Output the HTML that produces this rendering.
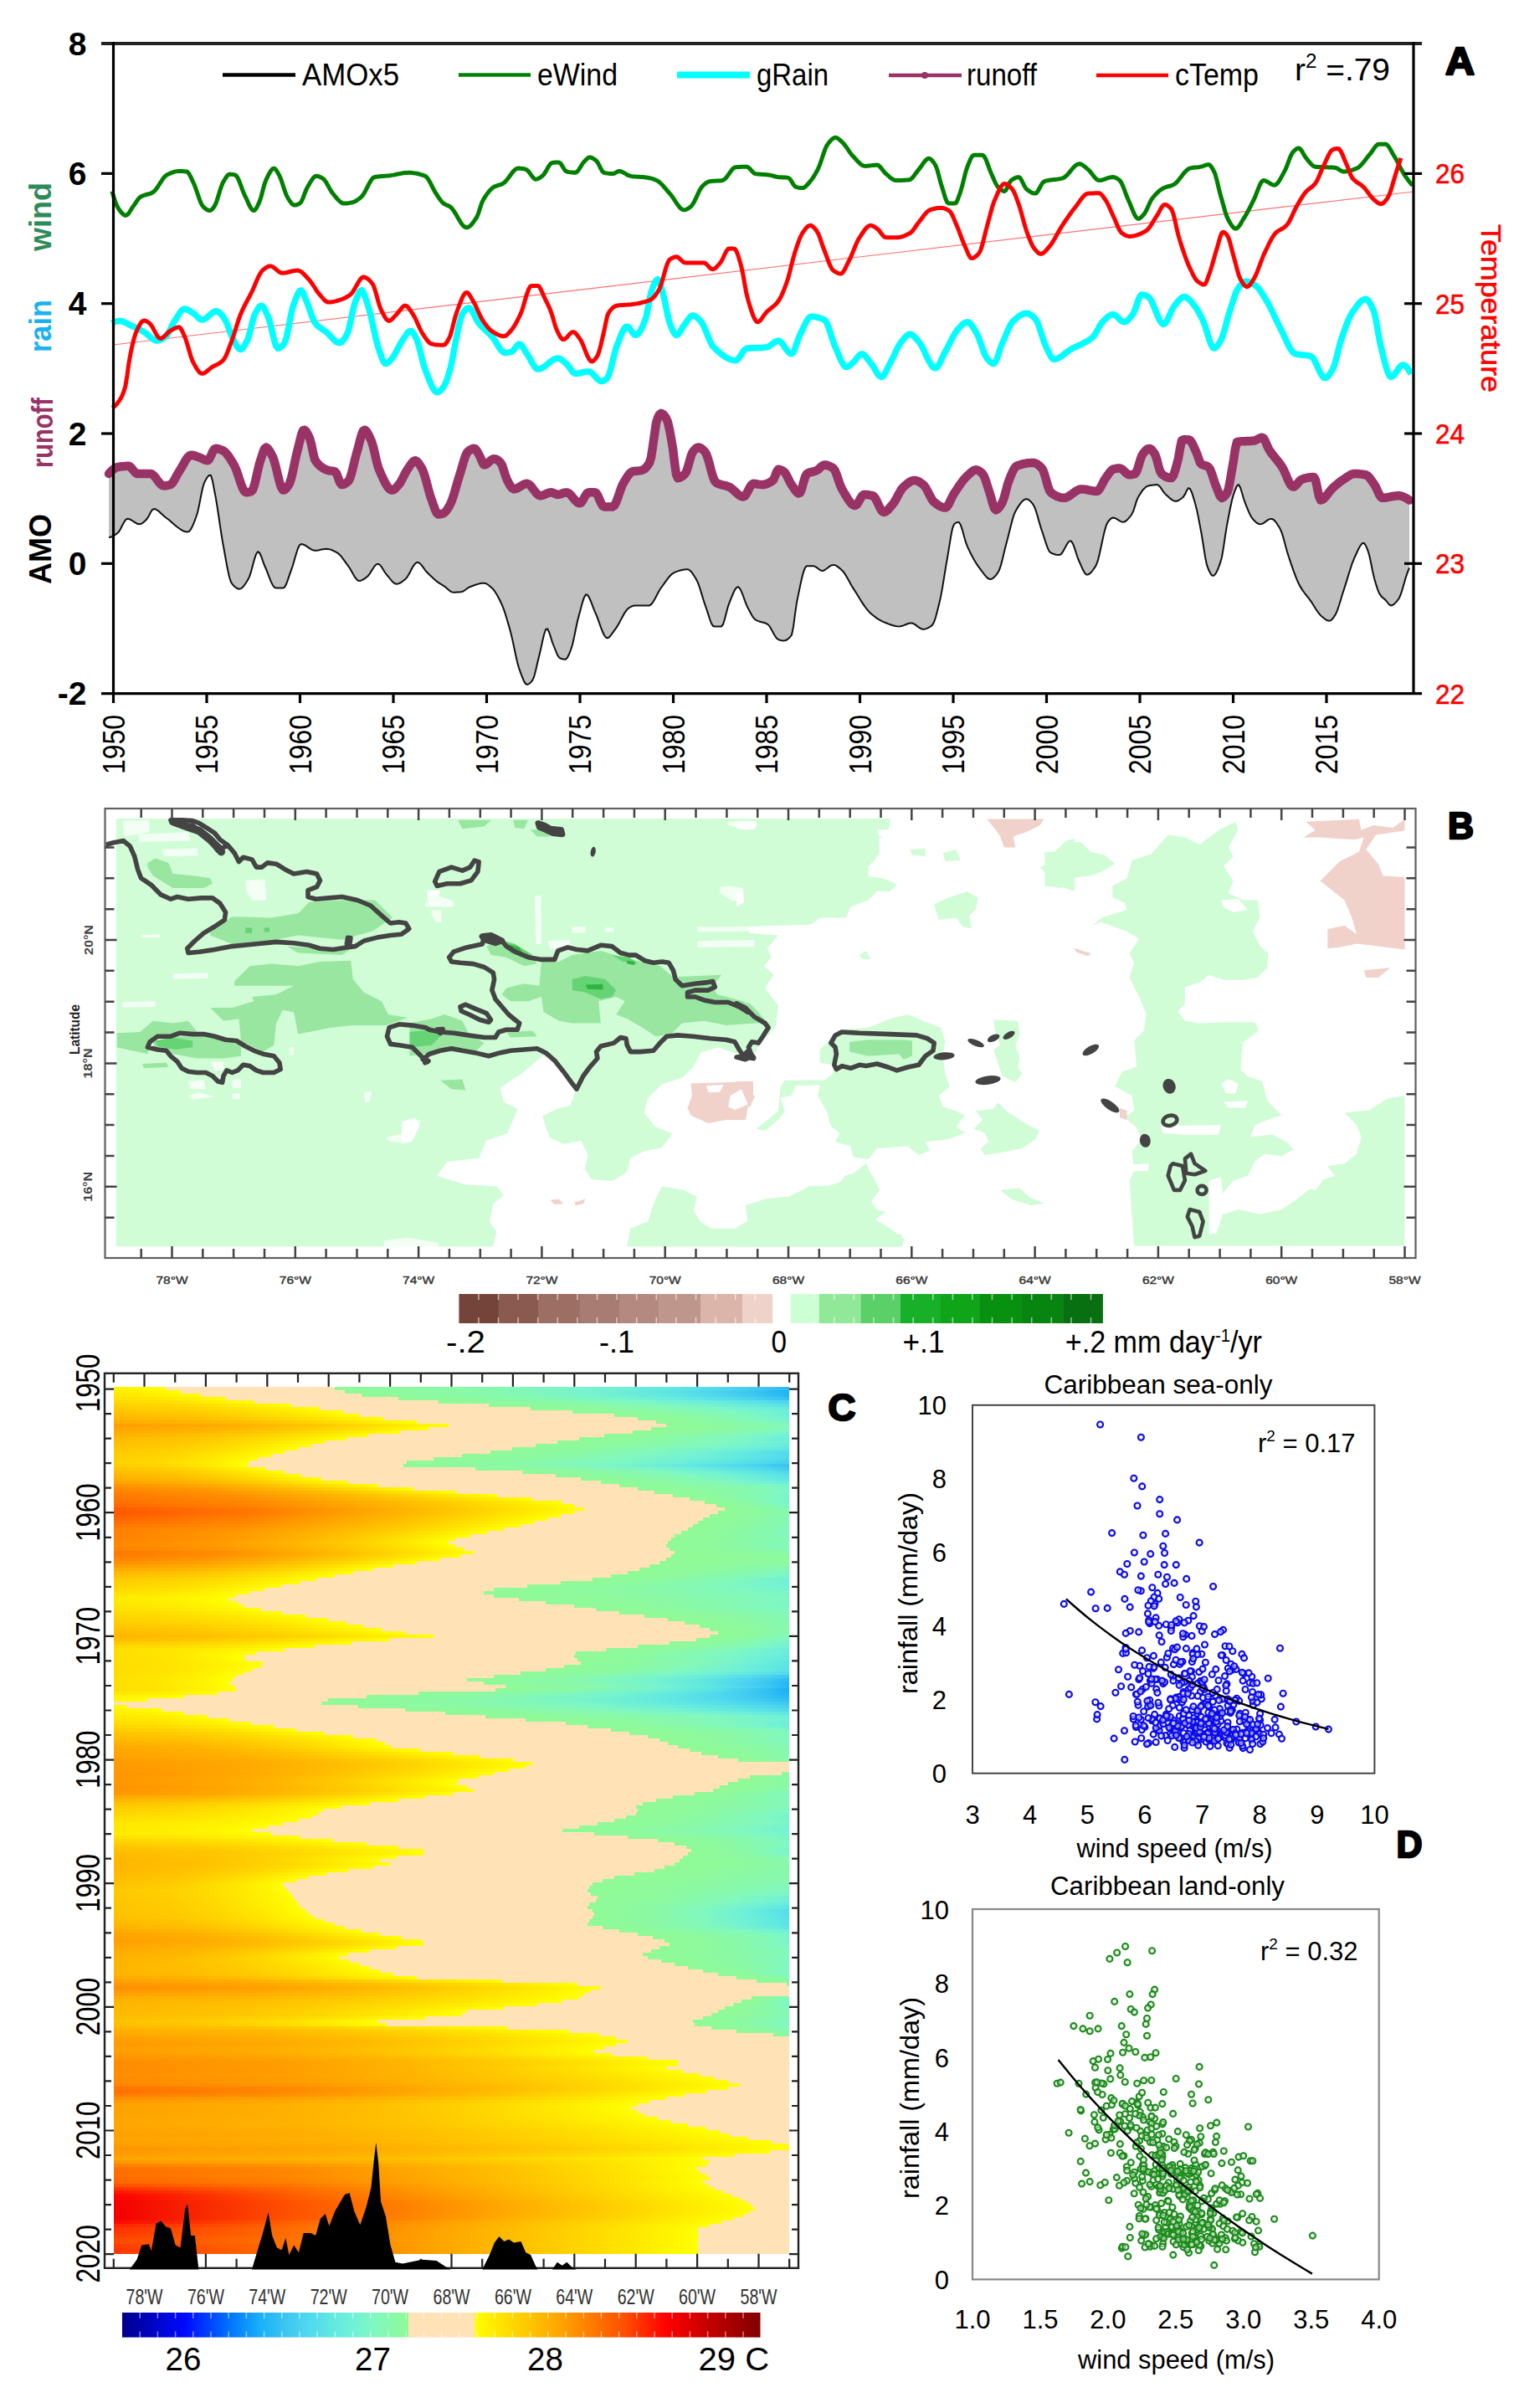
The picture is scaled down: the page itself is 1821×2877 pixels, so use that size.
<!DOCTYPE html>
<html><head><meta charset="utf-8"><title>Figure</title>
<style>html,body{margin:0;padding:0;background:#fff}svg{display:block}text{font-family:'Liberation Sans', Arial, sans-serif}</style></head>
<body><svg width="1821" height="2877" viewBox="0 0 1821 2877">
<rect width="1821" height="2877" fill="#fff"/>
<path d="M130 566 L132 563.9 L134 562 L136 560.3 L138 559 L140 558.2 L142 557.8 L144 557.5 L146 557.3 L148 557.1 L150 556.9 L152 556.8 L154 556.8 L156 558 L158 560.3 L160 562.8 L162 565 L164 566 L166 566 L168 566 L170 566 L172 566 L174 566 L176 566 L178 566 L180 566 L182 566.7 L184 568.4 L186 570.8 L188 573.6 L190 576.2 L192 578.5 L194 580 L196 580.4 L198 580.3 L200 580 L202 579.5 L204 578.9 L206 577.1 L208 574 L210 570.4 L212 566.6 L214 563.3 L216 560.2 L218 556.7 L220 553 L222 549.6 L224 546.7 L226 544.7 L228 543.7 L230 543.8 L232 544.3 L234 545 L236 545.7 L238 546.4 L240 547.3 L242 548.3 L244 549.2 L246 549.9 L248 550.2 L250 548.7 L252 544.7 L254 540 L256 536.6 L258 535.8 L260 536.1 L262 536.6 L264 537.4 L266 538.2 L268 539.3 L270 541.2 L272 543.6 L274 546.4 L276 549.5 L278 552.8 L280 556.2 L282 560.6 L284 566.3 L286 572.4 L288 578.3 L290 583.4 L292 586.9 L294 588.3 L296 588.2 L298 587.8 L300 587.2 L302 585.3 L304 579.5 L306 571.2 L308 562.1 L310 553.8 L312 547.6 L314 541.2 L316 536.1 L318 534.5 L320 535.8 L322 538.6 L324 542.1 L326 545.9 L328 551.7 L330 559.4 L332 567.9 L334 575.8 L336 582.1 L338 585.4 L340 585.3 L342 583.6 L344 580.9 L346 577.6 L348 571.5 L350 563 L352 553.4 L354 544 L356 536.1 L358 527.9 L360 519.8 L362 514.4 L364 513.8 L366 515.8 L368 519.4 L370 523.6 L372 530.6 L374 540.6 L376 548.7 L378 551.9 L380 554.3 L382 556.3 L384 557.9 L386 559.3 L388 560.4 L390 561.3 L392 561.9 L394 562.4 L396 562.6 L398 562.8 L400 563.3 L402 565.5 L404 570.7 L406 576.2 L408 579.1 L410 578.9 L412 578 L414 576.8 L416 575.2 L418 571.9 L420 565.7 L422 557.8 L424 549.4 L426 541.7 L428 534.7 L430 526.7 L432 519.4 L434 514.5 L436 513.7 L438 515.5 L440 518.8 L442 523 L444 527.4 L446 534 L448 542.5 L450 551.2 L452 558.5 L454 563.4 L456 568 L458 572.4 L460 576.4 L462 579.9 L464 582.7 L466 584.7 L468 585.6 L470 585.3 L472 584 L474 581.9 L476 579.6 L478 577.1 L480 573.6 L482 569.7 L484 565.7 L486 562.2 L488 559.2 L490 556.2 L492 553.3 L494 551.2 L496 550.2 L498 551 L500 553.1 L502 556.1 L504 559.4 L506 563.9 L508 570.1 L510 577.4 L512 585 L514 592.1 L516 597.9 L518 603.6 L520 609.1 L522 613.2 L524 614.5 L526 614.3 L528 613.9 L530 613.2 L532 611.8 L534 609.3 L536 606.1 L538 602.5 L540 597.9 L542 592 L544 585.3 L546 578.2 L548 571.3 L550 565 L552 558.3 L554 551.3 L556 545.1 L558 540.8 L560 538.8 L562 537.4 L564 536.4 L566 535.8 L568 536.4 L570 539 L572 542.6 L574 546.4 L576 551.5 L578 555.2 L580 555.2 L582 554 L584 552.2 L586 550.4 L588 548.9 L590 548.2 L592 548.4 L594 549.3 L596 550.8 L598 552.6 L600 556 L602 562 L604 568.5 L606 573.6 L608 577.3 L610 580.8 L612 583.4 L614 584.4 L616 584.1 L618 583.3 L620 582.2 L622 581 L624 579.8 L626 578.7 L628 578 L630 577.8 L632 578.6 L634 580.4 L636 582.8 L638 585.5 L640 588.2 L642 590.4 L644 591.9 L646 592.2 L648 591.9 L650 591.2 L652 590.3 L654 589.4 L656 588.7 L658 588.3 L660 588.5 L662 589.3 L664 590.3 L666 590.9 L668 590.8 L670 590.2 L672 589.5 L674 588.8 L676 588.4 L678 588.5 L680 589.6 L682 591.4 L684 593.8 L686 596.3 L688 598.6 L690 600.4 L692 601.3 L694 600.9 L696 598.4 L698 594.8 L700 591.3 L702 588.8 L704 588.3 L706 588.3 L708 588.3 L710 588.3 L712 588.6 L714 591.5 L716 596 L718 600.7 L720 604.3 L722 605.4 L724 605.4 L726 605.4 L728 605.4 L730 605.4 L732 605.4 L734 604.1 L736 600.5 L738 595.4 L740 589.5 L742 583.7 L744 578.8 L746 575.2 L748 572 L750 568.8 L752 566.1 L754 564.2 L756 563.3 L758 563 L760 562.8 L762 562.6 L764 562.4 L766 562.1 L768 561.4 L770 560.3 L772 558.5 L774 556 L776 552.9 L778 546.6 L780 533.5 L782 519.4 L784 505.4 L786 499.2 L788 495.2 L790 493.8 L792 494.7 L794 496.8 L796 499.7 L798 504.6 L800 513.4 L802 524.1 L804 535.9 L806 552.4 L808 566.9 L810 571.2 L812 570.8 L814 569.8 L816 568.4 L818 566.7 L820 563.9 L822 557.9 L824 550.6 L826 543.8 L828 539.6 L830 537.3 L832 535.5 L834 534.5 L836 534.8 L838 535.8 L840 537.4 L842 539.4 L844 542.5 L846 548.2 L848 555.4 L850 562.9 L852 569.7 L854 574.7 L856 576.8 L858 577.8 L860 578.5 L862 579.1 L864 579.6 L866 580 L868 580.6 L870 581.2 L872 582.1 L874 583.5 L876 585.1 L878 587 L880 588.8 L882 590.6 L884 592.1 L886 593.1 L888 593.5 L890 592.6 L892 589.8 L894 586 L896 582.1 L898 579.1 L900 577.8 L902 577.9 L904 578.2 L906 578.6 L908 578.9 L910 579.1 L912 579 L914 578.7 L916 578.1 L918 577.3 L920 576.3 L922 575 L924 573.6 L926 569.2 L928 563.5 L930 560.7 L932 561.1 L934 561.9 L936 563 L938 564.8 L940 568.1 L942 572.1 L944 576.2 L946 579.5 L948 582.5 L950 585.5 L952 588 L954 589.4 L956 588.8 L958 583.9 L960 576.7 L962 569.9 L964 566.1 L966 565 L968 564.3 L970 563.8 L972 563.3 L974 562.8 L976 562 L978 560.6 L980 558.7 L982 556.9 L984 555.7 L986 555.5 L988 555.8 L990 556.5 L992 557.3 L994 558.4 L996 559.7 L998 562.9 L1000 568 L1002 574 L1004 579.7 L1006 584.2 L1008 587.6 L1010 591 L1012 594.4 L1014 597.5 L1016 600.2 L1018 602.3 L1020 603.6 L1022 604 L1024 602.6 L1026 599.5 L1028 595.8 L1030 592.6 L1032 591 L1034 591 L1036 591.1 L1038 591.3 L1040 591.7 L1042 592 L1044 592.9 L1046 595.5 L1048 599.3 L1050 603.7 L1052 607.8 L1054 610.8 L1056 611.9 L1058 611.4 L1060 610 L1062 608 L1064 605.6 L1066 603.3 L1068 600.8 L1070 597.5 L1072 593.8 L1074 590 L1076 586.5 L1078 583.5 L1080 581.4 L1082 579.6 L1084 578 L1086 576.5 L1088 575.2 L1090 574.3 L1092 573.9 L1094 574 L1096 574.5 L1098 575.5 L1100 576.8 L1102 578.2 L1104 579.8 L1106 582.5 L1108 586 L1110 590 L1112 593.9 L1114 597.4 L1116 599.8 L1118 601.3 L1120 602.8 L1122 604.1 L1124 605.2 L1126 606 L1128 606.5 L1130 606.6 L1132 604.9 L1134 601.5 L1136 597.4 L1138 593.1 L1140 589.6 L1142 586.6 L1144 583.6 L1146 580.6 L1148 577.8 L1150 575 L1152 572.5 L1154 570.3 L1156 568.4 L1158 566.5 L1160 564.6 L1162 563 L1164 561.8 L1166 561.3 L1168 561.6 L1170 562.6 L1172 564.1 L1174 565.9 L1176 569.2 L1178 574.6 L1180 581 L1182 587.1 L1184 593.7 L1186 601.2 L1188 607.1 L1190 609.3 L1192 608.3 L1194 606.1 L1196 603 L1198 599.6 L1200 593.9 L1202 586.3 L1204 578.6 L1206 572.9 L1208 568 L1210 563.4 L1212 559.7 L1214 557.3 L1216 556.3 L1218 555.6 L1220 555 L1222 554.4 L1224 554 L1226 553.6 L1228 553.3 L1230 553.1 L1232 552.9 L1234 552.9 L1236 553 L1238 553.8 L1240 555 L1242 556.6 L1244 558.5 L1246 561 L1248 566.4 L1250 573.4 L1252 580.6 L1254 586.1 L1256 588.7 L1258 590.1 L1260 591.4 L1262 592.5 L1264 593.4 L1266 594.1 L1268 594.5 L1270 594.8 L1272 594.8 L1274 594.3 L1276 593.5 L1278 592.3 L1280 590.9 L1282 589.4 L1284 587.9 L1286 586.6 L1288 585.5 L1290 584.7 L1292 584.4 L1294 584.4 L1296 584.6 L1298 585 L1300 585.4 L1302 585.8 L1304 586.2 L1306 586.6 L1308 586.8 L1310 587 L1312 586.4 L1314 584 L1316 580.5 L1318 576.5 L1320 572.8 L1322 570 L1324 567 L1326 564.2 L1328 562 L1330 560.7 L1332 560.2 L1334 559.8 L1336 559.5 L1338 559.4 L1340 560.1 L1342 561.6 L1344 563.6 L1346 565.5 L1348 566.9 L1350 567.3 L1352 567.1 L1354 566.7 L1356 566.1 L1358 563.7 L1360 558 L1362 551.2 L1364 545.1 L1366 541.7 L1368 539.3 L1370 537.3 L1372 536.1 L1374 535.9 L1376 537.2 L1378 539.7 L1380 542.6 L1382 547.9 L1384 555.6 L1386 562.6 L1388 566.2 L1390 567.7 L1392 569 L1394 570 L1396 570.7 L1398 571.1 L1400 571.1 L1402 568.2 L1404 562.5 L1406 555.4 L1408 547.8 L1410 535.8 L1412 526.2 L1414 525.3 L1416 525.3 L1418 525.3 L1420 525.3 L1422 526 L1424 528.6 L1426 532.6 L1428 537.2 L1430 541.6 L1432 547.3 L1434 552.8 L1436 554.9 L1438 555.7 L1440 556.3 L1442 556.9 L1444 558 L1446 560.8 L1448 565.9 L1450 572.1 L1452 578.3 L1454 583.2 L1456 588.5 L1458 593 L1460 594.9 L1462 594 L1464 592 L1466 589.1 L1468 583.7 L1470 573.3 L1472 561.3 L1474 549.8 L1476 536.3 L1478 528.1 L1480 527.7 L1482 527.5 L1484 527.3 L1486 527.2 L1488 527.2 L1490 527.1 L1492 527.1 L1494 527 L1496 526.8 L1498 526.6 L1500 526.1 L1502 525.1 L1504 524.1 L1506 523.2 L1508 522.7 L1510 523.7 L1512 527.4 L1514 532.2 L1516 536.5 L1518 539.6 L1520 542.4 L1522 544.9 L1524 547.4 L1526 549.9 L1528 552.4 L1530 555 L1532 558 L1534 561.6 L1536 566.1 L1538 570.9 L1540 575.4 L1542 579.1 L1544 581.3 L1546 581.6 L1548 580.3 L1550 578.1 L1552 575.7 L1554 573.6 L1556 572.5 L1558 571.9 L1560 571.3 L1562 570.9 L1564 570.5 L1566 570.2 L1568 570 L1570 569.9 L1572 573.7 L1574 583.2 L1576 592.9 L1578 597.5 L1580 597 L1582 595.5 L1584 593.4 L1586 590.9 L1588 588.2 L1590 585.7 L1592 583.5 L1594 581.7 L1596 579.9 L1598 578.2 L1600 576.6 L1602 575 L1604 573.6 L1606 572.3 L1608 571 L1610 569.6 L1612 568.3 L1614 567.2 L1616 566.4 L1618 566 L1620 566 L1622 566.1 L1624 566.2 L1626 566.4 L1628 566.7 L1630 567 L1632 567.3 L1634 568.4 L1636 570.3 L1638 572.9 L1640 575.8 L1642 578.6 L1644 582 L1646 586.4 L1648 590.8 L1650 594 L1652 594.9 L1654 594.7 L1656 594.5 L1658 594.2 L1660 593.8 L1662 593.4 L1664 593 L1666 592.7 L1668 592.4 L1670 592.3 L1672 592.3 L1674 592.6 L1676 593.2 L1678 594 L1680 595.1 L1682 596.3 L1684 597.6 L1684 678.5 L1682 683.3 L1680 689.1 L1678 696 L1676 703.1 L1674 709.5 L1672 714.3 L1670 717.2 L1668 719.6 L1666 721.6 L1664 723 L1662 723.5 L1660 722.4 L1658 720 L1656 717.5 L1654 715.6 L1652 713.9 L1650 711.8 L1648 708.8 L1646 703.8 L1644 697.6 L1642 690.8 L1640 682 L1638 672 L1636 662.8 L1634 656.7 L1632 652 L1630 649 L1628 649 L1626 651.1 L1624 654.4 L1622 658.5 L1620 663 L1618 667.3 L1616 672.3 L1614 678.2 L1612 684.5 L1610 691.1 L1608 697.6 L1606 703.9 L1604 710 L1602 716.7 L1600 723.2 L1598 729.1 L1596 733.8 L1594 736.8 L1592 739.5 L1590 741.4 L1588 741.8 L1586 741.3 L1584 740.2 L1582 738.7 L1580 737.1 L1578 735.4 L1576 733 L1574 730.2 L1572 727.2 L1570 724 L1568 720.8 L1566 717.9 L1564 715.2 L1562 712.7 L1560 710.2 L1558 707.5 L1556 704.6 L1554 701.4 L1552 697.7 L1550 693.4 L1548 688.4 L1546 683.1 L1544 677.4 L1542 671.6 L1540 665.8 L1538 659.3 L1536 651.9 L1534 644.4 L1532 637.7 L1530 632.6 L1528 629.1 L1526 626 L1524 623.2 L1522 621.1 L1520 620 L1518 619.9 L1516 620.6 L1514 621.9 L1512 623.4 L1510 624.8 L1508 625.9 L1506 626.3 L1504 626 L1502 624.9 L1500 623.2 L1498 621.2 L1496 619 L1494 615.6 L1492 611.3 L1490 606.4 L1488 601.4 L1486 595.8 L1484 588.8 L1482 582.5 L1480 579.2 L1478 580.5 L1476 585.1 L1474 590.6 L1472 597.8 L1470 607 L1468 617.2 L1466 627.6 L1464 640.2 L1462 653.8 L1460 665.5 L1458 672.7 L1456 678.1 L1454 682.8 L1452 686.2 L1450 687.9 L1448 687.4 L1446 684.5 L1444 680.3 L1442 674.9 L1440 665.1 L1438 652.5 L1436 639.9 L1434 629.1 L1432 618.5 L1430 608.9 L1428 601.3 L1426 594.4 L1424 588.2 L1422 584.1 L1420 583.2 L1418 586 L1416 590.4 L1414 593.5 L1412 595.2 L1410 596.8 L1408 598 L1406 598.7 L1404 598.7 L1402 598.1 L1400 596.9 L1398 595.4 L1396 593.6 L1394 591.8 L1392 589.9 L1390 587.3 L1388 584.3 L1386 581.5 L1384 579.6 L1382 579.1 L1380 579.2 L1378 579.4 L1376 579.7 L1374 580 L1372 580.4 L1370 581.3 L1368 582.9 L1366 585 L1364 587.7 L1362 590.7 L1360 593.9 L1358 598.7 L1356 605.1 L1354 611.1 L1352 615 L1350 617.6 L1348 619.9 L1346 621.9 L1344 623.2 L1342 623.7 L1340 623.4 L1338 622.4 L1336 621.2 L1334 619.9 L1332 618.9 L1330 618.5 L1328 619.2 L1326 621 L1324 623.4 L1322 627.1 L1320 633.8 L1318 642.4 L1316 651.8 L1314 661 L1312 669.1 L1310 674.9 L1308 678.1 L1306 681 L1304 683.5 L1302 685.4 L1300 686.5 L1298 686.5 L1296 684.5 L1294 680.8 L1292 676.3 L1290 671.8 L1288 667.2 L1286 661.2 L1284 654.9 L1282 649.6 L1280 646.4 L1278 646.4 L1276 648.4 L1274 651.7 L1272 655.6 L1270 659.2 L1268 662 L1266 663.1 L1264 663 L1262 662.7 L1260 662.2 L1258 661.5 L1256 660.7 L1254 659.1 L1252 655.2 L1250 649.7 L1248 643.5 L1246 637.2 L1244 631.4 L1242 624.7 L1240 617.6 L1238 610.9 L1236 605.5 L1234 602.1 L1232 599.7 L1230 597.7 L1228 596.5 L1226 596.2 L1224 596.9 L1222 598.4 L1220 600.6 L1218 603.3 L1216 606.4 L1214 609.7 L1212 613.8 L1210 619.9 L1208 627.5 L1206 635.6 L1204 643.6 L1202 650.9 L1200 659 L1198 667.4 L1196 675.1 L1194 681.1 L1192 684.7 L1190 687.3 L1188 689.5 L1186 691.1 L1184 691.9 L1182 691.7 L1180 690.6 L1178 688.6 L1176 686.2 L1174 683.5 L1172 680.8 L1170 678.2 L1168 675.4 L1166 672.3 L1164 668.9 L1162 665.3 L1160 661.5 L1158 657.4 L1156 653.2 L1154 647.9 L1152 640.9 L1150 633.6 L1148 627.5 L1146 624.1 L1144 623.9 L1142 624.8 L1140 626.3 L1138 631.5 L1136 641.9 L1134 654.4 L1132 666.3 L1130 677.8 L1128 690.3 L1126 702.6 L1124 713.4 L1122 722 L1120 730.1 L1118 737.5 L1116 743.3 L1114 746.8 L1112 748.4 L1110 749.7 L1108 750.7 L1106 751.4 L1104 751.8 L1102 751.7 L1100 750.9 L1098 749.6 L1096 748.1 L1094 746.6 L1092 745.4 L1090 744.6 L1088 744.5 L1086 744.8 L1084 745.5 L1082 746.3 L1080 747.1 L1078 747.8 L1076 748.3 L1074 748.4 L1072 748.3 L1070 748 L1068 747.5 L1066 747 L1064 746.3 L1062 745.6 L1060 744.8 L1058 744 L1056 743.2 L1054 742.3 L1052 741.2 L1050 740.1 L1048 738.8 L1046 737.4 L1044 735.8 L1042 734.2 L1040 732.4 L1038 730.4 L1036 728.1 L1034 725.5 L1032 722.6 L1030 719.6 L1028 716.5 L1026 713.2 L1024 710 L1022 706.8 L1020 703.6 L1018 700.5 L1016 697 L1014 693.3 L1012 689.7 L1010 686.4 L1008 683.5 L1006 681.4 L1004 679.6 L1002 677.9 L1000 676.4 L998 675.4 L996 674.9 L994 675.2 L992 676.2 L990 677.7 L988 679.3 L986 680.7 L984 681.7 L982 682 L980 681.2 L978 679.7 L976 678.1 L974 676.8 L972 676.2 L970 676.2 L968 676.2 L966 676.2 L964 676.2 L962 678.3 L960 683.6 L958 691.3 L956 700.4 L954 710.1 L952 719.8 L950 733.6 L948 748.9 L946 758.5 L944 761.1 L942 763 L940 764.5 L938 765.3 L936 765.4 L934 765.2 L932 764.8 L930 764.1 L928 762.6 L926 759.8 L924 756.2 L922 752.4 L920 749 L918 746.4 L916 745.2 L914 744.3 L912 743.7 L910 743.2 L908 742.7 L906 742.1 L904 741.2 L902 740 L900 737.7 L898 734.5 L896 730.7 L894 727 L892 722.9 L890 717.7 L888 712 L886 706.9 L884 703 L882 701.2 L880 702 L878 704.8 L876 709 L874 713.9 L872 718.9 L870 724.3 L868 731.7 L866 739.6 L864 745.9 L862 748.4 L860 748.4 L858 748.4 L856 748.4 L854 748.4 L852 748.1 L850 744.9 L848 739.5 L846 733.1 L844 727 L842 721.4 L840 715 L838 708.4 L836 702 L834 696.4 L832 692.2 L830 689 L828 685.9 L826 683.2 L824 681.2 L822 680.2 L820 680.2 L818 680.4 L816 680.7 L814 681.2 L812 681.7 L810 682.4 L808 683.1 L806 683.9 L804 685 L802 686.6 L800 688.7 L798 691.2 L796 693.9 L794 696.7 L792 699.5 L790 702.3 L788 705.2 L786 708.8 L784 712.7 L782 716.4 L780 719.7 L778 722.2 L776 723.4 L774 723.5 L772 723.5 L770 723.5 L768 723.5 L766 723.5 L764 723.5 L762 723.5 L760 723.5 L758 723.5 L756 723.9 L754 724.8 L752 726 L750 727.5 L748 729.9 L746 732.9 L744 736.4 L742 740.1 L740 743.9 L738 747.4 L736 750.6 L734 753.3 L732 756.1 L730 758.9 L728 761.1 L726 762.3 L724 761.6 L722 759 L720 754.8 L718 749.7 L716 744 L714 738.4 L712 733.3 L710 728.9 L708 723.7 L706 718.5 L704 714 L702 711 L700 710.5 L698 713.7 L696 719.6 L694 727 L692 734.5 L690 742.1 L688 751.5 L686 761.4 L684 770.2 L682 776.5 L680 781.5 L678 785.7 L676 787.7 L674 787.7 L672 787.3 L670 786.8 L668 785.6 L666 782.3 L664 777.5 L662 772.5 L660 767.5 L658 761 L656 754.9 L654 751.3 L652 752.3 L650 758.2 L648 766.8 L646 776.2 L644 784.5 L642 792.8 L640 801.6 L638 808.9 L636 813.1 L634 815.4 L632 817.2 L630 817.9 L628 816.9 L626 813.7 L624 809 L622 803.6 L620 798 L618 790.7 L616 781.8 L614 772.2 L612 762.9 L610 754.8 L608 747.6 L606 740.7 L604 734.1 L602 728.2 L600 723.2 L598 718.8 L596 714.7 L594 711 L592 707.7 L590 704.9 L588 702.7 L586 700.9 L584 699.2 L582 697.8 L580 696.9 L578 696.7 L576 696.8 L574 697.1 L572 697.6 L570 698.1 L568 698.8 L566 699.5 L564 700.2 L562 701 L560 701.9 L558 703.2 L556 704.7 L554 706.1 L552 707 L550 707.3 L548 707.5 L546 707.6 L544 707.7 L542 707.7 L540 707.4 L538 706.3 L536 704.8 L534 703.1 L532 701.3 L530 699.8 L528 698.6 L526 697.4 L524 696.1 L522 694.6 L520 693 L518 691.2 L516 689.3 L514 687.4 L512 685.5 L510 683.5 L508 681.1 L506 678.3 L504 675.6 L502 673.4 L500 672 L498 671.9 L496 673.4 L494 676.1 L492 679.6 L490 683.5 L488 687.1 L486 690.2 L484 692.2 L482 693.8 L480 695.3 L478 696.5 L476 697.4 L474 697.7 L472 697.3 L470 695.9 L468 693.9 L466 691.5 L464 689 L462 686.7 L460 684 L458 680.8 L456 677.5 L454 675 L452 673.7 L450 674.1 L448 675.9 L446 678.7 L444 681.9 L442 685.1 L440 687.8 L438 689.6 L436 691.1 L434 692.4 L432 693.4 L430 694 L428 693.8 L426 692.1 L424 689.4 L422 686.1 L420 682.5 L418 679 L416 676.1 L414 673.4 L412 670.6 L410 667.8 L408 665.2 L406 662.9 L404 661.1 L402 659.9 L400 658.9 L398 657.9 L396 657 L394 656.4 L392 655.9 L390 655.7 L388 655.9 L386 656.2 L384 656.6 L382 657.1 L380 657.5 L378 657.8 L376 657.8 L374 657.3 L372 656.4 L370 655.1 L368 653.8 L366 652.4 L364 651.2 L362 650.4 L360 650 L358 651.2 L356 655.2 L354 661.3 L352 668.2 L350 675.2 L348 681.1 L346 686.6 L344 692.6 L342 698.1 L340 701.7 L338 702.5 L336 702.5 L334 702.5 L332 702.5 L330 702.5 L328 701.9 L326 699.3 L324 695.4 L322 690.4 L320 685.1 L318 680 L316 675.5 L314 670.2 L312 664.5 L310 660.3 L308 659.3 L306 662.2 L304 668.1 L302 675.4 L300 682.9 L298 689.1 L296 693 L294 696.2 L292 699.2 L290 701.6 L288 703.2 L286 703.8 L284 703.3 L282 702.2 L280 700.5 L278 698.4 L276 695.5 L274 689.3 L272 680.3 L270 669.6 L268 658.3 L266 647.3 L264 635 L262 621.5 L260 608 L258 595.9 L256 585.3 L254 574.7 L252 567.9 L250 567.7 L248 569.8 L246 573 L244 576.8 L242 583.5 L240 593.2 L238 603.6 L236 612.6 L234 618.5 L232 623.8 L230 628.6 L228 632.5 L226 634.9 L224 635.5 L222 635.3 L220 634.7 L218 633.8 L216 632.6 L214 631.3 L212 629.8 L210 628.2 L208 626.5 L206 624.7 L204 623 L202 621.3 L200 619.8 L198 618.3 L196 616.7 L194 614.8 L192 612.9 L190 611.1 L188 609.5 L186 608.4 L184 608 L182 609 L180 612 L178 615.9 L176 619.4 L174 621.7 L172 623.5 L170 625.1 L168 626.1 L166 626.3 L164 625.7 L162 624.7 L160 623.4 L158 622 L156 620.9 L154 620 L152 619.8 L150 621.2 L148 624.2 L146 628 L144 632 L142 635.3 L140 637.2 L138 638.6 L136 639.9 L134 641 L132 641.8 L130 642.1Z" fill="#c0c0c0"/>
<path d="M130 642.1 L132 641.8 L134 641 L136 639.9 L138 638.6 L140 637.2 L142 635.3 L144 632 L146 628 L148 624.2 L150 621.2 L152 619.8 L154 620 L156 620.9 L158 622 L160 623.4 L162 624.7 L164 625.7 L166 626.3 L168 626.1 L170 625.1 L172 623.5 L174 621.7 L176 619.4 L178 615.9 L180 612 L182 609 L184 608 L186 608.4 L188 609.5 L190 611.1 L192 612.9 L194 614.8 L196 616.7 L198 618.3 L200 619.8 L202 621.3 L204 623 L206 624.7 L208 626.5 L210 628.2 L212 629.8 L214 631.3 L216 632.6 L218 633.8 L220 634.7 L222 635.3 L224 635.5 L226 634.9 L228 632.5 L230 628.6 L232 623.8 L234 618.5 L236 612.6 L238 603.6 L240 593.2 L242 583.5 L244 576.8 L246 573 L248 569.8 L250 567.7 L252 567.9 L254 574.7 L256 585.3 L258 595.9 L260 608 L262 621.5 L264 635 L266 647.3 L268 658.3 L270 669.6 L272 680.3 L274 689.3 L276 695.5 L278 698.4 L280 700.5 L282 702.2 L284 703.3 L286 703.8 L288 703.2 L290 701.6 L292 699.2 L294 696.2 L296 693 L298 689.1 L300 682.9 L302 675.4 L304 668.1 L306 662.2 L308 659.3 L310 660.3 L312 664.5 L314 670.2 L316 675.5 L318 680 L320 685.1 L322 690.4 L324 695.4 L326 699.3 L328 701.9 L330 702.5 L332 702.5 L334 702.5 L336 702.5 L338 702.5 L340 701.7 L342 698.1 L344 692.6 L346 686.6 L348 681.1 L350 675.2 L352 668.2 L354 661.3 L356 655.2 L358 651.2 L360 650 L362 650.4 L364 651.2 L366 652.4 L368 653.8 L370 655.1 L372 656.4 L374 657.3 L376 657.8 L378 657.8 L380 657.5 L382 657.1 L384 656.6 L386 656.2 L388 655.9 L390 655.7 L392 655.9 L394 656.4 L396 657 L398 657.9 L400 658.9 L402 659.9 L404 661.1 L406 662.9 L408 665.2 L410 667.8 L412 670.6 L414 673.4 L416 676.1 L418 679 L420 682.5 L422 686.1 L424 689.4 L426 692.1 L428 693.8 L430 694 L432 693.4 L434 692.4 L436 691.1 L438 689.6 L440 687.8 L442 685.1 L444 681.9 L446 678.7 L448 675.9 L450 674.1 L452 673.7 L454 675 L456 677.5 L458 680.8 L460 684 L462 686.7 L464 689 L466 691.5 L468 693.9 L470 695.9 L472 697.3 L474 697.7 L476 697.4 L478 696.5 L480 695.3 L482 693.8 L484 692.2 L486 690.2 L488 687.1 L490 683.5 L492 679.6 L494 676.1 L496 673.4 L498 671.9 L500 672 L502 673.4 L504 675.6 L506 678.3 L508 681.1 L510 683.5 L512 685.5 L514 687.4 L516 689.3 L518 691.2 L520 693 L522 694.6 L524 696.1 L526 697.4 L528 698.6 L530 699.8 L532 701.3 L534 703.1 L536 704.8 L538 706.3 L540 707.4 L542 707.7 L544 707.7 L546 707.6 L548 707.5 L550 707.3 L552 707 L554 706.1 L556 704.7 L558 703.2 L560 701.9 L562 701 L564 700.2 L566 699.5 L568 698.8 L570 698.1 L572 697.6 L574 697.1 L576 696.8 L578 696.7 L580 696.9 L582 697.8 L584 699.2 L586 700.9 L588 702.7 L590 704.9 L592 707.7 L594 711 L596 714.7 L598 718.8 L600 723.2 L602 728.2 L604 734.1 L606 740.7 L608 747.6 L610 754.8 L612 762.9 L614 772.2 L616 781.8 L618 790.7 L620 798 L622 803.6 L624 809 L626 813.7 L628 816.9 L630 817.9 L632 817.2 L634 815.4 L636 813.1 L638 808.9 L640 801.6 L642 792.8 L644 784.5 L646 776.2 L648 766.8 L650 758.2 L652 752.3 L654 751.3 L656 754.9 L658 761 L660 767.5 L662 772.5 L664 777.5 L666 782.3 L668 785.6 L670 786.8 L672 787.3 L674 787.7 L676 787.7 L678 785.7 L680 781.5 L682 776.5 L684 770.2 L686 761.4 L688 751.5 L690 742.1 L692 734.5 L694 727 L696 719.6 L698 713.7 L700 710.5 L702 711 L704 714 L706 718.5 L708 723.7 L710 728.9 L712 733.3 L714 738.4 L716 744 L718 749.7 L720 754.8 L722 759 L724 761.6 L726 762.3 L728 761.1 L730 758.9 L732 756.1 L734 753.3 L736 750.6 L738 747.4 L740 743.9 L742 740.1 L744 736.4 L746 732.9 L748 729.9 L750 727.5 L752 726 L754 724.8 L756 723.9 L758 723.5 L760 723.5 L762 723.5 L764 723.5 L766 723.5 L768 723.5 L770 723.5 L772 723.5 L774 723.5 L776 723.4 L778 722.2 L780 719.7 L782 716.4 L784 712.7 L786 708.8 L788 705.2 L790 702.3 L792 699.5 L794 696.7 L796 693.9 L798 691.2 L800 688.7 L802 686.6 L804 685 L806 683.9 L808 683.1 L810 682.4 L812 681.7 L814 681.2 L816 680.7 L818 680.4 L820 680.2 L822 680.2 L824 681.2 L826 683.2 L828 685.9 L830 689 L832 692.2 L834 696.4 L836 702 L838 708.4 L840 715 L842 721.4 L844 727 L846 733.1 L848 739.5 L850 744.9 L852 748.1 L854 748.4 L856 748.4 L858 748.4 L860 748.4 L862 748.4 L864 745.9 L866 739.6 L868 731.7 L870 724.3 L872 718.9 L874 713.9 L876 709 L878 704.8 L880 702 L882 701.2 L884 703 L886 706.9 L888 712 L890 717.7 L892 722.9 L894 727 L896 730.7 L898 734.5 L900 737.7 L902 740 L904 741.2 L906 742.1 L908 742.7 L910 743.2 L912 743.7 L914 744.3 L916 745.2 L918 746.4 L920 749 L922 752.4 L924 756.2 L926 759.8 L928 762.6 L930 764.1 L932 764.8 L934 765.2 L936 765.4 L938 765.3 L940 764.5 L942 763 L944 761.1 L946 758.5 L948 748.9 L950 733.6 L952 719.8 L954 710.1 L956 700.4 L958 691.3 L960 683.6 L962 678.3 L964 676.2 L966 676.2 L968 676.2 L970 676.2 L972 676.2 L974 676.8 L976 678.1 L978 679.7 L980 681.2 L982 682 L984 681.7 L986 680.7 L988 679.3 L990 677.7 L992 676.2 L994 675.2 L996 674.9 L998 675.4 L1000 676.4 L1002 677.9 L1004 679.6 L1006 681.4 L1008 683.5 L1010 686.4 L1012 689.7 L1014 693.3 L1016 697 L1018 700.5 L1020 703.6 L1022 706.8 L1024 710 L1026 713.2 L1028 716.5 L1030 719.6 L1032 722.6 L1034 725.5 L1036 728.1 L1038 730.4 L1040 732.4 L1042 734.2 L1044 735.8 L1046 737.4 L1048 738.8 L1050 740.1 L1052 741.2 L1054 742.3 L1056 743.2 L1058 744 L1060 744.8 L1062 745.6 L1064 746.3 L1066 747 L1068 747.5 L1070 748 L1072 748.3 L1074 748.4 L1076 748.3 L1078 747.8 L1080 747.1 L1082 746.3 L1084 745.5 L1086 744.8 L1088 744.5 L1090 744.6 L1092 745.4 L1094 746.6 L1096 748.1 L1098 749.6 L1100 750.9 L1102 751.7 L1104 751.8 L1106 751.4 L1108 750.7 L1110 749.7 L1112 748.4 L1114 746.8 L1116 743.3 L1118 737.5 L1120 730.1 L1122 722 L1124 713.4 L1126 702.6 L1128 690.3 L1130 677.8 L1132 666.3 L1134 654.4 L1136 641.9 L1138 631.5 L1140 626.3 L1142 624.8 L1144 623.9 L1146 624.1 L1148 627.5 L1150 633.6 L1152 640.9 L1154 647.9 L1156 653.2 L1158 657.4 L1160 661.5 L1162 665.3 L1164 668.9 L1166 672.3 L1168 675.4 L1170 678.2 L1172 680.8 L1174 683.5 L1176 686.2 L1178 688.6 L1180 690.6 L1182 691.7 L1184 691.9 L1186 691.1 L1188 689.5 L1190 687.3 L1192 684.7 L1194 681.1 L1196 675.1 L1198 667.4 L1200 659 L1202 650.9 L1204 643.6 L1206 635.6 L1208 627.5 L1210 619.9 L1212 613.8 L1214 609.7 L1216 606.4 L1218 603.3 L1220 600.6 L1222 598.4 L1224 596.9 L1226 596.2 L1228 596.5 L1230 597.7 L1232 599.7 L1234 602.1 L1236 605.5 L1238 610.9 L1240 617.6 L1242 624.7 L1244 631.4 L1246 637.2 L1248 643.5 L1250 649.7 L1252 655.2 L1254 659.1 L1256 660.7 L1258 661.5 L1260 662.2 L1262 662.7 L1264 663 L1266 663.1 L1268 662 L1270 659.2 L1272 655.6 L1274 651.7 L1276 648.4 L1278 646.4 L1280 646.4 L1282 649.6 L1284 654.9 L1286 661.2 L1288 667.2 L1290 671.8 L1292 676.3 L1294 680.8 L1296 684.5 L1298 686.5 L1300 686.5 L1302 685.4 L1304 683.5 L1306 681 L1308 678.1 L1310 674.9 L1312 669.1 L1314 661 L1316 651.8 L1318 642.4 L1320 633.8 L1322 627.1 L1324 623.4 L1326 621 L1328 619.2 L1330 618.5 L1332 618.9 L1334 619.9 L1336 621.2 L1338 622.4 L1340 623.4 L1342 623.7 L1344 623.2 L1346 621.9 L1348 619.9 L1350 617.6 L1352 615 L1354 611.1 L1356 605.1 L1358 598.7 L1360 593.9 L1362 590.7 L1364 587.7 L1366 585 L1368 582.9 L1370 581.3 L1372 580.4 L1374 580 L1376 579.7 L1378 579.4 L1380 579.2 L1382 579.1 L1384 579.6 L1386 581.5 L1388 584.3 L1390 587.3 L1392 589.9 L1394 591.8 L1396 593.6 L1398 595.4 L1400 596.9 L1402 598.1 L1404 598.7 L1406 598.7 L1408 598 L1410 596.8 L1412 595.2 L1414 593.5 L1416 590.4 L1418 586 L1420 583.2 L1422 584.1 L1424 588.2 L1426 594.4 L1428 601.3 L1430 608.9 L1432 618.5 L1434 629.1 L1436 639.9 L1438 652.5 L1440 665.1 L1442 674.9 L1444 680.3 L1446 684.5 L1448 687.4 L1450 687.9 L1452 686.2 L1454 682.8 L1456 678.1 L1458 672.7 L1460 665.5 L1462 653.8 L1464 640.2 L1466 627.6 L1468 617.2 L1470 607 L1472 597.8 L1474 590.6 L1476 585.1 L1478 580.5 L1480 579.2 L1482 582.5 L1484 588.8 L1486 595.8 L1488 601.4 L1490 606.4 L1492 611.3 L1494 615.6 L1496 619 L1498 621.2 L1500 623.2 L1502 624.9 L1504 626 L1506 626.3 L1508 625.9 L1510 624.8 L1512 623.4 L1514 621.9 L1516 620.6 L1518 619.9 L1520 620 L1522 621.1 L1524 623.2 L1526 626 L1528 629.1 L1530 632.6 L1532 637.7 L1534 644.4 L1536 651.9 L1538 659.3 L1540 665.8 L1542 671.6 L1544 677.4 L1546 683.1 L1548 688.4 L1550 693.4 L1552 697.7 L1554 701.4 L1556 704.6 L1558 707.5 L1560 710.2 L1562 712.7 L1564 715.2 L1566 717.9 L1568 720.8 L1570 724 L1572 727.2 L1574 730.2 L1576 733 L1578 735.4 L1580 737.1 L1582 738.7 L1584 740.2 L1586 741.3 L1588 741.8 L1590 741.4 L1592 739.5 L1594 736.8 L1596 733.8 L1598 729.1 L1600 723.2 L1602 716.7 L1604 710 L1606 703.9 L1608 697.6 L1610 691.1 L1612 684.5 L1614 678.2 L1616 672.3 L1618 667.3 L1620 663 L1622 658.5 L1624 654.4 L1626 651.1 L1628 649 L1630 649 L1632 652 L1634 656.7 L1636 662.8 L1638 672 L1640 682 L1642 690.8 L1644 697.6 L1646 703.8 L1648 708.8 L1650 711.8 L1652 713.9 L1654 715.6 L1656 717.5 L1658 720 L1660 722.4 L1662 723.5 L1664 723 L1666 721.6 L1668 719.6 L1670 717.2 L1672 714.3 L1674 709.5 L1676 703.1 L1678 696 L1680 689.1 L1682 683.3 L1684 678.5" fill="none" stroke="#111" stroke-width="2"/>
<line x1="135" y1="412" x2="1689" y2="229" stroke="#ff7070" stroke-width="1.2"/>
<path d="M133.9 386.1 L135.9 385.1 L137.9 384.3 L139.9 383.8 L141.9 383.5 L143.9 383.5 L145.9 383.9 L147.9 384.6 L149.9 385.5 L151.9 386.5 L153.9 387.6 L155.9 388.6 L157.9 389.5 L159.9 390.4 L161.9 391.3 L163.9 392.3 L165.9 393.3 L167.9 394.4 L169.9 395.4 L171.9 396.6 L173.9 397.9 L175.9 399.5 L177.9 401.3 L179.9 403 L181.9 404.6 L183.9 405.9 L185.9 406.8 L187.9 407.1 L189.9 406.8 L191.9 406 L193.9 404.9 L195.9 403.6 L197.9 402.1 L199.9 400 L201.9 396.6 L203.9 392.6 L205.9 388.4 L207.9 384.7 L209.9 381.7 L211.9 378.4 L213.9 375.2 L215.9 372.3 L217.9 370.2 L219.9 369.1 L221.9 369.2 L223.9 369.9 L225.9 370.9 L227.9 372.2 L229.9 373.6 L231.9 374.9 L233.9 376.6 L235.9 378.6 L237.9 380.5 L239.9 381.8 L241.9 382.1 L243.9 381.6 L245.9 380.4 L247.9 378.8 L249.9 377 L251.9 375.2 L253.9 373.6 L255.9 372.3 L257.9 371.7 L259.9 371.9 L261.9 373.1 L263.9 375.1 L265.9 377.6 L267.9 380.4 L269.9 383.6 L271.9 388.4 L273.9 394.2 L275.9 399.6 L277.9 403.7 L279.9 407.8 L281.9 411.7 L283.9 414.9 L285.9 417 L287.9 417.5 L289.9 416.2 L291.9 413.4 L293.9 409.8 L295.9 405.8 L297.9 399.5 L299.9 391.4 L301.9 383.3 L303.9 376.9 L305.9 372.9 L307.9 369.3 L309.9 366.5 L311.9 365.2 L313.9 365.9 L315.9 368.7 L317.9 372.9 L319.9 377.4 L321.9 382.9 L323.9 390.6 L325.9 399.3 L327.9 407.5 L329.9 413.6 L331.9 416.3 L333.9 415.8 L335.9 414.4 L337.9 412.3 L339.9 409.8 L341.9 404.7 L343.9 395.9 L345.9 385.3 L347.9 375 L349.9 366.7 L351.9 361 L353.9 355.6 L355.9 350.9 L357.9 347.7 L359.9 346.8 L361.9 349.2 L363.9 354 L365.9 359.2 L367.9 364.1 L369.9 369.7 L371.9 375.6 L373.9 380.9 L375.9 385 L377.9 387.5 L379.9 389.5 L381.9 391.1 L383.9 392.5 L385.9 393.8 L387.9 395.1 L389.9 396.7 L391.9 398.5 L393.9 400.6 L395.9 402.8 L397.9 405 L399.9 406.9 L401.9 408.5 L403.9 409.4 L405.9 409.7 L407.9 408.8 L409.9 406.8 L411.9 404 L413.9 400.7 L415.9 396.4 L417.9 388.6 L419.9 379.1 L421.9 369.7 L423.9 362.5 L425.9 357.1 L427.9 351.9 L429.9 348.1 L431.9 346.7 L433.9 348.8 L435.9 353.5 L437.9 359.6 L439.9 365.8 L441.9 372.7 L443.9 381 L445.9 390 L447.9 399.1 L449.9 407.7 L451.9 414.9 L453.9 420.7 L455.9 426.6 L457.9 431.5 L459.9 434.4 L461.9 434.4 L463.9 433.1 L465.9 431.1 L467.9 428.8 L469.9 426.3 L471.9 423 L473.9 419.1 L475.9 415.2 L477.9 411.5 L479.9 408.4 L481.9 405.2 L483.9 402 L485.9 399 L487.9 396.7 L489.9 395.4 L491.9 395.6 L493.9 397.9 L495.9 401.5 L497.9 405.5 L499.9 411.3 L501.9 418.9 L503.9 427.2 L505.9 435 L507.9 441.2 L509.9 446.3 L511.9 451.6 L513.9 456.6 L515.9 461.2 L517.9 464.9 L519.9 467.5 L521.9 468.7 L523.9 468.4 L525.9 467 L527.9 464.8 L529.9 462.3 L531.9 458.8 L533.9 453.9 L535.9 447.8 L537.9 441 L539.9 432.4 L541.9 421.8 L543.9 410.8 L545.9 401 L547.9 391.5 L549.9 382.6 L551.9 376.3 L553.9 373.1 L555.9 370.4 L557.9 368.5 L559.9 367.7 L561.9 368.5 L563.9 371.1 L565.9 374.8 L567.9 378.9 L569.9 382.9 L571.9 386 L573.9 388.4 L575.9 390.5 L577.9 392.4 L579.9 394.3 L581.9 396.1 L583.9 397.9 L585.9 399.9 L587.9 402.1 L589.9 404.7 L591.9 407.8 L593.9 411.1 L595.9 414.4 L597.9 417.3 L599.9 419.7 L601.9 421.1 L603.9 421.5 L605.9 421.4 L607.9 421 L609.9 420.6 L611.9 420 L613.9 418.1 L615.9 415.3 L617.9 412.7 L619.9 411.1 L621.9 411.5 L623.9 413.6 L625.9 416.7 L627.9 420.1 L629.9 423.1 L631.9 426.2 L633.9 429.9 L635.9 433.6 L637.9 436.9 L639.9 439.6 L641.9 441 L643.9 441.1 L645.9 440.6 L647.9 439.6 L649.9 438.4 L651.9 436.9 L653.9 435.3 L655.9 433.6 L657.9 432 L659.9 430.5 L661.9 429.4 L663.9 428.5 L665.9 428.1 L667.9 428.3 L669.9 429.1 L671.9 430.5 L673.9 432.1 L675.9 433.8 L677.9 435.6 L679.9 438.2 L681.9 441.2 L683.9 444 L685.9 445.9 L687.9 446.5 L689.9 446.3 L691.9 445.9 L693.9 445.5 L695.9 445 L697.9 444.5 L699.9 444.1 L701.9 443.9 L703.9 443.9 L705.9 444.8 L707.9 446.4 L709.9 448.4 L711.9 450.7 L713.9 452.8 L715.9 454.5 L717.9 455.5 L719.9 455.5 L721.9 454.7 L723.9 453.2 L725.9 451.3 L727.9 447 L729.9 440.2 L731.9 432.1 L733.9 423.8 L735.9 416.4 L737.9 410.9 L739.9 405.8 L741.9 400.7 L743.9 396.1 L745.9 392.6 L747.9 390.4 L749.9 390.2 L751.9 391.8 L753.9 394.6 L755.9 397.5 L757.9 399.8 L759.9 400.5 L761.9 399.5 L763.9 397.2 L765.9 393.8 L767.9 389.6 L769.9 384.8 L771.9 379.4 L773.9 370 L775.9 358.5 L777.9 349.6 L779.9 343.9 L781.9 338.7 L783.9 335 L785.9 333.6 L787.9 336.3 L789.9 342.7 L791.9 350.1 L793.9 357.8 L795.9 367.5 L797.9 377.2 L799.9 385 L801.9 390.2 L803.9 395.1 L805.9 398.8 L807.9 400.5 L809.9 399.8 L811.9 397.4 L813.9 394.1 L815.9 390.8 L817.9 388 L819.9 385.2 L821.9 382.2 L823.9 379.6 L825.9 377.6 L827.9 376.9 L829.9 377.4 L831.9 378.6 L833.9 380.3 L835.9 382.3 L837.9 384.5 L839.9 387.7 L841.9 391.9 L843.9 396.7 L845.9 401.7 L847.9 406.5 L849.9 410.7 L851.9 413.9 L853.9 416 L855.9 417.9 L857.9 419.7 L859.9 421.4 L861.9 423.1 L863.9 424.6 L865.9 426 L867.9 427.2 L869.9 428.3 L871.9 429.2 L873.9 429.9 L875.9 430.4 L877.9 430.7 L879.9 430.5 L881.9 429 L883.9 426.4 L885.9 423.2 L887.9 420.1 L889.9 417.6 L891.9 416.3 L893.9 416.1 L895.9 415.9 L897.9 415.8 L899.9 415.7 L901.9 415.7 L903.9 415.6 L905.9 415.5 L907.9 415.5 L909.9 415.4 L911.9 415.3 L913.9 415.1 L915.9 414.9 L917.9 414.3 L919.9 413.1 L921.9 411.6 L923.9 410 L925.9 408.6 L927.9 407.5 L929.9 407.1 L931.9 407.7 L933.9 409.5 L935.9 412.1 L937.9 415.1 L939.9 418 L941.9 420.5 L943.9 422.3 L945.9 422.8 L947.9 420.9 L949.9 416.4 L951.9 410.7 L953.9 404.8 L955.9 399.8 L957.9 395.8 L959.9 391.6 L961.9 387.4 L963.9 383.6 L965.9 380.5 L967.9 378.6 L969.9 378.2 L971.9 378.3 L973.9 378.6 L975.9 379 L977.9 379.5 L979.9 380.1 L981.9 380.8 L983.9 381.6 L985.9 382.8 L987.9 385.9 L989.9 390.7 L991.9 396.7 L993.9 403.1 L995.9 409.2 L997.9 414.3 L999.9 418.7 L1001.9 423.5 L1003.9 428.3 L1005.9 432.6 L1007.9 436 L1009.9 438.1 L1011.9 438.5 L1013.9 437.7 L1015.9 436.2 L1017.9 434.4 L1019.9 432.7 L1021.9 430.4 L1023.9 427.8 L1025.9 425.3 L1027.9 423.5 L1029.9 422.8 L1031.9 423.6 L1033.9 425.4 L1035.9 427.8 L1037.9 430.5 L1039.9 433 L1041.9 435.6 L1043.9 438.8 L1045.9 442.2 L1047.9 445.5 L1049.9 448.3 L1051.9 450 L1053.9 450.3 L1055.9 448.6 L1057.9 445.5 L1059.9 441.4 L1061.9 437.1 L1063.9 433.2 L1065.9 429.4 L1067.9 425.3 L1069.9 421 L1071.9 416.8 L1073.9 413 L1075.9 409.8 L1077.9 407.3 L1079.9 404.8 L1081.9 402.6 L1083.9 400.7 L1085.9 399.5 L1087.9 399.2 L1089.9 400 L1091.9 401.6 L1093.9 403.7 L1095.9 406 L1097.9 408.4 L1099.9 411 L1101.9 414.5 L1103.9 418.5 L1105.9 422.8 L1107.9 427.1 L1109.9 431.2 L1111.9 434.7 L1113.9 437.6 L1115.9 439.4 L1117.9 439.9 L1119.9 438.6 L1121.9 435.7 L1123.9 431.8 L1125.9 427.4 L1127.9 423.1 L1129.9 419.4 L1131.9 415.7 L1133.9 411.8 L1135.9 407.9 L1137.9 404 L1139.9 400.3 L1141.9 396.9 L1143.9 394.1 L1145.9 391.9 L1147.9 389.8 L1149.9 387.9 L1151.9 386.2 L1153.9 385.1 L1155.9 384.8 L1157.9 385.6 L1159.9 387.4 L1161.9 390 L1163.9 393 L1165.9 396.2 L1167.9 399.8 L1169.9 404.7 L1171.9 410.4 L1173.9 416.2 L1175.9 421.6 L1177.9 425.9 L1179.9 428.8 L1181.9 431.1 L1183.9 433.1 L1185.9 434.4 L1187.9 434.4 L1189.9 431.6 L1191.9 426.6 L1193.9 420.5 L1195.9 414.3 L1197.9 409.2 L1199.9 404.7 L1201.9 399.9 L1203.9 395.3 L1205.9 391 L1207.9 387.3 L1209.9 384.4 L1211.9 382.5 L1213.9 380.7 L1215.9 379.1 L1217.9 377.6 L1219.9 376.3 L1221.9 375.3 L1223.9 374.6 L1225.9 374.3 L1227.9 374.4 L1229.9 375.1 L1231.9 376.3 L1233.9 377.9 L1235.9 379.7 L1237.9 381.9 L1239.9 385.8 L1241.9 391.1 L1243.9 397.3 L1245.9 403.6 L1247.9 409.6 L1249.9 414.4 L1251.9 418.5 L1253.9 422.7 L1255.9 426.4 L1257.9 428.8 L1259.9 429.4 L1261.9 429 L1263.9 428.3 L1265.9 427.2 L1267.9 425.9 L1269.9 424.4 L1271.9 422.8 L1273.9 421.2 L1275.9 419.7 L1277.9 418.3 L1279.9 417.1 L1281.9 416 L1283.9 415.1 L1285.9 414.1 L1287.9 413.2 L1289.9 412.3 L1291.9 411.4 L1293.9 410.4 L1295.9 409.4 L1297.9 408.3 L1299.9 407.1 L1301.9 405.8 L1303.9 404.3 L1305.9 402.6 L1307.9 400.1 L1309.9 396.9 L1311.9 393.4 L1313.9 389.8 L1315.9 386.6 L1317.9 384 L1319.9 382.1 L1321.9 380.2 L1323.9 378.4 L1325.9 377 L1327.9 376 L1329.9 375.6 L1331.9 376.1 L1333.9 377.6 L1335.9 379.5 L1337.9 381.6 L1339.9 383.4 L1341.9 384.6 L1343.9 384.7 L1345.9 383.8 L1347.9 382.3 L1349.9 380.1 L1351.9 377.7 L1353.9 375.2 L1355.9 370.9 L1357.9 365 L1359.9 359 L1361.9 354.2 L1363.9 352 L1365.9 352.2 L1367.9 352.7 L1369.9 353.6 L1371.9 354.6 L1373.9 356.4 L1375.9 359.7 L1377.9 364.1 L1379.9 369 L1381.9 374.1 L1383.9 378.9 L1385.9 383 L1387.9 386 L1389.9 387.4 L1391.9 386.7 L1393.9 384.2 L1395.9 380.3 L1397.9 375.8 L1399.9 371.3 L1401.9 367.4 L1403.9 364.6 L1405.9 362.1 L1407.9 359.7 L1409.9 357.6 L1411.9 355.9 L1413.9 354.8 L1415.9 354.6 L1417.9 355.4 L1419.9 356.9 L1421.9 358.9 L1423.9 361.2 L1425.9 363.7 L1427.9 366.1 L1429.9 369 L1431.9 372.4 L1433.9 376.1 L1435.9 380.1 L1437.9 384.2 L1439.9 389.4 L1441.9 395.8 L1443.9 402.5 L1445.9 408.6 L1447.9 413.4 L1449.9 416 L1451.9 416 L1453.9 414.2 L1455.9 411.5 L1457.9 408.2 L1459.9 404.3 L1461.9 398.5 L1463.9 391.4 L1465.9 383.9 L1467.9 376.7 L1469.9 370.4 L1471.9 364 L1473.9 357.6 L1475.9 351.7 L1477.9 346.9 L1479.9 343.7 L1481.9 341.2 L1483.9 338.9 L1485.9 337.2 L1487.9 336.3 L1489.9 336.3 L1491.9 336.7 L1493.9 337.5 L1495.9 338.5 L1497.9 339.7 L1499.9 341 L1501.9 342.5 L1503.9 344.6 L1505.9 347.3 L1507.9 350.3 L1509.9 353.5 L1511.9 356.9 L1513.9 360.2 L1515.9 363.7 L1517.9 367.6 L1519.9 371.7 L1521.9 375.9 L1523.9 380.2 L1525.9 384.4 L1527.9 388.4 L1529.9 392.2 L1531.9 396.2 L1533.9 400.5 L1535.9 404.9 L1537.9 409.2 L1539.9 413.3 L1541.9 416.8 L1543.9 419.7 L1545.9 421.8 L1547.9 422.9 L1549.9 423.3 L1551.9 423.6 L1553.9 423.9 L1555.9 424.1 L1557.9 424.2 L1559.9 424.4 L1561.9 424.6 L1563.9 425 L1565.9 425.4 L1567.9 426.6 L1569.9 429.3 L1571.9 433 L1573.9 437.3 L1575.9 441.8 L1577.9 445.9 L1579.9 449.2 L1581.9 451.3 L1583.9 451.6 L1585.9 450.5 L1587.9 448.3 L1589.9 445.4 L1591.9 442.1 L1593.9 437.9 L1595.9 431.4 L1597.9 423.5 L1599.9 415.2 L1601.9 407.7 L1603.9 401.7 L1605.9 396 L1607.9 390.5 L1609.9 385.3 L1611.9 380.6 L1613.9 376.5 L1615.9 373.2 L1617.9 370.3 L1619.9 367.5 L1621.9 364.8 L1623.9 362.3 L1625.9 360.2 L1627.9 358.6 L1629.9 357.6 L1631.9 357.2 L1633.9 358.1 L1635.9 360.5 L1637.9 363.9 L1639.9 368 L1641.9 372.9 L1643.9 381.6 L1645.9 392.7 L1647.9 404.2 L1649.9 413.9 L1651.9 421.7 L1653.9 429.9 L1655.9 437.6 L1657.9 444.1 L1659.9 448.6 L1661.9 450.4 L1663.9 449.7 L1665.9 447.8 L1667.9 445.1 L1669.9 442.1 L1671.9 439.3 L1673.9 437.1 L1675.9 436 L1677.9 436.3 L1679.9 437.6 L1681.9 439.9 L1683.9 443.1 L1685.9 446.9" fill="none" stroke="#00ffff" stroke-width="7.5" stroke-linejoin="round"/>
<path d="M133.9 228.6 L135.9 235.4 L137.9 241.4 L139.9 246.3 L141.9 249.8 L143.9 252.5 L145.9 254.8 L147.9 256.6 L149.9 257.4 L151.9 256.9 L153.9 254.7 L155.9 251.5 L157.9 248.3 L159.9 245.6 L161.9 242.6 L163.9 239.6 L165.9 237 L167.9 235.2 L169.9 234.2 L171.9 233.4 L173.9 232.8 L175.9 232.3 L177.9 231.8 L179.9 231.1 L181.9 230.2 L183.9 228.9 L185.9 226.8 L187.9 224.1 L189.9 221 L191.9 217.8 L193.9 214.8 L195.9 212.1 L197.9 210 L199.9 208.7 L201.9 207.8 L203.9 206.9 L205.9 206.1 L207.9 205.4 L209.9 204.9 L211.9 204.6 L213.9 204.5 L215.9 204.5 L217.9 204.6 L219.9 204.7 L221.9 204.9 L223.9 205.3 L225.9 207.6 L227.9 211.4 L229.9 215.8 L231.9 220 L233.9 225.2 L235.9 231 L237.9 236.9 L239.9 242.1 L241.9 245.9 L243.9 248 L245.9 249.6 L247.9 250.9 L249.9 251.6 L251.9 251.3 L253.9 249.6 L255.9 247 L257.9 243.2 L259.9 237.4 L261.9 230.7 L263.9 224.3 L265.9 219.1 L267.9 215.6 L269.9 212.2 L271.9 209.5 L273.9 208.2 L275.9 208.2 L277.9 208.4 L279.9 208.7 L281.9 209.5 L283.9 212.2 L285.9 216.6 L287.9 221.9 L289.9 227.4 L291.9 232.3 L293.9 236.3 L295.9 240.7 L297.9 245.2 L299.9 248.9 L301.9 251.2 L303.9 251.5 L305.9 249.4 L307.9 245.6 L309.9 241.4 L311.9 235.5 L313.9 227.8 L315.9 220.3 L317.9 214.9 L319.9 210.7 L321.9 206.8 L323.9 203.6 L325.9 201.5 L327.9 201.2 L329.9 203 L331.9 206.3 L333.9 209.9 L335.9 214.7 L337.9 220.7 L339.9 226.9 L341.9 232.5 L343.9 236.5 L345.9 239.6 L347.9 242.4 L349.9 244.4 L351.9 245.1 L353.9 244.9 L355.9 244.2 L357.9 243.3 L359.9 241.3 L361.9 237 L363.9 231.7 L365.9 226.5 L367.9 222.7 L369.9 219.3 L371.9 216 L373.9 213.1 L375.9 211.1 L377.9 210.2 L379.9 210.5 L381.9 211.2 L383.9 212.2 L385.9 213.4 L387.9 215.3 L389.9 218.2 L391.9 221.8 L393.9 225.4 L395.9 228.8 L397.9 231.5 L399.9 233.9 L401.9 236.3 L403.9 238.6 L405.9 240.6 L407.9 242.1 L409.9 243 L411.9 243 L413.9 242.9 L415.9 242.7 L417.9 242.4 L419.9 242 L421.9 241.6 L423.9 240.8 L425.9 239.7 L427.9 238.3 L429.9 236.8 L431.9 235.1 L433.9 232.7 L435.9 229.4 L437.9 225.6 L439.9 221.6 L441.9 217.8 L443.9 214.6 L445.9 212.4 L447.9 211.5 L449.9 211.2 L451.9 210.9 L453.9 210.7 L455.9 210.5 L457.9 210.4 L459.9 210.2 L461.9 210.1 L463.9 209.9 L465.9 209.7 L467.9 209.4 L469.9 209.1 L471.9 208.7 L473.9 208.3 L475.9 207.9 L477.9 207.5 L479.9 207.1 L481.9 206.8 L483.9 206.6 L485.9 206.4 L487.9 206.3 L489.9 206.3 L491.9 206.4 L493.9 206.7 L495.9 206.9 L497.9 207.3 L499.9 207.8 L501.9 208.3 L503.9 208.9 L505.9 209.5 L507.9 210.2 L509.9 211.7 L511.9 214.4 L513.9 217.9 L515.9 221.8 L517.9 225.8 L519.9 229.5 L521.9 232.5 L523.9 235.6 L525.9 238.5 L527.9 241.1 L529.9 243 L531.9 244.2 L533.9 245.1 L535.9 245.9 L537.9 247 L539.9 248.9 L541.9 251.5 L543.9 254.6 L545.9 258 L547.9 261.5 L549.9 264.8 L551.9 267.8 L553.9 270.1 L555.9 271.5 L557.9 271.9 L559.9 271.2 L561.9 269.8 L563.9 267.7 L565.9 265.1 L567.9 262.2 L569.9 259.1 L571.9 254.1 L573.9 247.8 L575.9 241.9 L577.9 237.9 L579.9 234.7 L581.9 231.8 L583.9 229.2 L585.9 226.9 L587.9 225.1 L589.9 223.6 L591.9 222.6 L593.9 221.9 L595.9 221.2 L597.9 220.6 L599.9 219.9 L601.9 218.7 L603.9 216.9 L605.9 214.6 L607.9 212 L609.9 209.2 L611.9 206.5 L613.9 204.2 L615.9 202.4 L617.9 201.3 L619.9 201.1 L621.9 201.2 L623.9 201.4 L625.9 201.8 L627.9 202.2 L629.9 203.2 L631.9 205.3 L633.9 208.1 L635.9 210.9 L637.9 213.1 L639.9 214.2 L641.9 213.9 L643.9 213 L645.9 211.8 L647.9 210.4 L649.9 208.3 L651.9 205.2 L653.9 201.6 L655.9 198.2 L657.9 195.6 L659.9 194.5 L661.9 194.3 L663.9 194.1 L665.9 194 L667.9 194 L669.9 195.4 L671.9 198.4 L673.9 201.8 L675.9 204.4 L677.9 205.2 L679.9 205.6 L681.9 205.9 L683.9 206.1 L685.9 206.3 L687.9 206.2 L689.9 204.9 L691.9 202.3 L693.9 199 L695.9 195.7 L697.9 193.2 L699.9 191.1 L701.9 189.2 L703.9 188 L705.9 188.1 L707.9 188.9 L709.9 190.1 L711.9 191.5 L713.9 193.7 L715.9 197.4 L717.9 201.6 L719.9 205 L721.9 206.4 L723.9 206.8 L725.9 207.1 L727.9 207.4 L729.9 207.6 L731.9 207.6 L733.9 207.2 L735.9 206.1 L737.9 205 L739.9 204.5 L741.9 204.8 L743.9 205.6 L745.9 206.7 L747.9 207.9 L749.9 209.1 L751.9 209.9 L753.9 210.4 L755.9 210.7 L757.9 210.9 L759.9 211.1 L761.9 211.2 L763.9 211.3 L765.9 211.5 L767.9 211.6 L769.9 211.8 L771.9 212 L773.9 212.3 L775.9 212.7 L777.9 213.1 L779.9 213.7 L781.9 214.4 L783.9 215.2 L785.9 216.2 L787.9 217.6 L789.9 219.5 L791.9 221.5 L793.9 223.8 L795.9 226.2 L797.9 228.5 L799.9 230.8 L801.9 233.1 L803.9 235.9 L805.9 238.9 L807.9 242 L809.9 244.9 L811.9 247.4 L813.9 249.4 L815.9 250.6 L817.9 250.9 L819.9 250.4 L821.9 249.3 L823.9 248 L825.9 246.4 L827.9 243.8 L829.9 240.2 L831.9 236.1 L833.9 231.7 L835.9 227.6 L837.9 224.2 L839.9 221.8 L841.9 220 L843.9 218.5 L845.9 217.3 L847.9 216.7 L849.9 216.5 L851.9 216.3 L853.9 216.2 L855.9 216.1 L857.9 216 L859.9 215.9 L861.9 215.7 L863.9 215.3 L865.9 214.1 L867.9 212 L869.9 209.3 L871.9 206.4 L873.9 203.7 L875.9 201.4 L877.9 200 L879.9 199.7 L881.9 199.5 L883.9 199.4 L885.9 199.3 L887.9 199.3 L889.9 199.2 L891.9 199.2 L893.9 199.8 L895.9 201.5 L897.9 203.8 L899.9 205.9 L901.9 207.4 L903.9 207.8 L905.9 208 L907.9 208.2 L909.9 208.3 L911.9 208.4 L913.9 208.5 L915.9 208.7 L917.9 208.9 L919.9 209.2 L921.9 209.6 L923.9 210.2 L925.9 210.7 L927.9 211.2 L929.9 211.5 L931.9 211.7 L933.9 211.8 L935.9 211.9 L937.9 212 L939.9 212.1 L941.9 212.4 L943.9 213.9 L945.9 216.9 L947.9 220.2 L949.9 222.7 L951.9 223.6 L953.9 224.1 L955.9 224.5 L957.9 224.6 L959.9 224.5 L961.9 223.4 L963.9 221.5 L965.9 219.3 L967.9 216.9 L969.9 214.5 L971.9 211.6 L973.9 208.4 L975.9 204.8 L977.9 200.9 L979.9 195.9 L981.9 190 L983.9 183.9 L985.9 178.3 L987.9 173.9 L989.9 171.1 L991.9 168.6 L993.9 166.5 L995.9 165 L997.9 164.3 L999.9 164.7 L1001.9 165.9 L1003.9 167.6 L1005.9 169.4 L1007.9 171.4 L1009.9 173.9 L1011.9 176.7 L1013.9 179.7 L1015.9 182.6 L1017.9 185.2 L1019.9 187.3 L1021.9 189.5 L1023.9 191.7 L1025.9 193.8 L1027.9 195.7 L1029.9 197.2 L1031.9 198.1 L1033.9 198.4 L1035.9 198.3 L1037.9 198.1 L1039.9 197.9 L1041.9 197.6 L1043.9 197.4 L1045.9 197.2 L1047.9 197.1 L1049.9 197.7 L1051.9 199.6 L1053.9 202.1 L1055.9 204.7 L1057.9 207 L1059.9 208.7 L1061.9 210.5 L1063.9 212.3 L1065.9 213.8 L1067.9 214.9 L1069.9 215.5 L1071.9 215.5 L1073.9 215.5 L1075.9 215.4 L1077.9 215.4 L1079.9 215.3 L1081.9 215.2 L1083.9 215.1 L1085.9 215 L1087.9 214.4 L1089.9 212.7 L1091.9 210.3 L1093.9 207.6 L1095.9 204.9 L1097.9 202.4 L1099.9 199.9 L1101.9 197 L1103.9 194.1 L1105.9 191.6 L1107.9 189.8 L1109.9 189.2 L1111.9 190 L1113.9 191.9 L1115.9 194.5 L1117.9 197.6 L1119.9 202.8 L1121.9 210.3 L1123.9 218 L1125.9 224.5 L1127.9 231 L1129.9 237.4 L1131.9 241.9 L1133.9 243 L1135.9 243 L1137.9 243 L1139.9 243 L1141.9 242.8 L1143.9 239.6 L1145.9 234.2 L1147.9 228.4 L1149.9 221.5 L1151.9 213.3 L1153.9 205.3 L1155.9 199.2 L1157.9 194.2 L1159.9 189.5 L1161.9 186.3 L1163.9 185.3 L1165.9 185.3 L1167.9 185.3 L1169.9 185.3 L1171.9 185.3 L1173.9 185.3 L1175.9 186.6 L1177.9 190.2 L1179.9 195.4 L1181.9 201 L1183.9 206.2 L1185.9 210.5 L1187.9 215.2 L1189.9 219.5 L1191.9 222.8 L1193.9 224.8 L1195.9 226.6 L1197.9 227.9 L1199.9 228.6 L1201.9 227.4 L1203.9 223.5 L1205.9 218.9 L1207.9 215.7 L1209.9 214.3 L1211.9 213.2 L1213.9 212.2 L1215.9 211.7 L1217.9 211.7 L1219.9 213.9 L1221.9 217.8 L1223.9 222 L1225.9 225.3 L1227.9 227 L1229.9 228.4 L1231.9 229.7 L1233.9 230.6 L1235.9 231.1 L1237.9 231 L1239.9 228.8 L1241.9 225.3 L1243.9 221.4 L1245.9 218.2 L1247.9 216.7 L1249.9 216.1 L1251.9 215.6 L1253.9 215.3 L1255.9 215 L1257.9 214.8 L1259.9 214.6 L1261.9 214.4 L1263.9 214.1 L1265.9 213.8 L1267.9 213.4 L1269.9 212.8 L1271.9 211.9 L1273.9 210.2 L1275.9 208.2 L1277.9 205.8 L1279.9 203.4 L1281.9 201 L1283.9 198.9 L1285.9 197.2 L1287.9 196.1 L1289.9 195.8 L1291.9 196.3 L1293.9 197.4 L1295.9 198.9 L1297.9 200.6 L1299.9 202.3 L1301.9 204.1 L1303.9 206.6 L1305.9 209.2 L1307.9 211.8 L1309.9 213.9 L1311.9 215.2 L1313.9 215.5 L1315.9 215.2 L1317.9 214.7 L1319.9 214.1 L1321.9 213.4 L1323.9 212.7 L1325.9 212.1 L1327.9 211.7 L1329.9 211.5 L1331.9 211.9 L1333.9 212.7 L1335.9 214 L1337.9 215.5 L1339.9 218.3 L1341.9 222.6 L1343.9 227.8 L1345.9 233.3 L1347.9 238.2 L1349.9 242.6 L1351.9 247.6 L1353.9 252.5 L1355.9 256.9 L1357.9 260 L1359.9 261.4 L1361.9 260.9 L1363.9 259.2 L1365.9 257.1 L1367.9 254.6 L1369.9 251 L1371.9 246.6 L1373.9 242.2 L1375.9 238.4 L1377.9 235.6 L1379.9 233.3 L1381.9 231.2 L1383.9 229.2 L1385.9 227.5 L1387.9 226.1 L1389.9 224.9 L1391.9 224 L1393.9 223.3 L1395.9 222.8 L1397.9 222.3 L1399.9 221.6 L1401.9 220.8 L1403.9 219.6 L1405.9 217.8 L1407.9 215.6 L1409.9 213 L1411.9 210.4 L1413.9 207.8 L1415.9 205.4 L1417.9 203.4 L1419.9 201.9 L1421.9 201 L1423.9 200.6 L1425.9 200.3 L1427.9 200.1 L1429.9 199.9 L1431.9 199.7 L1433.9 199.4 L1435.9 199 L1437.9 198.3 L1439.9 197.5 L1441.9 196.9 L1443.9 196.6 L1445.9 197.4 L1447.9 200 L1449.9 203.5 L1451.9 207.9 L1453.9 214.9 L1455.9 223.3 L1457.9 231.5 L1459.9 238.5 L1461.9 245.7 L1463.9 252.7 L1465.9 258.6 L1467.9 263 L1469.9 266.5 L1471.9 269.6 L1473.9 272 L1475.9 273.2 L1477.9 272.8 L1479.9 271 L1481.9 268.2 L1483.9 264.8 L1485.9 261.3 L1487.9 258.1 L1489.9 254.7 L1491.9 251 L1493.9 247.1 L1495.9 243.1 L1497.9 239.2 L1499.9 234.7 L1501.9 229.5 L1503.9 224.3 L1505.9 219.7 L1507.9 216.6 L1509.9 215.5 L1511.9 215.9 L1513.9 216.9 L1515.9 218.1 L1517.9 219.4 L1519.9 220.5 L1521.9 221.2 L1523.9 221.1 L1525.9 219.6 L1527.9 217 L1529.9 213.7 L1531.9 210.1 L1533.9 206.4 L1535.9 202.6 L1537.9 197.7 L1539.9 192.3 L1541.9 187.2 L1543.9 183.1 L1545.9 180.6 L1547.9 178.8 L1549.9 177.4 L1551.9 176.9 L1553.9 178.2 L1555.9 181 L1557.9 184.6 L1559.9 187.9 L1561.9 190.4 L1563.9 192.8 L1565.9 195.2 L1567.9 197.3 L1569.9 198.7 L1571.9 199.3 L1573.9 199.4 L1575.9 199.5 L1577.9 199.6 L1579.9 199.7 L1581.9 199.7 L1583.9 199.8 L1585.9 199.8 L1587.9 199.9 L1589.9 199.9 L1591.9 200 L1593.9 200.2 L1595.9 200.4 L1597.9 201.3 L1599.9 202.5 L1601.9 203.7 L1603.9 204.7 L1605.9 205 L1607.9 204.9 L1609.9 204.6 L1611.9 204.2 L1613.9 203.7 L1615.9 203.1 L1617.9 202.4 L1619.9 201.6 L1621.9 200.8 L1623.9 199.5 L1625.9 197.6 L1627.9 195.4 L1629.9 193 L1631.9 190.4 L1633.9 187.8 L1635.9 185.3 L1637.9 183 L1639.9 180.2 L1641.9 177.2 L1643.9 174.6 L1645.9 172.7 L1647.9 172.2 L1649.9 172.2 L1651.9 172.2 L1653.9 172.2 L1655.9 172.2 L1657.9 173.5 L1659.9 176.1 L1661.9 179.5 L1663.9 183.2 L1665.9 186.6 L1667.9 189.9 L1669.9 193.6 L1671.9 197.4 L1673.9 201.3 L1675.9 205 L1677.9 208.5 L1679.9 211.5 L1681.9 214.3 L1683.9 217 L1685.9 219.4 L1687.9 221.7" fill="none" stroke="#008000" stroke-width="5" stroke-linejoin="round"/>
<path d="M133.9 487.1 L135.9 486.3 L137.9 484.6 L139.9 482.3 L141.9 479.6 L143.9 476.7 L145.9 472.9 L147.9 467.8 L149.9 461.2 L151.9 448.9 L153.9 434.1 L155.9 423.1 L157.9 413.6 L159.9 405.3 L161.9 398.7 L163.9 394.1 L165.9 389.9 L167.9 386.4 L169.9 383.9 L171.9 382.9 L173.9 383.3 L175.9 384.3 L177.9 385.7 L179.9 387.4 L181.9 390.4 L183.9 394.1 L185.9 397.9 L187.9 401.3 L189.9 403.7 L191.9 404.5 L193.9 403.8 L195.9 402.3 L197.9 400.3 L199.9 398.2 L201.9 396.4 L203.9 395 L205.9 393.9 L207.9 392.7 L209.9 391.8 L211.9 391.1 L213.9 390.8 L215.9 392.3 L217.9 396 L219.9 400.5 L221.9 405.3 L223.9 411.5 L225.9 418.5 L227.9 425.3 L229.9 431 L231.9 434.9 L233.9 438.4 L235.9 441.7 L237.9 444.3 L239.9 446 L241.9 446.4 L243.9 445.9 L245.9 444.7 L247.9 443 L249.9 441.3 L251.9 439.6 L253.9 438.2 L255.9 437.1 L257.9 436.2 L259.9 435.2 L261.9 434.1 L263.9 432.8 L265.9 431.2 L267.9 428.9 L269.9 425.2 L271.9 420.5 L273.9 415.2 L275.9 409.8 L277.9 404.5 L279.9 398.5 L281.9 392.1 L283.9 385.7 L285.9 379.6 L287.9 374.5 L289.9 370 L291.9 365.9 L293.9 362 L295.9 358.2 L297.9 354.5 L299.9 350.7 L301.9 346.5 L303.9 342 L305.9 337.2 L307.9 332.6 L309.9 328.5 L311.9 325.2 L313.9 322.9 L315.9 321.2 L317.9 319.7 L319.9 318.6 L321.9 317.9 L323.9 318 L325.9 318.8 L327.9 320.2 L329.9 321.9 L331.9 323.6 L333.9 325.1 L335.9 326 L337.9 326.2 L339.9 326.1 L341.9 325.8 L343.9 325.3 L345.9 324.8 L347.9 324.3 L349.9 323.8 L351.9 323.4 L353.9 323.2 L355.9 323.1 L357.9 323.6 L359.9 324.7 L361.9 326.4 L363.9 328.3 L365.9 330.5 L367.9 332.7 L369.9 334.8 L371.9 337.4 L373.9 340.4 L375.9 343.5 L377.9 346.6 L379.9 349.5 L381.9 351.9 L383.9 354.2 L385.9 356.6 L387.9 358.7 L389.9 360.3 L391.9 361.1 L393.9 361.1 L395.9 360.9 L397.9 360.5 L399.9 360.1 L401.9 359.6 L403.9 359 L405.9 358.4 L407.9 357.8 L409.9 357 L411.9 356.1 L413.9 355 L415.9 353.8 L417.9 352.5 L419.9 350.9 L421.9 348.2 L423.9 344.9 L425.9 341.3 L427.9 337.7 L429.9 334.5 L431.9 332.2 L433.9 331 L435.9 331.2 L437.9 332.1 L439.9 333.5 L441.9 335.4 L443.9 337.6 L445.9 340.4 L447.9 345.7 L449.9 352.6 L451.9 360 L453.9 366.6 L455.9 371.3 L457.9 375.2 L459.9 378.9 L461.9 381.8 L463.9 383.3 L465.9 383.2 L467.9 381.9 L469.9 379.8 L471.9 377.6 L473.9 375.5 L475.9 373.3 L477.9 370.6 L479.9 368.1 L481.9 366.1 L483.9 365.1 L485.9 365.6 L487.9 367.4 L489.9 370.1 L491.9 373.2 L493.9 376.2 L495.9 379.8 L497.9 384 L499.9 388.6 L501.9 393 L503.9 397 L505.9 400.1 L507.9 403.1 L509.9 405.9 L511.9 408.4 L513.9 410.2 L515.9 411 L517.9 411.4 L519.9 411.7 L521.9 411.9 L523.9 412.1 L525.9 412.2 L527.9 412.3 L529.9 412.3 L531.9 411.4 L533.9 408.9 L535.9 405.5 L537.9 401.3 L539.9 394.5 L541.9 386.5 L543.9 378.6 L545.9 372.5 L547.9 367.1 L549.9 361.7 L551.9 356.7 L553.9 352.7 L555.9 350.1 L557.9 349.4 L559.9 350.8 L561.9 353.8 L563.9 357.3 L565.9 360.7 L567.9 364.4 L569.9 368.7 L571.9 373.2 L573.9 377.5 L575.9 381.4 L577.9 384.4 L579.9 387.2 L581.9 389.8 L583.9 392.2 L585.9 394.2 L587.9 395.9 L589.9 397.1 L591.9 398.3 L593.9 399.4 L595.9 400.3 L597.9 401.1 L599.9 401.6 L601.9 401.8 L603.9 401.4 L605.9 400 L607.9 398 L609.9 395.6 L611.9 393.3 L613.9 390.5 L615.9 387.2 L617.9 383.5 L619.9 379.6 L621.9 375.4 L623.9 370.3 L625.9 363.7 L627.9 356.8 L629.9 350.3 L631.9 345 L633.9 341.9 L635.9 341.5 L637.9 341.5 L639.9 341.5 L641.9 341.5 L643.9 342 L645.9 344.9 L647.9 349.4 L649.9 354.2 L651.9 358.3 L653.9 362.3 L655.9 366.6 L657.9 371.3 L659.9 377 L661.9 384.1 L663.9 390.8 L665.9 395.6 L667.9 399.7 L669.9 403.2 L671.9 405.4 L673.9 405.6 L675.9 404.4 L677.9 402.4 L679.9 400 L681.9 398 L683.9 396.7 L685.9 396.8 L687.9 398.3 L689.9 400.7 L691.9 403.4 L693.9 406.3 L695.9 410.4 L697.9 415.3 L699.9 420.5 L701.9 425.3 L703.9 429.2 L705.9 431.6 L707.9 431.9 L709.9 430.5 L711.9 428.1 L713.9 425.1 L715.9 419.9 L717.9 412.3 L719.9 403.6 L721.9 395.2 L723.9 385.3 L725.9 376.5 L727.9 372.7 L729.9 370.1 L731.9 368 L733.9 366.5 L735.9 365.5 L737.9 365 L739.9 364.7 L741.9 364.6 L743.9 364.4 L745.9 364.3 L747.9 364.2 L749.9 364.1 L751.9 363.9 L753.9 363.7 L755.9 363.4 L757.9 363.2 L759.9 362.9 L761.9 362.6 L763.9 362.2 L765.9 361.8 L767.9 361.3 L769.9 360.8 L771.9 360.2 L773.9 359.6 L775.9 358.8 L777.9 357.9 L779.9 356.3 L781.9 354.2 L783.9 351.6 L785.9 348.7 L787.9 345.4 L789.9 340.2 L791.9 333.5 L793.9 326.3 L795.9 319.3 L797.9 313.7 L799.9 310.3 L801.9 309 L803.9 307.9 L805.9 307.2 L807.9 306.8 L809.9 307.3 L811.9 308.9 L813.9 310.8 L815.9 312.7 L817.9 313.8 L819.9 313.9 L821.9 313.9 L823.9 313.9 L825.9 313.9 L827.9 313.9 L829.9 313.9 L831.9 313.9 L833.9 313.9 L835.9 313.9 L837.9 313.9 L839.9 313.9 L841.9 314.1 L843.9 315.4 L845.9 317.5 L847.9 319.7 L849.9 321.3 L851.9 321.8 L853.9 321 L855.9 319.3 L857.9 317.1 L859.9 314.8 L861.9 312.2 L863.9 308.3 L865.9 304 L867.9 300 L869.9 297.4 L871.9 296.9 L873.9 296.9 L875.9 297.1 L877.9 297.4 L879.9 299.9 L881.9 305.1 L883.9 311.8 L885.9 318.9 L887.9 328.3 L889.9 339.8 L891.9 350.7 L893.9 358.6 L895.9 365.2 L897.9 371.6 L899.9 377.2 L901.9 381.5 L903.9 384.2 L905.9 384.7 L907.9 383.4 L909.9 381.1 L911.9 378.2 L913.9 375.3 L915.9 372.9 L917.9 371 L919.9 369.3 L921.9 367.7 L923.9 366.1 L925.9 364.4 L927.9 362.4 L929.9 359.9 L931.9 356.8 L933.9 352.9 L935.9 348.3 L937.9 343.2 L939.9 337.8 L941.9 331.7 L943.9 324.1 L945.9 315.9 L947.9 308.1 L949.9 301.3 L951.9 295.2 L953.9 289.4 L955.9 284.2 L957.9 280 L959.9 276.9 L961.9 274.1 L963.9 271.7 L965.9 270 L967.9 269.3 L969.9 269.8 L971.9 271.3 L973.9 273.4 L975.9 275.9 L977.9 279.4 L979.9 284.6 L981.9 290.6 L983.9 296.4 L985.9 301.5 L987.9 306.9 L989.9 312.4 L991.9 317.3 L993.9 321.2 L995.9 323.3 L997.9 324.6 L999.9 325.8 L1001.9 326.6 L1003.9 327 L1005.9 326.7 L1007.9 324.4 L1009.9 320.8 L1011.9 316.7 L1013.9 312.7 L1015.9 308.7 L1017.9 304 L1019.9 299.1 L1021.9 294.2 L1023.9 289.6 L1025.9 285.6 L1027.9 282.5 L1029.9 279.5 L1031.9 276.5 L1033.9 273.8 L1035.9 271.5 L1037.9 270 L1039.9 269.3 L1041.9 269.6 L1043.9 270.5 L1045.9 271.7 L1047.9 273.1 L1049.9 274.9 L1051.9 277.4 L1053.9 280.1 L1055.9 282.4 L1057.9 283.6 L1059.9 283.7 L1061.9 283.7 L1063.9 283.7 L1065.9 283.7 L1067.9 283.7 L1069.9 283.7 L1071.9 283.7 L1073.9 283.6 L1075.9 283.3 L1077.9 282.7 L1079.9 282.1 L1081.9 281.2 L1083.9 280.3 L1085.9 279.3 L1087.9 278.2 L1089.9 276.4 L1091.9 273.9 L1093.9 271 L1095.9 268 L1097.9 265.4 L1099.9 262.9 L1101.9 260.2 L1103.9 257.5 L1105.9 255.1 L1107.9 253 L1109.9 251.5 L1111.9 250.6 L1113.9 250 L1115.9 249.5 L1117.9 249 L1119.9 248.6 L1121.9 248.4 L1123.9 248.3 L1125.9 248.4 L1127.9 248.9 L1129.9 249.6 L1131.9 250.6 L1133.9 251.7 L1135.9 253.5 L1137.9 257 L1139.9 261.6 L1141.9 266.5 L1143.9 271.1 L1145.9 276.2 L1147.9 281.5 L1149.9 286.8 L1151.9 291.7 L1153.9 296.1 L1155.9 300.9 L1157.9 305.4 L1159.9 308.2 L1161.9 308.6 L1163.9 307.8 L1165.9 306.4 L1167.9 304.6 L1169.9 302.4 L1171.9 298.6 L1173.9 292.1 L1175.9 284.1 L1177.9 275.8 L1179.9 268.5 L1181.9 261.1 L1183.9 253.5 L1185.9 246.5 L1187.9 240.5 L1189.9 235.9 L1191.9 231.2 L1193.9 226.9 L1195.9 223.2 L1197.9 220.7 L1199.9 219.5 L1201.9 219.7 L1203.9 220.7 L1205.9 222.3 L1207.9 224.3 L1209.9 226.5 L1211.9 230 L1213.9 234.8 L1215.9 240.3 L1217.9 245.9 L1219.9 252.5 L1221.9 259.9 L1223.9 267.3 L1225.9 274 L1227.9 279.6 L1229.9 285 L1231.9 289.9 L1233.9 294.1 L1235.9 297 L1237.9 299.4 L1239.9 301.5 L1241.9 303 L1243.9 303.4 L1245.9 302.7 L1247.9 301.2 L1249.9 299.2 L1251.9 296.8 L1253.9 294.5 L1255.9 292 L1257.9 289 L1259.9 285.7 L1261.9 282.1 L1263.9 278.5 L1265.9 274.9 L1267.9 271.6 L1269.9 268.5 L1271.9 265.5 L1273.9 262.5 L1275.9 259.6 L1277.9 256.8 L1279.9 254 L1281.9 251.3 L1283.9 248.8 L1285.9 246.2 L1287.9 243.4 L1289.9 240.6 L1291.9 237.8 L1293.9 235.4 L1295.9 233.3 L1297.9 231.9 L1299.9 231.2 L1301.9 231.1 L1303.9 231 L1305.9 230.9 L1307.9 230.8 L1309.9 230.7 L1311.9 230.7 L1313.9 230.8 L1315.9 232.2 L1317.9 234.6 L1319.9 237.5 L1321.9 240.4 L1323.9 244.1 L1325.9 248.5 L1327.9 253 L1329.9 257.4 L1331.9 261.8 L1333.9 266.6 L1335.9 271.3 L1337.9 275.3 L1339.9 278 L1341.9 279.4 L1343.9 280.7 L1345.9 281.6 L1347.9 282.2 L1349.9 282.4 L1351.9 282.3 L1353.9 282 L1355.9 281.6 L1357.9 281.1 L1359.9 280.4 L1361.9 279.6 L1363.9 278.7 L1365.9 277.7 L1367.9 276.6 L1369.9 275.5 L1371.9 273.7 L1373.9 271.1 L1375.9 268.1 L1377.9 264.8 L1379.9 261.4 L1381.9 258.3 L1383.9 255.2 L1385.9 251.4 L1387.9 247.8 L1389.9 245.2 L1391.9 244.4 L1393.9 244.9 L1395.9 246.1 L1397.9 247.9 L1399.9 250.1 L1401.9 255.3 L1403.9 263.3 L1405.9 272.4 L1407.9 280.9 L1409.9 287.6 L1411.9 293.9 L1413.9 299.9 L1415.9 305.7 L1417.9 311.2 L1419.9 316.2 L1421.9 320.6 L1423.9 324.8 L1425.9 328.9 L1427.9 332.4 L1429.9 335.2 L1431.9 336.9 L1433.9 338.3 L1435.9 339.4 L1437.9 340.1 L1439.9 339.6 L1441.9 335.8 L1443.9 330.1 L1445.9 324.5 L1447.9 318.2 L1449.9 311.2 L1451.9 304.1 L1453.9 297.6 L1455.9 290.3 L1457.9 283.2 L1459.9 278.2 L1461.9 277.3 L1463.9 278.4 L1465.9 280.5 L1467.9 283.9 L1469.9 290.3 L1471.9 298.2 L1473.9 305.9 L1475.9 313 L1477.9 320.7 L1479.9 327.8 L1481.9 333.1 L1483.9 336.5 L1485.9 339.6 L1487.9 341.8 L1489.9 342.8 L1491.9 342 L1493.9 339.8 L1495.9 336.8 L1497.9 333.7 L1499.9 330 L1501.9 325.5 L1503.9 320.3 L1505.9 314.9 L1507.9 309.6 L1509.9 304.6 L1511.9 300.4 L1513.9 296.2 L1515.9 292 L1517.9 288 L1519.9 284.4 L1521.9 281.3 L1523.9 278.8 L1525.9 276.9 L1527.9 275.5 L1529.9 274.4 L1531.9 273.3 L1533.9 272.1 L1535.9 270.6 L1537.9 268.6 L1539.9 265.7 L1541.9 262 L1543.9 257.8 L1545.9 253.4 L1547.9 249.1 L1549.9 245.3 L1551.9 241.9 L1553.9 238.6 L1555.9 235.4 L1557.9 232.4 L1559.9 229.8 L1561.9 227.6 L1563.9 225.9 L1565.9 224.4 L1567.9 222.9 L1569.9 221.1 L1571.9 218.8 L1573.9 215.4 L1575.9 211 L1577.9 206.2 L1579.9 201.4 L1581.9 197.2 L1583.9 193 L1585.9 188.6 L1587.9 184.4 L1589.9 181 L1591.9 179 L1593.9 178.3 L1595.9 177.8 L1597.9 177.5 L1599.9 177.7 L1601.9 180.2 L1603.9 184.3 L1605.9 189.2 L1607.9 193.9 L1609.9 198.6 L1611.9 203.9 L1613.9 209 L1615.9 212.7 L1617.9 214.9 L1619.9 216.7 L1621.9 218.1 L1623.9 219.4 L1625.9 220.7 L1627.9 222.2 L1629.9 224.1 L1631.9 226.4 L1633.9 229 L1635.9 231.8 L1637.9 234.4 L1639.9 236.8 L1641.9 238.8 L1643.9 240.4 L1645.9 242 L1647.9 243.2 L1649.9 243.8 L1651.9 243.3 L1653.9 241.7 L1655.9 239.4 L1657.9 236.7 L1659.9 232.9 L1661.9 227.4 L1663.9 220.8 L1665.9 213.7 L1667.9 207 L1669.9 200.9 L1671.9 194.9 L1673.9 188.9" fill="none" stroke="#ff0000" stroke-width="5" stroke-linejoin="round"/>
<path d="M130 566 L132 563.9 L134 562 L136 560.3 L138 559 L140 558.2 L142 557.8 L144 557.5 L146 557.3 L148 557.1 L150 556.9 L152 556.8 L154 556.8 L156 558 L158 560.3 L160 562.8 L162 565 L164 566 L166 566 L168 566 L170 566 L172 566 L174 566 L176 566 L178 566 L180 566 L182 566.7 L184 568.4 L186 570.8 L188 573.6 L190 576.2 L192 578.5 L194 580 L196 580.4 L198 580.3 L200 580 L202 579.5 L204 578.9 L206 577.1 L208 574 L210 570.4 L212 566.6 L214 563.3 L216 560.2 L218 556.7 L220 553 L222 549.6 L224 546.7 L226 544.7 L228 543.7 L230 543.8 L232 544.3 L234 545 L236 545.7 L238 546.4 L240 547.3 L242 548.3 L244 549.2 L246 549.9 L248 550.2 L250 548.7 L252 544.7 L254 540 L256 536.6 L258 535.8 L260 536.1 L262 536.6 L264 537.4 L266 538.2 L268 539.3 L270 541.2 L272 543.6 L274 546.4 L276 549.5 L278 552.8 L280 556.2 L282 560.6 L284 566.3 L286 572.4 L288 578.3 L290 583.4 L292 586.9 L294 588.3 L296 588.2 L298 587.8 L300 587.2 L302 585.3 L304 579.5 L306 571.2 L308 562.1 L310 553.8 L312 547.6 L314 541.2 L316 536.1 L318 534.5 L320 535.8 L322 538.6 L324 542.1 L326 545.9 L328 551.7 L330 559.4 L332 567.9 L334 575.8 L336 582.1 L338 585.4 L340 585.3 L342 583.6 L344 580.9 L346 577.6 L348 571.5 L350 563 L352 553.4 L354 544 L356 536.1 L358 527.9 L360 519.8 L362 514.4 L364 513.8 L366 515.8 L368 519.4 L370 523.6 L372 530.6 L374 540.6 L376 548.7 L378 551.9 L380 554.3 L382 556.3 L384 557.9 L386 559.3 L388 560.4 L390 561.3 L392 561.9 L394 562.4 L396 562.6 L398 562.8 L400 563.3 L402 565.5 L404 570.7 L406 576.2 L408 579.1 L410 578.9 L412 578 L414 576.8 L416 575.2 L418 571.9 L420 565.7 L422 557.8 L424 549.4 L426 541.7 L428 534.7 L430 526.7 L432 519.4 L434 514.5 L436 513.7 L438 515.5 L440 518.8 L442 523 L444 527.4 L446 534 L448 542.5 L450 551.2 L452 558.5 L454 563.4 L456 568 L458 572.4 L460 576.4 L462 579.9 L464 582.7 L466 584.7 L468 585.6 L470 585.3 L472 584 L474 581.9 L476 579.6 L478 577.1 L480 573.6 L482 569.7 L484 565.7 L486 562.2 L488 559.2 L490 556.2 L492 553.3 L494 551.2 L496 550.2 L498 551 L500 553.1 L502 556.1 L504 559.4 L506 563.9 L508 570.1 L510 577.4 L512 585 L514 592.1 L516 597.9 L518 603.6 L520 609.1 L522 613.2 L524 614.5 L526 614.3 L528 613.9 L530 613.2 L532 611.8 L534 609.3 L536 606.1 L538 602.5 L540 597.9 L542 592 L544 585.3 L546 578.2 L548 571.3 L550 565 L552 558.3 L554 551.3 L556 545.1 L558 540.8 L560 538.8 L562 537.4 L564 536.4 L566 535.8 L568 536.4 L570 539 L572 542.6 L574 546.4 L576 551.5 L578 555.2 L580 555.2 L582 554 L584 552.2 L586 550.4 L588 548.9 L590 548.2 L592 548.4 L594 549.3 L596 550.8 L598 552.6 L600 556 L602 562 L604 568.5 L606 573.6 L608 577.3 L610 580.8 L612 583.4 L614 584.4 L616 584.1 L618 583.3 L620 582.2 L622 581 L624 579.8 L626 578.7 L628 578 L630 577.8 L632 578.6 L634 580.4 L636 582.8 L638 585.5 L640 588.2 L642 590.4 L644 591.9 L646 592.2 L648 591.9 L650 591.2 L652 590.3 L654 589.4 L656 588.7 L658 588.3 L660 588.5 L662 589.3 L664 590.3 L666 590.9 L668 590.8 L670 590.2 L672 589.5 L674 588.8 L676 588.4 L678 588.5 L680 589.6 L682 591.4 L684 593.8 L686 596.3 L688 598.6 L690 600.4 L692 601.3 L694 600.9 L696 598.4 L698 594.8 L700 591.3 L702 588.8 L704 588.3 L706 588.3 L708 588.3 L710 588.3 L712 588.6 L714 591.5 L716 596 L718 600.7 L720 604.3 L722 605.4 L724 605.4 L726 605.4 L728 605.4 L730 605.4 L732 605.4 L734 604.1 L736 600.5 L738 595.4 L740 589.5 L742 583.7 L744 578.8 L746 575.2 L748 572 L750 568.8 L752 566.1 L754 564.2 L756 563.3 L758 563 L760 562.8 L762 562.6 L764 562.4 L766 562.1 L768 561.4 L770 560.3 L772 558.5 L774 556 L776 552.9 L778 546.6 L780 533.5 L782 519.4 L784 505.4 L786 499.2 L788 495.2 L790 493.8 L792 494.7 L794 496.8 L796 499.7 L798 504.6 L800 513.4 L802 524.1 L804 535.9 L806 552.4 L808 566.9 L810 571.2 L812 570.8 L814 569.8 L816 568.4 L818 566.7 L820 563.9 L822 557.9 L824 550.6 L826 543.8 L828 539.6 L830 537.3 L832 535.5 L834 534.5 L836 534.8 L838 535.8 L840 537.4 L842 539.4 L844 542.5 L846 548.2 L848 555.4 L850 562.9 L852 569.7 L854 574.7 L856 576.8 L858 577.8 L860 578.5 L862 579.1 L864 579.6 L866 580 L868 580.6 L870 581.2 L872 582.1 L874 583.5 L876 585.1 L878 587 L880 588.8 L882 590.6 L884 592.1 L886 593.1 L888 593.5 L890 592.6 L892 589.8 L894 586 L896 582.1 L898 579.1 L900 577.8 L902 577.9 L904 578.2 L906 578.6 L908 578.9 L910 579.1 L912 579 L914 578.7 L916 578.1 L918 577.3 L920 576.3 L922 575 L924 573.6 L926 569.2 L928 563.5 L930 560.7 L932 561.1 L934 561.9 L936 563 L938 564.8 L940 568.1 L942 572.1 L944 576.2 L946 579.5 L948 582.5 L950 585.5 L952 588 L954 589.4 L956 588.8 L958 583.9 L960 576.7 L962 569.9 L964 566.1 L966 565 L968 564.3 L970 563.8 L972 563.3 L974 562.8 L976 562 L978 560.6 L980 558.7 L982 556.9 L984 555.7 L986 555.5 L988 555.8 L990 556.5 L992 557.3 L994 558.4 L996 559.7 L998 562.9 L1000 568 L1002 574 L1004 579.7 L1006 584.2 L1008 587.6 L1010 591 L1012 594.4 L1014 597.5 L1016 600.2 L1018 602.3 L1020 603.6 L1022 604 L1024 602.6 L1026 599.5 L1028 595.8 L1030 592.6 L1032 591 L1034 591 L1036 591.1 L1038 591.3 L1040 591.7 L1042 592 L1044 592.9 L1046 595.5 L1048 599.3 L1050 603.7 L1052 607.8 L1054 610.8 L1056 611.9 L1058 611.4 L1060 610 L1062 608 L1064 605.6 L1066 603.3 L1068 600.8 L1070 597.5 L1072 593.8 L1074 590 L1076 586.5 L1078 583.5 L1080 581.4 L1082 579.6 L1084 578 L1086 576.5 L1088 575.2 L1090 574.3 L1092 573.9 L1094 574 L1096 574.5 L1098 575.5 L1100 576.8 L1102 578.2 L1104 579.8 L1106 582.5 L1108 586 L1110 590 L1112 593.9 L1114 597.4 L1116 599.8 L1118 601.3 L1120 602.8 L1122 604.1 L1124 605.2 L1126 606 L1128 606.5 L1130 606.6 L1132 604.9 L1134 601.5 L1136 597.4 L1138 593.1 L1140 589.6 L1142 586.6 L1144 583.6 L1146 580.6 L1148 577.8 L1150 575 L1152 572.5 L1154 570.3 L1156 568.4 L1158 566.5 L1160 564.6 L1162 563 L1164 561.8 L1166 561.3 L1168 561.6 L1170 562.6 L1172 564.1 L1174 565.9 L1176 569.2 L1178 574.6 L1180 581 L1182 587.1 L1184 593.7 L1186 601.2 L1188 607.1 L1190 609.3 L1192 608.3 L1194 606.1 L1196 603 L1198 599.6 L1200 593.9 L1202 586.3 L1204 578.6 L1206 572.9 L1208 568 L1210 563.4 L1212 559.7 L1214 557.3 L1216 556.3 L1218 555.6 L1220 555 L1222 554.4 L1224 554 L1226 553.6 L1228 553.3 L1230 553.1 L1232 552.9 L1234 552.9 L1236 553 L1238 553.8 L1240 555 L1242 556.6 L1244 558.5 L1246 561 L1248 566.4 L1250 573.4 L1252 580.6 L1254 586.1 L1256 588.7 L1258 590.1 L1260 591.4 L1262 592.5 L1264 593.4 L1266 594.1 L1268 594.5 L1270 594.8 L1272 594.8 L1274 594.3 L1276 593.5 L1278 592.3 L1280 590.9 L1282 589.4 L1284 587.9 L1286 586.6 L1288 585.5 L1290 584.7 L1292 584.4 L1294 584.4 L1296 584.6 L1298 585 L1300 585.4 L1302 585.8 L1304 586.2 L1306 586.6 L1308 586.8 L1310 587 L1312 586.4 L1314 584 L1316 580.5 L1318 576.5 L1320 572.8 L1322 570 L1324 567 L1326 564.2 L1328 562 L1330 560.7 L1332 560.2 L1334 559.8 L1336 559.5 L1338 559.4 L1340 560.1 L1342 561.6 L1344 563.6 L1346 565.5 L1348 566.9 L1350 567.3 L1352 567.1 L1354 566.7 L1356 566.1 L1358 563.7 L1360 558 L1362 551.2 L1364 545.1 L1366 541.7 L1368 539.3 L1370 537.3 L1372 536.1 L1374 535.9 L1376 537.2 L1378 539.7 L1380 542.6 L1382 547.9 L1384 555.6 L1386 562.6 L1388 566.2 L1390 567.7 L1392 569 L1394 570 L1396 570.7 L1398 571.1 L1400 571.1 L1402 568.2 L1404 562.5 L1406 555.4 L1408 547.8 L1410 535.8 L1412 526.2 L1414 525.3 L1416 525.3 L1418 525.3 L1420 525.3 L1422 526 L1424 528.6 L1426 532.6 L1428 537.2 L1430 541.6 L1432 547.3 L1434 552.8 L1436 554.9 L1438 555.7 L1440 556.3 L1442 556.9 L1444 558 L1446 560.8 L1448 565.9 L1450 572.1 L1452 578.3 L1454 583.2 L1456 588.5 L1458 593 L1460 594.9 L1462 594 L1464 592 L1466 589.1 L1468 583.7 L1470 573.3 L1472 561.3 L1474 549.8 L1476 536.3 L1478 528.1 L1480 527.7 L1482 527.5 L1484 527.3 L1486 527.2 L1488 527.2 L1490 527.1 L1492 527.1 L1494 527 L1496 526.8 L1498 526.6 L1500 526.1 L1502 525.1 L1504 524.1 L1506 523.2 L1508 522.7 L1510 523.7 L1512 527.4 L1514 532.2 L1516 536.5 L1518 539.6 L1520 542.4 L1522 544.9 L1524 547.4 L1526 549.9 L1528 552.4 L1530 555 L1532 558 L1534 561.6 L1536 566.1 L1538 570.9 L1540 575.4 L1542 579.1 L1544 581.3 L1546 581.6 L1548 580.3 L1550 578.1 L1552 575.7 L1554 573.6 L1556 572.5 L1558 571.9 L1560 571.3 L1562 570.9 L1564 570.5 L1566 570.2 L1568 570 L1570 569.9 L1572 573.7 L1574 583.2 L1576 592.9 L1578 597.5 L1580 597 L1582 595.5 L1584 593.4 L1586 590.9 L1588 588.2 L1590 585.7 L1592 583.5 L1594 581.7 L1596 579.9 L1598 578.2 L1600 576.6 L1602 575 L1604 573.6 L1606 572.3 L1608 571 L1610 569.6 L1612 568.3 L1614 567.2 L1616 566.4 L1618 566 L1620 566 L1622 566.1 L1624 566.2 L1626 566.4 L1628 566.7 L1630 567 L1632 567.3 L1634 568.4 L1636 570.3 L1638 572.9 L1640 575.8 L1642 578.6 L1644 582 L1646 586.4 L1648 590.8 L1650 594 L1652 594.9 L1654 594.7 L1656 594.5 L1658 594.2 L1660 593.8 L1662 593.4 L1664 593 L1666 592.7 L1668 592.4 L1670 592.3 L1672 592.3 L1674 592.6 L1676 593.2 L1678 594 L1680 595.1 L1682 596.3 L1684 597.6" fill="none" stroke="#993366" stroke-width="10.5" stroke-linejoin="round" stroke-linecap="round"/>
<g stroke="#000" stroke-width="3.2" fill="none">
<path d="M121 52 H1699" stroke="#222" stroke-width="4"/>
<path d="M135.5 50 V830"/><path d="M1689 50 V830"/><path d="M121 828.6 H1699"/>
<path d="M121 673.3 H135.5"/>
<path d="M121 518 H135.5"/>
<path d="M121 362.7 H135.5"/>
<path d="M121 207.3 H135.5"/>
<path d="M1678 673.3 H1699"/>
<path d="M1678 518 H1699"/>
<path d="M1678 362.7 H1699"/>
<path d="M1678 207.4 H1699"/>
<path d="M135.5 828 V840"/>
<path d="M247 828 V840"/>
<path d="M358.5 828 V840"/>
<path d="M470 828 V840"/>
<path d="M581.5 828 V840"/>
<path d="M693 828 V840"/>
<path d="M804.5 828 V840"/>
<path d="M916 828 V840"/>
<path d="M1027.5 828 V840"/>
<path d="M1139 828 V840"/>
<path d="M1250.5 828 V840"/>
<path d="M1362 828 V840"/>
<path d="M1473.5 828 V840"/>
<path d="M1585 828 V840"/>
</g>
<text x="103.5" y="842.1" font-size="39" text-anchor="end" font-weight="bold" fill="#000">-2</text>
<text x="103.5" y="686.8" font-size="39" text-anchor="end" font-weight="bold" fill="#000">0</text>
<text x="103.5" y="531.5" font-size="39" text-anchor="end" font-weight="bold" fill="#000">2</text>
<text x="103.5" y="376.2" font-size="39" text-anchor="end" font-weight="bold" fill="#000">4</text>
<text x="103.5" y="220.8" font-size="39" text-anchor="end" font-weight="bold" fill="#000">6</text>
<text x="103.5" y="65.5" font-size="39" text-anchor="end" font-weight="bold" fill="#000">8</text>
<text x="1715" y="840.6" font-size="33" text-anchor="start" font-weight="normal" fill="#ff0000" textLength="35" lengthAdjust="spacingAndGlyphs" stroke="#ff0000" stroke-width="0.6">22</text>
<text x="1715" y="685.3" font-size="33" text-anchor="start" font-weight="normal" fill="#ff0000" textLength="35" lengthAdjust="spacingAndGlyphs" stroke="#ff0000" stroke-width="0.6">23</text>
<text x="1715" y="530" font-size="33" text-anchor="start" font-weight="normal" fill="#ff0000" textLength="35" lengthAdjust="spacingAndGlyphs" stroke="#ff0000" stroke-width="0.6">24</text>
<text x="1715" y="374.7" font-size="33" text-anchor="start" font-weight="normal" fill="#ff0000" textLength="35" lengthAdjust="spacingAndGlyphs" stroke="#ff0000" stroke-width="0.6">25</text>
<text x="1715" y="219.4" font-size="33" text-anchor="start" font-weight="normal" fill="#ff0000" textLength="35" lengthAdjust="spacingAndGlyphs" stroke="#ff0000" stroke-width="0.6">26</text>
<text x="148.5" y="925" font-size="36" text-anchor="start" font-weight="normal" fill="#000" textLength="71" lengthAdjust="spacingAndGlyphs" transform="rotate(-90 148.5 925)">1950</text>
<text x="260" y="925" font-size="36" text-anchor="start" font-weight="normal" fill="#000" textLength="71" lengthAdjust="spacingAndGlyphs" transform="rotate(-90 260 925)">1955</text>
<text x="371.5" y="925" font-size="36" text-anchor="start" font-weight="normal" fill="#000" textLength="71" lengthAdjust="spacingAndGlyphs" transform="rotate(-90 371.5 925)">1960</text>
<text x="483" y="925" font-size="36" text-anchor="start" font-weight="normal" fill="#000" textLength="71" lengthAdjust="spacingAndGlyphs" transform="rotate(-90 483 925)">1965</text>
<text x="594.5" y="925" font-size="36" text-anchor="start" font-weight="normal" fill="#000" textLength="71" lengthAdjust="spacingAndGlyphs" transform="rotate(-90 594.5 925)">1970</text>
<text x="706" y="925" font-size="36" text-anchor="start" font-weight="normal" fill="#000" textLength="71" lengthAdjust="spacingAndGlyphs" transform="rotate(-90 706 925)">1975</text>
<text x="817.5" y="925" font-size="36" text-anchor="start" font-weight="normal" fill="#000" textLength="71" lengthAdjust="spacingAndGlyphs" transform="rotate(-90 817.5 925)">1980</text>
<text x="929" y="925" font-size="36" text-anchor="start" font-weight="normal" fill="#000" textLength="71" lengthAdjust="spacingAndGlyphs" transform="rotate(-90 929 925)">1985</text>
<text x="1040.5" y="925" font-size="36" text-anchor="start" font-weight="normal" fill="#000" textLength="71" lengthAdjust="spacingAndGlyphs" transform="rotate(-90 1040.5 925)">1990</text>
<text x="1152" y="925" font-size="36" text-anchor="start" font-weight="normal" fill="#000" textLength="71" lengthAdjust="spacingAndGlyphs" transform="rotate(-90 1152 925)">1995</text>
<text x="1263.5" y="925" font-size="36" text-anchor="start" font-weight="normal" fill="#000" textLength="71" lengthAdjust="spacingAndGlyphs" transform="rotate(-90 1263.5 925)">2000</text>
<text x="1375" y="925" font-size="36" text-anchor="start" font-weight="normal" fill="#000" textLength="71" lengthAdjust="spacingAndGlyphs" transform="rotate(-90 1375 925)">2005</text>
<text x="1486.5" y="925" font-size="36" text-anchor="start" font-weight="normal" fill="#000" textLength="71" lengthAdjust="spacingAndGlyphs" transform="rotate(-90 1486.5 925)">2010</text>
<text x="1598" y="925" font-size="36" text-anchor="start" font-weight="normal" fill="#000" textLength="71" lengthAdjust="spacingAndGlyphs" transform="rotate(-90 1598 925)">2015</text>
<text x="61" y="300" font-size="37" text-anchor="start" font-weight="bold" fill="#2e8b57" textLength="82" lengthAdjust="spacingAndGlyphs" transform="rotate(-90 61 300)">wind</text>
<text x="61" y="421" font-size="36" text-anchor="start" font-weight="bold" fill="#1ab2f0" textLength="63" lengthAdjust="spacingAndGlyphs" transform="rotate(-90 61 421)">rain</text>
<text x="63" y="559" font-size="35" text-anchor="start" font-weight="bold" fill="#993366" textLength="84" lengthAdjust="spacingAndGlyphs" transform="rotate(-90 63 559)">runoff</text>
<text x="61" y="698" font-size="37" text-anchor="start" font-weight="bold" fill="#000" textLength="84" lengthAdjust="spacingAndGlyphs" transform="rotate(-90 61 698)">AMO</text>
<text x="1770" y="268" font-size="33" text-anchor="start" font-weight="normal" fill="#ff0000" textLength="201" lengthAdjust="spacingAndGlyphs" transform="rotate(90 1770 268)" stroke="#ff0000" stroke-width="0.5">Temperature</text>
<path d="M266 89.5 H353" stroke="#000" stroke-width="4.5"/>
<text x="361" y="101.5" font-size="36" text-anchor="start" font-weight="normal" fill="#000" textLength="116" lengthAdjust="spacingAndGlyphs">AMOx5</text>
<path d="M548 89.5 H634" stroke="#008000" stroke-width="4.5"/>
<text x="642" y="101.5" font-size="36" text-anchor="start" font-weight="normal" fill="#000" textLength="96" lengthAdjust="spacingAndGlyphs">eWind</text>
<path d="M809 89.5 H896" stroke="#00ffff" stroke-width="8"/>
<text x="904" y="101.5" font-size="36" text-anchor="start" font-weight="normal" fill="#000" textLength="86" lengthAdjust="spacingAndGlyphs">gRain</text>
<path d="M1062 90 H1149" stroke="#993366" stroke-width="4.5"/><circle cx="1105" cy="90" r="4" fill="#993366"/>
<text x="1155" y="101.5" font-size="36" text-anchor="start" font-weight="normal" fill="#000" textLength="84" lengthAdjust="spacingAndGlyphs">runoff</text>
<path d="M1310 90 H1396" stroke="#ff0000" stroke-width="4.5"/>
<text x="1404" y="101.5" font-size="36" text-anchor="start" font-weight="normal" fill="#000" textLength="100" lengthAdjust="spacingAndGlyphs">cTemp</text>
<text x="1547" y="96" font-size="37" textLength="114" lengthAdjust="spacingAndGlyphs">r<tspan dy="-15" font-size="23">2</tspan><tspan dy="15"> =.79</tspan></text>
<text x="1727" y="89" font-size="46" text-anchor="start" font-weight="bold" fill="#000" textLength="35" lengthAdjust="spacingAndGlyphs" stroke="#000" stroke-width="2.4" stroke-linejoin="round">A</text>
<g id="panelB">
<clipPath id="clipB"><rect x="138.5" y="978" width="1540.0" height="511.5"/></clipPath>
<g clip-path="url(#clipB)">
<path d="M138.5 978 L1064 978 L1061.1 994.1 L1050.6 1002 L1050.6 1020.4 L1037.5 1036.1 L1037.5 1046.6 L1058.5 1050.6 L1071.6 1057.1 L1063.7 1065 L1048 1065 L1037.5 1075.5 L1016.5 1083.4 L1011.2 1096.5 L979.7 1096.5 L969.2 1104.4 L895.7 1107 L895.7 1114.9 L929.9 1117.5 L916.7 1133.2 L922 1143.7 L912.8 1154.2 L924.6 1164.7 L914.1 1180.5 L929.9 1201.5 L927.2 1225.1 L919.4 1235.6 L908.9 1246.1 L916.8 1232.6 L900 1262 L883.2 1259.9 L858 1251.5 L837 1257.8 L828.6 1274.6 L816 1287.2 L790.8 1295.6 L774 1312.4 L769.8 1329.2 L782.4 1346 L803.4 1354.4 L790.8 1371.2 L769.8 1375.4 L753 1383.8 L748.8 1400.6 L732 1411.1 L706.8 1409 L698.4 1396.4 L702.6 1379.6 L694.2 1362.8 L673.2 1367 L656.4 1358.6 L652.2 1346 L648 1333.4 L664.8 1325 L681.6 1320.8 L687.9 1301.9 L664.8 1266.2 L648 1262 L622.8 1283 L597.6 1299.8 L601.8 1316.6 L618.6 1325 L606 1354.4 L580.8 1362.8 L572.4 1383.8 L534.6 1388 L522 1404.8 L555.6 1415.3 L593.4 1417.4 L601.8 1427.9 L589.2 1438.4 L585 1459.4 L593.4 1472 L588.4 1490.9 L588 1489.5 L138.5 1489.5Z" fill="#d0fdd6"/>
<path d="M748.8 1490.9 L753 1467.8 L774 1459.4 L782.4 1434.2 L790.8 1417.4 L816 1421.6 L832.8 1430 L828.6 1446.8 L837 1459.4 L849.6 1467.8 L883.2 1467.8 L904.2 1455.2 L900 1438.4 L942 1430 L967.2 1417.4 L1000.8 1417.4 L1009.2 1404.8 L1026 1400.6 L1042.8 1404.8 L1051.2 1421.6 L1038.6 1438.4 L1042.8 1455.2 L1063.8 1467.8 L1080.6 1480.4 L1076.4 1493Z" fill="#d0fdd6"/>
<path d="M880 1490.2 L880 1466.6 L893.1 1458.7 L890.5 1440.3 L914.1 1432.4 L940.4 1429.8 L958.7 1427.2 L966.6 1416.7 L990.2 1416.7 L1006 1411.4 L1034.9 1390.4 L1042.7 1406.2 L1050.6 1421.9 L1037.5 1429.8 L1048 1445.6 L1058.5 1448.2 L1042.7 1458.7 L1050.6 1471.8 L1076.9 1474.4 L1076.9 1490.2Z" fill="#d0fdd6"/>
<path d="M979.7 1254 L992.9 1240.8 L1003.4 1230.3 L1037.5 1227.7 L1063.7 1217.2 L1084.7 1212 L1103.1 1219.8 L1124.1 1227.7 L1129.3 1243.5 L1126.7 1261.8 L1129.3 1282.8 L1134.6 1298.6 L1121.5 1309.1 L1126.7 1322.2 L1142.5 1327.5 L1153 1332.7 L1142.5 1345.8 L1153 1353.7 L1132 1361.6 L1105.7 1364.2 L1111 1374.7 L1097.8 1379.9 L1084.7 1369.4 L1048 1372.1 L1037.5 1385.2 L1019.1 1382.6 L1016.5 1369.4 L998.1 1364.2 L1003.4 1353.7 L992.9 1345.8 L987.6 1327.5 L977.1 1309.1 L979.7 1296 L950.9 1297.3 L945.6 1309.1 L932.5 1311.7 L937.7 1327.5 L929.9 1338 L914.1 1351.1 L903.6 1348.5 L914.1 1340.6 L929.9 1327.5 L932.5 1298.6 L937.7 1290.7 L985 1290.7 L995.5 1282.8 L995.5 1272.3 L979.7 1269.7Z" fill="#d0fdd6"/>
<path d="M1187.1 1218.5 L1216 1219.8 L1218.6 1235.6 L1213.3 1248.7 L1218.6 1264.5 L1216 1275 L1221.2 1282.8 L1213.3 1293.3 L1197.6 1285.5 L1192.3 1269.7 L1187.1 1254 L1195 1248.7 L1189.7 1235.6Z" fill="#d0fdd6"/>
<path d="M1166.1 1327.5 L1187.1 1324.8 L1192.3 1317 L1202.8 1327.5 L1218.6 1338 L1231.7 1345.8 L1242.2 1351.1 L1237 1361.6 L1221.2 1372.1 L1195 1377.3 L1176.6 1379.9 L1171.3 1372.1 L1181.8 1364.2 L1176.6 1353.7 L1163.5 1348.5 L1174 1338Z" fill="#d0fdd6"/>
<path d="M1195 1421.9 L1218.6 1419.3 L1229.1 1429.8 L1247.5 1437.7 L1231.7 1440.3 L1208.1 1432.4Z" fill="#d0fdd6"/>
<path d="M1116.2 1080.7 L1132 1072.9 L1155.6 1065 L1168.7 1072.9 L1166.1 1086 L1158.2 1093.9 L1160.8 1109.6 L1150.3 1107 L1142.5 1096.5 L1121.5 1099.1Z" fill="#d0fdd6"/>
<path d="M1087.3 1015.1 L1105.7 1013.8 L1105.7 1023 L1090 1021.7Z" fill="#d0fdd6"/>
<path d="M1126.7 1019.1 L1142.5 1015.1 L1147.7 1028.2 L1129.3 1028.8Z" fill="#d0fdd6"/>
<path d="M1027 1141.1 L1034.9 1135.9 L1040.1 1146.4 L1029.6 1145Z" fill="#d0fdd6"/>
<path d="M1242.2 1036.1 L1258 1030.9 L1260.6 1017.7 L1273.7 1004.6 L1284.2 1002 L1284.2 1065 L1268.5 1059.7 L1258 1054.5 L1263.2 1046.6 L1247.5 1041.4Z" fill="#d0fdd6"/>
<path d="M1260 1017.7 L1274.4 1006.2 L1291.8 1006.2 L1303.3 1017.7 L1320.6 1022.1 L1332.2 1032.2 L1317.7 1040.8 L1303.3 1046.6 L1277.3 1049.5 L1268.7 1061.1 L1248.5 1058.2 L1248.5 1017.7Z" fill="#d0fdd6"/>
<path d="M1352.4 1027.8 L1375.5 1020.6 L1395.7 997.5 L1415.9 1000.4 L1433.2 1009.1 L1456.3 991.8 L1476.5 981.7 L1479.4 991.8 L1467.9 1012 L1473.7 1023.5 L1462.1 1035.1 L1473.7 1052.4 L1467.9 1066.8 L1485.2 1075.5 L1502.5 1075.5 L1505.4 1095.7 L1496.7 1113 L1505.4 1130.3 L1515.5 1139 L1514.1 1156.3 L1502.5 1167.9 L1485.2 1170.8 L1462.1 1170.8 L1444.8 1165 L1433.2 1173.7 L1415.9 1179.4 L1415.9 1199.6 L1407.2 1208.3 L1415.9 1219.8 L1433.2 1222.7 L1462.1 1221.3 L1499.6 1221.3 L1504 1231.4 L1485.2 1245.8 L1482.3 1277.6 L1491 1286.3 L1508.3 1292 L1514.1 1315.1 L1531.4 1332.4 L1514.1 1338.2 L1499.6 1344 L1493.9 1358.4 L1519.8 1355.5 L1537.2 1364.2 L1545.8 1372.9 L1531.4 1381.5 L1511.2 1378.6 L1499.6 1387.3 L1491 1404.6 L1473.7 1410.4 L1459.2 1427.7 L1462.1 1450.8 L1479.4 1445 L1505.4 1450.8 L1531.4 1445 L1548.7 1433.5 L1563.2 1421.9 L1577.6 1410.4 L1594.9 1404.6 L1586.3 1393.1 L1606.5 1390.2 L1620.9 1378.6 L1626.7 1358.4 L1620.9 1344 L1606.5 1329.6 L1635.3 1326.7 L1658.4 1312.2 L1678.6 1309.3 L1678.6 1488.4 L1355.3 1488.4 L1352.4 1450.8 L1349.5 1410.4 L1355.3 1398.8 L1352.4 1375.8 L1363.9 1361.3 L1358.2 1346.9 L1343.7 1335.3 L1355.3 1326.7 L1352.4 1309.3 L1332.2 1297.8 L1340.8 1280.5 L1358.2 1274.7 L1355.3 1242.9 L1366.8 1231.4 L1369.7 1211.2 L1361.1 1191 L1349.5 1167.9 L1355.3 1150.6 L1349.5 1139 L1361.1 1121.7 L1346.6 1113 L1314.9 1101.5 L1303.3 1107.2 L1317.7 1095.7 L1346.6 1087 L1343.7 1078.4 L1329.3 1072.6 L1329.3 1058.2 L1346.6 1049.5Z" fill="#d0fdd6"/>
<path d="M1459.2 1294.9 L1467.9 1289.1 L1479.4 1294.9 L1476.5 1306.5 L1465 1306.5Z" fill="#fff"/>
<path d="M1462.1 1316.6 L1491 1315.1 L1488.1 1323.8 L1467.9 1323.2Z" fill="#fff"/>
<path d="M1387 1345.4 L1459.2 1344 L1456.3 1355.5 L1421.7 1356.1 L1389.9 1354.1Z" fill="#fff"/>
<path d="M1554.5 1410.4 L1568.9 1404.6 L1580.5 1410.4 L1571.8 1421.9 L1557.4 1419.1Z" fill="#fff"/>
<path d="M1459.2 1075.5 L1479.4 1074 L1491 1087 L1473.7 1089.9 L1462.1 1084.1Z" fill="#fff"/>
<path d="M1444.8 1410.4 L1459.2 1406.1 L1462.1 1447.9 L1453.4 1473.9 L1444.8 1473.9Z" fill="#fff"/>
<path d="M1352.4 1391.6 L1372.6 1390.2 L1372.6 1398.8 L1352.4 1399.4Z" fill="#fff"/>
<path d="M146.2 981 L177.7 979.7 L179.1 994.1 L148.9 999.4Z" fill="#fff" fill-opacity="0.75"/>
<path d="M164.6 996.7 L225 994.1 L227.6 1004.6 L167.2 1005.9Z" fill="#fff" fill-opacity="0.75"/>
<path d="M193.5 1014.6 L235.5 1013.8 L236.8 1022.5 L196.1 1023Z" fill="#fff" fill-opacity="0.75"/>
<path d="M293.2 1051.9 L316.9 1050.6 L318.2 1075.5 L301.1 1075.5 L294.5 1065Z" fill="#fff" fill-opacity="0.75"/>
<path d="M206.6 1163.4 L248.6 1162.1 L248.6 1168.7 L207.9 1170Z" fill="#fff" fill-opacity="0.75"/>
<path d="M146.2 1197.5 L185.6 1196.2 L185.6 1202.8 L146.2 1203.6Z" fill="#fff" fill-opacity="0.75"/>
<path d="M168.6 1117 L190.9 1116.4 L190.9 1120.1 L168.6 1120.6Z" fill="#fff" fill-opacity="0.75"/>
<path d="M225 1292 L243.4 1290.2 L246 1301.2 L227.6 1301.2Z" fill="#fff" fill-opacity="0.75"/>
<path d="M225 1309.1 L238.1 1305.1 L256.5 1310.4 L230.2 1313.8Z" fill="#fff" fill-opacity="0.75"/>
<path d="M277.5 1289.4 L288 1289.4 L288 1299.9 L277.5 1299.9Z" fill="#fff" fill-opacity="0.75"/>
<path d="M277.5 1306.5 L286.7 1306.5 L286.7 1313 L277.5 1313Z" fill="#fff" fill-opacity="0.75"/>
<path d="M251.2 1268.4 L267 1268.4 L267 1278.9 L256.5 1278.9Z" fill="#fff" fill-opacity="0.75"/>
<path d="M461.2 1359 L484.8 1353.7 L492.7 1340.6 L501.9 1338 L500.6 1345.8 L492.7 1364.2 L482.2 1366.3 L463.8 1362.9Z" fill="#fff" fill-opacity="0.75"/>
<path d="M435 1305.1 L444.1 1303.8 L441.5 1317 L436.3 1317Z" fill="#fff" fill-opacity="0.75"/>
<path d="M511.1 1063.7 L524.2 1063.7 L524.2 1070.2 L511.1 1070.2Z" fill="#fff" fill-opacity="0.75"/>
<path d="M508.5 1078.1 L524.2 1078.1 L524.2 1083.4 L508.5 1083.4Z" fill="#fff" fill-opacity="0.75"/>
<path d="M458.6 1482.3 L487.5 1478.4 L524.2 1484.9 L524.2 1492.8 L458.6 1492.8Z" fill="#fff" fill-opacity="0.75"/>
<path d="M345.7 1251.3 L351 1251.3 L351 1260.5 L345.7 1260.5Z" fill="#fff" fill-opacity="0.75"/>
<path d="M510.5 1063.7 L526.2 1063.7 L524.9 1070.2 L542 1076.8 L542 1083.4 L515.7 1083.4 L510.5 1075.5Z" fill="#fff" fill-opacity="0.75"/>
<path d="M515.7 1087.3 L527.6 1087.3 L527.6 1101.7 L521 1101.7 L515.7 1093.9Z" fill="#fff" fill-opacity="0.75"/>
<path d="M639.1 1070.2 L646.5 1070.2 L647 1128 L640.4 1128Z" fill="#fff" fill-opacity="0.75"/>
<path d="M683.7 1107.5 L699.5 1107 L699.5 1114.3 L683.7 1114.9Z" fill="#fff" fill-opacity="0.75"/>
<path d="M723.1 1108.3 L733.6 1108.3 L733.6 1113.5 L723.1 1113.5Z" fill="#fff" fill-opacity="0.75"/>
<path d="M654.9 1124 L681.1 1122.7 L681.1 1133.2 L657.5 1133.8Z" fill="#fff" fill-opacity="0.75"/>
<path d="M833.3 1107.5 L901.6 1107 L901.6 1112.8 L833.3 1113.3Z" fill="#fff" fill-opacity="0.75"/>
<path d="M833.3 1124 L901.6 1123.3 L901.6 1131.1 L833.3 1131.9Z" fill="#fff" fill-opacity="0.75"/>
<path d="M859.6 1059.7 L872.7 1058.4 L888.5 1061 L887.1 1075.5 L875.3 1076.8 L860.9 1067.6Z" fill="#fff" fill-opacity="0.75"/>
<path d="M870.1 981 L901.6 982.3 L901.6 991.5 L888.5 990.2 L870.1 986.2Z" fill="#fff" fill-opacity="0.75"/>
<path d="M880 981 L903.6 981 L903.6 988.9 L890.5 991.5 L880 989.4Z" fill="#fff"/>
<path d="M880 1065 L887.9 1065 L889.2 1078.1 L880 1083.4Z" fill="#fff"/>
<path d="M1048 991.5 L1063.7 991 L1063.7 998.1 L1050.6 999.4Z" fill="#fff"/>
<path d="M480 1339.7 L496.8 1335.5 L501 1346 L492.6 1362.8 L480 1364.9Z" fill="#fff"/>
<path d="M176.4 1030.9 L185.6 1025.6 L201.4 1030.9 L206.6 1044 L232.9 1046.6 L251.2 1049.2 L253.9 1055.8 L243.4 1061 L206.6 1061 L183 1046.6 L176.4 1036.1Z" fill="#98e6a0"/>
<path d="M251.2 1112.2 L277.5 1095.2 L324.7 1096.5 L356.2 1091.2 L369.3 1078.1 L408.7 1075.5 L448.1 1075.5 L469.1 1096.5 L445.5 1112.2 L408.7 1122.7 L356.2 1117.5 L330 1122.7 L277.5 1128 L251.2 1117.5Z" fill="#98e6a0"/>
<path d="M343.1 1130.6 L382.5 1133.2 L421.8 1131.9 L408.7 1141.1 L356.2 1138.5Z" fill="#98e6a0"/>
<path d="M280.1 1172.6 L298.5 1154.2 L324.7 1151.6 L356.2 1154.2 L382.5 1149 L419.2 1147.7 L421.8 1170 L435 1185.7 L456 1196.2 L463.8 1212 L487.5 1215.9 L461.2 1225.1 L421.8 1225.1 L395.6 1227.7 L356.2 1235.6 L351 1209.3 L337.8 1206.7 L330 1222.5 L327.3 1248.7 L314.2 1256.6 L288 1243.5 L285.4 1217.2 L267 1219.8 L251.2 1204.1 L277.5 1204.1 L303.7 1196.2 L301.1 1191 L330 1188.3 L351 1177.8 L324.7 1177.8 L280.1 1177.8Z" fill="#98e6a0"/>
<path d="M139.7 1234.3 L167.2 1233 L183 1219.8 L206.6 1222.5 L225 1219.8 L235.5 1233 L206.6 1234.3 L180.4 1244.8 L176.4 1259.2 L139.7 1251.3Z" fill="#98e6a0"/>
<path d="M183 1244.8 L206.6 1238.2 L251.2 1238.2 L288 1246.1 L288 1261.8 L267 1264.5 L235.5 1264.5 L206.6 1259.2 L185.6 1254Z" fill="#98e6a0"/>
<path d="M169.9 1271 L198.7 1269.7 L201.4 1275 L172.5 1276.3Z" fill="#98e6a0"/>
<path d="M185.6 1243.5 L206.6 1239.5 L230.2 1243.5 L230.2 1251.3 L209.2 1254 L188.2 1250Z" fill="#66d474"/>
<path d="M293.2 1108.3 L301.1 1108.3 L301.1 1114.9 L293.2 1114.9Z" fill="#66d474"/>
<path d="M315.5 1108.3 L322.1 1108.3 L322.1 1113.5 L315.5 1113.5Z" fill="#66d474"/>
<path d="M647 1149 L668 1149 L683.7 1141.1 L717.8 1135.9 L744.1 1143.7 L788.7 1154.2 L804.5 1167.3 L862.2 1164.7 L851.7 1177.8 L857 1188.3 L888.5 1196.2 L901.6 1212 L901.6 1222.5 L867.5 1225.1 L841.2 1219.8 L815 1222.5 L801.8 1235.6 L783.5 1238.2 L767.7 1227.7 L749.3 1217.2 L736.2 1212 L746.7 1196.2 L736.2 1191 L715.2 1196.2 L717.8 1222.5 L683.7 1222.5 L668 1219.8 L649.6 1209.3 L647 1191 L631.2 1196.2 L610.2 1196.2 L599.7 1188.3 L605 1180.5 L626 1175.2 L644.4 1177.8Z" fill="#98e6a0"/>
<path d="M581.4 1130.6 L599.7 1122.7 L615.5 1128 L636.5 1143.7 L641.7 1151.6 L626 1154.2 L605 1143.7 L586.6 1141.1Z" fill="#98e6a0"/>
<path d="M489.5 1222.5 L515.7 1217.2 L531.5 1212 L552.5 1219.8 L560.4 1235.6 L578.7 1246.1 L568.2 1256.6 L526.2 1256.6 L489.5 1261.8Z" fill="#98e6a0"/>
<path d="M605 1233 L636.5 1231.7 L641.7 1238.2 L610.2 1239.5Z" fill="#98e6a0"/>
<path d="M526.2 1290.7 L552.5 1289.4 L556.4 1302.5 L539.4 1301.2Z" fill="#98e6a0"/>
<path d="M547.2 979.7 L586.6 979.7 L578.7 987.6 L552.5 990.2Z" fill="#98e6a0"/>
<path d="M612.9 979.7 L631.2 979.7 L626 990.2 L615.5 988.9Z" fill="#98e6a0"/>
<path d="M633.9 991.5 L647 990.2 L657.5 999.4 L641.7 999.4Z" fill="#98e6a0"/>
<path d="M683.7 1170 L699.5 1166 L723.1 1170 L736.2 1183.1 L731 1191 L717.8 1193.6 L699.5 1185.7 L683.7 1183.1Z" fill="#66d474"/>
<path d="M599.7 1124 L615.5 1128 L636.5 1141.1 L631.2 1145 L610.2 1138.5Z" fill="#66d474"/>
<path d="M731 1141.1 L752 1143.7 L762.5 1151.6 L744.1 1149Z" fill="#66d474"/>
<path d="M489.5 1233 L515.7 1230.3 L526.2 1238.2 L515.7 1248.7 L489.5 1251.3Z" fill="#66d474"/>
<path d="M699.5 1176.5 L720.5 1175.7 L720.5 1182.6 L702.1 1181.8Z" fill="#2fb53f"/>
<path d="M607.6 1128 L620.7 1131.9 L623.4 1137.2 L610.2 1134.5Z" fill="#2fb53f"/>
<path d="M749.3 1147.7 L758.5 1149 L758.5 1152.9 L749.3 1151.6Z" fill="#2fb53f"/>
<path d="M1015.2 1244.8 L1037.5 1242.2 L1079.5 1242.2 L1090 1243.5 L1090 1261.8 L1079.5 1265.8 L1074.2 1259.2 L1037.5 1261.8 L1015.2 1256.6Z" fill="#98e6a0"/>
<path d="M869.5 1196.2 L895.7 1198.8 L906.2 1209.3 L916.7 1222.5 L890.5 1222.5 L869.5 1219.8Z" fill="#98e6a0"/>
<path d="M1179.2 978.4 L1247.5 978.4 L1242.2 986.2 L1226.5 994.1 L1210.7 999.4 L1213.3 1012.5 L1200.2 1012.5 L1195 999.4 L1189.7 991.5Z" fill="#f0d2cb"/>
<path d="M880 1292 L898.4 1292 L890.5 1306.5 L902.3 1309.1 L895.7 1323.5 L887.9 1311.7 L880 1309.1Z" fill="#f0d2cb"/>
<path d="M825.5 1294.6 L900 1292 L900 1311.7 L893.7 1322.2 L891.1 1338 L867.5 1338 L846.5 1341.9 L825.5 1332.7 L821.5 1323.5 L826.8 1309.1Z" fill="#f0d2cb"/>
<path d="M843.8 1297.3 L864.8 1296 L859.6 1305.1 L846.5 1305.1Z" fill="#fff"/>
<path d="M872.7 1309.1 L885.8 1301.2 L893.7 1319.6 L878 1326.1 L870.1 1322.2Z" fill="#fff"/>
<path d="M657.5 1433.8 L668 1432.4 L673.2 1438.2 L662.7 1439Z" fill="#f0d2cb"/>
<path d="M686.4 1436.4 L699.5 1432.4 L696.9 1438.2 L687.7 1440.3Z" fill="#f0d2cb"/>
<path d="M1560.3 981.7 L1623.8 978.8 L1626.7 991.8 L1641.1 986 L1664.2 988.9 L1678.6 978.8 L1681.5 991.8 L1644 997.5 L1632.4 1014.9 L1646.9 1032.2 L1652.7 1046.6 L1681.5 1048.1 L1681.5 1134.7 L1620.9 1127.5 L1600.7 1131.8 L1586.3 1133.2 L1586.3 1110.1 L1606.5 1105.8 L1620.9 1115.9 L1615.1 1095.7 L1606.5 1075.5 L1592 1063.9 L1577.6 1052.4 L1600.7 1029.3 L1623.8 1017.7 L1629.6 1000.4 L1618 1003.3 L1577.6 1000.4 L1557.4 1000.4 L1571.8 991.8Z" fill="#f0d2cb"/>
<path d="M1629.6 1159.2 L1661.3 1156.3 L1646.9 1167.9 L1632.4 1167.9Z" fill="#f0d2cb"/>
<path d="M1283.1 1132.7 L1303.3 1139 L1300.4 1142.5 L1286 1137.6Z" fill="#f0d2cb"/>
<path d="M1338 1323.8 L1346.6 1326.7 L1346.6 1338.2 L1338 1335.3Z" fill="#f0d2cb"/>
</g>
<g clip-path="url(#clipB2)">
<clipPath id="clipB2"><rect x="126.5" y="967" width="1564" height="535.5"/></clipPath>
<path d="M120 1011.2 L135.7 1006.7 L147.6 1004.6 L155.4 1011.2 L160.7 1023 L164.6 1038.7 L168.6 1049.2 L180.4 1057.1 L192.2 1068.9 L204 1074.2 L211.9 1071.5 L225 1074.2 L240.7 1072.9 L253.9 1072.9 L263 1079.4 L269.6 1089.9 L268.3 1099.1 L256.5 1107 L243.4 1114.9 L232.9 1124 L223.7 1133.2 L225 1138.5 L238.1 1137.2 L256.5 1134.5 L277.5 1130.6 L303.7 1128 L330 1125.4 L351 1126.7 L369.3 1129.3 L382.5 1133.2 L398.2 1134.5 L414 1131.9 L424.5 1130.6 L435 1124 L450.7 1120.1 L466.5 1117.5 L479.6 1116.2 L488.8 1109.6 L484.8 1103 L477 1101.7 L466.5 1103 L456 1093.9 L442.8 1082 L427.1 1075.5 L408.7 1071.5 L393 1072.9 L377.2 1074.2 L368 1071.5 L368 1063.7 L378.5 1059.7 L382.5 1051.9 L378.5 1044 L366.7 1041.4 L351 1044 L340.5 1038.7 L330 1032.2 L319.5 1030.9 L312.9 1036.1 L306.4 1036.1 L301.1 1026.9 L290.6 1024.3 L285.4 1029.6 L280.1 1019.1 L272.2 1009.9 L267 1012.5 L260.4 1016.4 L255.2 1009.9 L246 999.4 L235.5 991.5 L225 988.9 L211.9 984.9 L204 979.7 L217.1 979.7 L230.2 980.5 L238.1 983.6 L248.6 990.2 L256.5 995.4 L263 1003.3 L272.2 1009.9" fill="none" stroke="#444444" stroke-width="5.6" stroke-linejoin="round" stroke-linecap="round"/>
<path d="M206.6 981.5 L225 988.3 L238.1 992.8 L251.2 1003.3 L261.7 1013.8 L264.4 1017.7" fill="none" stroke="#444444" stroke-width="9.5" stroke-linejoin="round" stroke-linecap="round"/>
<path d="M219.7 986.2 L230.2 984.9 L235.5 990.2 L225 991Z" fill="none" stroke="#444444" stroke-width="4" stroke-linejoin="round" stroke-linecap="round"/>
<path d="M414 1128 L415.3 1120.1 L419.2 1120.6 L417.9 1129.3Z" fill="none" stroke="#444444" stroke-width="5" stroke-linejoin="round" stroke-linecap="round"/>
<path d="M176.4 1251.3 L179.1 1244.8 L188.2 1238.2 L204 1238.2 L214.5 1234.3 L230.2 1235.6 L243.4 1235.6 L256.5 1238.2 L269.6 1242.2 L282.7 1243.5 L293.2 1250 L303.7 1255.3 L314.2 1259.2 L327.3 1261.8 L333.9 1269.7 L335.2 1277.6 L327.3 1281.5 L314.2 1281.5 L306.4 1278.9 L298.5 1273.6 L290.6 1272.3 L284 1278.9 L277.5 1281.5 L270.9 1278.9 L267 1285.5 L265.7 1293.3 L260.4 1292 L253.9 1285.5 L246 1281.5 L235.5 1281.5 L225 1280.2 L217.1 1276.3 L211.9 1268.4 L204 1261.8 L198.7 1255.3 L188.2 1254Z" fill="none" stroke="#444444" stroke-width="5.6" stroke-linejoin="round" stroke-linecap="round"/>
<path d="M536.7 1143.7 L542 1137.2 L557.7 1131.9 L576.1 1128 L578.7 1120.1 L589.2 1118.8 L599.7 1124 L605 1130.6 L615.5 1137.2 L631.2 1143.7 L647 1146.4 L662.7 1146.4 L666.7 1135.9 L678.5 1131.9 L689 1134.5 L702.1 1135.9 L717.8 1129.3 L731 1130.6 L741.5 1138.5 L752 1141.1 L759.8 1141.1 L770.3 1147.7 L780.8 1150.3 L791.3 1149 L799.2 1150.3 L804.5 1159.5 L807.1 1170 L815 1177.8 L830.7 1175.2 L843.8 1173.9 L851.7 1172.6 L854.3 1179.2 L846.5 1183.1 L830.7 1183.1 L821.5 1185.7 L821.5 1191 L830.7 1191 L841.2 1194.9 L854.3 1197.5 L870.1 1197.5 L883.2 1202.8 L893.7 1209.3 L880 1198.8 L890.5 1204.1 L901 1214.6 L914.1 1222.5 L918.1 1227.7 L911.5 1238.2 L906.2 1246.1 L898.4 1244.8 L894.4 1251.3 L898.4 1261.8 L890.5 1265.8 L880 1263.1 L888.5 1261.8 L883.2 1254 L878 1244.8 L867.5 1242.2 L849.1 1240.8 L828.1 1238.2 L809.7 1236.9 L796.6 1238.2 L788.7 1246.1 L780.8 1255.3 L765.1 1256.6 L753.3 1256.6 L749.3 1248.7 L748 1240.8 L741.5 1239.5 L733.6 1246.1 L717.8 1250 L712.6 1256.6 L713.9 1264.5 L704.7 1275 L696.9 1285.5 L689 1301.2 L683.7 1294.6 L673.2 1280.2 L662.7 1267.1 L652.2 1257.9 L641.7 1252.7 L626 1254 L610.2 1255.3 L597.1 1257.9 L584 1261.8 L568.2 1257.9 L552.5 1255.3 L539.4 1252.7 L526.2 1255.3 L513.1 1259.2 L505.2 1265.8 L511.1 1268.4 L503.2 1261.8 L492.7 1251.3 L477 1248.7 L466.5 1247.4 L462.5 1238.2 L465.1 1227.7 L477 1223.8 L492.7 1225.1 L508.5 1227.7 L513.1 1230.3 L526.2 1233 L542 1234.3 L560.4 1236.9 L578.7 1239.5 L591.9 1239.5 L595.8 1233 L605 1230.3 L618.1 1230.3 L620.7 1222.5 L615.5 1218.5 L607.6 1212 L599.7 1202.8 L591.9 1193.6 L587.9 1183.1 L590.6 1170 L589.2 1162.1 L578.7 1155.5 L565.6 1151.6 L549.9 1150.3 L539.4 1149Z" fill="none" stroke="#444444" stroke-width="5.6" stroke-linejoin="round" stroke-linecap="round"/>
<path d="M549.9 1202.8 L556.4 1200.2 L568.2 1205.4 L581.4 1210.7 L586.6 1218.5 L584 1221.2 L573.5 1218.5 L560.4 1212 L551.2 1208Z" fill="none" stroke="#444444" stroke-width="5.6" stroke-linejoin="round" stroke-linecap="round"/>
<path d="M576.1 1118.8 L586.6 1117.5 L599.7 1124 L591.9 1126.7 L578.7 1122.7Z" fill="none" stroke="#444444" stroke-width="7" stroke-linejoin="round" stroke-linecap="round"/>
<path d="M519.7 1053.2 L524.9 1041.4 L539.4 1036.1 L552.5 1040.1 L561.7 1036.1 L566.9 1028.2 L572.2 1029.6 L570.9 1041.4 L563 1051.9 L549.9 1055.8 L534.1 1055.8 L522.3 1058.4Z" fill="none" stroke="#444444" stroke-width="5.6" stroke-linejoin="round" stroke-linecap="round"/>
<path d="M643 983.6 L650.9 986.2 L657.5 990.2 L670.6 991.5 L671.9 996.7 L660.1 995.4 L652.2 991.5 L644.4 988.3Z" fill="none" stroke="#444444" stroke-width="7" stroke-linejoin="round" stroke-linecap="round"/>
<ellipse cx="708.7" cy="1017.7" rx="3" ry="6" fill="#444444" transform="rotate(10 708.7 1017.7)"/>
<path d="M893.7 1256.6 L888.5 1261.8 L900 1263.9Z" fill="none" stroke="#444444" stroke-width="7" stroke-linejoin="round" stroke-linecap="round"/>
<path d="M507.9 1265.8 L511.8 1267.6 L507.9 1269.7Z" fill="none" stroke="#444444" stroke-width="6" stroke-linejoin="round" stroke-linecap="round"/>
<path d="M522.3 1230.3 L528.9 1229.8 L526.2 1234.3Z" fill="none" stroke="#444444" stroke-width="6" stroke-linejoin="round" stroke-linecap="round"/>
<path d="M992.9 1246.1 L998.1 1236.9 L1006 1233 L1027 1234.3 L1063.7 1235.6 L1095.2 1236.9 L1108.3 1240.8 L1116.2 1246.1 L1114.9 1255.3 L1105.7 1261.8 L1097.8 1272.3 L1084.7 1275 L1071.6 1278.9 L1061.1 1275 L1048 1271 L1034.9 1273.6 L1027 1272.3 L1016.5 1276.3 L1006 1273.6 L999.4 1277.6 L996.8 1272.3 L999.4 1259.2 L998.1 1251.3Z" fill="none" stroke="#444444" stroke-width="5.6" stroke-linejoin="round" stroke-linecap="round"/>
<ellipse cx="1128" cy="1261.8" rx="12.6" ry="4.5" fill="#444444" transform="rotate(-5 1128 1261.8)"/>
<ellipse cx="1166.1" cy="1246.1" rx="10.5" ry="3.7" fill="#444444" transform="rotate(22 1166.1 1246.1)"/>
<ellipse cx="1187.1" cy="1240.3" rx="7.9" ry="3.9" fill="#444444" transform="rotate(-25 1187.1 1240.3)"/>
<ellipse cx="1205.5" cy="1236.9" rx="7.9" ry="3.7" fill="#444444" transform="rotate(-30 1205.5 1236.9)"/>
<ellipse cx="1180.5" cy="1290.7" rx="15.2" ry="5.2" fill="#444444" transform="rotate(-8 1180.5 1290.7)"/>
<ellipse cx="1303.3" cy="1254.5" rx="11" ry="4.6" fill="#444444" transform="rotate(-30 1303.3 1254.5)"/>
<ellipse cx="1326.4" cy="1320.9" rx="13" ry="4.9" fill="#444444" transform="rotate(35 1326.4 1320.9)"/>
<ellipse cx="1368.3" cy="1362.8" rx="6.4" ry="8.1" fill="#444444" transform="rotate(-10 1368.3 1362.8)"/>
<ellipse cx="1397.1" cy="1297.8" rx="5.5" ry="7" fill="#444444" stroke="#444444" stroke-width="4" transform="rotate(-20 1397.1 1297.8)"/>
<ellipse cx="1398" cy="1338.8" rx="8.5" ry="6" fill="none" stroke="#444444" stroke-width="4.6" transform="rotate(-15 1398 1338.8)"/>
<ellipse cx="1436.1" cy="1421.9" rx="5.5" ry="5" fill="none" stroke="#444444" stroke-width="4.6" transform="rotate(0 1436.1 1421.9)"/>
<path d="M1401.5 1390.2 L1413 1393.1 L1415.9 1410.4 L1410.1 1421.9 L1402.9 1421.9 L1395.7 1404.6 L1398.6 1393.1Z" fill="none" stroke="#444444" stroke-width="4.6" stroke-linejoin="round" stroke-linecap="round"/>
<path d="M1415.9 1384.4 L1423.1 1378.6 L1427.5 1390.2 L1440.4 1398.8 L1427.5 1403.2 L1417.4 1401.7Z" fill="none" stroke="#444444" stroke-width="4.6" stroke-linejoin="round" stroke-linecap="round"/>
<path d="M1421.7 1445 L1433.2 1447.9 L1437.6 1459.5 L1433.2 1476.8 L1427.5 1478.2 L1424.6 1465.3 L1418.8 1453.7Z" fill="none" stroke="#444444" stroke-width="4.6" stroke-linejoin="round" stroke-linecap="round"/>
</g>
<rect x="125.5" y="966" width="1566" height="537" fill="none" stroke="#606060" stroke-width="2.2"/>
<path d="M168.7 1503V1492M168.7 966V977M205.5 1503V1489M205.5 966V980M242.3 1503V1492M242.3 966V977M279.1 1503V1492M279.1 966V977M316 1503V1492M316 966V977M352.8 1503V1489M352.8 966V980M389.6 1503V1492M389.6 966V977M426.5 1503V1492M426.5 966V977M463.3 1503V1492M463.3 966V977M500.1 1503V1489M500.1 966V980M536.9 1503V1492M536.9 966V977M573.8 1503V1492M573.8 966V977M610.6 1503V1492M610.6 966V977M647.4 1503V1489M647.4 966V980M684.2 1503V1492M684.2 966V977M721.1 1503V1492M721.1 966V977M757.9 1503V1492M757.9 966V977M794.7 1503V1489M794.7 966V980M831.5 1503V1492M831.5 966V977M868.4 1503V1492M868.4 966V977M905.2 1503V1492M905.2 966V977M942 1503V1489M942 966V980M978.8 1503V1492M978.8 966V977M1015.7 1503V1492M1015.7 966V977M1052.5 1503V1492M1052.5 966V977M1089.3 1503V1489M1089.3 966V980M1126.1 1503V1492M1126.1 966V977M1163 1503V1492M1163 966V977M1199.8 1503V1492M1199.8 966V977M1236.6 1503V1489M1236.6 966V980M1273.4 1503V1492M1273.4 966V977M1310.2 1503V1492M1310.2 966V977M1347.1 1503V1492M1347.1 966V977M1383.9 1503V1489M1383.9 966V980M1420.7 1503V1492M1420.7 966V977M1457.6 1503V1492M1457.6 966V977M1494.4 1503V1492M1494.4 966V977M1531.2 1503V1489M1531.2 966V980M1568 1503V1492M1568 966V977M1604.9 1503V1492M1604.9 966V977M1641.7 1503V1492M1641.7 966V977M1678.5 1503V1489M1678.5 966V980M125.5 1012.5H136.5M1691.5 1012.5H1680.5M125.5 1049.3H136.5M1691.5 1049.3H1680.5M125.5 1086.2H136.5M1691.5 1086.2H1680.5M125.5 1123H139.5M1691.5 1123H1677.5M125.5 1159.8H136.5M1691.5 1159.8H1680.5M125.5 1196.7H136.5M1691.5 1196.7H1680.5M125.5 1233.5H136.5M1691.5 1233.5H1680.5M125.5 1270.4H139.5M1691.5 1270.4H1677.5M125.5 1307.2H136.5M1691.5 1307.2H1680.5M125.5 1344.1H136.5M1691.5 1344.1H1680.5M125.5 1381H136.5M1691.5 1381H1680.5M125.5 1417.8H139.5M1691.5 1417.8H1677.5M125.5 1454.7H136.5M1691.5 1454.7H1680.5" stroke="#444" stroke-width="2.5" fill="none"/>
<text x="205.5" y="1533.5" font-size="13" text-anchor="middle" font-weight="normal" fill="#333" textLength="38" lengthAdjust="spacingAndGlyphs" stroke="#333" stroke-width="0.4">78°W</text>
<text x="352.8" y="1533.5" font-size="13" text-anchor="middle" font-weight="normal" fill="#333" textLength="38" lengthAdjust="spacingAndGlyphs" stroke="#333" stroke-width="0.4">76°W</text>
<text x="500.1" y="1533.5" font-size="13" text-anchor="middle" font-weight="normal" fill="#333" textLength="38" lengthAdjust="spacingAndGlyphs" stroke="#333" stroke-width="0.4">74°W</text>
<text x="647.4" y="1533.5" font-size="13" text-anchor="middle" font-weight="normal" fill="#333" textLength="38" lengthAdjust="spacingAndGlyphs" stroke="#333" stroke-width="0.4">72°W</text>
<text x="794.7" y="1533.5" font-size="13" text-anchor="middle" font-weight="normal" fill="#333" textLength="38" lengthAdjust="spacingAndGlyphs" stroke="#333" stroke-width="0.4">70°W</text>
<text x="942" y="1533.5" font-size="13" text-anchor="middle" font-weight="normal" fill="#333" textLength="38" lengthAdjust="spacingAndGlyphs" stroke="#333" stroke-width="0.4">68°W</text>
<text x="1089.3" y="1533.5" font-size="13" text-anchor="middle" font-weight="normal" fill="#333" textLength="38" lengthAdjust="spacingAndGlyphs" stroke="#333" stroke-width="0.4">66°W</text>
<text x="1236.6" y="1533.5" font-size="13" text-anchor="middle" font-weight="normal" fill="#333" textLength="38" lengthAdjust="spacingAndGlyphs" stroke="#333" stroke-width="0.4">64°W</text>
<text x="1383.9" y="1533.5" font-size="13" text-anchor="middle" font-weight="normal" fill="#333" textLength="38" lengthAdjust="spacingAndGlyphs" stroke="#333" stroke-width="0.4">62°W</text>
<text x="1531.2" y="1533.5" font-size="13" text-anchor="middle" font-weight="normal" fill="#333" textLength="38" lengthAdjust="spacingAndGlyphs" stroke="#333" stroke-width="0.4">60°W</text>
<text x="1678.5" y="1533.5" font-size="13" text-anchor="middle" font-weight="normal" fill="#333" textLength="38" lengthAdjust="spacingAndGlyphs" stroke="#333" stroke-width="0.4">58°W</text>
<text x="110.5" y="1141" font-size="15" text-anchor="start" font-weight="bold" fill="#444" textLength="36" lengthAdjust="spacingAndGlyphs" transform="rotate(-90 110.5 1141)">20°N</text>
<text x="110.5" y="1288.4" font-size="15" text-anchor="start" font-weight="bold" fill="#444" textLength="36" lengthAdjust="spacingAndGlyphs" transform="rotate(-90 110.5 1288.4)">18°N</text>
<text x="110.5" y="1435.8" font-size="15" text-anchor="start" font-weight="bold" fill="#444" textLength="36" lengthAdjust="spacingAndGlyphs" transform="rotate(-90 110.5 1435.8)">16°N</text>
<text x="95" y="1260" font-size="16" text-anchor="start" font-weight="bold" fill="#222" textLength="60" lengthAdjust="spacingAndGlyphs" transform="rotate(-90 95 1260)">Latitude</text>
<rect x="548.4" y="1546" width="47.7" height="35" fill="#74443a"/>
<rect x="595.6" y="1546" width="47.8" height="35" fill="#8a5a50"/>
<rect x="642.9" y="1546" width="50.3" height="35" fill="#9c6e64"/>
<rect x="692.7" y="1546" width="47.8" height="35" fill="#a87c72"/>
<rect x="740" y="1546" width="47.7" height="35" fill="#b48a80"/>
<rect x="787.2" y="1546" width="50.4" height="35" fill="#bf968c"/>
<rect x="837.1" y="1546" width="50.4" height="35" fill="#dbb4aa"/>
<rect x="887" y="1546" width="36.1" height="35" fill="#efd3cb"/>
<rect x="944.7" y="1546" width="34.6" height="35" fill="#ccffd4"/>
<rect x="978.8" y="1546" width="50.4" height="35" fill="#90e898"/>
<rect x="1028.7" y="1546" width="47.8" height="35" fill="#5cd068"/>
<rect x="1076" y="1546" width="47.7" height="35" fill="#18b028"/>
<rect x="1123.2" y="1546" width="47.7" height="35" fill="#10a418"/>
<rect x="1170.4" y="1546" width="50.4" height="35" fill="#089010"/>
<rect x="1220.3" y="1546" width="50.4" height="35" fill="#088410"/>
<rect x="1270.2" y="1546" width="47.7" height="35" fill="#087010"/>
<path d="M571.9 1546v7M571.9 1581v-7M595.5 1546v7M595.5 1581v-7M619.1 1546v7M619.1 1581v-7M642.7 1546v7M642.7 1581v-7M666.3 1546v7M666.3 1581v-7M689.9 1546v7M689.9 1581v-7M713.5 1546v7M713.5 1581v-7M737.1 1546v7M737.1 1581v-7M760.7 1546v7M760.7 1581v-7M784.3 1546v7M784.3 1581v-7M807.9 1546v7M807.9 1581v-7M831.5 1546v7M831.5 1581v-7M855.1 1546v7M855.1 1581v-7M878.7 1546v7M878.7 1581v-7M902.3 1546v7M902.3 1581v-7M973.1 1546v7M973.1 1581v-7M996.7 1546v7M996.7 1581v-7M1020.3 1546v7M1020.3 1581v-7M1043.9 1546v7M1043.9 1581v-7M1067.5 1546v7M1067.5 1581v-7M1091.1 1546v7M1091.1 1581v-7M1114.7 1546v7M1114.7 1581v-7M1138.3 1546v7M1138.3 1581v-7M1161.9 1546v7M1161.9 1581v-7M1185.5 1546v7M1185.5 1581v-7M1209.1 1546v7M1209.1 1581v-7M1232.7 1546v7M1232.7 1581v-7M1256.3 1546v7M1256.3 1581v-7M1279.9 1546v7M1279.9 1581v-7M1303.5 1546v7M1303.5 1581v-7" stroke="#fff" stroke-opacity="0.55" stroke-width="1.6" fill="none"/>
<text x="533" y="1615.5" font-size="37" text-anchor="start" font-weight="normal" fill="#000" textLength="47" lengthAdjust="spacingAndGlyphs">-.2</text>
<text x="716" y="1615.5" font-size="37" text-anchor="start" font-weight="normal" fill="#000" textLength="42" lengthAdjust="spacingAndGlyphs">-.1</text>
<text x="921.5" y="1615.5" font-size="37" text-anchor="start" font-weight="normal" fill="#000" textLength="18.5" lengthAdjust="spacingAndGlyphs">0</text>
<text x="1078.5" y="1615.5" font-size="37" text-anchor="start" font-weight="normal" fill="#000" textLength="50" lengthAdjust="spacingAndGlyphs">+.1</text>
<text x="1272.8" y="1615.5" font-size="37" textLength="235" lengthAdjust="spacingAndGlyphs">+.2 mm day<tspan dy="-13" font-size="22">-1</tspan><tspan dy="13">/yr</tspan></text>
<text x="1730" y="1002" font-size="44" text-anchor="start" font-weight="bold" fill="#000" textLength="31" lengthAdjust="spacingAndGlyphs" stroke="#000" stroke-width="2.4" stroke-linejoin="round">B</text>
</g>
<g id="panelC">
<defs>
<linearGradient id="c0" gradientUnits="userSpaceOnUse" x1="135.8" x2="943.2" y1="0" y2="0"><stop offset="0" stop-color="#fff300"/><stop offset="0.02311" stop-color="#fff400"/><stop offset="0.03852" stop-color="#fff700"/><stop offset="0.05007" stop-color="#fff900"/><stop offset="0.06009" stop-color="#fffb00"/><stop offset="0.06933" stop-color="#fffd00"/><stop offset="0.07704" stop-color="#ffff00"/><stop offset="0.07704" stop-color="#ffe2b6"/><stop offset="0.3272" stop-color="#ffe2b6"/><stop offset="0.3272" stop-color="#90fa96"/><stop offset="0.5291" stop-color="#89f9a9"/><stop offset="0.6973" stop-color="#78f4cc"/><stop offset="0.8116" stop-color="#62e9df"/><stop offset="0.8991" stop-color="#4fd7f0"/><stop offset="0.9529" stop-color="#41c9f0"/><stop offset="1" stop-color="#2bbbf4"/></linearGradient>
<linearGradient id="c1" gradientUnits="userSpaceOnUse" x1="135.8" x2="943.2" y1="0" y2="0"><stop offset="0" stop-color="#ffed00"/><stop offset="0.0298" stop-color="#ffef00"/><stop offset="0.04967" stop-color="#fff300"/><stop offset="0.06457" stop-color="#fff600"/><stop offset="0.07748" stop-color="#fff900"/><stop offset="0.0894" stop-color="#fffc00"/><stop offset="0.09933" stop-color="#ffff00"/><stop offset="0.09933" stop-color="#ffe2b6"/><stop offset="0.3421" stop-color="#ffe2b6"/><stop offset="0.3421" stop-color="#90fa96"/><stop offset="0.5395" stop-color="#88f9aa"/><stop offset="0.7039" stop-color="#76f3d0"/><stop offset="0.8158" stop-color="#5ee6e2"/><stop offset="0.9013" stop-color="#4ad2f0"/><stop offset="0.9539" stop-color="#37c3f2"/><stop offset="1" stop-color="#1eb4f7"/></linearGradient>
<linearGradient id="c2" gradientUnits="userSpaceOnUse" x1="135.8" x2="943.2" y1="0" y2="0"><stop offset="0" stop-color="#ffe700"/><stop offset="0.03872" stop-color="#ffea00"/><stop offset="0.06453" stop-color="#ffef00"/><stop offset="0.08389" stop-color="#fff300"/><stop offset="0.1007" stop-color="#fff700"/><stop offset="0.1162" stop-color="#fffb00"/><stop offset="0.1291" stop-color="#ffff00"/><stop offset="0.1291" stop-color="#ffe2b6"/><stop offset="0.3669" stop-color="#ffe2b6"/><stop offset="0.3669" stop-color="#90fa96"/><stop offset="0.5568" stop-color="#88f9aa"/><stop offset="0.7151" stop-color="#76f3cf"/><stop offset="0.8227" stop-color="#5fe7e1"/><stop offset="0.905" stop-color="#4cd4f0"/><stop offset="0.9557" stop-color="#3ac5f1"/><stop offset="1" stop-color="#22b6f6"/></linearGradient>
<linearGradient id="c3" gradientUnits="userSpaceOnUse" x1="135.8" x2="943.2" y1="0" y2="0"><stop offset="0" stop-color="#ffe100"/><stop offset="0.04986" stop-color="#ffe500"/><stop offset="0.08311" stop-color="#ffea00"/><stop offset="0.108" stop-color="#ffef00"/><stop offset="0.1296" stop-color="#fff500"/><stop offset="0.1496" stop-color="#fffa00"/><stop offset="0.1662" stop-color="#ffff00"/><stop offset="0.1662" stop-color="#ffe2b6"/><stop offset="0.4214" stop-color="#ffe2b6"/><stop offset="0.4214" stop-color="#90fa96"/><stop offset="0.5949" stop-color="#89f9a8"/><stop offset="0.7396" stop-color="#79f5ca"/><stop offset="0.838" stop-color="#65eade"/><stop offset="0.9132" stop-color="#53dbed"/><stop offset="0.9595" stop-color="#46cef0"/><stop offset="1" stop-color="#34c1f2"/></linearGradient>
<linearGradient id="c4" gradientUnits="userSpaceOnUse" x1="135.8" x2="943.2" y1="0" y2="0"><stop offset="0" stop-color="#ffd900"/><stop offset="0.0625" stop-color="#ffde00"/><stop offset="0.1042" stop-color="#ffe400"/><stop offset="0.1354" stop-color="#ffeb00"/><stop offset="0.1625" stop-color="#fff200"/><stop offset="0.1875" stop-color="#fff900"/><stop offset="0.2083" stop-color="#ffff00"/><stop offset="0.2083" stop-color="#ffe2b6"/><stop offset="0.4808" stop-color="#ffe2b6"/><stop offset="0.4808" stop-color="#90fa96"/><stop offset="0.6366" stop-color="#8af9a5"/><stop offset="0.7664" stop-color="#7ff8c1"/><stop offset="0.8546" stop-color="#70f0d8"/><stop offset="0.9221" stop-color="#60e8e0"/><stop offset="0.9637" stop-color="#56deea"/><stop offset="1" stop-color="#4dd5f0"/></linearGradient>
<linearGradient id="c5" gradientUnits="userSpaceOnUse" x1="135.8" x2="943.2" y1="0" y2="0"><stop offset="0" stop-color="#ffd100"/><stop offset="0.07885" stop-color="#ffd700"/><stop offset="0.1314" stop-color="#ffdf00"/><stop offset="0.1708" stop-color="#ffe700"/><stop offset="0.205" stop-color="#ffef00"/><stop offset="0.2365" stop-color="#fff800"/><stop offset="0.2628" stop-color="#ffff00"/><stop offset="0.2628" stop-color="#ffe2b6"/><stop offset="0.5551" stop-color="#ffe2b6"/><stop offset="0.5551" stop-color="#90fa96"/><stop offset="0.6886" stop-color="#8bf9a2"/><stop offset="0.7998" stop-color="#82f8bb"/><stop offset="0.8754" stop-color="#76f3d0"/><stop offset="0.9333" stop-color="#69ecdc"/><stop offset="0.9689" stop-color="#60e8e0"/><stop offset="1" stop-color="#58e0e8"/></linearGradient>
<linearGradient id="c6" gradientUnits="userSpaceOnUse" x1="135.8" x2="943.2" y1="0" y2="0"><stop offset="0" stop-color="#ffca00"/><stop offset="0.09148" stop-color="#ffd100"/><stop offset="0.1525" stop-color="#ffda00"/><stop offset="0.1982" stop-color="#ffe300"/><stop offset="0.2378" stop-color="#ffed00"/><stop offset="0.2744" stop-color="#fff600"/><stop offset="0.3049" stop-color="#ffff00"/><stop offset="0.3049" stop-color="#ffe2b6"/><stop offset="0.617" stop-color="#ffe2b6"/><stop offset="0.617" stop-color="#90fa96"/><stop offset="0.7319" stop-color="#8cfaa0"/><stop offset="0.8277" stop-color="#85f9b4"/><stop offset="0.8928" stop-color="#7cf6c5"/><stop offset="0.9426" stop-color="#73f1d4"/><stop offset="0.9732" stop-color="#6ceeda"/><stop offset="1" stop-color="#65eade"/></linearGradient>
<linearGradient id="c7" gradientUnits="userSpaceOnUse" x1="135.8" x2="943.2" y1="0" y2="0"><stop offset="0" stop-color="#ffc300"/><stop offset="0.1019" stop-color="#ffcb00"/><stop offset="0.1698" stop-color="#ffd600"/><stop offset="0.2207" stop-color="#ffe000"/><stop offset="0.2649" stop-color="#ffea00"/><stop offset="0.3056" stop-color="#fff500"/><stop offset="0.3396" stop-color="#ffff00"/><stop offset="0.3396" stop-color="#ffe2b6"/><stop offset="0.679" stop-color="#ffe2b6"/><stop offset="0.679" stop-color="#90fa96"/><stop offset="0.7753" stop-color="#8dfa9e"/><stop offset="0.8555" stop-color="#86f9af"/><stop offset="0.9101" stop-color="#80f8bf"/><stop offset="0.9518" stop-color="#78f4cb"/><stop offset="0.9775" stop-color="#73f1d4"/><stop offset="1" stop-color="#6defd9"/></linearGradient>
<linearGradient id="c8" gradientUnits="userSpaceOnUse" x1="135.8" x2="943.2" y1="0" y2="0"><stop offset="0" stop-color="#ffbd00"/><stop offset="0.1093" stop-color="#ffc500"/><stop offset="0.1822" stop-color="#ffd100"/><stop offset="0.2368" stop-color="#ffdd00"/><stop offset="0.2842" stop-color="#ffe800"/><stop offset="0.3279" stop-color="#fff400"/><stop offset="0.3644" stop-color="#ffff00"/><stop offset="0.3644" stop-color="#ffe2b6"/><stop offset="0.7409" stop-color="#ffe2b6"/><stop offset="0.7409" stop-color="#90fa96"/><stop offset="0.8186" stop-color="#8dfa9e"/><stop offset="0.8834" stop-color="#86f9af"/><stop offset="0.9275" stop-color="#80f8bf"/><stop offset="0.9611" stop-color="#79f4cb"/><stop offset="0.9819" stop-color="#73f2d3"/><stop offset="1" stop-color="#6eefd9"/></linearGradient>
<linearGradient id="c9" gradientUnits="userSpaceOnUse" x1="135.8" x2="943.2" y1="0" y2="0"><stop offset="0" stop-color="#ffb500"/><stop offset="0.1197" stop-color="#ffbe00"/><stop offset="0.1995" stop-color="#ffcc00"/><stop offset="0.2594" stop-color="#ffd800"/><stop offset="0.3113" stop-color="#ffe500"/><stop offset="0.3592" stop-color="#fff300"/><stop offset="0.3991" stop-color="#ffff00"/><stop offset="0.3991" stop-color="#ffe2b6"/><stop offset="0.7756" stop-color="#ffe2b6"/><stop offset="0.7756" stop-color="#90fa96"/><stop offset="0.8429" stop-color="#8dfa9d"/><stop offset="0.899" stop-color="#88f9ac"/><stop offset="0.9372" stop-color="#82f8ba"/><stop offset="0.9663" stop-color="#7cf6c6"/><stop offset="0.9843" stop-color="#77f4cd"/><stop offset="1" stop-color="#73f1d4"/></linearGradient>
<linearGradient id="c10" gradientUnits="userSpaceOnUse" x1="135.8" x2="943.2" y1="0" y2="0"><stop offset="0" stop-color="#ffab00"/><stop offset="0.1346" stop-color="#ffb600"/><stop offset="0.2243" stop-color="#ffc500"/><stop offset="0.2916" stop-color="#ffd300"/><stop offset="0.3499" stop-color="#ffe200"/><stop offset="0.4037" stop-color="#fff100"/><stop offset="0.4486" stop-color="#ffff00"/><stop offset="0.4486" stop-color="#ffe2b6"/><stop offset="0.8028" stop-color="#ffe2b6"/><stop offset="0.8028" stop-color="#90fa96"/><stop offset="0.862" stop-color="#8efa9c"/><stop offset="0.9113" stop-color="#89f9a7"/><stop offset="0.9448" stop-color="#85f9b2"/><stop offset="0.9704" stop-color="#82f8bc"/><stop offset="0.9862" stop-color="#7ff7c2"/><stop offset="1" stop-color="#7bf5c8"/></linearGradient>
<linearGradient id="c11" gradientUnits="userSpaceOnUse" x1="135.8" x2="943.2" y1="0" y2="0"><stop offset="0" stop-color="#ff9e00"/><stop offset="0.1487" stop-color="#ffab00"/><stop offset="0.2478" stop-color="#ffbd00"/><stop offset="0.3222" stop-color="#ffcd00"/><stop offset="0.3866" stop-color="#ffde00"/><stop offset="0.4461" stop-color="#ffef00"/><stop offset="0.4957" stop-color="#ffff00"/><stop offset="0.4957" stop-color="#ffe2b6"/><stop offset="0.8177" stop-color="#ffe2b6"/><stop offset="0.8177" stop-color="#90fa96"/><stop offset="0.8724" stop-color="#8efa9a"/><stop offset="0.918" stop-color="#8bf9a2"/><stop offset="0.949" stop-color="#89f9a9"/><stop offset="0.9727" stop-color="#86f9b0"/><stop offset="0.9872" stop-color="#84f9b5"/><stop offset="1" stop-color="#83f8b9"/></linearGradient>
<linearGradient id="c12" gradientUnits="userSpaceOnUse" x1="135.8" x2="943.2" y1="0" y2="0"><stop offset="0" stop-color="#ffa400"/><stop offset="0.1398" stop-color="#ffb000"/><stop offset="0.233" stop-color="#ffc000"/><stop offset="0.3029" stop-color="#ffd000"/><stop offset="0.3634" stop-color="#ffe000"/><stop offset="0.4193" stop-color="#fff000"/><stop offset="0.4659" stop-color="#ffff00"/><stop offset="0.4659" stop-color="#ffe2b6"/><stop offset="0.7954" stop-color="#ffe2b6"/><stop offset="0.7954" stop-color="#90fa96"/><stop offset="0.8568" stop-color="#8efa9b"/><stop offset="0.9079" stop-color="#8bf9a4"/><stop offset="0.9427" stop-color="#87f9ad"/><stop offset="0.9693" stop-color="#84f9b5"/><stop offset="0.9857" stop-color="#82f8ba"/><stop offset="1" stop-color="#80f8bf"/></linearGradient>
<linearGradient id="c13" gradientUnits="userSpaceOnUse" x1="135.8" x2="943.2" y1="0" y2="0"><stop offset="0" stop-color="#ffab00"/><stop offset="0.1271" stop-color="#ffb600"/><stop offset="0.2119" stop-color="#ffc500"/><stop offset="0.2755" stop-color="#ffd400"/><stop offset="0.3306" stop-color="#ffe200"/><stop offset="0.3814" stop-color="#fff100"/><stop offset="0.4238" stop-color="#ffff00"/><stop offset="0.4238" stop-color="#ffe2b6"/><stop offset="0.7681" stop-color="#ffe2b6"/><stop offset="0.7681" stop-color="#90fa96"/><stop offset="0.8377" stop-color="#8efa9c"/><stop offset="0.8957" stop-color="#89f9a8"/><stop offset="0.9351" stop-color="#85f9b3"/><stop offset="0.9652" stop-color="#81f8bd"/><stop offset="0.9838" stop-color="#7ef7c4"/><stop offset="1" stop-color="#7af5c9"/></linearGradient>
<linearGradient id="c14" gradientUnits="userSpaceOnUse" x1="135.8" x2="943.2" y1="0" y2="0"><stop offset="0" stop-color="#ffb300"/><stop offset="0.113" stop-color="#ffbd00"/><stop offset="0.1884" stop-color="#ffcb00"/><stop offset="0.2449" stop-color="#ffd800"/><stop offset="0.2939" stop-color="#ffe500"/><stop offset="0.3391" stop-color="#fff300"/><stop offset="0.3768" stop-color="#ffff00"/><stop offset="0.3768" stop-color="#ffe2b6"/><stop offset="0.726" stop-color="#ffe2b6"/><stop offset="0.726" stop-color="#90fa96"/><stop offset="0.8082" stop-color="#8dfa9e"/><stop offset="0.8767" stop-color="#87f9ad"/><stop offset="0.9233" stop-color="#82f8bc"/><stop offset="0.9589" stop-color="#7bf6c7"/><stop offset="0.9808" stop-color="#76f3cf"/><stop offset="1" stop-color="#71f1d6"/></linearGradient>
<linearGradient id="c15" gradientUnits="userSpaceOnUse" x1="135.8" x2="943.2" y1="0" y2="0"><stop offset="0" stop-color="#ffba00"/><stop offset="0.1034" stop-color="#ffc300"/><stop offset="0.1723" stop-color="#ffcf00"/><stop offset="0.224" stop-color="#ffdb00"/><stop offset="0.2688" stop-color="#ffe700"/><stop offset="0.3101" stop-color="#fff400"/><stop offset="0.3446" stop-color="#ffff00"/><stop offset="0.3446" stop-color="#ffe2b6"/><stop offset="0.6889" stop-color="#ffe2b6"/><stop offset="0.6889" stop-color="#90fa96"/><stop offset="0.7822" stop-color="#8dfa9f"/><stop offset="0.86" stop-color="#86f9b1"/><stop offset="0.9129" stop-color="#7ff7c2"/><stop offset="0.9533" stop-color="#76f3cf"/><stop offset="0.9782" stop-color="#70f0d8"/><stop offset="1" stop-color="#6aeddb"/></linearGradient>
<linearGradient id="c16" gradientUnits="userSpaceOnUse" x1="135.8" x2="943.2" y1="0" y2="0"><stop offset="0" stop-color="#ffbd00"/><stop offset="0.09371" stop-color="#ffc600"/><stop offset="0.1562" stop-color="#ffd200"/><stop offset="0.203" stop-color="#ffdd00"/><stop offset="0.2436" stop-color="#ffe800"/><stop offset="0.2811" stop-color="#fff400"/><stop offset="0.3124" stop-color="#ffff00"/><stop offset="0.3124" stop-color="#ffe2b6"/><stop offset="0.6567" stop-color="#ffe2b6"/><stop offset="0.6567" stop-color="#90fa96"/><stop offset="0.7597" stop-color="#8dfa9f"/><stop offset="0.8455" stop-color="#86f9b0"/><stop offset="0.9039" stop-color="#80f8c0"/><stop offset="0.9485" stop-color="#78f4cc"/><stop offset="0.976" stop-color="#72f1d5"/><stop offset="1" stop-color="#6ceeda"/></linearGradient>
<linearGradient id="c17" gradientUnits="userSpaceOnUse" x1="135.8" x2="943.2" y1="0" y2="0"><stop offset="0" stop-color="#ffc200"/><stop offset="0.08776" stop-color="#ffca00"/><stop offset="0.1463" stop-color="#ffd500"/><stop offset="0.1902" stop-color="#ffdf00"/><stop offset="0.2282" stop-color="#ffea00"/><stop offset="0.2633" stop-color="#fff500"/><stop offset="0.2925" stop-color="#ffff00"/><stop offset="0.2925" stop-color="#ffe2b6"/><stop offset="0.6245" stop-color="#ffe2b6"/><stop offset="0.6245" stop-color="#90fa96"/><stop offset="0.7371" stop-color="#8cfaa0"/><stop offset="0.831" stop-color="#85f9b3"/><stop offset="0.8949" stop-color="#7ef7c4"/><stop offset="0.9437" stop-color="#74f2d2"/><stop offset="0.9737" stop-color="#6eefd9"/><stop offset="1" stop-color="#67ecdc"/></linearGradient>
<linearGradient id="c18" gradientUnits="userSpaceOnUse" x1="135.8" x2="943.2" y1="0" y2="0"><stop offset="0" stop-color="#ffc600"/><stop offset="0.08182" stop-color="#ffcd00"/><stop offset="0.1364" stop-color="#ffd700"/><stop offset="0.1773" stop-color="#ffe100"/><stop offset="0.2127" stop-color="#ffeb00"/><stop offset="0.2455" stop-color="#fff600"/><stop offset="0.2727" stop-color="#ffff00"/><stop offset="0.2727" stop-color="#ffe2b6"/><stop offset="0.5898" stop-color="#ffe2b6"/><stop offset="0.5898" stop-color="#90fa96"/><stop offset="0.7129" stop-color="#8cf9a1"/><stop offset="0.8154" stop-color="#83f8b8"/><stop offset="0.8851" stop-color="#79f4cb"/><stop offset="0.9385" stop-color="#6eefd9"/><stop offset="0.9713" stop-color="#65ebdd"/><stop offset="1" stop-color="#5ee6e2"/></linearGradient>
<linearGradient id="c19" gradientUnits="userSpaceOnUse" x1="135.8" x2="943.2" y1="0" y2="0"><stop offset="0" stop-color="#ffcb00"/><stop offset="0.07587" stop-color="#ffd200"/><stop offset="0.1265" stop-color="#ffdb00"/><stop offset="0.1644" stop-color="#ffe400"/><stop offset="0.1973" stop-color="#ffed00"/><stop offset="0.2276" stop-color="#fff600"/><stop offset="0.2529" stop-color="#ffff00"/><stop offset="0.2529" stop-color="#ffe2b6"/><stop offset="0.5576" stop-color="#ffe2b6"/><stop offset="0.5576" stop-color="#90fa96"/><stop offset="0.6903" stop-color="#8bf9a4"/><stop offset="0.8009" stop-color="#80f8bf"/><stop offset="0.8761" stop-color="#72f1d5"/><stop offset="0.9336" stop-color="#63eade"/><stop offset="0.969" stop-color="#5ae2e6"/><stop offset="1" stop-color="#51d9ef"/></linearGradient>
<linearGradient id="c20" gradientUnits="userSpaceOnUse" x1="135.8" x2="943.2" y1="0" y2="0"><stop offset="0" stop-color="#ffcd00"/><stop offset="0.06993" stop-color="#ffd300"/><stop offset="0.1165" stop-color="#ffdc00"/><stop offset="0.1515" stop-color="#ffe500"/><stop offset="0.1818" stop-color="#ffee00"/><stop offset="0.2098" stop-color="#fff700"/><stop offset="0.2331" stop-color="#ffff00"/><stop offset="0.2331" stop-color="#ffe2b6"/><stop offset="0.5155" stop-color="#ffe2b6"/><stop offset="0.5155" stop-color="#90fa96"/><stop offset="0.6608" stop-color="#8bf9a4"/><stop offset="0.782" stop-color="#80f8bf"/><stop offset="0.8643" stop-color="#72f1d5"/><stop offset="0.9273" stop-color="#63eade"/><stop offset="0.9661" stop-color="#5ae2e6"/><stop offset="1" stop-color="#51d9ef"/></linearGradient>
<linearGradient id="c21" gradientUnits="userSpaceOnUse" x1="135.8" x2="943.2" y1="0" y2="0"><stop offset="0" stop-color="#ffcf00"/><stop offset="0.06398" stop-color="#ffd600"/><stop offset="0.1066" stop-color="#ffde00"/><stop offset="0.1386" stop-color="#ffe600"/><stop offset="0.1664" stop-color="#ffef00"/><stop offset="0.1919" stop-color="#fff700"/><stop offset="0.2133" stop-color="#ffff00"/><stop offset="0.2133" stop-color="#ffe2b6"/><stop offset="0.4734" stop-color="#ffe2b6"/><stop offset="0.4734" stop-color="#90fa96"/><stop offset="0.6314" stop-color="#8bf9a4"/><stop offset="0.763" stop-color="#80f8c0"/><stop offset="0.8525" stop-color="#71f0d7"/><stop offset="0.921" stop-color="#61e9df"/><stop offset="0.9631" stop-color="#58e0e8"/><stop offset="1" stop-color="#4fd7f0"/></linearGradient>
<linearGradient id="c22" gradientUnits="userSpaceOnUse" x1="135.8" x2="943.2" y1="0" y2="0"><stop offset="0" stop-color="#ffd300"/><stop offset="0.06027" stop-color="#ffd800"/><stop offset="0.1004" stop-color="#ffe000"/><stop offset="0.1306" stop-color="#ffe800"/><stop offset="0.1567" stop-color="#fff000"/><stop offset="0.1808" stop-color="#fff800"/><stop offset="0.2009" stop-color="#ffff00"/><stop offset="0.2009" stop-color="#ffe2b6"/><stop offset="0.4337" stop-color="#ffe2b6"/><stop offset="0.4337" stop-color="#90fa96"/><stop offset="0.6036" stop-color="#8af9a6"/><stop offset="0.7452" stop-color="#7ef7c4"/><stop offset="0.8414" stop-color="#6deeda"/><stop offset="0.9151" stop-color="#5ce4e4"/><stop offset="0.9604" stop-color="#52daee"/><stop offset="1" stop-color="#47cff0"/></linearGradient>
<linearGradient id="c23" gradientUnits="userSpaceOnUse" x1="135.8" x2="943.2" y1="0" y2="0"><stop offset="0" stop-color="#ffcd00"/><stop offset="0.05952" stop-color="#ffd300"/><stop offset="0.09921" stop-color="#ffdc00"/><stop offset="0.129" stop-color="#ffe500"/><stop offset="0.1548" stop-color="#ffee00"/><stop offset="0.1786" stop-color="#fff700"/><stop offset="0.1984" stop-color="#ffff00"/><stop offset="0.1984" stop-color="#ffe2b6"/><stop offset="0.4288" stop-color="#ffe2b6"/><stop offset="0.4288" stop-color="#90fa96"/><stop offset="0.6001" stop-color="#89f9a8"/><stop offset="0.743" stop-color="#7af5c9"/><stop offset="0.8401" stop-color="#66ebdd"/><stop offset="0.9143" stop-color="#54dcec"/><stop offset="0.96" stop-color="#48d0f0"/><stop offset="1" stop-color="#38c3f2"/></linearGradient>
<linearGradient id="c24" gradientUnits="userSpaceOnUse" x1="135.8" x2="943.2" y1="0" y2="0"><stop offset="0" stop-color="#ffc500"/><stop offset="0.0677" stop-color="#ffcc00"/><stop offset="0.1128" stop-color="#ffd700"/><stop offset="0.1467" stop-color="#ffe100"/><stop offset="0.176" stop-color="#ffeb00"/><stop offset="0.2031" stop-color="#fff500"/><stop offset="0.2257" stop-color="#ffff00"/><stop offset="0.2257" stop-color="#ffe2b6"/><stop offset="0.5353" stop-color="#ffe2b6"/><stop offset="0.5353" stop-color="#90fa96"/><stop offset="0.6747" stop-color="#8af9a6"/><stop offset="0.7909" stop-color="#7cf6c6"/><stop offset="0.8699" stop-color="#6aeddb"/><stop offset="0.9303" stop-color="#59e1e7"/><stop offset="0.9675" stop-color="#4ed6f0"/><stop offset="1" stop-color="#42caf0"/></linearGradient>
<linearGradient id="c25" gradientUnits="userSpaceOnUse" x1="135.8" x2="943.2" y1="0" y2="0"><stop offset="0" stop-color="#ffbc00"/><stop offset="0.07587" stop-color="#ffc500"/><stop offset="0.1265" stop-color="#ffd100"/><stop offset="0.1644" stop-color="#ffdc00"/><stop offset="0.1973" stop-color="#ffe800"/><stop offset="0.2276" stop-color="#fff400"/><stop offset="0.2529" stop-color="#ffff00"/><stop offset="0.2529" stop-color="#ffe2b6"/><stop offset="0.6047" stop-color="#ffe2b6"/><stop offset="0.6047" stop-color="#90fa96"/><stop offset="0.7233" stop-color="#8bf9a4"/><stop offset="0.8221" stop-color="#80f8c0"/><stop offset="0.8893" stop-color="#71f1d6"/><stop offset="0.9407" stop-color="#62e9df"/><stop offset="0.9723" stop-color="#58e0e8"/><stop offset="1" stop-color="#50d8f0"/></linearGradient>
<linearGradient id="c26" gradientUnits="userSpaceOnUse" x1="135.8" x2="943.2" y1="0" y2="0"><stop offset="0" stop-color="#ffb400"/><stop offset="0.0833" stop-color="#ffbe00"/><stop offset="0.1388" stop-color="#ffcb00"/><stop offset="0.1805" stop-color="#ffd800"/><stop offset="0.2166" stop-color="#ffe500"/><stop offset="0.2499" stop-color="#fff300"/><stop offset="0.2777" stop-color="#ffff00"/><stop offset="0.2777" stop-color="#ffe2b6"/><stop offset="0.6542" stop-color="#ffe2b6"/><stop offset="0.6542" stop-color="#90fa96"/><stop offset="0.7579" stop-color="#8bf9a2"/><stop offset="0.8444" stop-color="#82f8bb"/><stop offset="0.9032" stop-color="#76f3d0"/><stop offset="0.9481" stop-color="#69ecdc"/><stop offset="0.9758" stop-color="#5fe7e1"/><stop offset="1" stop-color="#58e0e8"/></linearGradient>
<linearGradient id="c27" gradientUnits="userSpaceOnUse" x1="135.8" x2="943.2" y1="0" y2="0"><stop offset="0" stop-color="#ffae00"/><stop offset="0.09222" stop-color="#ffb800"/><stop offset="0.1537" stop-color="#ffc700"/><stop offset="0.1998" stop-color="#ffd500"/><stop offset="0.2398" stop-color="#ffe300"/><stop offset="0.2767" stop-color="#fff200"/><stop offset="0.3074" stop-color="#ffff00"/><stop offset="0.3074" stop-color="#ffe2b6"/><stop offset="0.6914" stop-color="#ffe2b6"/><stop offset="0.6914" stop-color="#90fa96"/><stop offset="0.7839" stop-color="#8cf9a1"/><stop offset="0.8611" stop-color="#83f8b8"/><stop offset="0.9136" stop-color="#78f4cc"/><stop offset="0.9537" stop-color="#6deeda"/><stop offset="0.9784" stop-color="#64eade"/><stop offset="1" stop-color="#5de5e3"/></linearGradient>
<linearGradient id="c28" gradientUnits="userSpaceOnUse" x1="135.8" x2="943.2" y1="0" y2="0"><stop offset="0" stop-color="#ffa400"/><stop offset="0.1041" stop-color="#ffaf00"/><stop offset="0.1735" stop-color="#ffc000"/><stop offset="0.2256" stop-color="#ffd000"/><stop offset="0.2707" stop-color="#ffe000"/><stop offset="0.3123" stop-color="#fff000"/><stop offset="0.347" stop-color="#ffff00"/><stop offset="0.347" stop-color="#ffe2b6"/><stop offset="0.7211" stop-color="#ffe2b6"/><stop offset="0.7211" stop-color="#90fa96"/><stop offset="0.8048" stop-color="#8cfaa0"/><stop offset="0.8745" stop-color="#85f9b3"/><stop offset="0.9219" stop-color="#7df7c4"/><stop offset="0.9582" stop-color="#74f2d2"/><stop offset="0.9805" stop-color="#6eefd9"/><stop offset="1" stop-color="#67ebdd"/></linearGradient>
<linearGradient id="c29" gradientUnits="userSpaceOnUse" x1="135.8" x2="943.2" y1="0" y2="0"><stop offset="0" stop-color="#ff9300"/><stop offset="0.1175" stop-color="#ffa400"/><stop offset="0.1958" stop-color="#ffb600"/><stop offset="0.2546" stop-color="#ffc900"/><stop offset="0.3055" stop-color="#ffdb00"/><stop offset="0.3525" stop-color="#ffee00"/><stop offset="0.3916" stop-color="#ffff00"/><stop offset="0.3916" stop-color="#ffe2b6"/><stop offset="0.7483" stop-color="#ffe2b6"/><stop offset="0.7483" stop-color="#90fa96"/><stop offset="0.8238" stop-color="#8efa9d"/><stop offset="0.8867" stop-color="#89f9aa"/><stop offset="0.9295" stop-color="#84f8b6"/><stop offset="0.9622" stop-color="#80f8c1"/><stop offset="0.9824" stop-color="#7bf6c7"/><stop offset="1" stop-color="#77f4cd"/></linearGradient>
<linearGradient id="c30" gradientUnits="userSpaceOnUse" x1="135.8" x2="943.2" y1="0" y2="0"><stop offset="0" stop-color="#ff8800"/><stop offset="0.1331" stop-color="#ff9a00"/><stop offset="0.2218" stop-color="#ffb000"/><stop offset="0.2884" stop-color="#ffc400"/><stop offset="0.346" stop-color="#ffd800"/><stop offset="0.3993" stop-color="#ffec00"/><stop offset="0.4436" stop-color="#ffff00"/><stop offset="0.4436" stop-color="#ffe2b6"/><stop offset="0.7756" stop-color="#ffe2b6"/><stop offset="0.7756" stop-color="#90fa96"/><stop offset="0.8429" stop-color="#8efa9c"/><stop offset="0.899" stop-color="#89f9a7"/><stop offset="0.9372" stop-color="#85f9b2"/><stop offset="0.9663" stop-color="#82f8bb"/><stop offset="0.9843" stop-color="#7ff7c2"/><stop offset="1" stop-color="#7bf6c7"/></linearGradient>
<linearGradient id="c31" gradientUnits="userSpaceOnUse" x1="135.8" x2="943.2" y1="0" y2="0"><stop offset="0" stop-color="#ff8000"/><stop offset="0.1524" stop-color="#ff9300"/><stop offset="0.254" stop-color="#ffac00"/><stop offset="0.3302" stop-color="#ffc100"/><stop offset="0.3963" stop-color="#ffd600"/><stop offset="0.4572" stop-color="#ffeb00"/><stop offset="0.5081" stop-color="#ffff00"/><stop offset="0.5081" stop-color="#ffe2b6"/><stop offset="0.8003" stop-color="#ffe2b6"/><stop offset="0.8003" stop-color="#90fa96"/><stop offset="0.8602" stop-color="#8efa9c"/><stop offset="0.9102" stop-color="#8af9a7"/><stop offset="0.9441" stop-color="#86f9b1"/><stop offset="0.9701" stop-color="#82f8bb"/><stop offset="0.986" stop-color="#7ff8c1"/><stop offset="1" stop-color="#7cf6c6"/></linearGradient>
<linearGradient id="c32" gradientUnits="userSpaceOnUse" x1="135.8" x2="943.2" y1="0" y2="0"><stop offset="0" stop-color="#ff7a00"/><stop offset="0.1703" stop-color="#ff8f00"/><stop offset="0.2838" stop-color="#ffaa00"/><stop offset="0.3689" stop-color="#ffbf00"/><stop offset="0.4427" stop-color="#ffd500"/><stop offset="0.5108" stop-color="#ffeb00"/><stop offset="0.5675" stop-color="#ffff00"/><stop offset="0.5675" stop-color="#ffe2b6"/><stop offset="0.8276" stop-color="#ffe2b6"/><stop offset="0.8276" stop-color="#90fa96"/><stop offset="0.8793" stop-color="#8efa9c"/><stop offset="0.9224" stop-color="#89f9a9"/><stop offset="0.9517" stop-color="#84f9b5"/><stop offset="0.9741" stop-color="#80f8bf"/><stop offset="0.9879" stop-color="#7cf6c5"/><stop offset="1" stop-color="#78f4cb"/></linearGradient>
<linearGradient id="c33" gradientUnits="userSpaceOnUse" x1="135.8" x2="943.2" y1="0" y2="0"><stop offset="0" stop-color="#ff7400"/><stop offset="0.1859" stop-color="#ff8b00"/><stop offset="0.3098" stop-color="#ffa800"/><stop offset="0.4027" stop-color="#ffbe00"/><stop offset="0.4832" stop-color="#ffd400"/><stop offset="0.5576" stop-color="#ffeb00"/><stop offset="0.6195" stop-color="#ffff00"/><stop offset="0.6195" stop-color="#ffe2b6"/><stop offset="0.8524" stop-color="#ffe2b6"/><stop offset="0.8524" stop-color="#90fa96"/><stop offset="0.8967" stop-color="#8dfa9d"/><stop offset="0.9336" stop-color="#89f9aa"/><stop offset="0.9587" stop-color="#84f8b6"/><stop offset="0.9779" stop-color="#7ff8c1"/><stop offset="0.9897" stop-color="#7bf6c7"/><stop offset="1" stop-color="#77f4cd"/></linearGradient>
<linearGradient id="c34" gradientUnits="userSpaceOnUse" x1="135.8" x2="943.2" y1="0" y2="0"><stop offset="0" stop-color="#ff7000"/><stop offset="0.1992" stop-color="#ff8800"/><stop offset="0.3321" stop-color="#ffa600"/><stop offset="0.4317" stop-color="#ffbd00"/><stop offset="0.518" stop-color="#ffd300"/><stop offset="0.5977" stop-color="#ffea00"/><stop offset="0.6641" stop-color="#ffff00"/><stop offset="0.6641" stop-color="#ffe2b6"/><stop offset="0.8747" stop-color="#ffe2b6"/><stop offset="0.8747" stop-color="#90fa96"/><stop offset="0.9123" stop-color="#8efa9d"/><stop offset="0.9436" stop-color="#89f9a9"/><stop offset="0.9649" stop-color="#84f8b6"/><stop offset="0.9812" stop-color="#80f8c0"/><stop offset="0.9912" stop-color="#7bf6c7"/><stop offset="1" stop-color="#77f4cd"/></linearGradient>
<linearGradient id="c35" gradientUnits="userSpaceOnUse" x1="135.8" x2="943.2" y1="0" y2="0"><stop offset="0" stop-color="#ff6900"/><stop offset="0.2044" stop-color="#ff8400"/><stop offset="0.3407" stop-color="#ffa400"/><stop offset="0.4429" stop-color="#ffbc00"/><stop offset="0.5315" stop-color="#ffd300"/><stop offset="0.6133" stop-color="#ffea00"/><stop offset="0.6814" stop-color="#ffff00"/><stop offset="0.6814" stop-color="#ffe2b6"/><stop offset="0.892" stop-color="#ffe2b6"/><stop offset="0.892" stop-color="#90fa96"/><stop offset="0.9244" stop-color="#8efa9c"/><stop offset="0.9514" stop-color="#89f9a8"/><stop offset="0.9698" stop-color="#85f9b3"/><stop offset="0.9838" stop-color="#81f8bd"/><stop offset="0.9924" stop-color="#7ef7c4"/><stop offset="1" stop-color="#7af5c9"/></linearGradient>
<linearGradient id="c36" gradientUnits="userSpaceOnUse" x1="135.8" x2="943.2" y1="0" y2="0"><stop offset="0" stop-color="#ff5b00"/><stop offset="0.2089" stop-color="#ff7b00"/><stop offset="0.3482" stop-color="#ff9f00"/><stop offset="0.4526" stop-color="#ffb900"/><stop offset="0.5431" stop-color="#ffd200"/><stop offset="0.6267" stop-color="#ffea00"/><stop offset="0.6963" stop-color="#ffff00"/><stop offset="0.6963" stop-color="#ffe2b6"/><stop offset="0.9044" stop-color="#ffe2b6"/><stop offset="0.9044" stop-color="#90fa96"/><stop offset="0.9331" stop-color="#8ffa99"/><stop offset="0.957" stop-color="#8cfaa0"/><stop offset="0.9732" stop-color="#8af9a7"/><stop offset="0.9857" stop-color="#87f9ad"/><stop offset="0.9933" stop-color="#86f9b1"/><stop offset="1" stop-color="#84f9b4"/></linearGradient>
<linearGradient id="c37" gradientUnits="userSpaceOnUse" x1="135.8" x2="943.2" y1="0" y2="0"><stop offset="0" stop-color="#ff5700"/><stop offset="0.2044" stop-color="#ff7900"/><stop offset="0.3407" stop-color="#ff9e00"/><stop offset="0.4429" stop-color="#ffb900"/><stop offset="0.5315" stop-color="#ffd100"/><stop offset="0.6133" stop-color="#ffea00"/><stop offset="0.6814" stop-color="#ffff00"/><stop offset="0.6814" stop-color="#ffe2b6"/><stop offset="0.8945" stop-color="#ffe2b6"/><stop offset="0.8945" stop-color="#90fa96"/><stop offset="0.9261" stop-color="#8ffa99"/><stop offset="0.9525" stop-color="#8dfa9e"/><stop offset="0.9705" stop-color="#8bf9a3"/><stop offset="0.9842" stop-color="#89f9a8"/><stop offset="0.9926" stop-color="#88f9ab"/><stop offset="1" stop-color="#87f9ad"/></linearGradient>
<linearGradient id="c38" gradientUnits="userSpaceOnUse" x1="135.8" x2="943.2" y1="0" y2="0"><stop offset="0" stop-color="#ff5d00"/><stop offset="0.1985" stop-color="#ff7c00"/><stop offset="0.3308" stop-color="#ffa000"/><stop offset="0.4301" stop-color="#ffba00"/><stop offset="0.5161" stop-color="#ffd200"/><stop offset="0.5955" stop-color="#ffea00"/><stop offset="0.6616" stop-color="#ffff00"/><stop offset="0.6616" stop-color="#ffe2b6"/><stop offset="0.8821" stop-color="#ffe2b6"/><stop offset="0.8821" stop-color="#90fa96"/><stop offset="0.9175" stop-color="#8ffa99"/><stop offset="0.9469" stop-color="#8cfaa0"/><stop offset="0.967" stop-color="#8af9a5"/><stop offset="0.9823" stop-color="#88f9ab"/><stop offset="0.9917" stop-color="#87f9af"/><stop offset="1" stop-color="#85f9b2"/></linearGradient>
<linearGradient id="c39" gradientUnits="userSpaceOnUse" x1="135.8" x2="943.2" y1="0" y2="0"><stop offset="0" stop-color="#ff6700"/><stop offset="0.1925" stop-color="#ff8200"/><stop offset="0.3209" stop-color="#ffa300"/><stop offset="0.4172" stop-color="#ffbb00"/><stop offset="0.5006" stop-color="#ffd300"/><stop offset="0.5776" stop-color="#ffea00"/><stop offset="0.6418" stop-color="#ffff00"/><stop offset="0.6418" stop-color="#ffe2b6"/><stop offset="0.8722" stop-color="#ffe2b6"/><stop offset="0.8722" stop-color="#90fa96"/><stop offset="0.9105" stop-color="#8ffa9a"/><stop offset="0.9425" stop-color="#8cf9a1"/><stop offset="0.9642" stop-color="#89f9a8"/><stop offset="0.9808" stop-color="#87f9ae"/><stop offset="0.9911" stop-color="#85f9b2"/><stop offset="1" stop-color="#84f8b6"/></linearGradient>
<linearGradient id="c40" gradientUnits="userSpaceOnUse" x1="135.8" x2="943.2" y1="0" y2="0"><stop offset="0" stop-color="#ff6d00"/><stop offset="0.1866" stop-color="#ff8600"/><stop offset="0.311" stop-color="#ffa500"/><stop offset="0.4043" stop-color="#ffbc00"/><stop offset="0.4852" stop-color="#ffd300"/><stop offset="0.5598" stop-color="#ffea00"/><stop offset="0.622" stop-color="#ffff00"/><stop offset="0.622" stop-color="#ffe2b6"/><stop offset="0.8648" stop-color="#ffe2b6"/><stop offset="0.8648" stop-color="#90fa96"/><stop offset="0.9053" stop-color="#8ffa9a"/><stop offset="0.9391" stop-color="#8cf9a1"/><stop offset="0.9621" stop-color="#8af9a7"/><stop offset="0.9797" stop-color="#87f9ad"/><stop offset="0.9905" stop-color="#86f9b1"/><stop offset="1" stop-color="#84f9b5"/></linearGradient>
<linearGradient id="c41" gradientUnits="userSpaceOnUse" x1="135.8" x2="943.2" y1="0" y2="0"><stop offset="0" stop-color="#ff7600"/><stop offset="0.1807" stop-color="#ff8c00"/><stop offset="0.3011" stop-color="#ffa800"/><stop offset="0.3914" stop-color="#ffbe00"/><stop offset="0.4697" stop-color="#ffd400"/><stop offset="0.542" stop-color="#ffeb00"/><stop offset="0.6022" stop-color="#ffff00"/><stop offset="0.6022" stop-color="#ffe2b6"/><stop offset="0.8573" stop-color="#ffe2b6"/><stop offset="0.8573" stop-color="#90fa96"/><stop offset="0.9001" stop-color="#8ffa9a"/><stop offset="0.9358" stop-color="#8cf9a1"/><stop offset="0.96" stop-color="#89f9a8"/><stop offset="0.9786" stop-color="#87f9ae"/><stop offset="0.99" stop-color="#85f9b3"/><stop offset="1" stop-color="#84f8b7"/></linearGradient>
<linearGradient id="c42" gradientUnits="userSpaceOnUse" x1="135.8" x2="943.2" y1="0" y2="0"><stop offset="0" stop-color="#ff7e00"/><stop offset="0.1732" stop-color="#ff9200"/><stop offset="0.2887" stop-color="#ffab00"/><stop offset="0.3753" stop-color="#ffc000"/><stop offset="0.4504" stop-color="#ffd500"/><stop offset="0.5197" stop-color="#ffeb00"/><stop offset="0.5774" stop-color="#ffff00"/><stop offset="0.5774" stop-color="#ffe2b6"/><stop offset="0.8499" stop-color="#ffe2b6"/><stop offset="0.8499" stop-color="#90fa96"/><stop offset="0.8949" stop-color="#8efa9b"/><stop offset="0.9324" stop-color="#8bf9a4"/><stop offset="0.958" stop-color="#87f9ac"/><stop offset="0.9775" stop-color="#84f9b4"/><stop offset="0.9895" stop-color="#82f8ba"/><stop offset="1" stop-color="#81f8be"/></linearGradient>
<linearGradient id="c43" gradientUnits="userSpaceOnUse" x1="135.8" x2="943.2" y1="0" y2="0"><stop offset="0" stop-color="#ff8100"/><stop offset="0.1658" stop-color="#ff9500"/><stop offset="0.2763" stop-color="#ffad00"/><stop offset="0.3592" stop-color="#ffc200"/><stop offset="0.4311" stop-color="#ffd600"/><stop offset="0.4974" stop-color="#ffec00"/><stop offset="0.5526" stop-color="#ffff00"/><stop offset="0.5526" stop-color="#ffe2b6"/><stop offset="0.84" stop-color="#ffe2b6"/><stop offset="0.84" stop-color="#90fa96"/><stop offset="0.888" stop-color="#8efa9b"/><stop offset="0.928" stop-color="#8bf9a4"/><stop offset="0.9552" stop-color="#87f9ac"/><stop offset="0.976" stop-color="#84f9b4"/><stop offset="0.9888" stop-color="#82f8ba"/><stop offset="1" stop-color="#81f8bf"/></linearGradient>
<linearGradient id="c44" gradientUnits="userSpaceOnUse" x1="135.8" x2="943.2" y1="0" y2="0"><stop offset="0" stop-color="#ff8200"/><stop offset="0.1584" stop-color="#ff9600"/><stop offset="0.2639" stop-color="#ffae00"/><stop offset="0.3431" stop-color="#ffc200"/><stop offset="0.4117" stop-color="#ffd600"/><stop offset="0.4751" stop-color="#ffec00"/><stop offset="0.5279" stop-color="#ffff00"/><stop offset="0.5279" stop-color="#ffe2b6"/><stop offset="0.8301" stop-color="#ffe2b6"/><stop offset="0.8301" stop-color="#90fa96"/><stop offset="0.8811" stop-color="#8efa9a"/><stop offset="0.9235" stop-color="#8bf9a2"/><stop offset="0.9524" stop-color="#88f9aa"/><stop offset="0.9745" stop-color="#86f9b1"/><stop offset="0.9881" stop-color="#84f8b6"/><stop offset="1" stop-color="#82f8ba"/></linearGradient>
<linearGradient id="c45" gradientUnits="userSpaceOnUse" x1="135.8" x2="943.2" y1="0" y2="0"><stop offset="0" stop-color="#ff8200"/><stop offset="0.1517" stop-color="#ff9500"/><stop offset="0.2528" stop-color="#ffad00"/><stop offset="0.3286" stop-color="#ffc200"/><stop offset="0.3943" stop-color="#ffd600"/><stop offset="0.455" stop-color="#ffec00"/><stop offset="0.5056" stop-color="#ffff00"/><stop offset="0.5056" stop-color="#ffe2b6"/><stop offset="0.8251" stop-color="#ffe2b6"/><stop offset="0.8251" stop-color="#90fa96"/><stop offset="0.8776" stop-color="#8ffa9a"/><stop offset="0.9213" stop-color="#8cf9a1"/><stop offset="0.951" stop-color="#89f9a8"/><stop offset="0.9738" stop-color="#87f9af"/><stop offset="0.9878" stop-color="#85f9b3"/><stop offset="1" stop-color="#83f8b7"/></linearGradient>
<linearGradient id="c46" gradientUnits="userSpaceOnUse" x1="135.8" x2="943.2" y1="0" y2="0"><stop offset="0" stop-color="#ff8600"/><stop offset="0.1487" stop-color="#ff9900"/><stop offset="0.2478" stop-color="#ffb000"/><stop offset="0.3222" stop-color="#ffc300"/><stop offset="0.3866" stop-color="#ffd700"/><stop offset="0.4461" stop-color="#ffec00"/><stop offset="0.4957" stop-color="#ffff00"/><stop offset="0.4957" stop-color="#ffe2b6"/><stop offset="0.8202" stop-color="#ffe2b6"/><stop offset="0.8202" stop-color="#90fa96"/><stop offset="0.8741" stop-color="#8efa9b"/><stop offset="0.9191" stop-color="#8bf9a4"/><stop offset="0.9496" stop-color="#87f9ad"/><stop offset="0.973" stop-color="#84f9b4"/><stop offset="0.9874" stop-color="#82f8ba"/><stop offset="1" stop-color="#80f8bf"/></linearGradient>
<linearGradient id="c47" gradientUnits="userSpaceOnUse" x1="135.8" x2="943.2" y1="0" y2="0"><stop offset="0" stop-color="#ff8600"/><stop offset="0.1517" stop-color="#ff9800"/><stop offset="0.2528" stop-color="#ffaf00"/><stop offset="0.3286" stop-color="#ffc300"/><stop offset="0.3943" stop-color="#ffd700"/><stop offset="0.455" stop-color="#ffec00"/><stop offset="0.5056" stop-color="#ffff00"/><stop offset="0.5056" stop-color="#ffe2b6"/><stop offset="0.8177" stop-color="#ffe2b6"/><stop offset="0.8177" stop-color="#90fa96"/><stop offset="0.8724" stop-color="#8efa9b"/><stop offset="0.918" stop-color="#8bf9a4"/><stop offset="0.949" stop-color="#88f9ac"/><stop offset="0.9727" stop-color="#85f9b4"/><stop offset="0.9872" stop-color="#83f8b9"/><stop offset="1" stop-color="#81f8be"/></linearGradient>
<linearGradient id="c48" gradientUnits="userSpaceOnUse" x1="135.8" x2="943.2" y1="0" y2="0"><stop offset="0" stop-color="#ff8200"/><stop offset="0.1554" stop-color="#ff9500"/><stop offset="0.259" stop-color="#ffad00"/><stop offset="0.3367" stop-color="#ffc200"/><stop offset="0.404" stop-color="#ffd600"/><stop offset="0.4662" stop-color="#ffec00"/><stop offset="0.518" stop-color="#ffff00"/><stop offset="0.518" stop-color="#ffe2b6"/><stop offset="0.8226" stop-color="#ffe2b6"/><stop offset="0.8226" stop-color="#90fa96"/><stop offset="0.8758" stop-color="#8ffa9a"/><stop offset="0.9202" stop-color="#8cf9a1"/><stop offset="0.9503" stop-color="#89f9a8"/><stop offset="0.9734" stop-color="#87f9ae"/><stop offset="0.9876" stop-color="#85f9b3"/><stop offset="1" stop-color="#84f8b7"/></linearGradient>
<linearGradient id="c49" gradientUnits="userSpaceOnUse" x1="135.8" x2="943.2" y1="0" y2="0"><stop offset="0" stop-color="#ff7900"/><stop offset="0.1598" stop-color="#ff8e00"/><stop offset="0.2664" stop-color="#ffa900"/><stop offset="0.3463" stop-color="#ffbf00"/><stop offset="0.4156" stop-color="#ffd500"/><stop offset="0.4795" stop-color="#ffeb00"/><stop offset="0.5328" stop-color="#ffff00"/><stop offset="0.5328" stop-color="#ffe2b6"/><stop offset="0.8301" stop-color="#ffe2b6"/><stop offset="0.8301" stop-color="#90fa96"/><stop offset="0.8811" stop-color="#8ffa98"/><stop offset="0.9235" stop-color="#8efa9b"/><stop offset="0.9524" stop-color="#8dfa9e"/><stop offset="0.9745" stop-color="#8cf9a1"/><stop offset="0.9881" stop-color="#8bf9a3"/><stop offset="1" stop-color="#8af9a5"/></linearGradient>
<linearGradient id="c50" gradientUnits="userSpaceOnUse" x1="135.8" x2="943.2" y1="0" y2="0"><stop offset="0" stop-color="#ff7c00"/><stop offset="0.1539" stop-color="#ff9000"/><stop offset="0.2565" stop-color="#ffaa00"/><stop offset="0.3335" stop-color="#ffc000"/><stop offset="0.4001" stop-color="#ffd500"/><stop offset="0.4617" stop-color="#ffeb00"/><stop offset="0.513" stop-color="#ffff00"/><stop offset="0.513" stop-color="#ffe2b6"/><stop offset="0.8251" stop-color="#ffe2b6"/><stop offset="0.8251" stop-color="#90fa96"/><stop offset="0.8776" stop-color="#90fa97"/><stop offset="0.9213" stop-color="#8ffa9a"/><stop offset="0.951" stop-color="#8efa9c"/><stop offset="0.9738" stop-color="#8dfa9e"/><stop offset="0.9878" stop-color="#8cfa9f"/><stop offset="1" stop-color="#8cfaa0"/></linearGradient>
<linearGradient id="c51" gradientUnits="userSpaceOnUse" x1="135.8" x2="943.2" y1="0" y2="0"><stop offset="0" stop-color="#ff8500"/><stop offset="0.145" stop-color="#ff9800"/><stop offset="0.2416" stop-color="#ffaf00"/><stop offset="0.3141" stop-color="#ffc300"/><stop offset="0.377" stop-color="#ffd700"/><stop offset="0.435" stop-color="#ffec00"/><stop offset="0.4833" stop-color="#ffff00"/><stop offset="0.4833" stop-color="#ffe2b6"/><stop offset="0.8177" stop-color="#ffe2b6"/><stop offset="0.8177" stop-color="#90fa96"/><stop offset="0.8724" stop-color="#90fa97"/><stop offset="0.918" stop-color="#8ffa9a"/><stop offset="0.949" stop-color="#8efa9c"/><stop offset="0.9727" stop-color="#8dfa9e"/><stop offset="0.9872" stop-color="#8cfa9f"/><stop offset="1" stop-color="#8cfaa0"/></linearGradient>
<linearGradient id="c52" gradientUnits="userSpaceOnUse" x1="135.8" x2="943.2" y1="0" y2="0"><stop offset="0" stop-color="#ff8e00"/><stop offset="0.1346" stop-color="#ffa000"/><stop offset="0.2243" stop-color="#ffb400"/><stop offset="0.2916" stop-color="#ffc700"/><stop offset="0.3499" stop-color="#ffda00"/><stop offset="0.4037" stop-color="#ffed00"/><stop offset="0.4486" stop-color="#ffff00"/><stop offset="0.4486" stop-color="#ffe2b6"/><stop offset="0.8078" stop-color="#ffe2b6"/><stop offset="0.8078" stop-color="#90fa96"/><stop offset="0.8654" stop-color="#90fa97"/><stop offset="0.9135" stop-color="#8ffa9a"/><stop offset="0.9462" stop-color="#8efa9c"/><stop offset="0.9712" stop-color="#8dfa9e"/><stop offset="0.9865" stop-color="#8cfa9f"/><stop offset="1" stop-color="#8cfaa0"/></linearGradient>
<linearGradient id="c53" gradientUnits="userSpaceOnUse" x1="135.8" x2="943.2" y1="0" y2="0"><stop offset="0" stop-color="#ff9d00"/><stop offset="0.1242" stop-color="#ffab00"/><stop offset="0.207" stop-color="#ffbc00"/><stop offset="0.269" stop-color="#ffcd00"/><stop offset="0.3229" stop-color="#ffde00"/><stop offset="0.3725" stop-color="#ffef00"/><stop offset="0.4139" stop-color="#ffff00"/><stop offset="0.4139" stop-color="#ffe2b6"/><stop offset="0.7929" stop-color="#ffe2b6"/><stop offset="0.7929" stop-color="#90fa96"/><stop offset="0.855" stop-color="#8ffa99"/><stop offset="0.9068" stop-color="#8dfa9e"/><stop offset="0.942" stop-color="#8bf9a2"/><stop offset="0.9689" stop-color="#8af9a7"/><stop offset="0.9855" stop-color="#89f9a9"/><stop offset="1" stop-color="#88f9ac"/></linearGradient>
<linearGradient id="c54" gradientUnits="userSpaceOnUse" x1="135.8" x2="943.2" y1="0" y2="0"><stop offset="0" stop-color="#ffaa00"/><stop offset="0.1153" stop-color="#ffb500"/><stop offset="0.1921" stop-color="#ffc400"/><stop offset="0.2497" stop-color="#ffd300"/><stop offset="0.2997" stop-color="#ffe200"/><stop offset="0.3458" stop-color="#fff100"/><stop offset="0.3842" stop-color="#ffff00"/><stop offset="0.3842" stop-color="#ffe2b6"/><stop offset="0.7781" stop-color="#ffe2b6"/><stop offset="0.7781" stop-color="#90fa96"/><stop offset="0.8446" stop-color="#8ffa99"/><stop offset="0.9001" stop-color="#8cfaa0"/><stop offset="0.9379" stop-color="#8af9a6"/><stop offset="0.9667" stop-color="#88f9ac"/><stop offset="0.9845" stop-color="#86f9b0"/><stop offset="1" stop-color="#85f9b3"/></linearGradient>
<linearGradient id="c55" gradientUnits="userSpaceOnUse" x1="135.8" x2="943.2" y1="0" y2="0"><stop offset="0" stop-color="#ffb700"/><stop offset="0.1063" stop-color="#ffc000"/><stop offset="0.1772" stop-color="#ffcd00"/><stop offset="0.2304" stop-color="#ffda00"/><stop offset="0.2765" stop-color="#ffe600"/><stop offset="0.319" stop-color="#fff300"/><stop offset="0.3545" stop-color="#ffff00"/><stop offset="0.3545" stop-color="#ffe2b6"/><stop offset="0.7607" stop-color="#ffe2b6"/><stop offset="0.7607" stop-color="#90fa96"/><stop offset="0.8325" stop-color="#8efa9b"/><stop offset="0.8923" stop-color="#8af9a6"/><stop offset="0.933" stop-color="#86f9b0"/><stop offset="0.9641" stop-color="#82f8ba"/><stop offset="0.9832" stop-color="#80f8c0"/><stop offset="1" stop-color="#7df6c5"/></linearGradient>
<linearGradient id="c56" gradientUnits="userSpaceOnUse" x1="135.8" x2="943.2" y1="0" y2="0"><stop offset="0" stop-color="#ffc000"/><stop offset="0.09817" stop-color="#ffc800"/><stop offset="0.1636" stop-color="#ffd300"/><stop offset="0.2127" stop-color="#ffde00"/><stop offset="0.2552" stop-color="#ffe900"/><stop offset="0.2945" stop-color="#fff500"/><stop offset="0.3272" stop-color="#ffff00"/><stop offset="0.3272" stop-color="#ffe2b6"/><stop offset="0.7359" stop-color="#ffe2b6"/><stop offset="0.7359" stop-color="#90fa96"/><stop offset="0.8152" stop-color="#8efa9c"/><stop offset="0.8812" stop-color="#89f9a7"/><stop offset="0.9261" stop-color="#85f9b2"/><stop offset="0.9604" stop-color="#82f8bc"/><stop offset="0.9815" stop-color="#7ff7c2"/><stop offset="1" stop-color="#7bf6c7"/></linearGradient>
<linearGradient id="c57" gradientUnits="userSpaceOnUse" x1="135.8" x2="943.2" y1="0" y2="0"><stop offset="0" stop-color="#ffca00"/><stop offset="0.08999" stop-color="#ffd100"/><stop offset="0.15" stop-color="#ffda00"/><stop offset="0.195" stop-color="#ffe300"/><stop offset="0.234" stop-color="#ffed00"/><stop offset="0.27" stop-color="#fff600"/><stop offset="0.3" stop-color="#ffff00"/><stop offset="0.3" stop-color="#ffe2b6"/><stop offset="0.7087" stop-color="#ffe2b6"/><stop offset="0.7087" stop-color="#90fa96"/><stop offset="0.7961" stop-color="#8dfa9e"/><stop offset="0.8689" stop-color="#87f9ae"/><stop offset="0.9184" stop-color="#81f8bd"/><stop offset="0.9563" stop-color="#7af5c9"/><stop offset="0.9796" stop-color="#75f2d1"/><stop offset="1" stop-color="#70f0d8"/></linearGradient>
<linearGradient id="c58" gradientUnits="userSpaceOnUse" x1="135.8" x2="943.2" y1="0" y2="0"><stop offset="0" stop-color="#ffcf00"/><stop offset="0.08256" stop-color="#ffd500"/><stop offset="0.1376" stop-color="#ffde00"/><stop offset="0.1789" stop-color="#ffe600"/><stop offset="0.2147" stop-color="#ffee00"/><stop offset="0.2477" stop-color="#fff700"/><stop offset="0.2752" stop-color="#ffff00"/><stop offset="0.2752" stop-color="#ffe2b6"/><stop offset="0.6616" stop-color="#ffe2b6"/><stop offset="0.6616" stop-color="#90fa96"/><stop offset="0.7631" stop-color="#8dfa9e"/><stop offset="0.8477" stop-color="#87f9ad"/><stop offset="0.9053" stop-color="#82f8bc"/><stop offset="0.9492" stop-color="#7bf5c8"/><stop offset="0.9763" stop-color="#76f3cf"/><stop offset="1" stop-color="#71f1d6"/></linearGradient>
<linearGradient id="c59" gradientUnits="userSpaceOnUse" x1="135.8" x2="943.2" y1="0" y2="0"><stop offset="0" stop-color="#ffd400"/><stop offset="0.07439" stop-color="#ffda00"/><stop offset="0.124" stop-color="#ffe100"/><stop offset="0.1612" stop-color="#ffe900"/><stop offset="0.1934" stop-color="#fff000"/><stop offset="0.2232" stop-color="#fff800"/><stop offset="0.248" stop-color="#ffff00"/><stop offset="0.248" stop-color="#ffe2b6"/><stop offset="0.6121" stop-color="#ffe2b6"/><stop offset="0.6121" stop-color="#90fa96"/><stop offset="0.7285" stop-color="#8dfa9e"/><stop offset="0.8254" stop-color="#87f9ad"/><stop offset="0.8914" stop-color="#82f8bb"/><stop offset="0.9418" stop-color="#7cf6c7"/><stop offset="0.9728" stop-color="#77f3ce"/><stop offset="1" stop-color="#72f1d5"/></linearGradient>
<linearGradient id="c60" gradientUnits="userSpaceOnUse" x1="135.8" x2="943.2" y1="0" y2="0"><stop offset="0" stop-color="#ffda00"/><stop offset="0.06696" stop-color="#ffdf00"/><stop offset="0.1116" stop-color="#ffe600"/><stop offset="0.1451" stop-color="#ffec00"/><stop offset="0.1741" stop-color="#fff200"/><stop offset="0.2009" stop-color="#fff900"/><stop offset="0.2232" stop-color="#ffff00"/><stop offset="0.2232" stop-color="#ffe2b6"/><stop offset="0.5625" stop-color="#ffe2b6"/><stop offset="0.5625" stop-color="#90fa96"/><stop offset="0.6938" stop-color="#8dfa9d"/><stop offset="0.8031" stop-color="#88f9ab"/><stop offset="0.8775" stop-color="#83f8b8"/><stop offset="0.9344" stop-color="#7ef7c3"/><stop offset="0.9694" stop-color="#7af5ca"/><stop offset="1" stop-color="#75f3d0"/></linearGradient>
<linearGradient id="c61" gradientUnits="userSpaceOnUse" x1="135.8" x2="943.2" y1="0" y2="0"><stop offset="0" stop-color="#ffe100"/><stop offset="0.06027" stop-color="#ffe500"/><stop offset="0.1004" stop-color="#ffea00"/><stop offset="0.1306" stop-color="#ffef00"/><stop offset="0.1567" stop-color="#fff500"/><stop offset="0.1808" stop-color="#fffa00"/><stop offset="0.2009" stop-color="#ffff00"/><stop offset="0.2009" stop-color="#ffe2b6"/><stop offset="0.5477" stop-color="#ffe2b6"/><stop offset="0.5477" stop-color="#90fa96"/><stop offset="0.6834" stop-color="#8efa9c"/><stop offset="0.7965" stop-color="#8af9a7"/><stop offset="0.8734" stop-color="#85f9b2"/><stop offset="0.9322" stop-color="#82f8bb"/><stop offset="0.9683" stop-color="#7ff7c2"/><stop offset="1" stop-color="#7cf6c7"/></linearGradient>
<linearGradient id="c62" gradientUnits="userSpaceOnUse" x1="135.8" x2="943.2" y1="0" y2="0"><stop offset="0" stop-color="#ffe800"/><stop offset="0.05432" stop-color="#ffeb00"/><stop offset="0.09054" stop-color="#ffef00"/><stop offset="0.1177" stop-color="#fff300"/><stop offset="0.1412" stop-color="#fff700"/><stop offset="0.163" stop-color="#fffb00"/><stop offset="0.1811" stop-color="#ffff00"/><stop offset="0.1811" stop-color="#ffe2b6"/><stop offset="0.5625" stop-color="#ffe2b6"/><stop offset="0.5625" stop-color="#90fa96"/><stop offset="0.6938" stop-color="#8efa9c"/><stop offset="0.8031" stop-color="#8af9a7"/><stop offset="0.8775" stop-color="#86f9b2"/><stop offset="0.9344" stop-color="#82f8bb"/><stop offset="0.9694" stop-color="#7ff8c1"/><stop offset="1" stop-color="#7cf6c7"/></linearGradient>
<linearGradient id="c63" gradientUnits="userSpaceOnUse" x1="135.8" x2="943.2" y1="0" y2="0"><stop offset="0" stop-color="#ffeb00"/><stop offset="0.05135" stop-color="#ffee00"/><stop offset="0.08558" stop-color="#fff100"/><stop offset="0.1113" stop-color="#fff500"/><stop offset="0.1335" stop-color="#fff800"/><stop offset="0.1541" stop-color="#fffc00"/><stop offset="0.1712" stop-color="#ffff00"/><stop offset="0.1712" stop-color="#ffe2b6"/><stop offset="0.5997" stop-color="#ffe2b6"/><stop offset="0.5997" stop-color="#90fa96"/><stop offset="0.7198" stop-color="#8efa9b"/><stop offset="0.8199" stop-color="#8af9a5"/><stop offset="0.8879" stop-color="#87f9ae"/><stop offset="0.94" stop-color="#84f8b6"/><stop offset="0.972" stop-color="#82f8bc"/><stop offset="1" stop-color="#80f8c1"/></linearGradient>
<linearGradient id="c64" gradientUnits="userSpaceOnUse" x1="135.8" x2="943.2" y1="0" y2="0"><stop offset="0" stop-color="#ffe800"/><stop offset="0.05507" stop-color="#ffeb00"/><stop offset="0.09178" stop-color="#ffef00"/><stop offset="0.1193" stop-color="#fff300"/><stop offset="0.1432" stop-color="#fff700"/><stop offset="0.1652" stop-color="#fffb00"/><stop offset="0.1836" stop-color="#ffff00"/><stop offset="0.1836" stop-color="#ffe2b6"/><stop offset="0.6393" stop-color="#ffe2b6"/><stop offset="0.6393" stop-color="#90fa96"/><stop offset="0.7475" stop-color="#8efa9c"/><stop offset="0.8377" stop-color="#8af9a7"/><stop offset="0.899" stop-color="#86f9b1"/><stop offset="0.9459" stop-color="#82f8ba"/><stop offset="0.9748" stop-color="#80f8c1"/><stop offset="1" stop-color="#7cf6c6"/></linearGradient>
<linearGradient id="c65" gradientUnits="userSpaceOnUse" x1="135.8" x2="943.2" y1="0" y2="0"><stop offset="0" stop-color="#ffe400"/><stop offset="0.05804" stop-color="#ffe800"/><stop offset="0.09673" stop-color="#ffec00"/><stop offset="0.1257" stop-color="#fff100"/><stop offset="0.1509" stop-color="#fff600"/><stop offset="0.1741" stop-color="#fffb00"/><stop offset="0.1935" stop-color="#ffff00"/><stop offset="0.1935" stop-color="#ffe2b6"/><stop offset="0.6814" stop-color="#ffe2b6"/><stop offset="0.6814" stop-color="#90fa96"/><stop offset="0.777" stop-color="#8efa9c"/><stop offset="0.8567" stop-color="#8af9a7"/><stop offset="0.9108" stop-color="#86f9b1"/><stop offset="0.9522" stop-color="#82f8ba"/><stop offset="0.9777" stop-color="#80f8c1"/><stop offset="1" stop-color="#7cf6c6"/></linearGradient>
<linearGradient id="c66" gradientUnits="userSpaceOnUse" x1="135.8" x2="943.2" y1="0" y2="0"><stop offset="0" stop-color="#ffe000"/><stop offset="0.06547" stop-color="#ffe400"/><stop offset="0.1091" stop-color="#ffea00"/><stop offset="0.1419" stop-color="#ffef00"/><stop offset="0.1702" stop-color="#fff400"/><stop offset="0.1964" stop-color="#fffa00"/><stop offset="0.2182" stop-color="#ffff00"/><stop offset="0.2182" stop-color="#ffe2b6"/><stop offset="0.7136" stop-color="#ffe2b6"/><stop offset="0.7136" stop-color="#90fa96"/><stop offset="0.7996" stop-color="#8efa9b"/><stop offset="0.8711" stop-color="#8af9a6"/><stop offset="0.9198" stop-color="#86f9b0"/><stop offset="0.957" stop-color="#83f8b9"/><stop offset="0.98" stop-color="#80f8bf"/><stop offset="1" stop-color="#7df7c4"/></linearGradient>
<linearGradient id="c67" gradientUnits="userSpaceOnUse" x1="135.8" x2="943.2" y1="0" y2="0"><stop offset="0" stop-color="#ffda00"/><stop offset="0.07513" stop-color="#ffdf00"/><stop offset="0.1252" stop-color="#ffe600"/><stop offset="0.1628" stop-color="#ffec00"/><stop offset="0.1953" stop-color="#fff200"/><stop offset="0.2254" stop-color="#fff900"/><stop offset="0.2504" stop-color="#ffff00"/><stop offset="0.2504" stop-color="#ffe2b6"/><stop offset="0.7483" stop-color="#ffe2b6"/><stop offset="0.7483" stop-color="#90fa96"/><stop offset="0.8238" stop-color="#8ffa9a"/><stop offset="0.8867" stop-color="#8cf9a2"/><stop offset="0.9295" stop-color="#89f9a9"/><stop offset="0.9622" stop-color="#86f9af"/><stop offset="0.9824" stop-color="#85f9b4"/><stop offset="1" stop-color="#83f8b8"/></linearGradient>
<linearGradient id="c68" gradientUnits="userSpaceOnUse" x1="135.8" x2="943.2" y1="0" y2="0"><stop offset="0" stop-color="#ffd500"/><stop offset="0.08553" stop-color="#ffdb00"/><stop offset="0.1426" stop-color="#ffe200"/><stop offset="0.1853" stop-color="#ffe900"/><stop offset="0.2224" stop-color="#fff100"/><stop offset="0.2566" stop-color="#fff800"/><stop offset="0.2851" stop-color="#ffff00"/><stop offset="0.2851" stop-color="#ffe2b6"/><stop offset="0.7855" stop-color="#ffe2b6"/><stop offset="0.7855" stop-color="#90fa96"/><stop offset="0.8498" stop-color="#8ffa99"/><stop offset="0.9035" stop-color="#8cfaa0"/><stop offset="0.9399" stop-color="#8af9a7"/><stop offset="0.9678" stop-color="#87f9ad"/><stop offset="0.985" stop-color="#86f9b1"/><stop offset="1" stop-color="#84f9b4"/></linearGradient>
<linearGradient id="c69" gradientUnits="userSpaceOnUse" x1="135.8" x2="943.2" y1="0" y2="0"><stop offset="0" stop-color="#ffd100"/><stop offset="0.09519" stop-color="#ffd700"/><stop offset="0.1587" stop-color="#ffdf00"/><stop offset="0.2063" stop-color="#ffe700"/><stop offset="0.2475" stop-color="#ffef00"/><stop offset="0.2856" stop-color="#fff700"/><stop offset="0.3173" stop-color="#ffff00"/><stop offset="0.3173" stop-color="#ffe2b6"/><stop offset="0.8202" stop-color="#ffe2b6"/><stop offset="0.8202" stop-color="#90fa96"/><stop offset="0.8741" stop-color="#8ffa99"/><stop offset="0.9191" stop-color="#8cfaa0"/><stop offset="0.9496" stop-color="#8af9a6"/><stop offset="0.973" stop-color="#88f9ac"/><stop offset="0.9874" stop-color="#86f9b0"/><stop offset="1" stop-color="#85f9b3"/></linearGradient>
<linearGradient id="c70" gradientUnits="userSpaceOnUse" x1="135.8" x2="943.2" y1="0" y2="0"><stop offset="0" stop-color="#ffcd00"/><stop offset="0.1034" stop-color="#ffd400"/><stop offset="0.1723" stop-color="#ffdd00"/><stop offset="0.224" stop-color="#ffe500"/><stop offset="0.2688" stop-color="#ffee00"/><stop offset="0.3101" stop-color="#fff700"/><stop offset="0.3446" stop-color="#ffff00"/><stop offset="0.3446" stop-color="#ffe2b6"/><stop offset="0.8449" stop-color="#ffe2b6"/><stop offset="0.8449" stop-color="#90fa96"/><stop offset="0.8915" stop-color="#8efa9a"/><stop offset="0.9302" stop-color="#8bf9a2"/><stop offset="0.9566" stop-color="#88f9aa"/><stop offset="0.9767" stop-color="#86f9b1"/><stop offset="0.9891" stop-color="#84f8b6"/><stop offset="1" stop-color="#82f8ba"/></linearGradient>
<linearGradient id="c71" gradientUnits="userSpaceOnUse" x1="135.8" x2="943.2" y1="0" y2="0"><stop offset="0" stop-color="#ffc600"/><stop offset="0.1108" stop-color="#ffcd00"/><stop offset="0.1847" stop-color="#ffd700"/><stop offset="0.2401" stop-color="#ffe100"/><stop offset="0.2881" stop-color="#ffeb00"/><stop offset="0.3324" stop-color="#fff600"/><stop offset="0.3693" stop-color="#ffff00"/><stop offset="0.3693" stop-color="#ffe2b6"/><stop offset="0.8672" stop-color="#ffe2b6"/><stop offset="0.8672" stop-color="#90fa96"/><stop offset="0.9071" stop-color="#8ffa99"/><stop offset="0.9403" stop-color="#8dfa9e"/><stop offset="0.9628" stop-color="#8bf9a4"/><stop offset="0.9801" stop-color="#89f9a9"/><stop offset="0.9907" stop-color="#88f9ac"/><stop offset="1" stop-color="#87f9af"/></linearGradient>
<linearGradient id="c72" gradientUnits="userSpaceOnUse" x1="135.8" x2="943.2" y1="0" y2="0"><stop offset="0" stop-color="#ffc100"/><stop offset="0.119" stop-color="#ffc900"/><stop offset="0.1983" stop-color="#ffd400"/><stop offset="0.2578" stop-color="#ffdf00"/><stop offset="0.3093" stop-color="#ffea00"/><stop offset="0.3569" stop-color="#fff500"/><stop offset="0.3966" stop-color="#ffff00"/><stop offset="0.3966" stop-color="#ffe2b6"/><stop offset="0.8821" stop-color="#ffe2b6"/><stop offset="0.8821" stop-color="#90fa96"/><stop offset="0.9175" stop-color="#8ffa99"/><stop offset="0.9469" stop-color="#8cfaa0"/><stop offset="0.967" stop-color="#8af9a6"/><stop offset="0.9823" stop-color="#88f9ac"/><stop offset="0.9917" stop-color="#86f9b0"/><stop offset="1" stop-color="#85f9b4"/></linearGradient>
<linearGradient id="c73" gradientUnits="userSpaceOnUse" x1="135.8" x2="943.2" y1="0" y2="0"><stop offset="0" stop-color="#ffbb00"/><stop offset="0.1294" stop-color="#ffc400"/><stop offset="0.2156" stop-color="#ffd000"/><stop offset="0.2803" stop-color="#ffdc00"/><stop offset="0.3364" stop-color="#ffe800"/><stop offset="0.3881" stop-color="#fff400"/><stop offset="0.4313" stop-color="#ffff00"/><stop offset="0.4313" stop-color="#ffe2b6"/><stop offset="0.8945" stop-color="#ffe2b6"/><stop offset="0.8945" stop-color="#90fa96"/><stop offset="0.9261" stop-color="#8ffa9a"/><stop offset="0.9525" stop-color="#8cf9a1"/><stop offset="0.9705" stop-color="#89f9a7"/><stop offset="0.9842" stop-color="#87f9ad"/><stop offset="0.9926" stop-color="#86f9b1"/><stop offset="1" stop-color="#84f9b5"/></linearGradient>
<linearGradient id="c74" gradientUnits="userSpaceOnUse" x1="135.8" x2="943.2" y1="0" y2="0"><stop offset="0" stop-color="#ffb700"/><stop offset="0.142" stop-color="#ffc000"/><stop offset="0.2367" stop-color="#ffcd00"/><stop offset="0.3077" stop-color="#ffda00"/><stop offset="0.3692" stop-color="#ffe600"/><stop offset="0.426" stop-color="#fff300"/><stop offset="0.4734" stop-color="#ffff00"/><stop offset="0.4734" stop-color="#ffe2b6"/><stop offset="0.8821" stop-color="#ffe2b6"/><stop offset="0.8821" stop-color="#90fa96"/><stop offset="0.9175" stop-color="#8efa9b"/><stop offset="0.9469" stop-color="#8bf9a4"/><stop offset="0.967" stop-color="#87f9ad"/><stop offset="0.9823" stop-color="#84f9b5"/><stop offset="0.9917" stop-color="#82f8ba"/><stop offset="1" stop-color="#80f8bf"/></linearGradient>
<linearGradient id="c75" gradientUnits="userSpaceOnUse" x1="135.8" x2="943.2" y1="0" y2="0"><stop offset="0" stop-color="#ffbd00"/><stop offset="0.1227" stop-color="#ffc600"/><stop offset="0.2045" stop-color="#ffd200"/><stop offset="0.2658" stop-color="#ffdd00"/><stop offset="0.319" stop-color="#ffe800"/><stop offset="0.3681" stop-color="#fff400"/><stop offset="0.409" stop-color="#ffff00"/><stop offset="0.409" stop-color="#ffe2b6"/><stop offset="0.8623" stop-color="#ffe2b6"/><stop offset="0.8623" stop-color="#90fa96"/><stop offset="0.9036" stop-color="#8efa9b"/><stop offset="0.938" stop-color="#8af9a6"/><stop offset="0.9614" stop-color="#86f9b0"/><stop offset="0.9793" stop-color="#83f8b9"/><stop offset="0.9904" stop-color="#80f8bf"/><stop offset="1" stop-color="#7df7c4"/></linearGradient>
<linearGradient id="c76" gradientUnits="userSpaceOnUse" x1="135.8" x2="943.2" y1="0" y2="0"><stop offset="0" stop-color="#ffcb00"/><stop offset="0.1056" stop-color="#ffd200"/><stop offset="0.176" stop-color="#ffdb00"/><stop offset="0.2288" stop-color="#ffe400"/><stop offset="0.2746" stop-color="#ffed00"/><stop offset="0.3168" stop-color="#fff700"/><stop offset="0.352" stop-color="#ffff00"/><stop offset="0.352" stop-color="#ffe2b6"/><stop offset="0.8226" stop-color="#ffe2b6"/><stop offset="0.8226" stop-color="#90fa96"/><stop offset="0.8758" stop-color="#8dfa9d"/><stop offset="0.9202" stop-color="#88f9ab"/><stop offset="0.9503" stop-color="#83f8b9"/><stop offset="0.9734" stop-color="#7df7c4"/><stop offset="0.9876" stop-color="#79f4cb"/><stop offset="1" stop-color="#74f2d2"/></linearGradient>
<linearGradient id="c77" gradientUnits="userSpaceOnUse" x1="135.8" x2="943.2" y1="0" y2="0"><stop offset="0" stop-color="#ffd700"/><stop offset="0.08925" stop-color="#ffdc00"/><stop offset="0.1487" stop-color="#ffe300"/><stop offset="0.1934" stop-color="#ffea00"/><stop offset="0.232" stop-color="#fff100"/><stop offset="0.2677" stop-color="#fff800"/><stop offset="0.2975" stop-color="#ffff00"/><stop offset="0.2975" stop-color="#ffe2b6"/><stop offset="0.7756" stop-color="#ffe2b6"/><stop offset="0.7756" stop-color="#90fa96"/><stop offset="0.8429" stop-color="#8dfa9e"/><stop offset="0.899" stop-color="#87f9ac"/><stop offset="0.9372" stop-color="#82f8bb"/><stop offset="0.9663" stop-color="#7cf6c6"/><stop offset="0.9843" stop-color="#77f3ce"/><stop offset="1" stop-color="#72f1d5"/></linearGradient>
<linearGradient id="c78" gradientUnits="userSpaceOnUse" x1="135.8" x2="943.2" y1="0" y2="0"><stop offset="0" stop-color="#ffe100"/><stop offset="0.07587" stop-color="#ffe500"/><stop offset="0.1265" stop-color="#ffea00"/><stop offset="0.1644" stop-color="#ffef00"/><stop offset="0.1973" stop-color="#fff500"/><stop offset="0.2276" stop-color="#fffa00"/><stop offset="0.2529" stop-color="#ffff00"/><stop offset="0.2529" stop-color="#ffe2b6"/><stop offset="0.7285" stop-color="#ffe2b6"/><stop offset="0.7285" stop-color="#90fa96"/><stop offset="0.81" stop-color="#8dfa9f"/><stop offset="0.8778" stop-color="#86f9b1"/><stop offset="0.924" stop-color="#7ff8c1"/><stop offset="0.9593" stop-color="#76f3ce"/><stop offset="0.981" stop-color="#71f0d7"/><stop offset="1" stop-color="#6aeddb"/></linearGradient>
<linearGradient id="c79" gradientUnits="userSpaceOnUse" x1="135.8" x2="943.2" y1="0" y2="0"><stop offset="0" stop-color="#ffdf00"/><stop offset="0.06324" stop-color="#ffe300"/><stop offset="0.1054" stop-color="#ffe900"/><stop offset="0.137" stop-color="#ffef00"/><stop offset="0.1644" stop-color="#fff400"/><stop offset="0.1897" stop-color="#fffa00"/><stop offset="0.2108" stop-color="#ffff00"/><stop offset="0.2108" stop-color="#ffe2b6"/><stop offset="0.6839" stop-color="#ffe2b6"/><stop offset="0.6839" stop-color="#90fa96"/><stop offset="0.7787" stop-color="#8dfa9f"/><stop offset="0.8578" stop-color="#86f9b1"/><stop offset="0.9115" stop-color="#7ff7c2"/><stop offset="0.9526" stop-color="#76f3cf"/><stop offset="0.9779" stop-color="#70f0d8"/><stop offset="1" stop-color="#6aeddb"/></linearGradient>
<linearGradient id="c80" gradientUnits="userSpaceOnUse" x1="135.8" x2="943.2" y1="0" y2="0"><stop offset="0" stop-color="#ffde00"/><stop offset="0.05804" stop-color="#ffe300"/><stop offset="0.09673" stop-color="#ffe800"/><stop offset="0.1257" stop-color="#ffee00"/><stop offset="0.1509" stop-color="#fff400"/><stop offset="0.1741" stop-color="#fffa00"/><stop offset="0.1935" stop-color="#ffff00"/><stop offset="0.1935" stop-color="#ffe2b6"/><stop offset="0.6814" stop-color="#ffe2b6"/><stop offset="0.6814" stop-color="#90fa96"/><stop offset="0.777" stop-color="#8cfaa0"/><stop offset="0.8567" stop-color="#84f9b4"/><stop offset="0.9108" stop-color="#7cf6c6"/><stop offset="0.9522" stop-color="#72f1d5"/><stop offset="0.9777" stop-color="#6beddb"/><stop offset="1" stop-color="#63eade"/></linearGradient>
<linearGradient id="c81" gradientUnits="userSpaceOnUse" x1="135.8" x2="943.2" y1="0" y2="0"><stop offset="0" stop-color="#ffde00"/><stop offset="0.05878" stop-color="#ffe200"/><stop offset="0.09797" stop-color="#ffe800"/><stop offset="0.1274" stop-color="#ffee00"/><stop offset="0.1528" stop-color="#fff300"/><stop offset="0.1763" stop-color="#fffa00"/><stop offset="0.1959" stop-color="#ffff00"/><stop offset="0.1959" stop-color="#ffe2b6"/><stop offset="0.6864" stop-color="#ffe2b6"/><stop offset="0.6864" stop-color="#90fa96"/><stop offset="0.7805" stop-color="#8cf9a1"/><stop offset="0.8589" stop-color="#84f8b6"/><stop offset="0.9122" stop-color="#7bf5c8"/><stop offset="0.953" stop-color="#70f0d8"/><stop offset="0.978" stop-color="#68ecdc"/><stop offset="1" stop-color="#61e8e0"/></linearGradient>
<linearGradient id="c82" gradientUnits="userSpaceOnUse" x1="135.8" x2="943.2" y1="0" y2="0"><stop offset="0" stop-color="#ffde00"/><stop offset="0.06621" stop-color="#ffe200"/><stop offset="0.1104" stop-color="#ffe800"/><stop offset="0.1435" stop-color="#ffee00"/><stop offset="0.1722" stop-color="#fff400"/><stop offset="0.1986" stop-color="#fffa00"/><stop offset="0.2207" stop-color="#ffff00"/><stop offset="0.2207" stop-color="#ffe2b6"/><stop offset="0.6914" stop-color="#ffe2b6"/><stop offset="0.6914" stop-color="#90fa96"/><stop offset="0.7839" stop-color="#8cf9a2"/><stop offset="0.8611" stop-color="#83f8b9"/><stop offset="0.9136" stop-color="#78f4cc"/><stop offset="0.9537" stop-color="#6ceeda"/><stop offset="0.9784" stop-color="#63eade"/><stop offset="1" stop-color="#5ce4e4"/></linearGradient>
<linearGradient id="c83" gradientUnits="userSpaceOnUse" x1="135.8" x2="943.2" y1="0" y2="0"><stop offset="0" stop-color="#ffdd00"/><stop offset="0.06547" stop-color="#ffe200"/><stop offset="0.1091" stop-color="#ffe800"/><stop offset="0.1419" stop-color="#ffee00"/><stop offset="0.1702" stop-color="#fff300"/><stop offset="0.1964" stop-color="#fff900"/><stop offset="0.2182" stop-color="#ffff00"/><stop offset="0.2182" stop-color="#ffe2b6"/><stop offset="0.6666" stop-color="#ffe2b6"/><stop offset="0.6666" stop-color="#90fa96"/><stop offset="0.7666" stop-color="#8bf9a2"/><stop offset="0.85" stop-color="#82f8ba"/><stop offset="0.9066" stop-color="#77f3ce"/><stop offset="0.95" stop-color="#6aeddb"/><stop offset="0.9767" stop-color="#61e9df"/><stop offset="1" stop-color="#5ae2e6"/></linearGradient>
<linearGradient id="c84" gradientUnits="userSpaceOnUse" x1="135.8" x2="943.2" y1="0" y2="0"><stop offset="0" stop-color="#ffdd00"/><stop offset="0.06175" stop-color="#ffe100"/><stop offset="0.1029" stop-color="#ffe700"/><stop offset="0.1338" stop-color="#ffed00"/><stop offset="0.1606" stop-color="#fff300"/><stop offset="0.1853" stop-color="#fff900"/><stop offset="0.2058" stop-color="#ffff00"/><stop offset="0.2058" stop-color="#ffe2b6"/><stop offset="0.6393" stop-color="#ffe2b6"/><stop offset="0.6393" stop-color="#90fa96"/><stop offset="0.7475" stop-color="#8bf9a2"/><stop offset="0.8377" stop-color="#82f8ba"/><stop offset="0.899" stop-color="#76f3cf"/><stop offset="0.9459" stop-color="#6aeddb"/><stop offset="0.9748" stop-color="#61e8e0"/><stop offset="1" stop-color="#59e1e7"/></linearGradient>
<linearGradient id="c85" gradientUnits="userSpaceOnUse" x1="135.8" x2="943.2" y1="0" y2="0"><stop offset="0" stop-color="#ffdd00"/><stop offset="0.05804" stop-color="#ffe200"/><stop offset="0.09673" stop-color="#ffe800"/><stop offset="0.1257" stop-color="#ffee00"/><stop offset="0.1509" stop-color="#fff300"/><stop offset="0.1741" stop-color="#fffa00"/><stop offset="0.1935" stop-color="#ffff00"/><stop offset="0.1935" stop-color="#ffe2b6"/><stop offset="0.6022" stop-color="#ffe2b6"/><stop offset="0.6022" stop-color="#90fa96"/><stop offset="0.7215" stop-color="#8bf9a4"/><stop offset="0.821" stop-color="#80f8bf"/><stop offset="0.8886" stop-color="#72f1d5"/><stop offset="0.9403" stop-color="#63e9df"/><stop offset="0.9722" stop-color="#5ae2e6"/><stop offset="1" stop-color="#51d9ef"/></linearGradient>
<linearGradient id="c86" gradientUnits="userSpaceOnUse" x1="135.8" x2="943.2" y1="0" y2="0"><stop offset="0" stop-color="#ffe000"/><stop offset="0.05432" stop-color="#ffe400"/><stop offset="0.09054" stop-color="#ffea00"/><stop offset="0.1177" stop-color="#ffef00"/><stop offset="0.1412" stop-color="#fff400"/><stop offset="0.163" stop-color="#fffa00"/><stop offset="0.1811" stop-color="#ffff00"/><stop offset="0.1811" stop-color="#ffe2b6"/><stop offset="0.5625" stop-color="#ffe2b6"/><stop offset="0.5625" stop-color="#90fa96"/><stop offset="0.6938" stop-color="#89f9a7"/><stop offset="0.8031" stop-color="#7bf5c8"/><stop offset="0.8775" stop-color="#68ecdc"/><stop offset="0.9344" stop-color="#56deea"/><stop offset="0.9694" stop-color="#4ad2f0"/><stop offset="1" stop-color="#3dc6f1"/></linearGradient>
<linearGradient id="c87" gradientUnits="userSpaceOnUse" x1="135.8" x2="943.2" y1="0" y2="0"><stop offset="0" stop-color="#ffe100"/><stop offset="0.05284" stop-color="#ffe500"/><stop offset="0.08806" stop-color="#ffea00"/><stop offset="0.1145" stop-color="#ffef00"/><stop offset="0.1374" stop-color="#fff500"/><stop offset="0.1585" stop-color="#fffa00"/><stop offset="0.1761" stop-color="#ffff00"/><stop offset="0.1761" stop-color="#ffe2b6"/><stop offset="0.5229" stop-color="#ffe2b6"/><stop offset="0.5229" stop-color="#90fa96"/><stop offset="0.666" stop-color="#89f9a9"/><stop offset="0.7853" stop-color="#78f4cc"/><stop offset="0.8664" stop-color="#62e9df"/><stop offset="0.9284" stop-color="#4fd7f0"/><stop offset="0.9666" stop-color="#41c9f0"/><stop offset="1" stop-color="#2bbbf4"/></linearGradient>
<linearGradient id="c88" gradientUnits="userSpaceOnUse" x1="135.8" x2="943.2" y1="0" y2="0"><stop offset="0" stop-color="#ffe000"/><stop offset="0.05135" stop-color="#ffe400"/><stop offset="0.08558" stop-color="#ffea00"/><stop offset="0.1113" stop-color="#ffef00"/><stop offset="0.1335" stop-color="#fff400"/><stop offset="0.1541" stop-color="#fffa00"/><stop offset="0.1712" stop-color="#ffff00"/><stop offset="0.1712" stop-color="#ffe2b6"/><stop offset="0.5477" stop-color="#ffe2b6"/><stop offset="0.5477" stop-color="#90fa96"/><stop offset="0.6834" stop-color="#88f9aa"/><stop offset="0.7965" stop-color="#76f3cf"/><stop offset="0.8734" stop-color="#5fe7e1"/><stop offset="0.9322" stop-color="#4cd4f0"/><stop offset="0.9683" stop-color="#3ac5f1"/><stop offset="1" stop-color="#22b6f6"/></linearGradient>
<linearGradient id="c89" gradientUnits="userSpaceOnUse" x1="135.8" x2="943.2" y1="0" y2="0"><stop offset="0" stop-color="#ffdf00"/><stop offset="0.05358" stop-color="#ffe300"/><stop offset="0.0893" stop-color="#ffe900"/><stop offset="0.1161" stop-color="#ffee00"/><stop offset="0.1393" stop-color="#fff400"/><stop offset="0.1607" stop-color="#fffa00"/><stop offset="0.1786" stop-color="#ffff00"/><stop offset="0.1786" stop-color="#ffe2b6"/><stop offset="0.5799" stop-color="#ffe2b6"/><stop offset="0.5799" stop-color="#90fa96"/><stop offset="0.7059" stop-color="#89f9aa"/><stop offset="0.8109" stop-color="#77f3ce"/><stop offset="0.8824" stop-color="#60e8e0"/><stop offset="0.937" stop-color="#4cd4f0"/><stop offset="0.9706" stop-color="#3cc6f1"/><stop offset="1" stop-color="#24b7f6"/></linearGradient>
<linearGradient id="c90" gradientUnits="userSpaceOnUse" x1="135.8" x2="943.2" y1="0" y2="0"><stop offset="0" stop-color="#ffdf00"/><stop offset="0.05432" stop-color="#ffe300"/><stop offset="0.09054" stop-color="#ffe900"/><stop offset="0.1177" stop-color="#ffee00"/><stop offset="0.1412" stop-color="#fff400"/><stop offset="0.163" stop-color="#fffa00"/><stop offset="0.1811" stop-color="#ffff00"/><stop offset="0.1811" stop-color="#ffe2b6"/><stop offset="0.565" stop-color="#ffe2b6"/><stop offset="0.565" stop-color="#90fa96"/><stop offset="0.6955" stop-color="#88f9ab"/><stop offset="0.8043" stop-color="#74f2d1"/><stop offset="0.8782" stop-color="#5ce4e4"/><stop offset="0.9348" stop-color="#47cff0"/><stop offset="0.9696" stop-color="#31bff3"/><stop offset="1" stop-color="#18aff8"/></linearGradient>
<linearGradient id="c91" gradientUnits="userSpaceOnUse" x1="135.8" x2="943.2" y1="0" y2="0"><stop offset="0" stop-color="#ffe700"/><stop offset="0.04615" stop-color="#ffea00"/><stop offset="0.07691" stop-color="#ffef00"/><stop offset="0.09999" stop-color="#fff300"/><stop offset="0.12" stop-color="#fff700"/><stop offset="0.1384" stop-color="#fffb00"/><stop offset="0.1538" stop-color="#ffff00"/><stop offset="0.1538" stop-color="#ffe2b6"/><stop offset="0.4511" stop-color="#ffe2b6"/><stop offset="0.4511" stop-color="#90fa96"/><stop offset="0.6158" stop-color="#88f9aa"/><stop offset="0.753" stop-color="#75f3d0"/><stop offset="0.8463" stop-color="#5ee6e2"/><stop offset="0.9177" stop-color="#49d1f0"/><stop offset="0.9616" stop-color="#35c2f2"/><stop offset="1" stop-color="#1db3f7"/></linearGradient>
<linearGradient id="c92" gradientUnits="userSpaceOnUse" x1="135.8" x2="943.2" y1="0" y2="0"><stop offset="0" stop-color="#fff400"/><stop offset="0.03129" stop-color="#fff500"/><stop offset="0.05214" stop-color="#fff700"/><stop offset="0.06779" stop-color="#fff900"/><stop offset="0.08134" stop-color="#fffb00"/><stop offset="0.09386" stop-color="#fffd00"/><stop offset="0.1043" stop-color="#ffff00"/><stop offset="0.1043" stop-color="#ffe2b6"/><stop offset="0.3743" stop-color="#ffe2b6"/><stop offset="0.3743" stop-color="#90fa96"/><stop offset="0.562" stop-color="#89f9aa"/><stop offset="0.7184" stop-color="#77f3ce"/><stop offset="0.8248" stop-color="#60e8e0"/><stop offset="0.9061" stop-color="#4dd5f0"/><stop offset="0.9562" stop-color="#3cc6f1"/><stop offset="1" stop-color="#25b8f5"/></linearGradient>
<linearGradient id="c93" gradientUnits="userSpaceOnUse" x1="135.8" x2="943.2" y1="0" y2="0"><stop offset="0" stop-color="#fff700"/><stop offset="0.01494" stop-color="#fff800"/><stop offset="0.02489" stop-color="#fff900"/><stop offset="0.03236" stop-color="#fffb00"/><stop offset="0.03884" stop-color="#fffc00"/><stop offset="0.04481" stop-color="#fffe00"/><stop offset="0.04979" stop-color="#ffff00"/><stop offset="0.04979" stop-color="#ffe2b6"/><stop offset="0.3173" stop-color="#ffe2b6"/><stop offset="0.3173" stop-color="#90fa96"/><stop offset="0.5221" stop-color="#89f9a9"/><stop offset="0.6928" stop-color="#78f4cb"/><stop offset="0.8088" stop-color="#63eade"/><stop offset="0.8976" stop-color="#51d9ef"/><stop offset="0.9522" stop-color="#43cbf0"/><stop offset="1" stop-color="#2fbef3"/></linearGradient>
<linearGradient id="c94" gradientUnits="userSpaceOnUse" x1="135.8" x2="943.2" y1="0" y2="0"><stop offset="0" stop-color="#ffe2b6"/><stop offset="0.3074" stop-color="#ffe2b6"/><stop offset="0.3074" stop-color="#90fa96"/><stop offset="0.5152" stop-color="#8af9a7"/><stop offset="0.6883" stop-color="#7bf6c7"/><stop offset="0.8061" stop-color="#68ecdc"/><stop offset="0.8961" stop-color="#57dfe9"/><stop offset="0.9515" stop-color="#4bd3f0"/><stop offset="1" stop-color="#3fc8f0"/></linearGradient>
<linearGradient id="c95" gradientUnits="userSpaceOnUse" x1="135.8" x2="943.2" y1="0" y2="0"><stop offset="0" stop-color="#fff700"/><stop offset="0.006019" stop-color="#fff800"/><stop offset="0.01003" stop-color="#fff900"/><stop offset="0.01304" stop-color="#fffb00"/><stop offset="0.01565" stop-color="#fffc00"/><stop offset="0.01806" stop-color="#fffe00"/><stop offset="0.02006" stop-color="#ffff00"/><stop offset="0.02006" stop-color="#ffe2b6"/><stop offset="0.3619" stop-color="#ffe2b6"/><stop offset="0.3619" stop-color="#90fa96"/><stop offset="0.5533" stop-color="#8af9a5"/><stop offset="0.7129" stop-color="#7ef7c3"/><stop offset="0.8213" stop-color="#6eefd9"/><stop offset="0.9043" stop-color="#5de5e3"/><stop offset="0.9553" stop-color="#53dbed"/><stop offset="1" stop-color="#49d1f0"/></linearGradient>
<linearGradient id="c96" gradientUnits="userSpaceOnUse" x1="135.8" x2="943.2" y1="0" y2="0"><stop offset="0" stop-color="#fff300"/><stop offset="0.02162" stop-color="#fff500"/><stop offset="0.03604" stop-color="#fff700"/><stop offset="0.04685" stop-color="#fff900"/><stop offset="0.05622" stop-color="#fffb00"/><stop offset="0.06487" stop-color="#fffd00"/><stop offset="0.07208" stop-color="#ffff00"/><stop offset="0.07208" stop-color="#ffe2b6"/><stop offset="0.4313" stop-color="#ffe2b6"/><stop offset="0.4313" stop-color="#90fa96"/><stop offset="0.6019" stop-color="#8bf9a4"/><stop offset="0.7441" stop-color="#80f8bf"/><stop offset="0.8408" stop-color="#72f1d5"/><stop offset="0.9147" stop-color="#63eade"/><stop offset="0.9602" stop-color="#5ae2e6"/><stop offset="1" stop-color="#52daee"/></linearGradient>
<linearGradient id="c97" gradientUnits="userSpaceOnUse" x1="135.8" x2="943.2" y1="0" y2="0"><stop offset="0" stop-color="#ffee00"/><stop offset="0.03129" stop-color="#fff000"/><stop offset="0.05214" stop-color="#fff300"/><stop offset="0.06779" stop-color="#fff600"/><stop offset="0.08134" stop-color="#fff900"/><stop offset="0.09386" stop-color="#fffc00"/><stop offset="0.1043" stop-color="#ffff00"/><stop offset="0.1043" stop-color="#ffe2b6"/><stop offset="0.4907" stop-color="#ffe2b6"/><stop offset="0.4907" stop-color="#90fa96"/><stop offset="0.6435" stop-color="#8cf9a1"/><stop offset="0.7708" stop-color="#84f8b7"/><stop offset="0.8574" stop-color="#7af5c9"/><stop offset="0.9236" stop-color="#6ff0d8"/><stop offset="0.9643" stop-color="#67ebdd"/><stop offset="1" stop-color="#5fe7e1"/></linearGradient>
<linearGradient id="c98" gradientUnits="userSpaceOnUse" x1="135.8" x2="943.2" y1="0" y2="0"><stop offset="0" stop-color="#ffe800"/><stop offset="0.04169" stop-color="#ffeb00"/><stop offset="0.06948" stop-color="#ffef00"/><stop offset="0.09033" stop-color="#fff300"/><stop offset="0.1084" stop-color="#fff700"/><stop offset="0.1251" stop-color="#fffb00"/><stop offset="0.139" stop-color="#ffff00"/><stop offset="0.139" stop-color="#ffe2b6"/><stop offset="0.5502" stop-color="#ffe2b6"/><stop offset="0.5502" stop-color="#90fa96"/><stop offset="0.6851" stop-color="#8dfa9e"/><stop offset="0.7976" stop-color="#87f9ae"/><stop offset="0.874" stop-color="#81f8bd"/><stop offset="0.9325" stop-color="#7af5c9"/><stop offset="0.9685" stop-color="#75f2d1"/><stop offset="1" stop-color="#70f0d8"/></linearGradient>
<linearGradient id="c99" gradientUnits="userSpaceOnUse" x1="135.8" x2="943.2" y1="0" y2="0"><stop offset="0" stop-color="#ffe300"/><stop offset="0.05135" stop-color="#ffe600"/><stop offset="0.08558" stop-color="#ffec00"/><stop offset="0.1113" stop-color="#fff000"/><stop offset="0.1335" stop-color="#fff500"/><stop offset="0.1541" stop-color="#fffa00"/><stop offset="0.1712" stop-color="#ffff00"/><stop offset="0.1712" stop-color="#ffe2b6"/><stop offset="0.6096" stop-color="#ffe2b6"/><stop offset="0.6096" stop-color="#90fa96"/><stop offset="0.7267" stop-color="#8dfa9e"/><stop offset="0.8243" stop-color="#87f9ae"/><stop offset="0.8907" stop-color="#81f8bc"/><stop offset="0.9414" stop-color="#7bf5c8"/><stop offset="0.9727" stop-color="#75f3d0"/><stop offset="1" stop-color="#71f0d7"/></linearGradient>
<linearGradient id="c100" gradientUnits="userSpaceOnUse" x1="135.8" x2="943.2" y1="0" y2="0"><stop offset="0" stop-color="#ffdd00"/><stop offset="0.06101" stop-color="#ffe100"/><stop offset="0.1017" stop-color="#ffe700"/><stop offset="0.1322" stop-color="#ffed00"/><stop offset="0.1586" stop-color="#fff300"/><stop offset="0.183" stop-color="#fff900"/><stop offset="0.2034" stop-color="#ffff00"/><stop offset="0.2034" stop-color="#ffe2b6"/><stop offset="0.6691" stop-color="#ffe2b6"/><stop offset="0.6691" stop-color="#90fa96"/><stop offset="0.7683" stop-color="#8dfa9f"/><stop offset="0.8511" stop-color="#86f9b0"/><stop offset="0.9073" stop-color="#80f8c0"/><stop offset="0.9504" stop-color="#78f4cd"/><stop offset="0.9768" stop-color="#72f1d5"/><stop offset="1" stop-color="#6ceeda"/></linearGradient>
<linearGradient id="c101" gradientUnits="userSpaceOnUse" x1="135.8" x2="943.2" y1="0" y2="0"><stop offset="0" stop-color="#ffd500"/><stop offset="0.07141" stop-color="#ffdb00"/><stop offset="0.119" stop-color="#ffe200"/><stop offset="0.1547" stop-color="#ffe900"/><stop offset="0.1857" stop-color="#fff100"/><stop offset="0.2142" stop-color="#fff800"/><stop offset="0.238" stop-color="#ffff00"/><stop offset="0.238" stop-color="#ffe2b6"/><stop offset="0.7013" stop-color="#ffe2b6"/><stop offset="0.7013" stop-color="#90fa96"/><stop offset="0.7909" stop-color="#8dfa9e"/><stop offset="0.8656" stop-color="#87f9ad"/><stop offset="0.9164" stop-color="#81f8bc"/><stop offset="0.9552" stop-color="#7bf5c8"/><stop offset="0.9791" stop-color="#75f3d0"/><stop offset="1" stop-color="#71f0d7"/></linearGradient>
<linearGradient id="c102" gradientUnits="userSpaceOnUse" x1="135.8" x2="943.2" y1="0" y2="0"><stop offset="0" stop-color="#ffcc00"/><stop offset="0.08108" stop-color="#ffd200"/><stop offset="0.1351" stop-color="#ffdc00"/><stop offset="0.1757" stop-color="#ffe400"/><stop offset="0.2108" stop-color="#ffed00"/><stop offset="0.2432" stop-color="#fff700"/><stop offset="0.2703" stop-color="#ffff00"/><stop offset="0.2703" stop-color="#ffe2b6"/><stop offset="0.7359" stop-color="#ffe2b6"/><stop offset="0.7359" stop-color="#90fa96"/><stop offset="0.8152" stop-color="#8efa9b"/><stop offset="0.8812" stop-color="#8af9a6"/><stop offset="0.9261" stop-color="#86f9b0"/><stop offset="0.9604" stop-color="#82f8ba"/><stop offset="0.9815" stop-color="#80f8c0"/><stop offset="1" stop-color="#7df6c5"/></linearGradient>
<linearGradient id="c103" gradientUnits="userSpaceOnUse" x1="135.8" x2="943.2" y1="0" y2="0"><stop offset="0" stop-color="#ffc400"/><stop offset="0.09371" stop-color="#ffcc00"/><stop offset="0.1562" stop-color="#ffd600"/><stop offset="0.203" stop-color="#ffe000"/><stop offset="0.2436" stop-color="#ffeb00"/><stop offset="0.2811" stop-color="#fff500"/><stop offset="0.3124" stop-color="#ffff00"/><stop offset="0.3124" stop-color="#ffe2b6"/><stop offset="0.7632" stop-color="#ffe2b6"/><stop offset="0.7632" stop-color="#90fa96"/><stop offset="0.8342" stop-color="#8efa9a"/><stop offset="0.8934" stop-color="#8bf9a3"/><stop offset="0.9337" stop-color="#88f9ab"/><stop offset="0.9645" stop-color="#85f9b3"/><stop offset="0.9834" stop-color="#83f8b8"/><stop offset="1" stop-color="#81f8bc"/></linearGradient>
<linearGradient id="c104" gradientUnits="userSpaceOnUse" x1="135.8" x2="943.2" y1="0" y2="0"><stop offset="0" stop-color="#ffbe00"/><stop offset="0.1063" stop-color="#ffc600"/><stop offset="0.1772" stop-color="#ffd200"/><stop offset="0.2304" stop-color="#ffdd00"/><stop offset="0.2765" stop-color="#ffe900"/><stop offset="0.319" stop-color="#fff400"/><stop offset="0.3545" stop-color="#ffff00"/><stop offset="0.3545" stop-color="#ffe2b6"/><stop offset="0.7904" stop-color="#ffe2b6"/><stop offset="0.7904" stop-color="#90fa96"/><stop offset="0.8533" stop-color="#8efa9a"/><stop offset="0.9057" stop-color="#8bf9a3"/><stop offset="0.9413" stop-color="#88f9ab"/><stop offset="0.9686" stop-color="#85f9b2"/><stop offset="0.9853" stop-color="#83f8b7"/><stop offset="1" stop-color="#81f8bc"/></linearGradient>
<linearGradient id="c105" gradientUnits="userSpaceOnUse" x1="135.8" x2="943.2" y1="0" y2="0"><stop offset="0" stop-color="#ffb900"/><stop offset="0.1167" stop-color="#ffc200"/><stop offset="0.1946" stop-color="#ffcf00"/><stop offset="0.2529" stop-color="#ffdb00"/><stop offset="0.3035" stop-color="#ffe700"/><stop offset="0.3502" stop-color="#fff400"/><stop offset="0.3892" stop-color="#ffff00"/><stop offset="0.3892" stop-color="#ffe2b6"/><stop offset="0.8078" stop-color="#ffe2b6"/><stop offset="0.8078" stop-color="#90fa96"/><stop offset="0.8654" stop-color="#8efa9b"/><stop offset="0.9135" stop-color="#8af9a5"/><stop offset="0.9462" stop-color="#86f9af"/><stop offset="0.9712" stop-color="#83f8b8"/><stop offset="0.9865" stop-color="#81f8be"/><stop offset="1" stop-color="#7ef7c3"/></linearGradient>
<linearGradient id="c106" gradientUnits="userSpaceOnUse" x1="135.8" x2="943.2" y1="0" y2="0"><stop offset="0" stop-color="#ffb100"/><stop offset="0.1205" stop-color="#ffbb00"/><stop offset="0.2008" stop-color="#ffc900"/><stop offset="0.261" stop-color="#ffd700"/><stop offset="0.3132" stop-color="#ffe400"/><stop offset="0.3614" stop-color="#fff200"/><stop offset="0.4015" stop-color="#ffff00"/><stop offset="0.4015" stop-color="#ffe2b6"/><stop offset="0.8202" stop-color="#ffe2b6"/><stop offset="0.8202" stop-color="#90fa96"/><stop offset="0.8741" stop-color="#8efa9a"/><stop offset="0.9191" stop-color="#8bf9a3"/><stop offset="0.9496" stop-color="#88f9ac"/><stop offset="0.973" stop-color="#85f9b3"/><stop offset="0.9874" stop-color="#83f8b8"/><stop offset="1" stop-color="#81f8bd"/></linearGradient>
<linearGradient id="c107" gradientUnits="userSpaceOnUse" x1="135.8" x2="943.2" y1="0" y2="0"><stop offset="0" stop-color="#ffa900"/><stop offset="0.1234" stop-color="#ffb400"/><stop offset="0.2057" stop-color="#ffc400"/><stop offset="0.2674" stop-color="#ffd200"/><stop offset="0.3209" stop-color="#ffe100"/><stop offset="0.3703" stop-color="#fff100"/><stop offset="0.4114" stop-color="#ffff00"/><stop offset="0.4114" stop-color="#ffe2b6"/><stop offset="0.835" stop-color="#ffe2b6"/><stop offset="0.835" stop-color="#90fa96"/><stop offset="0.8845" stop-color="#8ffa99"/><stop offset="0.9258" stop-color="#8cfaa0"/><stop offset="0.9538" stop-color="#8af9a6"/><stop offset="0.9753" stop-color="#88f9ac"/><stop offset="0.9885" stop-color="#86f9b0"/><stop offset="1" stop-color="#85f9b4"/></linearGradient>
<linearGradient id="c108" gradientUnits="userSpaceOnUse" x1="135.8" x2="943.2" y1="0" y2="0"><stop offset="0" stop-color="#ffa600"/><stop offset="0.1361" stop-color="#ffb100"/><stop offset="0.2268" stop-color="#ffc100"/><stop offset="0.2948" stop-color="#ffd100"/><stop offset="0.3538" stop-color="#ffe000"/><stop offset="0.4082" stop-color="#fff000"/><stop offset="0.4536" stop-color="#ffff00"/><stop offset="0.4536" stop-color="#ffe2b6"/><stop offset="0.8524" stop-color="#ffe2b6"/><stop offset="0.8524" stop-color="#90fa96"/><stop offset="0.8967" stop-color="#8ffa99"/><stop offset="0.9336" stop-color="#8dfa9f"/><stop offset="0.9587" stop-color="#8bf9a4"/><stop offset="0.9779" stop-color="#89f9a9"/><stop offset="0.9897" stop-color="#88f9ac"/><stop offset="1" stop-color="#86f9af"/></linearGradient>
<linearGradient id="c109" gradientUnits="userSpaceOnUse" x1="135.8" x2="943.2" y1="0" y2="0"><stop offset="0" stop-color="#ffa400"/><stop offset="0.1509" stop-color="#ffb000"/><stop offset="0.2515" stop-color="#ffc000"/><stop offset="0.327" stop-color="#ffd000"/><stop offset="0.3924" stop-color="#ffe000"/><stop offset="0.4528" stop-color="#fff000"/><stop offset="0.5031" stop-color="#ffff00"/><stop offset="0.5031" stop-color="#ffe2b6"/><stop offset="0.8697" stop-color="#ffe2b6"/><stop offset="0.8697" stop-color="#90fa96"/><stop offset="0.9088" stop-color="#8ffa99"/><stop offset="0.9414" stop-color="#8dfa9f"/><stop offset="0.9635" stop-color="#8af9a5"/><stop offset="0.9805" stop-color="#88f9aa"/><stop offset="0.9909" stop-color="#87f9ae"/><stop offset="1" stop-color="#86f9b1"/></linearGradient>
<linearGradient id="c110" gradientUnits="userSpaceOnUse" x1="135.8" x2="943.2" y1="0" y2="0"><stop offset="0" stop-color="#ffa200"/><stop offset="0.1628" stop-color="#ffae00"/><stop offset="0.2714" stop-color="#ffbf00"/><stop offset="0.3528" stop-color="#ffcf00"/><stop offset="0.4233" stop-color="#ffdf00"/><stop offset="0.4885" stop-color="#fff000"/><stop offset="0.5427" stop-color="#ffff00"/><stop offset="0.5427" stop-color="#ffe2b6"/><stop offset="0.8945" stop-color="#ffe2b6"/><stop offset="0.8945" stop-color="#90fa96"/><stop offset="0.9261" stop-color="#8ffa99"/><stop offset="0.9525" stop-color="#8dfa9f"/><stop offset="0.9705" stop-color="#8af9a5"/><stop offset="0.9842" stop-color="#88f9aa"/><stop offset="0.9926" stop-color="#87f9ad"/><stop offset="1" stop-color="#86f9b1"/></linearGradient>
<linearGradient id="c111" gradientUnits="userSpaceOnUse" x1="135.8" x2="943.2" y1="0" y2="0"><stop offset="0" stop-color="#ff9c00"/><stop offset="0.1777" stop-color="#ffaa00"/><stop offset="0.2961" stop-color="#ffbb00"/><stop offset="0.385" stop-color="#ffcc00"/><stop offset="0.462" stop-color="#ffdd00"/><stop offset="0.533" stop-color="#ffef00"/><stop offset="0.5923" stop-color="#ffff00"/><stop offset="0.5923" stop-color="#ffe2b6"/><stop offset="0.9242" stop-color="#ffe2b6"/><stop offset="0.9242" stop-color="#90fa96"/><stop offset="0.9469" stop-color="#8ffa98"/><stop offset="0.9659" stop-color="#8efa9c"/><stop offset="0.9788" stop-color="#8cfaa0"/><stop offset="0.9886" stop-color="#8bf9a3"/><stop offset="0.9947" stop-color="#8af9a5"/><stop offset="1" stop-color="#89f9a7"/></linearGradient>
<linearGradient id="c112" gradientUnits="userSpaceOnUse" x1="135.8" x2="943.2" y1="0" y2="0"><stop offset="0" stop-color="#ff9900"/><stop offset="0.1859" stop-color="#ffa800"/><stop offset="0.3098" stop-color="#ffba00"/><stop offset="0.4027" stop-color="#ffcb00"/><stop offset="0.4832" stop-color="#ffdd00"/><stop offset="0.5576" stop-color="#ffef00"/><stop offset="0.6195" stop-color="#ffff00"/><stop offset="0.6195" stop-color="#ffe2b6"/><stop offset="1" stop-color="#ffe2b6"/></linearGradient>
<linearGradient id="c113" gradientUnits="userSpaceOnUse" x1="135.8" x2="943.2" y1="0" y2="0"><stop offset="0" stop-color="#ff9800"/><stop offset="0.1829" stop-color="#ffa700"/><stop offset="0.3048" stop-color="#ffb900"/><stop offset="0.3962" stop-color="#ffcb00"/><stop offset="0.4755" stop-color="#ffdc00"/><stop offset="0.5486" stop-color="#ffee00"/><stop offset="0.6096" stop-color="#ffff00"/><stop offset="0.6096" stop-color="#ffe2b6"/><stop offset="1" stop-color="#ffe2b6"/></linearGradient>
<linearGradient id="c114" gradientUnits="userSpaceOnUse" x1="135.8" x2="943.2" y1="0" y2="0"><stop offset="0" stop-color="#ff9700"/><stop offset="0.1755" stop-color="#ffa700"/><stop offset="0.2924" stop-color="#ffb900"/><stop offset="0.3801" stop-color="#ffca00"/><stop offset="0.4562" stop-color="#ffdc00"/><stop offset="0.5264" stop-color="#ffee00"/><stop offset="0.5848" stop-color="#ffff00"/><stop offset="0.5848" stop-color="#ffe2b6"/><stop offset="1" stop-color="#ffe2b6"/></linearGradient>
<linearGradient id="c115" gradientUnits="userSpaceOnUse" x1="135.8" x2="943.2" y1="0" y2="0"><stop offset="0" stop-color="#ff9400"/><stop offset="0.1688" stop-color="#ffa500"/><stop offset="0.2813" stop-color="#ffb700"/><stop offset="0.3657" stop-color="#ffc900"/><stop offset="0.4388" stop-color="#ffdb00"/><stop offset="0.5063" stop-color="#ffee00"/><stop offset="0.5625" stop-color="#ffff00"/><stop offset="0.5625" stop-color="#ffe2b6"/><stop offset="0.9886" stop-color="#ffe2b6"/><stop offset="0.9886" stop-color="#90fa96"/><stop offset="0.992" stop-color="#90fa97"/><stop offset="0.9949" stop-color="#8ffa9a"/><stop offset="0.9968" stop-color="#8efa9c"/><stop offset="0.9983" stop-color="#8dfa9e"/><stop offset="0.9992" stop-color="#8cfa9f"/><stop offset="1" stop-color="#8cfaa0"/></linearGradient>
<linearGradient id="c116" gradientUnits="userSpaceOnUse" x1="135.8" x2="943.2" y1="0" y2="0"><stop offset="0" stop-color="#ff9700"/><stop offset="0.1621" stop-color="#ffa700"/><stop offset="0.2701" stop-color="#ffb900"/><stop offset="0.3512" stop-color="#ffca00"/><stop offset="0.4214" stop-color="#ffdc00"/><stop offset="0.4862" stop-color="#ffee00"/><stop offset="0.5403" stop-color="#ffff00"/><stop offset="0.5403" stop-color="#ffe2b6"/><stop offset="0.9415" stop-color="#ffe2b6"/><stop offset="0.9415" stop-color="#90fa96"/><stop offset="0.9591" stop-color="#8ffa98"/><stop offset="0.9737" stop-color="#8efa9c"/><stop offset="0.9836" stop-color="#8cfaa0"/><stop offset="0.9912" stop-color="#8bf9a3"/><stop offset="0.9959" stop-color="#8af9a6"/><stop offset="1" stop-color="#89f9a8"/></linearGradient>
<linearGradient id="c117" gradientUnits="userSpaceOnUse" x1="135.8" x2="943.2" y1="0" y2="0"><stop offset="0" stop-color="#ff9600"/><stop offset="0.1532" stop-color="#ffa600"/><stop offset="0.2553" stop-color="#ffb900"/><stop offset="0.3318" stop-color="#ffca00"/><stop offset="0.3982" stop-color="#ffdc00"/><stop offset="0.4595" stop-color="#ffee00"/><stop offset="0.5105" stop-color="#ffff00"/><stop offset="0.5105" stop-color="#ffe2b6"/><stop offset="0.9242" stop-color="#ffe2b6"/><stop offset="0.9242" stop-color="#90fa96"/><stop offset="0.9469" stop-color="#8ffa98"/><stop offset="0.9659" stop-color="#8efa9c"/><stop offset="0.9788" stop-color="#8cfaa0"/><stop offset="0.9886" stop-color="#8bf9a3"/><stop offset="0.9947" stop-color="#8af9a5"/><stop offset="1" stop-color="#89f9a7"/></linearGradient>
<linearGradient id="c118" gradientUnits="userSpaceOnUse" x1="135.8" x2="943.2" y1="0" y2="0"><stop offset="0" stop-color="#ff9700"/><stop offset="0.1524" stop-color="#ffa700"/><stop offset="0.254" stop-color="#ffb900"/><stop offset="0.3302" stop-color="#ffca00"/><stop offset="0.3963" stop-color="#ffdc00"/><stop offset="0.4572" stop-color="#ffee00"/><stop offset="0.5081" stop-color="#ffff00"/><stop offset="0.5081" stop-color="#ffe2b6"/><stop offset="0.9093" stop-color="#ffe2b6"/><stop offset="0.9093" stop-color="#90fa96"/><stop offset="0.9365" stop-color="#8ffa99"/><stop offset="0.9592" stop-color="#8dfa9d"/><stop offset="0.9746" stop-color="#8bf9a2"/><stop offset="0.9864" stop-color="#8af9a6"/><stop offset="0.9937" stop-color="#89f9a9"/><stop offset="1" stop-color="#88f9ac"/></linearGradient>
<linearGradient id="c119" gradientUnits="userSpaceOnUse" x1="135.8" x2="943.2" y1="0" y2="0"><stop offset="0" stop-color="#ff9300"/><stop offset="0.1569" stop-color="#ffa400"/><stop offset="0.2615" stop-color="#ffb700"/><stop offset="0.3399" stop-color="#ffc900"/><stop offset="0.4079" stop-color="#ffdb00"/><stop offset="0.4706" stop-color="#ffee00"/><stop offset="0.5229" stop-color="#ffff00"/><stop offset="0.5229" stop-color="#ffe2b6"/><stop offset="0.897" stop-color="#ffe2b6"/><stop offset="0.897" stop-color="#90fa96"/><stop offset="0.9279" stop-color="#8ffa98"/><stop offset="0.9536" stop-color="#8efa9c"/><stop offset="0.9711" stop-color="#8cfaa0"/><stop offset="0.9845" stop-color="#8bf9a4"/><stop offset="0.9928" stop-color="#8af9a6"/><stop offset="1" stop-color="#89f9a8"/></linearGradient>
<linearGradient id="c120" gradientUnits="userSpaceOnUse" x1="135.8" x2="943.2" y1="0" y2="0"><stop offset="0" stop-color="#ff9600"/><stop offset="0.1598" stop-color="#ffa600"/><stop offset="0.2664" stop-color="#ffb900"/><stop offset="0.3463" stop-color="#ffca00"/><stop offset="0.4156" stop-color="#ffdc00"/><stop offset="0.4795" stop-color="#ffee00"/><stop offset="0.5328" stop-color="#ffff00"/><stop offset="0.5328" stop-color="#ffe2b6"/><stop offset="0.887" stop-color="#ffe2b6"/><stop offset="0.887" stop-color="#90fa96"/><stop offset="0.9209" stop-color="#8ffa99"/><stop offset="0.9492" stop-color="#8cfaa0"/><stop offset="0.9684" stop-color="#8af9a6"/><stop offset="0.9831" stop-color="#88f9ab"/><stop offset="0.9921" stop-color="#86f9af"/><stop offset="1" stop-color="#85f9b3"/></linearGradient>
<linearGradient id="c121" gradientUnits="userSpaceOnUse" x1="135.8" x2="943.2" y1="0" y2="0"><stop offset="0" stop-color="#ff9800"/><stop offset="0.1509" stop-color="#ffa700"/><stop offset="0.2515" stop-color="#ffb900"/><stop offset="0.327" stop-color="#ffcb00"/><stop offset="0.3924" stop-color="#ffdc00"/><stop offset="0.4528" stop-color="#ffef00"/><stop offset="0.5031" stop-color="#ffff00"/><stop offset="0.5031" stop-color="#ffe2b6"/><stop offset="0.8598" stop-color="#ffe2b6"/><stop offset="0.8598" stop-color="#90fa96"/><stop offset="0.9019" stop-color="#8efa9a"/><stop offset="0.9369" stop-color="#8bf9a3"/><stop offset="0.9607" stop-color="#88f9aa"/><stop offset="0.979" stop-color="#86f9b1"/><stop offset="0.9902" stop-color="#84f8b6"/><stop offset="1" stop-color="#82f8bb"/></linearGradient>
<linearGradient id="c122" gradientUnits="userSpaceOnUse" x1="135.8" x2="943.2" y1="0" y2="0"><stop offset="0" stop-color="#ffa900"/><stop offset="0.1383" stop-color="#ffb400"/><stop offset="0.2305" stop-color="#ffc300"/><stop offset="0.2996" stop-color="#ffd200"/><stop offset="0.3596" stop-color="#ffe100"/><stop offset="0.4149" stop-color="#fff100"/><stop offset="0.461" stop-color="#ffff00"/><stop offset="0.461" stop-color="#ffe2b6"/><stop offset="0.8276" stop-color="#ffe2b6"/><stop offset="0.8276" stop-color="#90fa96"/><stop offset="0.8793" stop-color="#8efa9b"/><stop offset="0.9224" stop-color="#8bf9a4"/><stop offset="0.9517" stop-color="#87f9ad"/><stop offset="0.9741" stop-color="#84f8b6"/><stop offset="0.9879" stop-color="#82f8bb"/><stop offset="1" stop-color="#80f8c0"/></linearGradient>
<linearGradient id="c123" gradientUnits="userSpaceOnUse" x1="135.8" x2="943.2" y1="0" y2="0"><stop offset="0" stop-color="#ffb600"/><stop offset="0.1264" stop-color="#ffbf00"/><stop offset="0.2107" stop-color="#ffcc00"/><stop offset="0.2739" stop-color="#ffd900"/><stop offset="0.3287" stop-color="#ffe600"/><stop offset="0.3792" stop-color="#fff300"/><stop offset="0.4214" stop-color="#ffff00"/><stop offset="0.4214" stop-color="#ffe2b6"/><stop offset="0.8028" stop-color="#ffe2b6"/><stop offset="0.8028" stop-color="#90fa96"/><stop offset="0.862" stop-color="#8efa9a"/><stop offset="0.9113" stop-color="#8bf9a3"/><stop offset="0.9448" stop-color="#88f9ab"/><stop offset="0.9704" stop-color="#85f9b3"/><stop offset="0.9862" stop-color="#83f8b8"/><stop offset="1" stop-color="#81f8bc"/></linearGradient>
<linearGradient id="c124" gradientUnits="userSpaceOnUse" x1="135.8" x2="943.2" y1="0" y2="0"><stop offset="0" stop-color="#ffc300"/><stop offset="0.1138" stop-color="#ffcb00"/><stop offset="0.1896" stop-color="#ffd600"/><stop offset="0.2465" stop-color="#ffe000"/><stop offset="0.2958" stop-color="#ffea00"/><stop offset="0.3413" stop-color="#fff500"/><stop offset="0.3792" stop-color="#ffff00"/><stop offset="0.3792" stop-color="#ffe2b6"/><stop offset="0.783" stop-color="#ffe2b6"/><stop offset="0.783" stop-color="#90fa96"/><stop offset="0.8481" stop-color="#8ffa9a"/><stop offset="0.9024" stop-color="#8cf9a1"/><stop offset="0.9392" stop-color="#89f9a8"/><stop offset="0.9675" stop-color="#87f9af"/><stop offset="0.9848" stop-color="#85f9b3"/><stop offset="1" stop-color="#83f8b7"/></linearGradient>
<linearGradient id="c125" gradientUnits="userSpaceOnUse" x1="135.8" x2="943.2" y1="0" y2="0"><stop offset="0" stop-color="#ffca00"/><stop offset="0.1011" stop-color="#ffd100"/><stop offset="0.1686" stop-color="#ffda00"/><stop offset="0.2191" stop-color="#ffe300"/><stop offset="0.263" stop-color="#ffed00"/><stop offset="0.3034" stop-color="#fff600"/><stop offset="0.3371" stop-color="#ffff00"/><stop offset="0.3371" stop-color="#ffe2b6"/><stop offset="0.7731" stop-color="#ffe2b6"/><stop offset="0.7731" stop-color="#90fa96"/><stop offset="0.8412" stop-color="#8efa9a"/><stop offset="0.8979" stop-color="#8bf9a2"/><stop offset="0.9365" stop-color="#88f9aa"/><stop offset="0.966" stop-color="#86f9b1"/><stop offset="0.9841" stop-color="#84f8b6"/><stop offset="1" stop-color="#82f8bb"/></linearGradient>
<linearGradient id="c126" gradientUnits="userSpaceOnUse" x1="135.8" x2="943.2" y1="0" y2="0"><stop offset="0" stop-color="#ffd000"/><stop offset="0.09297" stop-color="#ffd600"/><stop offset="0.1549" stop-color="#ffdf00"/><stop offset="0.2014" stop-color="#ffe700"/><stop offset="0.2417" stop-color="#ffef00"/><stop offset="0.2789" stop-color="#fff700"/><stop offset="0.3099" stop-color="#ffff00"/><stop offset="0.3099" stop-color="#ffe2b6"/><stop offset="0.7756" stop-color="#ffe2b6"/><stop offset="0.7756" stop-color="#90fa96"/><stop offset="0.8429" stop-color="#8efa9b"/><stop offset="0.899" stop-color="#8af9a5"/><stop offset="0.9372" stop-color="#87f9af"/><stop offset="0.9663" stop-color="#83f8b7"/><stop offset="0.9843" stop-color="#81f8bd"/><stop offset="1" stop-color="#7ff7c2"/></linearGradient>
<linearGradient id="c127" gradientUnits="userSpaceOnUse" x1="135.8" x2="943.2" y1="0" y2="0"><stop offset="0" stop-color="#ffd600"/><stop offset="0.09074" stop-color="#ffdc00"/><stop offset="0.1512" stop-color="#ffe300"/><stop offset="0.1966" stop-color="#ffea00"/><stop offset="0.2359" stop-color="#fff100"/><stop offset="0.2722" stop-color="#fff800"/><stop offset="0.3025" stop-color="#ffff00"/><stop offset="0.3025" stop-color="#ffe2b6"/><stop offset="0.7731" stop-color="#ffe2b6"/><stop offset="0.7731" stop-color="#90fa96"/><stop offset="0.8412" stop-color="#8efa9c"/><stop offset="0.8979" stop-color="#89f9a8"/><stop offset="0.9365" stop-color="#85f9b3"/><stop offset="0.966" stop-color="#81f8bd"/><stop offset="0.9841" stop-color="#7ef7c4"/><stop offset="1" stop-color="#7af5c9"/></linearGradient>
<linearGradient id="c128" gradientUnits="userSpaceOnUse" x1="135.8" x2="943.2" y1="0" y2="0"><stop offset="0" stop-color="#ffdd00"/><stop offset="0.08776" stop-color="#ffe100"/><stop offset="0.1463" stop-color="#ffe800"/><stop offset="0.1902" stop-color="#ffed00"/><stop offset="0.2282" stop-color="#fff300"/><stop offset="0.2633" stop-color="#fff900"/><stop offset="0.2925" stop-color="#ffff00"/><stop offset="0.2925" stop-color="#ffe2b6"/><stop offset="0.7582" stop-color="#ffe2b6"/><stop offset="0.7582" stop-color="#90fa96"/><stop offset="0.8308" stop-color="#8dfa9d"/><stop offset="0.8912" stop-color="#88f9aa"/><stop offset="0.9323" stop-color="#83f8b7"/><stop offset="0.9637" stop-color="#7ff7c2"/><stop offset="0.9831" stop-color="#7af5c9"/><stop offset="1" stop-color="#76f3cf"/></linearGradient>
<linearGradient id="c129" gradientUnits="userSpaceOnUse" x1="135.8" x2="943.2" y1="0" y2="0"><stop offset="0" stop-color="#ffe200"/><stop offset="0.08182" stop-color="#ffe600"/><stop offset="0.1364" stop-color="#ffeb00"/><stop offset="0.1773" stop-color="#fff000"/><stop offset="0.2127" stop-color="#fff500"/><stop offset="0.2455" stop-color="#fffa00"/><stop offset="0.2727" stop-color="#ffff00"/><stop offset="0.2727" stop-color="#ffe2b6"/><stop offset="0.7409" stop-color="#ffe2b6"/><stop offset="0.7409" stop-color="#90fa96"/><stop offset="0.8186" stop-color="#8efa9c"/><stop offset="0.8834" stop-color="#89f9a9"/><stop offset="0.9275" stop-color="#84f9b4"/><stop offset="0.9611" stop-color="#80f8bf"/><stop offset="0.9819" stop-color="#7df6c5"/><stop offset="1" stop-color="#79f4cb"/></linearGradient>
<linearGradient id="c130" gradientUnits="userSpaceOnUse" x1="135.8" x2="943.2" y1="0" y2="0"><stop offset="0" stop-color="#ffe800"/><stop offset="0.07513" stop-color="#ffeb00"/><stop offset="0.1252" stop-color="#ffef00"/><stop offset="0.1628" stop-color="#fff300"/><stop offset="0.1953" stop-color="#fff700"/><stop offset="0.2254" stop-color="#fffb00"/><stop offset="0.2504" stop-color="#ffff00"/><stop offset="0.2504" stop-color="#ffe2b6"/><stop offset="0.7161" stop-color="#ffe2b6"/><stop offset="0.7161" stop-color="#90fa96"/><stop offset="0.8013" stop-color="#8efa9c"/><stop offset="0.8723" stop-color="#89f9a8"/><stop offset="0.9205" stop-color="#85f9b4"/><stop offset="0.9574" stop-color="#81f8be"/><stop offset="0.9801" stop-color="#7df7c4"/><stop offset="1" stop-color="#79f5ca"/></linearGradient>
<linearGradient id="c131" gradientUnits="userSpaceOnUse" x1="135.8" x2="943.2" y1="0" y2="0"><stop offset="0" stop-color="#ffe900"/><stop offset="0.06844" stop-color="#ffec00"/><stop offset="0.1141" stop-color="#fff000"/><stop offset="0.1483" stop-color="#fff400"/><stop offset="0.1779" stop-color="#fff700"/><stop offset="0.2053" stop-color="#fffb00"/><stop offset="0.2281" stop-color="#ffff00"/><stop offset="0.2281" stop-color="#ffe2b6"/><stop offset="0.6889" stop-color="#ffe2b6"/><stop offset="0.6889" stop-color="#90fa96"/><stop offset="0.7822" stop-color="#8dfa9d"/><stop offset="0.86" stop-color="#88f9ac"/><stop offset="0.9129" stop-color="#83f8b9"/><stop offset="0.9533" stop-color="#7df7c4"/><stop offset="0.9782" stop-color="#78f4cc"/><stop offset="1" stop-color="#74f2d2"/></linearGradient>
<linearGradient id="c132" gradientUnits="userSpaceOnUse" x1="135.8" x2="943.2" y1="0" y2="0"><stop offset="0" stop-color="#ffe900"/><stop offset="0.06175" stop-color="#ffec00"/><stop offset="0.1029" stop-color="#fff000"/><stop offset="0.1338" stop-color="#fff400"/><stop offset="0.1606" stop-color="#fff800"/><stop offset="0.1853" stop-color="#fffb00"/><stop offset="0.2058" stop-color="#ffff00"/><stop offset="0.2058" stop-color="#ffe2b6"/><stop offset="0.6641" stop-color="#ffe2b6"/><stop offset="0.6641" stop-color="#90fa96"/><stop offset="0.7649" stop-color="#8dfa9d"/><stop offset="0.8488" stop-color="#88f9ac"/><stop offset="0.9059" stop-color="#83f8b9"/><stop offset="0.9496" stop-color="#7df7c4"/><stop offset="0.9765" stop-color="#78f4cc"/><stop offset="1" stop-color="#74f2d2"/></linearGradient>
<linearGradient id="c133" gradientUnits="userSpaceOnUse" x1="135.8" x2="943.2" y1="0" y2="0"><stop offset="0" stop-color="#ffea00"/><stop offset="0.06993" stop-color="#ffed00"/><stop offset="0.1165" stop-color="#fff000"/><stop offset="0.1515" stop-color="#fff400"/><stop offset="0.1818" stop-color="#fff800"/><stop offset="0.2098" stop-color="#fffc00"/><stop offset="0.2331" stop-color="#ffff00"/><stop offset="0.2331" stop-color="#ffe2b6"/><stop offset="0.7112" stop-color="#ffe2b6"/><stop offset="0.7112" stop-color="#90fa96"/><stop offset="0.7978" stop-color="#8dfa9d"/><stop offset="0.87" stop-color="#88f9ab"/><stop offset="0.9191" stop-color="#83f8b7"/><stop offset="0.9567" stop-color="#7ef7c3"/><stop offset="0.9798" stop-color="#7af5c9"/><stop offset="1" stop-color="#76f3d0"/></linearGradient>
<linearGradient id="c134" gradientUnits="userSpaceOnUse" x1="135.8" x2="943.2" y1="0" y2="0"><stop offset="0" stop-color="#ffe200"/><stop offset="0.08256" stop-color="#ffe600"/><stop offset="0.1376" stop-color="#ffeb00"/><stop offset="0.1789" stop-color="#fff000"/><stop offset="0.2147" stop-color="#fff500"/><stop offset="0.2477" stop-color="#fffa00"/><stop offset="0.2752" stop-color="#ffff00"/><stop offset="0.2752" stop-color="#ffe2b6"/><stop offset="0.7607" stop-color="#ffe2b6"/><stop offset="0.7607" stop-color="#90fa96"/><stop offset="0.8325" stop-color="#8efa9c"/><stop offset="0.8923" stop-color="#89f9a8"/><stop offset="0.933" stop-color="#85f9b3"/><stop offset="0.9641" stop-color="#81f8bd"/><stop offset="0.9832" stop-color="#7ef7c3"/><stop offset="1" stop-color="#7af5c9"/></linearGradient>
<linearGradient id="c135" gradientUnits="userSpaceOnUse" x1="135.8" x2="943.2" y1="0" y2="0"><stop offset="0" stop-color="#ffd600"/><stop offset="0.09742" stop-color="#ffdb00"/><stop offset="0.1624" stop-color="#ffe300"/><stop offset="0.2111" stop-color="#ffea00"/><stop offset="0.2533" stop-color="#fff100"/><stop offset="0.2923" stop-color="#fff800"/><stop offset="0.3247" stop-color="#ffff00"/><stop offset="0.3247" stop-color="#ffe2b6"/><stop offset="0.8053" stop-color="#ffe2b6"/><stop offset="0.8053" stop-color="#90fa96"/><stop offset="0.8637" stop-color="#8efa9b"/><stop offset="0.9124" stop-color="#8af9a6"/><stop offset="0.9455" stop-color="#86f9b0"/><stop offset="0.9708" stop-color="#83f8b9"/><stop offset="0.9864" stop-color="#80f8bf"/><stop offset="1" stop-color="#7df7c4"/></linearGradient>
<linearGradient id="c136" gradientUnits="userSpaceOnUse" x1="135.8" x2="943.2" y1="0" y2="0"><stop offset="0" stop-color="#ffcd00"/><stop offset="0.1123" stop-color="#ffd300"/><stop offset="0.1871" stop-color="#ffdc00"/><stop offset="0.2433" stop-color="#ffe500"/><stop offset="0.2919" stop-color="#ffee00"/><stop offset="0.3369" stop-color="#fff700"/><stop offset="0.3743" stop-color="#ffff00"/><stop offset="0.3743" stop-color="#ffe2b6"/><stop offset="0.8301" stop-color="#ffe2b6"/><stop offset="0.8301" stop-color="#90fa96"/><stop offset="0.8811" stop-color="#8efa9b"/><stop offset="0.9235" stop-color="#8af9a5"/><stop offset="0.9524" stop-color="#87f9ae"/><stop offset="0.9745" stop-color="#84f8b6"/><stop offset="0.9881" stop-color="#82f8bc"/><stop offset="1" stop-color="#7ff8c1"/></linearGradient>
<linearGradient id="c137" gradientUnits="userSpaceOnUse" x1="135.8" x2="943.2" y1="0" y2="0"><stop offset="0" stop-color="#ffc500"/><stop offset="0.1264" stop-color="#ffcd00"/><stop offset="0.2107" stop-color="#ffd700"/><stop offset="0.2739" stop-color="#ffe100"/><stop offset="0.3287" stop-color="#ffeb00"/><stop offset="0.3792" stop-color="#fff600"/><stop offset="0.4214" stop-color="#ffff00"/><stop offset="0.4214" stop-color="#ffe2b6"/><stop offset="0.8474" stop-color="#ffe2b6"/><stop offset="0.8474" stop-color="#90fa96"/><stop offset="0.8932" stop-color="#8efa9b"/><stop offset="0.9313" stop-color="#8af9a6"/><stop offset="0.9573" stop-color="#86f9b1"/><stop offset="0.9771" stop-color="#82f8ba"/><stop offset="0.9893" stop-color="#80f8c0"/><stop offset="1" stop-color="#7df6c5"/></linearGradient>
<linearGradient id="c138" gradientUnits="userSpaceOnUse" x1="135.8" x2="943.2" y1="0" y2="0"><stop offset="0" stop-color="#ffbf00"/><stop offset="0.1376" stop-color="#ffc700"/><stop offset="0.2293" stop-color="#ffd300"/><stop offset="0.298" stop-color="#ffde00"/><stop offset="0.3576" stop-color="#ffe900"/><stop offset="0.4127" stop-color="#fff400"/><stop offset="0.4585" stop-color="#ffff00"/><stop offset="0.4585" stop-color="#ffe2b6"/><stop offset="0.8548" stop-color="#ffe2b6"/><stop offset="0.8548" stop-color="#90fa96"/><stop offset="0.8984" stop-color="#8efa9c"/><stop offset="0.9347" stop-color="#89f9a9"/><stop offset="0.9594" stop-color="#84f9b5"/><stop offset="0.9782" stop-color="#80f8bf"/><stop offset="0.9898" stop-color="#7cf6c6"/><stop offset="1" stop-color="#78f4cc"/></linearGradient>
<linearGradient id="c139" gradientUnits="userSpaceOnUse" x1="135.8" x2="943.2" y1="0" y2="0"><stop offset="0" stop-color="#ffbb00"/><stop offset="0.1376" stop-color="#ffc400"/><stop offset="0.2293" stop-color="#ffd000"/><stop offset="0.298" stop-color="#ffdc00"/><stop offset="0.3576" stop-color="#ffe800"/><stop offset="0.4127" stop-color="#fff400"/><stop offset="0.4585" stop-color="#ffff00"/><stop offset="0.4585" stop-color="#ffe2b6"/><stop offset="0.8499" stop-color="#ffe2b6"/><stop offset="0.8499" stop-color="#90fa96"/><stop offset="0.8949" stop-color="#8efa9c"/><stop offset="0.9324" stop-color="#8af9a7"/><stop offset="0.958" stop-color="#86f9b1"/><stop offset="0.9775" stop-color="#82f8ba"/><stop offset="0.9895" stop-color="#80f8c0"/><stop offset="1" stop-color="#7cf6c6"/></linearGradient>
<linearGradient id="c140" gradientUnits="userSpaceOnUse" x1="135.8" x2="943.2" y1="0" y2="0"><stop offset="0" stop-color="#ffb900"/><stop offset="0.1257" stop-color="#ffc200"/><stop offset="0.2094" stop-color="#ffce00"/><stop offset="0.2723" stop-color="#ffda00"/><stop offset="0.3267" stop-color="#ffe700"/><stop offset="0.377" stop-color="#fff300"/><stop offset="0.4189" stop-color="#ffff00"/><stop offset="0.4189" stop-color="#ffe2b6"/><stop offset="0.8425" stop-color="#ffe2b6"/><stop offset="0.8425" stop-color="#90fa96"/><stop offset="0.8897" stop-color="#8efa9a"/><stop offset="0.9291" stop-color="#8bf9a2"/><stop offset="0.9559" stop-color="#89f9a9"/><stop offset="0.9764" stop-color="#86f9b0"/><stop offset="0.989" stop-color="#84f9b5"/><stop offset="1" stop-color="#83f8b9"/></linearGradient>
<linearGradient id="c141" gradientUnits="userSpaceOnUse" x1="135.8" x2="943.2" y1="0" y2="0"><stop offset="0" stop-color="#ffb600"/><stop offset="0.1182" stop-color="#ffbf00"/><stop offset="0.1971" stop-color="#ffcc00"/><stop offset="0.2562" stop-color="#ffd900"/><stop offset="0.3074" stop-color="#ffe600"/><stop offset="0.3547" stop-color="#fff300"/><stop offset="0.3941" stop-color="#ffff00"/><stop offset="0.3941" stop-color="#ffe2b6"/><stop offset="0.8375" stop-color="#ffe2b6"/><stop offset="0.8375" stop-color="#90fa96"/><stop offset="0.8863" stop-color="#8ffa98"/><stop offset="0.9269" stop-color="#8dfa9d"/><stop offset="0.9545" stop-color="#8cf9a1"/><stop offset="0.9756" stop-color="#8af9a5"/><stop offset="0.9886" stop-color="#89f9a8"/><stop offset="1" stop-color="#88f9ab"/></linearGradient>
<linearGradient id="c142" gradientUnits="userSpaceOnUse" x1="135.8" x2="943.2" y1="0" y2="0"><stop offset="0" stop-color="#ffb700"/><stop offset="0.1227" stop-color="#ffc000"/><stop offset="0.2045" stop-color="#ffcd00"/><stop offset="0.2658" stop-color="#ffd900"/><stop offset="0.319" stop-color="#ffe600"/><stop offset="0.3681" stop-color="#fff300"/><stop offset="0.409" stop-color="#ffff00"/><stop offset="0.409" stop-color="#ffe2b6"/><stop offset="0.8301" stop-color="#ffe2b6"/><stop offset="0.8301" stop-color="#90fa96"/><stop offset="0.8811" stop-color="#8ffa98"/><stop offset="0.9235" stop-color="#8dfa9d"/><stop offset="0.9524" stop-color="#8cf9a2"/><stop offset="0.9745" stop-color="#8af9a6"/><stop offset="0.9881" stop-color="#89f9a8"/><stop offset="1" stop-color="#88f9ab"/></linearGradient>
<linearGradient id="c143" gradientUnits="userSpaceOnUse" x1="135.8" x2="943.2" y1="0" y2="0"><stop offset="0" stop-color="#ffb600"/><stop offset="0.1153" stop-color="#ffc000"/><stop offset="0.1921" stop-color="#ffcd00"/><stop offset="0.2497" stop-color="#ffd900"/><stop offset="0.2997" stop-color="#ffe600"/><stop offset="0.3458" stop-color="#fff300"/><stop offset="0.3842" stop-color="#ffff00"/><stop offset="0.3842" stop-color="#ffe2b6"/><stop offset="0.8152" stop-color="#ffe2b6"/><stop offset="0.8152" stop-color="#90fa96"/><stop offset="0.8706" stop-color="#8ffa98"/><stop offset="0.9168" stop-color="#8dfa9d"/><stop offset="0.9483" stop-color="#8cf9a1"/><stop offset="0.9723" stop-color="#8af9a5"/><stop offset="0.9871" stop-color="#89f9a8"/><stop offset="1" stop-color="#88f9aa"/></linearGradient>
<linearGradient id="c144" gradientUnits="userSpaceOnUse" x1="135.8" x2="943.2" y1="0" y2="0"><stop offset="0" stop-color="#ffb800"/><stop offset="0.1041" stop-color="#ffc200"/><stop offset="0.1735" stop-color="#ffce00"/><stop offset="0.2256" stop-color="#ffda00"/><stop offset="0.2707" stop-color="#ffe700"/><stop offset="0.3123" stop-color="#fff300"/><stop offset="0.347" stop-color="#ffff00"/><stop offset="0.347" stop-color="#ffe2b6"/><stop offset="0.8003" stop-color="#ffe2b6"/><stop offset="0.8003" stop-color="#90fa96"/><stop offset="0.8602" stop-color="#8ffa99"/><stop offset="0.9102" stop-color="#8dfa9f"/><stop offset="0.9441" stop-color="#8bf9a4"/><stop offset="0.9701" stop-color="#89f9a9"/><stop offset="0.986" stop-color="#88f9ac"/><stop offset="1" stop-color="#86f9af"/></linearGradient>
<linearGradient id="c145" gradientUnits="userSpaceOnUse" x1="135.8" x2="943.2" y1="0" y2="0"><stop offset="0" stop-color="#ffba00"/><stop offset="0.09445" stop-color="#ffc300"/><stop offset="0.1574" stop-color="#ffcf00"/><stop offset="0.2046" stop-color="#ffdb00"/><stop offset="0.2456" stop-color="#ffe700"/><stop offset="0.2834" stop-color="#fff400"/><stop offset="0.3148" stop-color="#ffff00"/><stop offset="0.3148" stop-color="#ffe2b6"/><stop offset="0.7706" stop-color="#ffe2b6"/><stop offset="0.7706" stop-color="#90fa96"/><stop offset="0.8394" stop-color="#8ffa99"/><stop offset="0.8968" stop-color="#8dfa9e"/><stop offset="0.9358" stop-color="#8bf9a4"/><stop offset="0.9656" stop-color="#89f9a8"/><stop offset="0.9839" stop-color="#88f9ac"/><stop offset="1" stop-color="#87f9af"/></linearGradient>
<linearGradient id="c146" gradientUnits="userSpaceOnUse" x1="135.8" x2="943.2" y1="0" y2="0"><stop offset="0" stop-color="#ffbc00"/><stop offset="0.08628" stop-color="#ffc500"/><stop offset="0.1438" stop-color="#ffd100"/><stop offset="0.1869" stop-color="#ffdc00"/><stop offset="0.2243" stop-color="#ffe800"/><stop offset="0.2588" stop-color="#fff400"/><stop offset="0.2876" stop-color="#ffff00"/><stop offset="0.2876" stop-color="#ffe2b6"/><stop offset="0.7409" stop-color="#ffe2b6"/><stop offset="0.7409" stop-color="#90fa96"/><stop offset="0.8186" stop-color="#8ffa99"/><stop offset="0.8834" stop-color="#8dfa9f"/><stop offset="0.9275" stop-color="#8af9a5"/><stop offset="0.9611" stop-color="#88f9aa"/><stop offset="0.9819" stop-color="#87f9ae"/><stop offset="1" stop-color="#86f9b1"/></linearGradient>
<linearGradient id="c147" gradientUnits="userSpaceOnUse" x1="135.8" x2="943.2" y1="0" y2="0"><stop offset="0" stop-color="#ffbe00"/><stop offset="0.08108" stop-color="#ffc700"/><stop offset="0.1351" stop-color="#ffd200"/><stop offset="0.1757" stop-color="#ffdd00"/><stop offset="0.2108" stop-color="#ffe900"/><stop offset="0.2432" stop-color="#fff400"/><stop offset="0.2703" stop-color="#ffff00"/><stop offset="0.2703" stop-color="#ffe2b6"/><stop offset="0.7236" stop-color="#ffe2b6"/><stop offset="0.7236" stop-color="#90fa96"/><stop offset="0.8065" stop-color="#8ffa99"/><stop offset="0.8756" stop-color="#8cfa9f"/><stop offset="0.9226" stop-color="#8af9a5"/><stop offset="0.9585" stop-color="#88f9ab"/><stop offset="0.9806" stop-color="#87f9ae"/><stop offset="1" stop-color="#85f9b2"/></linearGradient>
<linearGradient id="c148" gradientUnits="userSpaceOnUse" x1="135.8" x2="943.2" y1="0" y2="0"><stop offset="0" stop-color="#ffc200"/><stop offset="0.07513" stop-color="#ffca00"/><stop offset="0.1252" stop-color="#ffd500"/><stop offset="0.1628" stop-color="#ffdf00"/><stop offset="0.1953" stop-color="#ffea00"/><stop offset="0.2254" stop-color="#fff500"/><stop offset="0.2504" stop-color="#ffff00"/><stop offset="0.2504" stop-color="#ffe2b6"/><stop offset="0.7087" stop-color="#ffe2b6"/><stop offset="0.7087" stop-color="#90fa96"/><stop offset="0.7961" stop-color="#8ffa9a"/><stop offset="0.8689" stop-color="#8cf9a2"/><stop offset="0.9184" stop-color="#89f9a9"/><stop offset="0.9563" stop-color="#86f9af"/><stop offset="0.9796" stop-color="#85f9b4"/><stop offset="1" stop-color="#83f8b8"/></linearGradient>
<linearGradient id="c149" gradientUnits="userSpaceOnUse" x1="135.8" x2="943.2" y1="0" y2="0"><stop offset="0" stop-color="#ffc500"/><stop offset="0.07587" stop-color="#ffcc00"/><stop offset="0.1265" stop-color="#ffd700"/><stop offset="0.1644" stop-color="#ffe100"/><stop offset="0.1973" stop-color="#ffeb00"/><stop offset="0.2276" stop-color="#fff500"/><stop offset="0.2529" stop-color="#ffff00"/><stop offset="0.2529" stop-color="#ffe2b6"/><stop offset="0.7037" stop-color="#ffe2b6"/><stop offset="0.7037" stop-color="#90fa96"/><stop offset="0.7926" stop-color="#8efa9a"/><stop offset="0.8667" stop-color="#8bf9a2"/><stop offset="0.917" stop-color="#88f9aa"/><stop offset="0.9556" stop-color="#86f9b1"/><stop offset="0.9793" stop-color="#84f8b6"/><stop offset="1" stop-color="#82f8ba"/></linearGradient>
<linearGradient id="c150" gradientUnits="userSpaceOnUse" x1="135.8" x2="943.2" y1="0" y2="0"><stop offset="0" stop-color="#ffc900"/><stop offset="0.07736" stop-color="#ffd000"/><stop offset="0.1289" stop-color="#ffda00"/><stop offset="0.1676" stop-color="#ffe300"/><stop offset="0.2011" stop-color="#ffec00"/><stop offset="0.2321" stop-color="#fff600"/><stop offset="0.2579" stop-color="#ffff00"/><stop offset="0.2579" stop-color="#ffe2b6"/><stop offset="0.7013" stop-color="#ffe2b6"/><stop offset="0.7013" stop-color="#90fa96"/><stop offset="0.7909" stop-color="#8efa9b"/><stop offset="0.8656" stop-color="#8af9a5"/><stop offset="0.9164" stop-color="#86f9af"/><stop offset="0.9552" stop-color="#83f8b8"/><stop offset="0.9791" stop-color="#81f8be"/><stop offset="1" stop-color="#7ef7c3"/></linearGradient>
<linearGradient id="c151" gradientUnits="userSpaceOnUse" x1="135.8" x2="943.2" y1="0" y2="0"><stop offset="0" stop-color="#ffc800"/><stop offset="0.07885" stop-color="#ffcf00"/><stop offset="0.1314" stop-color="#ffd900"/><stop offset="0.1708" stop-color="#ffe200"/><stop offset="0.205" stop-color="#ffec00"/><stop offset="0.2365" stop-color="#fff600"/><stop offset="0.2628" stop-color="#ffff00"/><stop offset="0.2628" stop-color="#ffe2b6"/><stop offset="0.7062" stop-color="#ffe2b6"/><stop offset="0.7062" stop-color="#90fa96"/><stop offset="0.7944" stop-color="#8efa9c"/><stop offset="0.8678" stop-color="#89f9a8"/><stop offset="0.9177" stop-color="#85f9b3"/><stop offset="0.9559" stop-color="#81f8bd"/><stop offset="0.9794" stop-color="#7ef7c3"/><stop offset="1" stop-color="#7af5c8"/></linearGradient>
<linearGradient id="c152" gradientUnits="userSpaceOnUse" x1="135.8" x2="943.2" y1="0" y2="0"><stop offset="0" stop-color="#ffc700"/><stop offset="0.07959" stop-color="#ffcf00"/><stop offset="0.1326" stop-color="#ffd900"/><stop offset="0.1724" stop-color="#ffe200"/><stop offset="0.2069" stop-color="#ffec00"/><stop offset="0.2388" stop-color="#fff600"/><stop offset="0.2653" stop-color="#ffff00"/><stop offset="0.2653" stop-color="#ffe2b6"/><stop offset="0.7161" stop-color="#ffe2b6"/><stop offset="0.7161" stop-color="#90fa96"/><stop offset="0.8013" stop-color="#8dfa9e"/><stop offset="0.8723" stop-color="#87f9ad"/><stop offset="0.9205" stop-color="#82f8bc"/><stop offset="0.9574" stop-color="#7bf5c8"/><stop offset="0.9801" stop-color="#76f3cf"/><stop offset="1" stop-color="#71f0d7"/></linearGradient>
<linearGradient id="c153" gradientUnits="userSpaceOnUse" x1="135.8" x2="943.2" y1="0" y2="0"><stop offset="0" stop-color="#ffc500"/><stop offset="0.08108" stop-color="#ffcc00"/><stop offset="0.1351" stop-color="#ffd700"/><stop offset="0.1757" stop-color="#ffe100"/><stop offset="0.2108" stop-color="#ffeb00"/><stop offset="0.2432" stop-color="#fff500"/><stop offset="0.2703" stop-color="#ffff00"/><stop offset="0.2703" stop-color="#ffe2b6"/><stop offset="0.7136" stop-color="#ffe2b6"/><stop offset="0.7136" stop-color="#90fa96"/><stop offset="0.7996" stop-color="#8dfa9e"/><stop offset="0.8711" stop-color="#87f9af"/><stop offset="0.9198" stop-color="#81f8be"/><stop offset="0.957" stop-color="#79f5ca"/><stop offset="0.98" stop-color="#74f2d2"/><stop offset="1" stop-color="#6fefd9"/></linearGradient>
<linearGradient id="c154" gradientUnits="userSpaceOnUse" x1="135.8" x2="943.2" y1="0" y2="0"><stop offset="0" stop-color="#ffc400"/><stop offset="0.08182" stop-color="#ffcc00"/><stop offset="0.1364" stop-color="#ffd600"/><stop offset="0.1773" stop-color="#ffe100"/><stop offset="0.2127" stop-color="#ffeb00"/><stop offset="0.2455" stop-color="#fff500"/><stop offset="0.2727" stop-color="#ffff00"/><stop offset="0.2727" stop-color="#ffe2b6"/><stop offset="0.7037" stop-color="#ffe2b6"/><stop offset="0.7037" stop-color="#90fa96"/><stop offset="0.7926" stop-color="#8cfaa0"/><stop offset="0.8667" stop-color="#85f9b4"/><stop offset="0.917" stop-color="#7cf6c6"/><stop offset="0.9556" stop-color="#72f1d4"/><stop offset="0.9793" stop-color="#6beeda"/><stop offset="1" stop-color="#64eade"/></linearGradient>
<linearGradient id="c155" gradientUnits="userSpaceOnUse" x1="135.8" x2="943.2" y1="0" y2="0"><stop offset="0" stop-color="#ffc400"/><stop offset="0.0833" stop-color="#ffcb00"/><stop offset="0.1388" stop-color="#ffd600"/><stop offset="0.1805" stop-color="#ffe000"/><stop offset="0.2166" stop-color="#ffeb00"/><stop offset="0.2499" stop-color="#fff500"/><stop offset="0.2777" stop-color="#ffff00"/><stop offset="0.2777" stop-color="#ffe2b6"/><stop offset="0.7013" stop-color="#ffe2b6"/><stop offset="0.7013" stop-color="#90fa96"/><stop offset="0.7909" stop-color="#8cf9a2"/><stop offset="0.8656" stop-color="#83f8b9"/><stop offset="0.9164" stop-color="#78f4cc"/><stop offset="0.9552" stop-color="#6ceeda"/><stop offset="0.9791" stop-color="#63eade"/><stop offset="1" stop-color="#5ce4e4"/></linearGradient>
<linearGradient id="c156" gradientUnits="userSpaceOnUse" x1="135.8" x2="943.2" y1="0" y2="0"><stop offset="0" stop-color="#ffc300"/><stop offset="0.08553" stop-color="#ffcb00"/><stop offset="0.1426" stop-color="#ffd500"/><stop offset="0.1853" stop-color="#ffe000"/><stop offset="0.2224" stop-color="#ffea00"/><stop offset="0.2566" stop-color="#fff500"/><stop offset="0.2851" stop-color="#ffff00"/><stop offset="0.2851" stop-color="#ffe2b6"/><stop offset="0.7087" stop-color="#ffe2b6"/><stop offset="0.7087" stop-color="#90fa96"/><stop offset="0.7961" stop-color="#8bf9a3"/><stop offset="0.8689" stop-color="#81f8be"/><stop offset="0.9184" stop-color="#73f2d3"/><stop offset="0.9563" stop-color="#65eade"/><stop offset="0.9796" stop-color="#5ce4e4"/><stop offset="1" stop-color="#54dcec"/></linearGradient>
<linearGradient id="c157" gradientUnits="userSpaceOnUse" x1="135.8" x2="943.2" y1="0" y2="0"><stop offset="0" stop-color="#ffc000"/><stop offset="0.08702" stop-color="#ffc800"/><stop offset="0.145" stop-color="#ffd300"/><stop offset="0.1885" stop-color="#ffde00"/><stop offset="0.2263" stop-color="#ffe900"/><stop offset="0.2611" stop-color="#fff500"/><stop offset="0.2901" stop-color="#ffff00"/><stop offset="0.2901" stop-color="#ffe2b6"/><stop offset="0.7112" stop-color="#ffe2b6"/><stop offset="0.7112" stop-color="#90fa96"/><stop offset="0.7978" stop-color="#8bf9a3"/><stop offset="0.87" stop-color="#81f8bd"/><stop offset="0.9191" stop-color="#74f2d2"/><stop offset="0.9567" stop-color="#67ebdd"/><stop offset="0.9798" stop-color="#5de5e3"/><stop offset="1" stop-color="#55ddeb"/></linearGradient>
<linearGradient id="c158" gradientUnits="userSpaceOnUse" x1="135.8" x2="943.2" y1="0" y2="0"><stop offset="0" stop-color="#ffbf00"/><stop offset="0.08925" stop-color="#ffc800"/><stop offset="0.1487" stop-color="#ffd300"/><stop offset="0.1934" stop-color="#ffde00"/><stop offset="0.232" stop-color="#ffe900"/><stop offset="0.2677" stop-color="#fff500"/><stop offset="0.2975" stop-color="#ffff00"/><stop offset="0.2975" stop-color="#ffe2b6"/><stop offset="0.7087" stop-color="#ffe2b6"/><stop offset="0.7087" stop-color="#90fa96"/><stop offset="0.7961" stop-color="#8bf9a3"/><stop offset="0.8689" stop-color="#82f8bc"/><stop offset="0.9184" stop-color="#75f2d1"/><stop offset="0.9563" stop-color="#68ecdc"/><stop offset="0.9796" stop-color="#5ee6e2"/><stop offset="1" stop-color="#57dfe9"/></linearGradient>
<linearGradient id="c159" gradientUnits="userSpaceOnUse" x1="135.8" x2="943.2" y1="0" y2="0"><stop offset="0" stop-color="#ffbc00"/><stop offset="0.09371" stop-color="#ffc400"/><stop offset="0.1562" stop-color="#ffd000"/><stop offset="0.203" stop-color="#ffdc00"/><stop offset="0.2436" stop-color="#ffe800"/><stop offset="0.2811" stop-color="#fff400"/><stop offset="0.3124" stop-color="#ffff00"/><stop offset="0.3124" stop-color="#ffe2b6"/><stop offset="0.7037" stop-color="#ffe2b6"/><stop offset="0.7037" stop-color="#90fa96"/><stop offset="0.7926" stop-color="#8bf9a2"/><stop offset="0.8667" stop-color="#82f8bb"/><stop offset="0.917" stop-color="#76f3cf"/><stop offset="0.9556" stop-color="#69eddb"/><stop offset="0.9793" stop-color="#60e8e0"/><stop offset="1" stop-color="#59e1e7"/></linearGradient>
<linearGradient id="c160" gradientUnits="userSpaceOnUse" x1="135.8" x2="943.2" y1="0" y2="0"><stop offset="0" stop-color="#ffb700"/><stop offset="0.09817" stop-color="#ffc100"/><stop offset="0.1636" stop-color="#ffcd00"/><stop offset="0.2127" stop-color="#ffda00"/><stop offset="0.2552" stop-color="#ffe600"/><stop offset="0.2945" stop-color="#fff300"/><stop offset="0.3272" stop-color="#ffff00"/><stop offset="0.3272" stop-color="#ffe2b6"/><stop offset="0.7013" stop-color="#ffe2b6"/><stop offset="0.7013" stop-color="#90fa96"/><stop offset="0.7909" stop-color="#8bf9a2"/><stop offset="0.8656" stop-color="#82f8ba"/><stop offset="0.9164" stop-color="#77f3ce"/><stop offset="0.9552" stop-color="#6aeddb"/><stop offset="0.9791" stop-color="#61e9df"/><stop offset="1" stop-color="#5ae2e6"/></linearGradient>
<linearGradient id="c161" gradientUnits="userSpaceOnUse" x1="135.8" x2="943.2" y1="0" y2="0"><stop offset="0" stop-color="#ffb300"/><stop offset="0.1026" stop-color="#ffbc00"/><stop offset="0.171" stop-color="#ffca00"/><stop offset="0.2224" stop-color="#ffd700"/><stop offset="0.2668" stop-color="#ffe500"/><stop offset="0.3079" stop-color="#fff200"/><stop offset="0.3421" stop-color="#ffff00"/><stop offset="0.3421" stop-color="#ffe2b6"/><stop offset="0.7236" stop-color="#ffe2b6"/><stop offset="0.7236" stop-color="#90fa96"/><stop offset="0.8065" stop-color="#8cf9a1"/><stop offset="0.8756" stop-color="#83f8b7"/><stop offset="0.9226" stop-color="#79f5ca"/><stop offset="0.9585" stop-color="#6fefd9"/><stop offset="0.9806" stop-color="#66ebdd"/><stop offset="1" stop-color="#5fe7e1"/></linearGradient>
<linearGradient id="c162" gradientUnits="userSpaceOnUse" x1="135.8" x2="943.2" y1="0" y2="0"><stop offset="0" stop-color="#ffaa00"/><stop offset="0.1101" stop-color="#ffb500"/><stop offset="0.1834" stop-color="#ffc400"/><stop offset="0.2385" stop-color="#ffd300"/><stop offset="0.2861" stop-color="#ffe200"/><stop offset="0.3302" stop-color="#fff100"/><stop offset="0.3669" stop-color="#ffff00"/><stop offset="0.3669" stop-color="#ffe2b6"/><stop offset="0.7483" stop-color="#ffe2b6"/><stop offset="0.7483" stop-color="#90fa96"/><stop offset="0.8238" stop-color="#8dfa9e"/><stop offset="0.8867" stop-color="#87f9af"/><stop offset="0.9295" stop-color="#81f8be"/><stop offset="0.9622" stop-color="#79f5ca"/><stop offset="0.9824" stop-color="#74f2d3"/><stop offset="1" stop-color="#6eefd9"/></linearGradient>
<linearGradient id="c163" gradientUnits="userSpaceOnUse" x1="135.8" x2="943.2" y1="0" y2="0"><stop offset="0" stop-color="#ffa400"/><stop offset="0.1182" stop-color="#ffb000"/><stop offset="0.1971" stop-color="#ffc000"/><stop offset="0.2562" stop-color="#ffd000"/><stop offset="0.3074" stop-color="#ffe000"/><stop offset="0.3547" stop-color="#fff000"/><stop offset="0.3941" stop-color="#ffff00"/><stop offset="0.3941" stop-color="#ffe2b6"/><stop offset="0.7756" stop-color="#ffe2b6"/><stop offset="0.7756" stop-color="#90fa96"/><stop offset="0.8429" stop-color="#8efa9c"/><stop offset="0.899" stop-color="#89f9a9"/><stop offset="0.9372" stop-color="#84f9b5"/><stop offset="0.9663" stop-color="#80f8c0"/><stop offset="0.9843" stop-color="#7cf6c6"/><stop offset="1" stop-color="#78f4cc"/></linearGradient>
<linearGradient id="c164" gradientUnits="userSpaceOnUse" x1="135.8" x2="943.2" y1="0" y2="0"><stop offset="0" stop-color="#ffa000"/><stop offset="0.1279" stop-color="#ffad00"/><stop offset="0.2132" stop-color="#ffbe00"/><stop offset="0.2771" stop-color="#ffce00"/><stop offset="0.3325" stop-color="#ffdf00"/><stop offset="0.3837" stop-color="#fff000"/><stop offset="0.4263" stop-color="#ffff00"/><stop offset="0.4263" stop-color="#ffe2b6"/><stop offset="0.7979" stop-color="#ffe2b6"/><stop offset="0.7979" stop-color="#90fa96"/><stop offset="0.8585" stop-color="#8efa9b"/><stop offset="0.909" stop-color="#8af9a6"/><stop offset="0.9434" stop-color="#86f9b1"/><stop offset="0.9697" stop-color="#82f8ba"/><stop offset="0.9859" stop-color="#80f8c0"/><stop offset="1" stop-color="#7df6c5"/></linearGradient>
<linearGradient id="c165" gradientUnits="userSpaceOnUse" x1="135.8" x2="943.2" y1="0" y2="0"><stop offset="0" stop-color="#ff9e00"/><stop offset="0.1368" stop-color="#ffac00"/><stop offset="0.228" stop-color="#ffbd00"/><stop offset="0.2964" stop-color="#ffcd00"/><stop offset="0.3557" stop-color="#ffde00"/><stop offset="0.4104" stop-color="#ffef00"/><stop offset="0.456" stop-color="#ffff00"/><stop offset="0.456" stop-color="#ffe2b6"/><stop offset="0.8152" stop-color="#ffe2b6"/><stop offset="0.8152" stop-color="#90fa96"/><stop offset="0.8706" stop-color="#8efa9c"/><stop offset="0.9168" stop-color="#89f9a8"/><stop offset="0.9483" stop-color="#85f9b3"/><stop offset="0.9723" stop-color="#81f8bd"/><stop offset="0.9871" stop-color="#7ef7c4"/><stop offset="1" stop-color="#7af5c9"/></linearGradient>
<linearGradient id="c166" gradientUnits="userSpaceOnUse" x1="135.8" x2="943.2" y1="0" y2="0"><stop offset="0" stop-color="#ffa300"/><stop offset="0.1376" stop-color="#ffaf00"/><stop offset="0.2293" stop-color="#ffc000"/><stop offset="0.298" stop-color="#ffd000"/><stop offset="0.3576" stop-color="#ffdf00"/><stop offset="0.4127" stop-color="#fff000"/><stop offset="0.4585" stop-color="#ffff00"/><stop offset="0.4585" stop-color="#ffe2b6"/><stop offset="0.8226" stop-color="#ffe2b6"/><stop offset="0.8226" stop-color="#90fa96"/><stop offset="0.8758" stop-color="#8efa9c"/><stop offset="0.9202" stop-color="#89f9a8"/><stop offset="0.9503" stop-color="#85f9b3"/><stop offset="0.9734" stop-color="#81f8bd"/><stop offset="0.9876" stop-color="#7ef7c3"/><stop offset="1" stop-color="#7af5c9"/></linearGradient>
<linearGradient id="c167" gradientUnits="userSpaceOnUse" x1="135.8" x2="943.2" y1="0" y2="0"><stop offset="0" stop-color="#ffa600"/><stop offset="0.1257" stop-color="#ffb200"/><stop offset="0.2094" stop-color="#ffc100"/><stop offset="0.2723" stop-color="#ffd100"/><stop offset="0.3267" stop-color="#ffe000"/><stop offset="0.377" stop-color="#fff000"/><stop offset="0.4189" stop-color="#ffff00"/><stop offset="0.4189" stop-color="#ffe2b6"/><stop offset="0.8078" stop-color="#ffe2b6"/><stop offset="0.8078" stop-color="#90fa96"/><stop offset="0.8654" stop-color="#8efa9b"/><stop offset="0.9135" stop-color="#8af9a5"/><stop offset="0.9462" stop-color="#87f9ae"/><stop offset="0.9712" stop-color="#84f8b6"/><stop offset="0.9865" stop-color="#82f8bb"/><stop offset="1" stop-color="#80f8c1"/></linearGradient>
<linearGradient id="c168" gradientUnits="userSpaceOnUse" x1="135.8" x2="943.2" y1="0" y2="0"><stop offset="0" stop-color="#ffab00"/><stop offset="0.1138" stop-color="#ffb600"/><stop offset="0.1896" stop-color="#ffc500"/><stop offset="0.2465" stop-color="#ffd300"/><stop offset="0.2958" stop-color="#ffe200"/><stop offset="0.3413" stop-color="#fff100"/><stop offset="0.3792" stop-color="#ffff00"/><stop offset="0.3792" stop-color="#ffe2b6"/><stop offset="0.7954" stop-color="#ffe2b6"/><stop offset="0.7954" stop-color="#90fa96"/><stop offset="0.8568" stop-color="#8efa9b"/><stop offset="0.9079" stop-color="#8bf9a4"/><stop offset="0.9427" stop-color="#87f9ad"/><stop offset="0.9693" stop-color="#84f9b5"/><stop offset="0.9857" stop-color="#82f8ba"/><stop offset="1" stop-color="#80f8c0"/></linearGradient>
<linearGradient id="c169" gradientUnits="userSpaceOnUse" x1="135.8" x2="943.2" y1="0" y2="0"><stop offset="0" stop-color="#ffad00"/><stop offset="0.1041" stop-color="#ffb800"/><stop offset="0.1735" stop-color="#ffc600"/><stop offset="0.2256" stop-color="#ffd500"/><stop offset="0.2707" stop-color="#ffe300"/><stop offset="0.3123" stop-color="#fff200"/><stop offset="0.347" stop-color="#ffff00"/><stop offset="0.347" stop-color="#ffe2b6"/><stop offset="0.783" stop-color="#ffe2b6"/><stop offset="0.783" stop-color="#90fa96"/><stop offset="0.8481" stop-color="#8efa9a"/><stop offset="0.9024" stop-color="#8bf9a2"/><stop offset="0.9392" stop-color="#88f9aa"/><stop offset="0.9675" stop-color="#86f9b1"/><stop offset="0.9848" stop-color="#84f8b6"/><stop offset="1" stop-color="#82f8ba"/></linearGradient>
<linearGradient id="c170" gradientUnits="userSpaceOnUse" x1="135.8" x2="943.2" y1="0" y2="0"><stop offset="0" stop-color="#ffb100"/><stop offset="0.1004" stop-color="#ffbb00"/><stop offset="0.1673" stop-color="#ffc900"/><stop offset="0.2175" stop-color="#ffd600"/><stop offset="0.261" stop-color="#ffe400"/><stop offset="0.3012" stop-color="#fff200"/><stop offset="0.3347" stop-color="#ffff00"/><stop offset="0.3347" stop-color="#ffe2b6"/><stop offset="0.7904" stop-color="#ffe2b6"/><stop offset="0.7904" stop-color="#90fa96"/><stop offset="0.8533" stop-color="#8efa9b"/><stop offset="0.9057" stop-color="#8bf9a3"/><stop offset="0.9413" stop-color="#88f9ac"/><stop offset="0.9686" stop-color="#85f9b4"/><stop offset="0.9853" stop-color="#83f8b9"/><stop offset="1" stop-color="#81f8be"/></linearGradient>
<linearGradient id="c171" gradientUnits="userSpaceOnUse" x1="135.8" x2="943.2" y1="0" y2="0"><stop offset="0" stop-color="#ffb400"/><stop offset="0.1049" stop-color="#ffbe00"/><stop offset="0.1748" stop-color="#ffcb00"/><stop offset="0.2272" stop-color="#ffd800"/><stop offset="0.2726" stop-color="#ffe500"/><stop offset="0.3146" stop-color="#fff300"/><stop offset="0.3495" stop-color="#ffff00"/><stop offset="0.3495" stop-color="#ffe2b6"/><stop offset="0.8103" stop-color="#ffe2b6"/><stop offset="0.8103" stop-color="#90fa96"/><stop offset="0.8672" stop-color="#8efa9b"/><stop offset="0.9146" stop-color="#8af9a5"/><stop offset="0.9469" stop-color="#87f9ae"/><stop offset="0.9715" stop-color="#83f8b7"/><stop offset="0.9867" stop-color="#81f8bd"/><stop offset="1" stop-color="#7ff7c2"/></linearGradient>
<linearGradient id="c172" gradientUnits="userSpaceOnUse" x1="135.8" x2="943.2" y1="0" y2="0"><stop offset="0" stop-color="#ffb400"/><stop offset="0.1093" stop-color="#ffbe00"/><stop offset="0.1822" stop-color="#ffcb00"/><stop offset="0.2368" stop-color="#ffd800"/><stop offset="0.2842" stop-color="#ffe500"/><stop offset="0.3279" stop-color="#fff300"/><stop offset="0.3644" stop-color="#ffff00"/><stop offset="0.3644" stop-color="#ffe2b6"/><stop offset="0.8301" stop-color="#ffe2b6"/><stop offset="0.8301" stop-color="#90fa96"/><stop offset="0.8811" stop-color="#8efa9b"/><stop offset="0.9235" stop-color="#8bf9a3"/><stop offset="0.9524" stop-color="#88f9ac"/><stop offset="0.9745" stop-color="#85f9b3"/><stop offset="0.9881" stop-color="#83f8b9"/><stop offset="1" stop-color="#81f8bd"/></linearGradient>
<linearGradient id="c173" gradientUnits="userSpaceOnUse" x1="135.8" x2="943.2" y1="0" y2="0"><stop offset="0" stop-color="#ffb400"/><stop offset="0.1138" stop-color="#ffbe00"/><stop offset="0.1896" stop-color="#ffcb00"/><stop offset="0.2465" stop-color="#ffd800"/><stop offset="0.2958" stop-color="#ffe500"/><stop offset="0.3413" stop-color="#fff300"/><stop offset="0.3792" stop-color="#ffff00"/><stop offset="0.3792" stop-color="#ffe2b6"/><stop offset="0.8499" stop-color="#ffe2b6"/><stop offset="0.8499" stop-color="#90fa96"/><stop offset="0.8949" stop-color="#8efa9b"/><stop offset="0.9324" stop-color="#8af9a5"/><stop offset="0.958" stop-color="#87f9ae"/><stop offset="0.9775" stop-color="#84f8b6"/><stop offset="0.9895" stop-color="#82f8bc"/><stop offset="1" stop-color="#7ff8c1"/></linearGradient>
<linearGradient id="c174" gradientUnits="userSpaceOnUse" x1="135.8" x2="943.2" y1="0" y2="0"><stop offset="0" stop-color="#ffb400"/><stop offset="0.1182" stop-color="#ffbe00"/><stop offset="0.1971" stop-color="#ffcb00"/><stop offset="0.2562" stop-color="#ffd800"/><stop offset="0.3074" stop-color="#ffe500"/><stop offset="0.3547" stop-color="#fff300"/><stop offset="0.3941" stop-color="#ffff00"/><stop offset="0.3941" stop-color="#ffe2b6"/><stop offset="0.8722" stop-color="#ffe2b6"/><stop offset="0.8722" stop-color="#90fa96"/><stop offset="0.9105" stop-color="#8efa9b"/><stop offset="0.9425" stop-color="#8af9a6"/><stop offset="0.9642" stop-color="#86f9af"/><stop offset="0.9808" stop-color="#83f8b8"/><stop offset="0.9911" stop-color="#81f8be"/><stop offset="1" stop-color="#7ef7c3"/></linearGradient>
<linearGradient id="c175" gradientUnits="userSpaceOnUse" x1="135.8" x2="943.2" y1="0" y2="0"><stop offset="0" stop-color="#ffb200"/><stop offset="0.1242" stop-color="#ffbc00"/><stop offset="0.207" stop-color="#ffca00"/><stop offset="0.269" stop-color="#ffd700"/><stop offset="0.3229" stop-color="#ffe500"/><stop offset="0.3725" stop-color="#fff200"/><stop offset="0.4139" stop-color="#ffff00"/><stop offset="0.4139" stop-color="#ffe2b6"/><stop offset="0.8945" stop-color="#ffe2b6"/><stop offset="0.8945" stop-color="#90fa96"/><stop offset="0.9261" stop-color="#8efa9b"/><stop offset="0.9525" stop-color="#8af9a5"/><stop offset="0.9705" stop-color="#87f9ae"/><stop offset="0.9842" stop-color="#84f8b6"/><stop offset="0.9926" stop-color="#81f8bc"/><stop offset="1" stop-color="#7ff8c1"/></linearGradient>
<linearGradient id="c176" gradientUnits="userSpaceOnUse" x1="135.8" x2="943.2" y1="0" y2="0"><stop offset="0" stop-color="#ffaa00"/><stop offset="0.1346" stop-color="#ffb500"/><stop offset="0.2243" stop-color="#ffc400"/><stop offset="0.2916" stop-color="#ffd300"/><stop offset="0.3499" stop-color="#ffe200"/><stop offset="0.4037" stop-color="#fff100"/><stop offset="0.4486" stop-color="#ffff00"/><stop offset="0.4486" stop-color="#ffe2b6"/><stop offset="0.9217" stop-color="#ffe2b6"/><stop offset="0.9217" stop-color="#90fa96"/><stop offset="0.9452" stop-color="#8ffa99"/><stop offset="0.9648" stop-color="#8dfa9f"/><stop offset="0.9781" stop-color="#8af9a5"/><stop offset="0.9883" stop-color="#89f9aa"/><stop offset="0.9945" stop-color="#87f9ad"/><stop offset="1" stop-color="#86f9b0"/></linearGradient>
<linearGradient id="c177" gradientUnits="userSpaceOnUse" x1="135.8" x2="943.2" y1="0" y2="0"><stop offset="0" stop-color="#ffa000"/><stop offset="0.1725" stop-color="#ffad00"/><stop offset="0.2875" stop-color="#ffbe00"/><stop offset="0.3737" stop-color="#ffce00"/><stop offset="0.4484" stop-color="#ffdf00"/><stop offset="0.5174" stop-color="#fff000"/><stop offset="0.5749" stop-color="#ffff00"/><stop offset="0.5749" stop-color="#ffe2b6"/><stop offset="0.9514" stop-color="#ffe2b6"/><stop offset="0.9514" stop-color="#90fa96"/><stop offset="0.966" stop-color="#8ffa97"/><stop offset="0.9782" stop-color="#8efa9a"/><stop offset="0.9864" stop-color="#8dfa9d"/><stop offset="0.9927" stop-color="#8cfaa0"/><stop offset="0.9966" stop-color="#8cf9a1"/><stop offset="1" stop-color="#8bf9a3"/></linearGradient>
<linearGradient id="c178" gradientUnits="userSpaceOnUse" x1="135.8" x2="943.2" y1="0" y2="0"><stop offset="0" stop-color="#ff9500"/><stop offset="0.2059" stop-color="#ffa500"/><stop offset="0.3432" stop-color="#ffb800"/><stop offset="0.4462" stop-color="#ffca00"/><stop offset="0.5354" stop-color="#ffdc00"/><stop offset="0.6178" stop-color="#ffee00"/><stop offset="0.6864" stop-color="#ffff00"/><stop offset="0.6864" stop-color="#ffe2b6"/><stop offset="0.996" stop-color="#ffe2b6"/><stop offset="0.996" stop-color="#90fa96"/><stop offset="0.9972" stop-color="#90fa97"/><stop offset="0.9982" stop-color="#8ffa9a"/><stop offset="0.9989" stop-color="#8efa9c"/><stop offset="0.9994" stop-color="#8dfa9e"/><stop offset="0.9997" stop-color="#8cfa9f"/><stop offset="1" stop-color="#8cfaa0"/></linearGradient>
<linearGradient id="c179" gradientUnits="userSpaceOnUse" x1="135.8" x2="943.2" y1="0" y2="0"><stop offset="0" stop-color="#ff8e00"/><stop offset="0.2163" stop-color="#ff9f00"/><stop offset="0.3605" stop-color="#ffb400"/><stop offset="0.4687" stop-color="#ffc700"/><stop offset="0.5624" stop-color="#ffda00"/><stop offset="0.649" stop-color="#ffed00"/><stop offset="0.7211" stop-color="#ffff00"/><stop offset="0.7211" stop-color="#ffe2b6"/><stop offset="1" stop-color="#ffe2b6"/></linearGradient>
<linearGradient id="c180" gradientUnits="userSpaceOnUse" x1="135.8" x2="943.2" y1="0" y2="0"><stop offset="0" stop-color="#ff9700"/><stop offset="0.2119" stop-color="#ffa700"/><stop offset="0.3531" stop-color="#ffb900"/><stop offset="0.459" stop-color="#ffca00"/><stop offset="0.5508" stop-color="#ffdc00"/><stop offset="0.6356" stop-color="#ffee00"/><stop offset="0.7062" stop-color="#ffff00"/><stop offset="0.7062" stop-color="#ffe2b6"/><stop offset="1" stop-color="#ffe2b6"/></linearGradient>
<linearGradient id="c181" gradientUnits="userSpaceOnUse" x1="135.8" x2="943.2" y1="0" y2="0"><stop offset="0" stop-color="#ffa200"/><stop offset="0.2089" stop-color="#ffaf00"/><stop offset="0.3482" stop-color="#ffbf00"/><stop offset="0.4526" stop-color="#ffcf00"/><stop offset="0.5431" stop-color="#ffdf00"/><stop offset="0.6267" stop-color="#fff000"/><stop offset="0.6963" stop-color="#ffff00"/><stop offset="0.6963" stop-color="#ffe2b6"/><stop offset="1" stop-color="#ffe2b6"/></linearGradient>
<linearGradient id="c182" gradientUnits="userSpaceOnUse" x1="135.8" x2="943.2" y1="0" y2="0"><stop offset="0" stop-color="#ffac00"/><stop offset="0.2067" stop-color="#ffb700"/><stop offset="0.3444" stop-color="#ffc600"/><stop offset="0.4478" stop-color="#ffd400"/><stop offset="0.5373" stop-color="#ffe200"/><stop offset="0.62" stop-color="#fff100"/><stop offset="0.6889" stop-color="#ffff00"/><stop offset="0.6889" stop-color="#ffe2b6"/><stop offset="0.944" stop-color="#ffe2b6"/><stop offset="0.944" stop-color="#90fa96"/><stop offset="0.9608" stop-color="#8efa9a"/><stop offset="0.9748" stop-color="#8bf9a3"/><stop offset="0.9843" stop-color="#88f9ab"/><stop offset="0.9916" stop-color="#85f9b2"/><stop offset="0.9961" stop-color="#83f8b7"/><stop offset="1" stop-color="#82f8bc"/></linearGradient>
<linearGradient id="c183" gradientUnits="userSpaceOnUse" x1="135.8" x2="943.2" y1="0" y2="0"><stop offset="0" stop-color="#ffb200"/><stop offset="0.1992" stop-color="#ffbc00"/><stop offset="0.3321" stop-color="#ffca00"/><stop offset="0.4317" stop-color="#ffd700"/><stop offset="0.518" stop-color="#ffe400"/><stop offset="0.5977" stop-color="#fff200"/><stop offset="0.6641" stop-color="#ffff00"/><stop offset="0.6641" stop-color="#ffe2b6"/><stop offset="0.9292" stop-color="#ffe2b6"/><stop offset="0.9292" stop-color="#90fa96"/><stop offset="0.9504" stop-color="#8efa9b"/><stop offset="0.9681" stop-color="#8af9a5"/><stop offset="0.9802" stop-color="#87f9af"/><stop offset="0.9894" stop-color="#83f8b7"/><stop offset="0.995" stop-color="#81f8bd"/><stop offset="1" stop-color="#7ff7c2"/></linearGradient>
<linearGradient id="c184" gradientUnits="userSpaceOnUse" x1="135.8" x2="943.2" y1="0" y2="0"><stop offset="0" stop-color="#ffb600"/><stop offset="0.1881" stop-color="#ffc000"/><stop offset="0.3135" stop-color="#ffcd00"/><stop offset="0.4075" stop-color="#ffd900"/><stop offset="0.489" stop-color="#ffe600"/><stop offset="0.5643" stop-color="#fff300"/><stop offset="0.627" stop-color="#ffff00"/><stop offset="0.627" stop-color="#ffe2b6"/><stop offset="0.9168" stop-color="#ffe2b6"/><stop offset="0.9168" stop-color="#90fa96"/><stop offset="0.9417" stop-color="#8efa9c"/><stop offset="0.9625" stop-color="#89f9a7"/><stop offset="0.9767" stop-color="#85f9b2"/><stop offset="0.9875" stop-color="#82f8bc"/><stop offset="0.9942" stop-color="#7ff7c2"/><stop offset="1" stop-color="#7bf6c7"/></linearGradient>
<linearGradient id="c185" gradientUnits="userSpaceOnUse" x1="135.8" x2="943.2" y1="0" y2="0"><stop offset="0" stop-color="#ffb700"/><stop offset="0.1732" stop-color="#ffc100"/><stop offset="0.2887" stop-color="#ffcd00"/><stop offset="0.3753" stop-color="#ffda00"/><stop offset="0.4504" stop-color="#ffe600"/><stop offset="0.5197" stop-color="#fff300"/><stop offset="0.5774" stop-color="#ffff00"/><stop offset="0.5774" stop-color="#ffe2b6"/><stop offset="0.9044" stop-color="#ffe2b6"/><stop offset="0.9044" stop-color="#90fa96"/><stop offset="0.9331" stop-color="#8efa9b"/><stop offset="0.957" stop-color="#8bf9a4"/><stop offset="0.9732" stop-color="#87f9ac"/><stop offset="0.9857" stop-color="#84f9b4"/><stop offset="0.9933" stop-color="#82f8ba"/><stop offset="1" stop-color="#81f8be"/></linearGradient>
<linearGradient id="c186" gradientUnits="userSpaceOnUse" x1="135.8" x2="943.2" y1="0" y2="0"><stop offset="0" stop-color="#ffb800"/><stop offset="0.1569" stop-color="#ffc100"/><stop offset="0.2615" stop-color="#ffce00"/><stop offset="0.3399" stop-color="#ffda00"/><stop offset="0.4079" stop-color="#ffe600"/><stop offset="0.4706" stop-color="#fff300"/><stop offset="0.5229" stop-color="#ffff00"/><stop offset="0.5229" stop-color="#ffe2b6"/><stop offset="0.8945" stop-color="#ffe2b6"/><stop offset="0.8945" stop-color="#90fa96"/><stop offset="0.9261" stop-color="#8ffa9a"/><stop offset="0.9525" stop-color="#8cf9a1"/><stop offset="0.9705" stop-color="#89f9a8"/><stop offset="0.9842" stop-color="#87f9af"/><stop offset="0.9926" stop-color="#85f9b3"/><stop offset="1" stop-color="#83f8b7"/></linearGradient>
<linearGradient id="c187" gradientUnits="userSpaceOnUse" x1="135.8" x2="943.2" y1="0" y2="0"><stop offset="0" stop-color="#ffba00"/><stop offset="0.1546" stop-color="#ffc300"/><stop offset="0.2577" stop-color="#ffcf00"/><stop offset="0.3351" stop-color="#ffdb00"/><stop offset="0.4021" stop-color="#ffe700"/><stop offset="0.4639" stop-color="#fff400"/><stop offset="0.5155" stop-color="#ffff00"/><stop offset="0.5155" stop-color="#ffe2b6"/><stop offset="0.8846" stop-color="#ffe2b6"/><stop offset="0.8846" stop-color="#90fa96"/><stop offset="0.9192" stop-color="#8ffa9a"/><stop offset="0.9481" stop-color="#8cf9a1"/><stop offset="0.9677" stop-color="#89f9a8"/><stop offset="0.9827" stop-color="#87f9ae"/><stop offset="0.9919" stop-color="#85f9b2"/><stop offset="1" stop-color="#84f8b6"/></linearGradient>
<linearGradient id="c188" gradientUnits="userSpaceOnUse" x1="135.8" x2="943.2" y1="0" y2="0"><stop offset="0" stop-color="#ffbd00"/><stop offset="0.1383" stop-color="#ffc600"/><stop offset="0.2305" stop-color="#ffd200"/><stop offset="0.2996" stop-color="#ffdd00"/><stop offset="0.3596" stop-color="#ffe800"/><stop offset="0.4149" stop-color="#fff400"/><stop offset="0.461" stop-color="#ffff00"/><stop offset="0.461" stop-color="#ffe2b6"/><stop offset="0.8722" stop-color="#ffe2b6"/><stop offset="0.8722" stop-color="#90fa96"/><stop offset="0.9105" stop-color="#8efa9a"/><stop offset="0.9425" stop-color="#8bf9a2"/><stop offset="0.9642" stop-color="#88f9aa"/><stop offset="0.9808" stop-color="#86f9b1"/><stop offset="0.9911" stop-color="#84f8b6"/><stop offset="1" stop-color="#82f8ba"/></linearGradient>
<linearGradient id="c189" gradientUnits="userSpaceOnUse" x1="135.8" x2="943.2" y1="0" y2="0"><stop offset="0" stop-color="#ffc200"/><stop offset="0.1175" stop-color="#ffca00"/><stop offset="0.1958" stop-color="#ffd500"/><stop offset="0.2546" stop-color="#ffdf00"/><stop offset="0.3055" stop-color="#ffea00"/><stop offset="0.3525" stop-color="#fff500"/><stop offset="0.3916" stop-color="#ffff00"/><stop offset="0.3916" stop-color="#ffe2b6"/><stop offset="0.8573" stop-color="#ffe2b6"/><stop offset="0.8573" stop-color="#90fa96"/><stop offset="0.9001" stop-color="#8efa9b"/><stop offset="0.9358" stop-color="#8af9a6"/><stop offset="0.96" stop-color="#86f9af"/><stop offset="0.9786" stop-color="#83f8b8"/><stop offset="0.99" stop-color="#81f8be"/><stop offset="1" stop-color="#7ef7c3"/></linearGradient>
<linearGradient id="c190" gradientUnits="userSpaceOnUse" x1="135.8" x2="943.2" y1="0" y2="0"><stop offset="0" stop-color="#ffbd00"/><stop offset="0.1212" stop-color="#ffc500"/><stop offset="0.202" stop-color="#ffd100"/><stop offset="0.2626" stop-color="#ffdd00"/><stop offset="0.3151" stop-color="#ffe800"/><stop offset="0.3636" stop-color="#fff400"/><stop offset="0.404" stop-color="#ffff00"/><stop offset="0.404" stop-color="#ffe2b6"/><stop offset="0.8598" stop-color="#ffe2b6"/><stop offset="0.8598" stop-color="#90fa96"/><stop offset="0.9019" stop-color="#8efa9b"/><stop offset="0.9369" stop-color="#8af9a4"/><stop offset="0.9607" stop-color="#87f9ad"/><stop offset="0.979" stop-color="#84f8b6"/><stop offset="0.9902" stop-color="#82f8bb"/><stop offset="1" stop-color="#80f8c0"/></linearGradient>
<linearGradient id="c191" gradientUnits="userSpaceOnUse" x1="135.8" x2="943.2" y1="0" y2="0"><stop offset="0" stop-color="#ffb600"/><stop offset="0.1747" stop-color="#ffbf00"/><stop offset="0.2912" stop-color="#ffcc00"/><stop offset="0.3785" stop-color="#ffd900"/><stop offset="0.4542" stop-color="#ffe600"/><stop offset="0.5241" stop-color="#fff300"/><stop offset="0.5824" stop-color="#ffff00"/><stop offset="0.5824" stop-color="#ffe2b6"/><stop offset="0.8846" stop-color="#ffe2b6"/><stop offset="0.8846" stop-color="#90fa96"/><stop offset="0.9192" stop-color="#8ffa9a"/><stop offset="0.9481" stop-color="#8cf9a2"/><stop offset="0.9677" stop-color="#89f9a9"/><stop offset="0.9827" stop-color="#86f9b0"/><stop offset="0.9919" stop-color="#85f9b4"/><stop offset="1" stop-color="#83f8b8"/></linearGradient>
<linearGradient id="c192" gradientUnits="userSpaceOnUse" x1="135.8" x2="943.2" y1="0" y2="0"><stop offset="0" stop-color="#ffad00"/><stop offset="0.2022" stop-color="#ffb700"/><stop offset="0.337" stop-color="#ffc600"/><stop offset="0.4381" stop-color="#ffd400"/><stop offset="0.5257" stop-color="#ffe300"/><stop offset="0.6066" stop-color="#fff200"/><stop offset="0.674" stop-color="#ffff00"/><stop offset="0.674" stop-color="#ffe2b6"/><stop offset="0.9217" stop-color="#ffe2b6"/><stop offset="0.9217" stop-color="#90fa96"/><stop offset="0.9452" stop-color="#8ffa98"/><stop offset="0.9648" stop-color="#8dfa9d"/><stop offset="0.9781" stop-color="#8bf9a2"/><stop offset="0.9883" stop-color="#8af9a6"/><stop offset="0.9945" stop-color="#89f9a9"/><stop offset="1" stop-color="#88f9ab"/></linearGradient>
<linearGradient id="c193" gradientUnits="userSpaceOnUse" x1="135.8" x2="943.2" y1="0" y2="0"><stop offset="0" stop-color="#ffa800"/><stop offset="0.2156" stop-color="#ffb300"/><stop offset="0.3593" stop-color="#ffc300"/><stop offset="0.4671" stop-color="#ffd200"/><stop offset="0.5605" stop-color="#ffe100"/><stop offset="0.6467" stop-color="#fff100"/><stop offset="0.7186" stop-color="#ffff00"/><stop offset="0.7186" stop-color="#ffe2b6"/><stop offset="0.9762" stop-color="#ffe2b6"/><stop offset="0.9762" stop-color="#90fa96"/><stop offset="0.9834" stop-color="#8ffa99"/><stop offset="0.9893" stop-color="#8dfa9e"/><stop offset="0.9933" stop-color="#8bf9a2"/><stop offset="0.9964" stop-color="#8af9a7"/><stop offset="0.9983" stop-color="#88f9aa"/><stop offset="1" stop-color="#87f9ac"/></linearGradient>
<linearGradient id="c194" gradientUnits="userSpaceOnUse" x1="135.8" x2="943.2" y1="0" y2="0"><stop offset="0" stop-color="#ffa000"/><stop offset="0.223" stop-color="#ffad00"/><stop offset="0.3717" stop-color="#ffbe00"/><stop offset="0.4832" stop-color="#ffce00"/><stop offset="0.5798" stop-color="#ffdf00"/><stop offset="0.669" stop-color="#fff000"/><stop offset="0.7434" stop-color="#ffff00"/><stop offset="0.7434" stop-color="#ffe2b6"/><stop offset="1" stop-color="#ffe2b6"/></linearGradient>
<linearGradient id="c195" gradientUnits="userSpaceOnUse" x1="135.8" x2="943.2" y1="0" y2="0"><stop offset="0" stop-color="#ff9c00"/><stop offset="0.2282" stop-color="#ffaa00"/><stop offset="0.3804" stop-color="#ffbb00"/><stop offset="0.4945" stop-color="#ffcc00"/><stop offset="0.5934" stop-color="#ffdd00"/><stop offset="0.6846" stop-color="#ffef00"/><stop offset="0.7607" stop-color="#ffff00"/><stop offset="0.7607" stop-color="#ffe2b6"/><stop offset="1" stop-color="#ffe2b6"/></linearGradient>
<linearGradient id="c196" gradientUnits="userSpaceOnUse" x1="135.8" x2="943.2" y1="0" y2="0"><stop offset="0" stop-color="#ff9900"/><stop offset="0.223" stop-color="#ffa800"/><stop offset="0.3717" stop-color="#ffba00"/><stop offset="0.4832" stop-color="#ffcb00"/><stop offset="0.5798" stop-color="#ffdd00"/><stop offset="0.669" stop-color="#ffef00"/><stop offset="0.7434" stop-color="#ffff00"/><stop offset="0.7434" stop-color="#ffe2b6"/><stop offset="1" stop-color="#ffe2b6"/></linearGradient>
<linearGradient id="c197" gradientUnits="userSpaceOnUse" x1="135.8" x2="943.2" y1="0" y2="0"><stop offset="0" stop-color="#ff9d00"/><stop offset="0.2178" stop-color="#ffab00"/><stop offset="0.363" stop-color="#ffbc00"/><stop offset="0.4719" stop-color="#ffcd00"/><stop offset="0.5663" stop-color="#ffde00"/><stop offset="0.6534" stop-color="#ffef00"/><stop offset="0.726" stop-color="#ffff00"/><stop offset="0.726" stop-color="#ffe2b6"/><stop offset="1" stop-color="#ffe2b6"/></linearGradient>
<linearGradient id="c198" gradientUnits="userSpaceOnUse" x1="135.8" x2="943.2" y1="0" y2="0"><stop offset="0" stop-color="#ff9e00"/><stop offset="0.2134" stop-color="#ffac00"/><stop offset="0.3556" stop-color="#ffbd00"/><stop offset="0.4623" stop-color="#ffcd00"/><stop offset="0.5547" stop-color="#ffde00"/><stop offset="0.6401" stop-color="#ffef00"/><stop offset="0.7112" stop-color="#ffff00"/><stop offset="0.7112" stop-color="#ffe2b6"/><stop offset="1" stop-color="#ffe2b6"/></linearGradient>
<linearGradient id="c199" gradientUnits="userSpaceOnUse" x1="135.8" x2="943.2" y1="0" y2="0"><stop offset="0" stop-color="#ff9800"/><stop offset="0.2215" stop-color="#ffa800"/><stop offset="0.3692" stop-color="#ffba00"/><stop offset="0.48" stop-color="#ffcb00"/><stop offset="0.576" stop-color="#ffdc00"/><stop offset="0.6646" stop-color="#ffef00"/><stop offset="0.7384" stop-color="#ffff00"/><stop offset="0.7384" stop-color="#ffe2b6"/><stop offset="1" stop-color="#ffe2b6"/></linearGradient>
<linearGradient id="c200" gradientUnits="userSpaceOnUse" x1="135.8" x2="943.2" y1="0" y2="0"><stop offset="0" stop-color="#ff9200"/><stop offset="0.2371" stop-color="#ffa300"/><stop offset="0.3952" stop-color="#ffb600"/><stop offset="0.5138" stop-color="#ffc800"/><stop offset="0.6165" stop-color="#ffdb00"/><stop offset="0.7114" stop-color="#ffee00"/><stop offset="0.7904" stop-color="#ffff00"/><stop offset="0.7904" stop-color="#ffe2b6"/><stop offset="1" stop-color="#ffe2b6"/></linearGradient>
<linearGradient id="c201" gradientUnits="userSpaceOnUse" x1="135.8" x2="943.2" y1="0" y2="0"><stop offset="0" stop-color="#ff8c00"/><stop offset="0.2505" stop-color="#ff9e00"/><stop offset="0.4175" stop-color="#ffb300"/><stop offset="0.5428" stop-color="#ffc600"/><stop offset="0.6513" stop-color="#ffd900"/><stop offset="0.7515" stop-color="#ffed00"/><stop offset="0.835" stop-color="#ffff00"/><stop offset="0.835" stop-color="#ffe2b6"/><stop offset="1" stop-color="#ffe2b6"/></linearGradient>
<linearGradient id="c202" gradientUnits="userSpaceOnUse" x1="135.8" x2="943.2" y1="0" y2="0"><stop offset="0" stop-color="#ff8c00"/><stop offset="0.2505" stop-color="#ff9e00"/><stop offset="0.4175" stop-color="#ffb300"/><stop offset="0.5428" stop-color="#ffc600"/><stop offset="0.6513" stop-color="#ffd900"/><stop offset="0.7515" stop-color="#ffed00"/><stop offset="0.835" stop-color="#ffff00"/><stop offset="0.835" stop-color="#ffe2b6"/><stop offset="1" stop-color="#ffe2b6"/></linearGradient>
<linearGradient id="c203" gradientUnits="userSpaceOnUse" x1="135.8" x2="943.2" y1="0" y2="0"><stop offset="0" stop-color="#ff8b00"/><stop offset="0.2453" stop-color="#ff9d00"/><stop offset="0.4088" stop-color="#ffb200"/><stop offset="0.5315" stop-color="#ffc500"/><stop offset="0.6378" stop-color="#ffd900"/><stop offset="0.7359" stop-color="#ffed00"/><stop offset="0.8177" stop-color="#ffff00"/><stop offset="0.8177" stop-color="#ffe2b6"/><stop offset="1" stop-color="#ffe2b6"/></linearGradient>
<linearGradient id="c204" gradientUnits="userSpaceOnUse" x1="135.8" x2="943.2" y1="0" y2="0"><stop offset="0" stop-color="#ff8b00"/><stop offset="0.2527" stop-color="#ff9d00"/><stop offset="0.4212" stop-color="#ffb200"/><stop offset="0.5476" stop-color="#ffc500"/><stop offset="0.6571" stop-color="#ffd900"/><stop offset="0.7582" stop-color="#ffed00"/><stop offset="0.8425" stop-color="#ffff00"/><stop offset="0.8425" stop-color="#ffe2b6"/><stop offset="1" stop-color="#ffe2b6"/></linearGradient>
<linearGradient id="c205" gradientUnits="userSpaceOnUse" x1="135.8" x2="943.2" y1="0" y2="0"><stop offset="0" stop-color="#ff8e00"/><stop offset="0.2602" stop-color="#ffa000"/><stop offset="0.4336" stop-color="#ffb400"/><stop offset="0.5637" stop-color="#ffc700"/><stop offset="0.6764" stop-color="#ffda00"/><stop offset="0.7805" stop-color="#ffed00"/><stop offset="0.8672" stop-color="#ffff00"/><stop offset="0.8672" stop-color="#ffe2b6"/><stop offset="1" stop-color="#ffe2b6"/></linearGradient>
<linearGradient id="c206" gradientUnits="userSpaceOnUse" x1="135.8" x2="943.2" y1="0" y2="0"><stop offset="0" stop-color="#ff8b00"/><stop offset="0.2669" stop-color="#ff9d00"/><stop offset="0.4448" stop-color="#ffb300"/><stop offset="0.5782" stop-color="#ffc600"/><stop offset="0.6938" stop-color="#ffd900"/><stop offset="0.8006" stop-color="#ffed00"/><stop offset="0.8895" stop-color="#ffff00"/><stop offset="0.8895" stop-color="#ffe2b6"/><stop offset="1" stop-color="#ffe2b6"/></linearGradient>
<linearGradient id="c207" gradientUnits="userSpaceOnUse" x1="135.8" x2="943.2" y1="0" y2="0"><stop offset="0" stop-color="#ff8a00"/><stop offset="0.2728" stop-color="#ff9c00"/><stop offset="0.4547" stop-color="#ffb200"/><stop offset="0.5911" stop-color="#ffc500"/><stop offset="0.7093" stop-color="#ffd800"/><stop offset="0.8184" stop-color="#ffed00"/><stop offset="0.9093" stop-color="#ffff00"/><stop offset="0.9093" stop-color="#ffe2b6"/><stop offset="1" stop-color="#ffe2b6"/></linearGradient>
<linearGradient id="c208" gradientUnits="userSpaceOnUse" x1="135.8" x2="943.2" y1="0" y2="0"><stop offset="0" stop-color="#ff8500"/><stop offset="0.278" stop-color="#ff9800"/><stop offset="0.4633" stop-color="#ffaf00"/><stop offset="0.6023" stop-color="#ffc300"/><stop offset="0.7228" stop-color="#ffd700"/><stop offset="0.834" stop-color="#ffec00"/><stop offset="0.9267" stop-color="#ffff00"/><stop offset="0.9267" stop-color="#ffe2b6"/><stop offset="1" stop-color="#ffe2b6"/></linearGradient>
<linearGradient id="c209" gradientUnits="userSpaceOnUse" x1="135.8" x2="943.2" y1="0" y2="0"><stop offset="0" stop-color="#ff7400"/><stop offset="0.2728" stop-color="#ff8b00"/><stop offset="0.4547" stop-color="#ffa800"/><stop offset="0.5911" stop-color="#ffbe00"/><stop offset="0.7093" stop-color="#ffd400"/><stop offset="0.8184" stop-color="#ffeb00"/><stop offset="0.9093" stop-color="#ffff00"/><stop offset="0.9093" stop-color="#ffe2b6"/><stop offset="1" stop-color="#ffe2b6"/></linearGradient>
<linearGradient id="c210" gradientUnits="userSpaceOnUse" x1="135.8" x2="943.2" y1="0" y2="0"><stop offset="0" stop-color="#ff7100"/><stop offset="0.2631" stop-color="#ff8900"/><stop offset="0.4386" stop-color="#ffa700"/><stop offset="0.5701" stop-color="#ffbd00"/><stop offset="0.6842" stop-color="#ffd400"/><stop offset="0.7894" stop-color="#ffea00"/><stop offset="0.8771" stop-color="#ffff00"/><stop offset="0.8771" stop-color="#ffe2b6"/><stop offset="1" stop-color="#ffe2b6"/></linearGradient>
<linearGradient id="c211" gradientUnits="userSpaceOnUse" x1="135.8" x2="943.2" y1="0" y2="0"><stop offset="0" stop-color="#ff7b00"/><stop offset="0.2535" stop-color="#ff9000"/><stop offset="0.4225" stop-color="#ffaa00"/><stop offset="0.5492" stop-color="#ffbf00"/><stop offset="0.659" stop-color="#ffd500"/><stop offset="0.7604" stop-color="#ffeb00"/><stop offset="0.8449" stop-color="#ffff00"/><stop offset="0.8449" stop-color="#ffe2b6"/><stop offset="1" stop-color="#ffe2b6"/></linearGradient>
<linearGradient id="c212" gradientUnits="userSpaceOnUse" x1="135.8" x2="943.2" y1="0" y2="0"><stop offset="0" stop-color="#ff8e00"/><stop offset="0.2453" stop-color="#ffa000"/><stop offset="0.4088" stop-color="#ffb400"/><stop offset="0.5315" stop-color="#ffc700"/><stop offset="0.6378" stop-color="#ffda00"/><stop offset="0.7359" stop-color="#ffed00"/><stop offset="0.8177" stop-color="#ffff00"/><stop offset="0.8177" stop-color="#ffe2b6"/><stop offset="1" stop-color="#ffe2b6"/></linearGradient>
<linearGradient id="c213" gradientUnits="userSpaceOnUse" x1="135.8" x2="943.2" y1="0" y2="0"><stop offset="0" stop-color="#ff9900"/><stop offset="0.2379" stop-color="#ffa800"/><stop offset="0.3965" stop-color="#ffba00"/><stop offset="0.5154" stop-color="#ffcb00"/><stop offset="0.6185" stop-color="#ffdd00"/><stop offset="0.7136" stop-color="#ffef00"/><stop offset="0.7929" stop-color="#ffff00"/><stop offset="0.7929" stop-color="#ffe2b6"/><stop offset="1" stop-color="#ffe2b6"/></linearGradient>
<linearGradient id="c214" gradientUnits="userSpaceOnUse" x1="135.8" x2="943.2" y1="0" y2="0"><stop offset="0" stop-color="#ffa200"/><stop offset="0.2327" stop-color="#ffae00"/><stop offset="0.3878" stop-color="#ffbf00"/><stop offset="0.5041" stop-color="#ffcf00"/><stop offset="0.6049" stop-color="#ffdf00"/><stop offset="0.698" stop-color="#fff000"/><stop offset="0.7756" stop-color="#ffff00"/><stop offset="0.7756" stop-color="#ffe2b6"/><stop offset="1" stop-color="#ffe2b6"/></linearGradient>
<linearGradient id="c215" gradientUnits="userSpaceOnUse" x1="135.8" x2="943.2" y1="0" y2="0"><stop offset="0" stop-color="#ffa100"/><stop offset="0.2297" stop-color="#ffae00"/><stop offset="0.3828" stop-color="#ffbe00"/><stop offset="0.4977" stop-color="#ffce00"/><stop offset="0.5972" stop-color="#ffdf00"/><stop offset="0.6891" stop-color="#fff000"/><stop offset="0.7657" stop-color="#ffff00"/><stop offset="0.7657" stop-color="#ffe2b6"/><stop offset="1" stop-color="#ffe2b6"/></linearGradient>
<linearGradient id="c216" gradientUnits="userSpaceOnUse" x1="135.8" x2="943.2" y1="0" y2="0"><stop offset="0" stop-color="#ffa100"/><stop offset="0.2327" stop-color="#ffae00"/><stop offset="0.3878" stop-color="#ffbe00"/><stop offset="0.5041" stop-color="#ffcf00"/><stop offset="0.6049" stop-color="#ffdf00"/><stop offset="0.698" stop-color="#fff000"/><stop offset="0.7756" stop-color="#ffff00"/><stop offset="0.7756" stop-color="#ffe2b6"/><stop offset="1" stop-color="#ffe2b6"/></linearGradient>
<linearGradient id="c217" gradientUnits="userSpaceOnUse" x1="135.8" x2="943.2" y1="0" y2="0"><stop offset="0" stop-color="#ffa300"/><stop offset="0.2356" stop-color="#ffaf00"/><stop offset="0.3927" stop-color="#ffc000"/><stop offset="0.5106" stop-color="#ffd000"/><stop offset="0.6127" stop-color="#ffe000"/><stop offset="0.7069" stop-color="#fff000"/><stop offset="0.7855" stop-color="#ffff00"/><stop offset="0.7855" stop-color="#ffe2b6"/><stop offset="1" stop-color="#ffe2b6"/></linearGradient>
<linearGradient id="c218" gradientUnits="userSpaceOnUse" x1="135.8" x2="943.2" y1="0" y2="0"><stop offset="0" stop-color="#ffa500"/><stop offset="0.2416" stop-color="#ffb000"/><stop offset="0.4027" stop-color="#ffc000"/><stop offset="0.5234" stop-color="#ffd000"/><stop offset="0.6281" stop-color="#ffe000"/><stop offset="0.7248" stop-color="#fff000"/><stop offset="0.8053" stop-color="#ffff00"/><stop offset="0.8053" stop-color="#ffe2b6"/><stop offset="1" stop-color="#ffe2b6"/></linearGradient>
<linearGradient id="c219" gradientUnits="userSpaceOnUse" x1="135.8" x2="943.2" y1="0" y2="0"><stop offset="0" stop-color="#ffa600"/><stop offset="0.2475" stop-color="#ffb100"/><stop offset="0.4126" stop-color="#ffc100"/><stop offset="0.5363" stop-color="#ffd100"/><stop offset="0.6436" stop-color="#ffe000"/><stop offset="0.7426" stop-color="#fff000"/><stop offset="0.8251" stop-color="#ffff00"/><stop offset="0.8251" stop-color="#ffe2b6"/><stop offset="1" stop-color="#ffe2b6"/></linearGradient>
<linearGradient id="c220" gradientUnits="userSpaceOnUse" x1="135.8" x2="943.2" y1="0" y2="0"><stop offset="0" stop-color="#ffa600"/><stop offset="0.255" stop-color="#ffb200"/><stop offset="0.4249" stop-color="#ffc100"/><stop offset="0.5524" stop-color="#ffd100"/><stop offset="0.6629" stop-color="#ffe000"/><stop offset="0.7649" stop-color="#fff000"/><stop offset="0.8499" stop-color="#ffff00"/><stop offset="0.8499" stop-color="#ffe2b6"/><stop offset="1" stop-color="#ffe2b6"/></linearGradient>
<linearGradient id="c221" gradientUnits="userSpaceOnUse" x1="135.8" x2="943.2" y1="0" y2="0"><stop offset="0" stop-color="#ffa300"/><stop offset="0.2631" stop-color="#ffaf00"/><stop offset="0.4386" stop-color="#ffbf00"/><stop offset="0.5701" stop-color="#ffcf00"/><stop offset="0.6842" stop-color="#ffdf00"/><stop offset="0.7894" stop-color="#fff000"/><stop offset="0.8771" stop-color="#ffff00"/><stop offset="0.8771" stop-color="#ffe2b6"/><stop offset="1" stop-color="#ffe2b6"/></linearGradient>
<linearGradient id="c222" gradientUnits="userSpaceOnUse" x1="135.8" x2="943.2" y1="0" y2="0"><stop offset="0" stop-color="#ffa200"/><stop offset="0.2691" stop-color="#ffae00"/><stop offset="0.4485" stop-color="#ffbf00"/><stop offset="0.583" stop-color="#ffcf00"/><stop offset="0.6996" stop-color="#ffdf00"/><stop offset="0.8073" stop-color="#fff000"/><stop offset="0.897" stop-color="#ffff00"/><stop offset="0.897" stop-color="#ffe2b6"/><stop offset="1" stop-color="#ffe2b6"/></linearGradient>
<linearGradient id="c223" gradientUnits="userSpaceOnUse" x1="135.8" x2="943.2" y1="0" y2="0"><stop offset="0" stop-color="#ff9e00"/><stop offset="0.2735" stop-color="#ffab00"/><stop offset="0.4559" stop-color="#ffbd00"/><stop offset="0.5927" stop-color="#ffcd00"/><stop offset="0.7112" stop-color="#ffde00"/><stop offset="0.8206" stop-color="#ffef00"/><stop offset="0.9118" stop-color="#ffff00"/><stop offset="0.9118" stop-color="#ffe2b6"/><stop offset="1" stop-color="#ffe2b6"/></linearGradient>
<linearGradient id="c224" gradientUnits="userSpaceOnUse" x1="135.8" x2="943.2" y1="0" y2="0"><stop offset="0" stop-color="#ffa400"/><stop offset="0.2817" stop-color="#ffb000"/><stop offset="0.4695" stop-color="#ffc000"/><stop offset="0.6104" stop-color="#ffd000"/><stop offset="0.7325" stop-color="#ffe000"/><stop offset="0.8452" stop-color="#fff000"/><stop offset="0.9391" stop-color="#ffff00"/><stop offset="0.9391" stop-color="#ffe2b6"/><stop offset="1" stop-color="#ffe2b6"/></linearGradient>
<linearGradient id="c225" gradientUnits="userSpaceOnUse" x1="135.8" x2="943.2" y1="0" y2="0"><stop offset="0" stop-color="#ffa100"/><stop offset="0.2921" stop-color="#ffad00"/><stop offset="0.4869" stop-color="#ffbe00"/><stop offset="0.6329" stop-color="#ffce00"/><stop offset="0.7595" stop-color="#ffdf00"/><stop offset="0.8764" stop-color="#fff000"/><stop offset="0.9737" stop-color="#ffff00"/><stop offset="0.9737" stop-color="#ffe2b6"/><stop offset="1" stop-color="#ffe2b6"/></linearGradient>
<linearGradient id="c226" gradientUnits="userSpaceOnUse" x1="135.8" x2="943.2" y1="0" y2="0"><stop offset="0" stop-color="#ff9d00"/><stop offset="0.2996" stop-color="#ffab00"/><stop offset="0.4993" stop-color="#ffbc00"/><stop offset="0.649" stop-color="#ffcd00"/><stop offset="0.7788" stop-color="#ffde00"/><stop offset="0.8987" stop-color="#ffef00"/><stop offset="0.9985" stop-color="#ffff00"/><stop offset="0.9985" stop-color="#ffe2b6"/><stop offset="1" stop-color="#ffe2b6"/></linearGradient>
<linearGradient id="c227" gradientUnits="userSpaceOnUse" x1="135.8" x2="943.2" y1="0" y2="0"><stop offset="0" stop-color="#ff9500"/><stop offset="0.3018" stop-color="#ffa500"/><stop offset="0.503" stop-color="#ffb800"/><stop offset="0.6539" stop-color="#ffc900"/><stop offset="0.7846" stop-color="#ffdb00"/><stop offset="0.9054" stop-color="#ffee00"/><stop offset="1" stop-color="#ffff00"/><stop offset="1" stop-color="#ffe2b6"/><stop offset="1" stop-color="#ffe2b6"/></linearGradient>
<linearGradient id="c228" gradientUnits="userSpaceOnUse" x1="135.8" x2="943.2" y1="0" y2="0"><stop offset="0" stop-color="#ff9900"/><stop offset="0.2914" stop-color="#ffa800"/><stop offset="0.4856" stop-color="#ffba00"/><stop offset="0.6313" stop-color="#ffcb00"/><stop offset="0.7576" stop-color="#ffdd00"/><stop offset="0.8741" stop-color="#ffef00"/><stop offset="0.9713" stop-color="#ffff00"/><stop offset="0.9713" stop-color="#ffe2b6"/><stop offset="1" stop-color="#ffe2b6"/></linearGradient>
<linearGradient id="c229" gradientUnits="userSpaceOnUse" x1="135.8" x2="943.2" y1="0" y2="0"><stop offset="0" stop-color="#ff9e00"/><stop offset="0.2758" stop-color="#ffac00"/><stop offset="0.4596" stop-color="#ffbd00"/><stop offset="0.5975" stop-color="#ffcd00"/><stop offset="0.717" stop-color="#ffde00"/><stop offset="0.8273" stop-color="#ffef00"/><stop offset="0.9192" stop-color="#ffff00"/><stop offset="0.9192" stop-color="#ffe2b6"/><stop offset="1" stop-color="#ffe2b6"/></linearGradient>
<linearGradient id="c230" gradientUnits="userSpaceOnUse" x1="135.8" x2="943.2" y1="0" y2="0"><stop offset="0" stop-color="#ffa400"/><stop offset="0.2617" stop-color="#ffb000"/><stop offset="0.4361" stop-color="#ffc000"/><stop offset="0.5669" stop-color="#ffd000"/><stop offset="0.6803" stop-color="#ffe000"/><stop offset="0.785" stop-color="#fff000"/><stop offset="0.8722" stop-color="#ffff00"/><stop offset="0.8722" stop-color="#ffe2b6"/><stop offset="1" stop-color="#ffe2b6"/></linearGradient>
<linearGradient id="c231" gradientUnits="userSpaceOnUse" x1="135.8" x2="943.2" y1="0" y2="0"><stop offset="0" stop-color="#ff9800"/><stop offset="0.2646" stop-color="#ffa800"/><stop offset="0.441" stop-color="#ffba00"/><stop offset="0.5734" stop-color="#ffcb00"/><stop offset="0.688" stop-color="#ffdc00"/><stop offset="0.7939" stop-color="#ffef00"/><stop offset="0.8821" stop-color="#ffff00"/><stop offset="0.8821" stop-color="#ffe2b6"/><stop offset="1" stop-color="#ffe2b6"/></linearGradient>
<linearGradient id="c232" gradientUnits="userSpaceOnUse" x1="135.8" x2="943.2" y1="0" y2="0"><stop offset="0" stop-color="#ff8300"/><stop offset="0.2631" stop-color="#ff9600"/><stop offset="0.4386" stop-color="#ffae00"/><stop offset="0.5701" stop-color="#ffc200"/><stop offset="0.6842" stop-color="#ffd700"/><stop offset="0.7894" stop-color="#ffec00"/><stop offset="0.8771" stop-color="#ffff00"/><stop offset="0.8771" stop-color="#ffe2b6"/><stop offset="1" stop-color="#ffe2b6"/></linearGradient>
<linearGradient id="c233" gradientUnits="userSpaceOnUse" x1="135.8" x2="943.2" y1="0" y2="0"><stop offset="0" stop-color="#ff7200"/><stop offset="0.2587" stop-color="#ff8900"/><stop offset="0.4311" stop-color="#ffa700"/><stop offset="0.5605" stop-color="#ffbd00"/><stop offset="0.6726" stop-color="#ffd400"/><stop offset="0.776" stop-color="#ffea00"/><stop offset="0.8623" stop-color="#ffff00"/><stop offset="0.8623" stop-color="#ffe2b6"/><stop offset="1" stop-color="#ffe2b6"/></linearGradient>
<linearGradient id="c234" gradientUnits="userSpaceOnUse" x1="135.8" x2="943.2" y1="0" y2="0"><stop offset="0" stop-color="#ff6c00"/><stop offset="0.2602" stop-color="#ff8600"/><stop offset="0.4336" stop-color="#ffa500"/><stop offset="0.5637" stop-color="#ffbc00"/><stop offset="0.6764" stop-color="#ffd300"/><stop offset="0.7805" stop-color="#ffea00"/><stop offset="0.8672" stop-color="#ffff00"/><stop offset="0.8672" stop-color="#ffe2b6"/><stop offset="1" stop-color="#ffe2b6"/></linearGradient>
<linearGradient id="c235" gradientUnits="userSpaceOnUse" x1="135.8" x2="943.2" y1="0" y2="0"><stop offset="0" stop-color="#ff6f00"/><stop offset="0.2631" stop-color="#ff8700"/><stop offset="0.4386" stop-color="#ffa600"/><stop offset="0.5701" stop-color="#ffbd00"/><stop offset="0.6842" stop-color="#ffd300"/><stop offset="0.7894" stop-color="#ffea00"/><stop offset="0.8771" stop-color="#ffff00"/><stop offset="0.8771" stop-color="#ffe2b6"/><stop offset="1" stop-color="#ffe2b6"/></linearGradient>
<linearGradient id="c236" gradientUnits="userSpaceOnUse" x1="135.8" x2="943.2" y1="0" y2="0"><stop offset="0" stop-color="#ff6900"/><stop offset="0.2646" stop-color="#ff8400"/><stop offset="0.441" stop-color="#ffa400"/><stop offset="0.5734" stop-color="#ffbc00"/><stop offset="0.688" stop-color="#ffd300"/><stop offset="0.7939" stop-color="#ffea00"/><stop offset="0.8821" stop-color="#ffff00"/><stop offset="0.8821" stop-color="#ffe2b6"/><stop offset="1" stop-color="#ffe2b6"/></linearGradient>
<linearGradient id="c237" gradientUnits="userSpaceOnUse" x1="135.8" x2="943.2" y1="0" y2="0"><stop offset="0" stop-color="#ff6500"/><stop offset="0.2617" stop-color="#ff8100"/><stop offset="0.4361" stop-color="#ffa200"/><stop offset="0.5669" stop-color="#ffbb00"/><stop offset="0.6803" stop-color="#ffd200"/><stop offset="0.785" stop-color="#ffea00"/><stop offset="0.8722" stop-color="#ffff00"/><stop offset="0.8722" stop-color="#ffe2b6"/><stop offset="1" stop-color="#ffe2b6"/></linearGradient>
<linearGradient id="c238" gradientUnits="userSpaceOnUse" x1="135.8" x2="943.2" y1="0" y2="0"><stop offset="0" stop-color="#ff5100"/><stop offset="0.2639" stop-color="#ff7600"/><stop offset="0.4398" stop-color="#ff9c00"/><stop offset="0.5717" stop-color="#ffb800"/><stop offset="0.6861" stop-color="#ffd100"/><stop offset="0.7917" stop-color="#ffea00"/><stop offset="0.8796" stop-color="#ffff00"/><stop offset="0.8796" stop-color="#ffe2b6"/><stop offset="1" stop-color="#ffe2b6"/></linearGradient>
<linearGradient id="c239" gradientUnits="userSpaceOnUse" x1="135.8" x2="943.2" y1="0" y2="0"><stop offset="0" stop-color="#ff3300"/><stop offset="0.2669" stop-color="#ff6c00"/><stop offset="0.4448" stop-color="#ff9800"/><stop offset="0.5782" stop-color="#ffb700"/><stop offset="0.6938" stop-color="#ffd100"/><stop offset="0.8006" stop-color="#ffea00"/><stop offset="0.8895" stop-color="#ffff00"/><stop offset="0.8895" stop-color="#ffe2b6"/><stop offset="1" stop-color="#ffe2b6"/></linearGradient>
<linearGradient id="c240" gradientUnits="userSpaceOnUse" x1="135.8" x2="943.2" y1="0" y2="0"><stop offset="0" stop-color="#ff1500"/><stop offset="0.2706" stop-color="#ff6600"/><stop offset="0.451" stop-color="#ff9600"/><stop offset="0.5862" stop-color="#ffb700"/><stop offset="0.7035" stop-color="#ffd100"/><stop offset="0.8117" stop-color="#ffea00"/><stop offset="0.9019" stop-color="#ffff00"/><stop offset="0.9019" stop-color="#ffe2b6"/><stop offset="1" stop-color="#ffe2b6"/></linearGradient>
<linearGradient id="c241" gradientUnits="userSpaceOnUse" x1="135.8" x2="943.2" y1="0" y2="0"><stop offset="0" stop-color="#ff0200"/><stop offset="0.2743" stop-color="#ff6000"/><stop offset="0.4571" stop-color="#ff9300"/><stop offset="0.5943" stop-color="#ffb600"/><stop offset="0.7131" stop-color="#ffd100"/><stop offset="0.8229" stop-color="#ffea00"/><stop offset="0.9143" stop-color="#ffff00"/><stop offset="0.9143" stop-color="#ffe2b6"/><stop offset="1" stop-color="#ffe2b6"/></linearGradient>
<linearGradient id="c242" gradientUnits="userSpaceOnUse" x1="135.8" x2="943.2" y1="0" y2="0"><stop offset="0" stop-color="#fd0000"/><stop offset="0.278" stop-color="#ff5d00"/><stop offset="0.4633" stop-color="#ff9100"/><stop offset="0.6023" stop-color="#ffb400"/><stop offset="0.7228" stop-color="#ffd000"/><stop offset="0.834" stop-color="#ffea00"/><stop offset="0.9267" stop-color="#ffff00"/><stop offset="0.9267" stop-color="#ffe2b6"/><stop offset="1" stop-color="#ffe2b6"/></linearGradient>
<linearGradient id="c243" gradientUnits="userSpaceOnUse" x1="135.8" x2="943.2" y1="0" y2="0"><stop offset="0" stop-color="#f30000"/><stop offset="0.281" stop-color="#ff5700"/><stop offset="0.4683" stop-color="#ff8c00"/><stop offset="0.6088" stop-color="#ffb200"/><stop offset="0.7305" stop-color="#ffce00"/><stop offset="0.8429" stop-color="#ffe900"/><stop offset="0.9366" stop-color="#ffff00"/><stop offset="0.9366" stop-color="#ffe2b6"/><stop offset="1" stop-color="#ffe2b6"/></linearGradient>
<linearGradient id="c244" gradientUnits="userSpaceOnUse" x1="135.8" x2="943.2" y1="0" y2="0"><stop offset="0" stop-color="#f30000"/><stop offset="0.2832" stop-color="#ff5700"/><stop offset="0.472" stop-color="#ff8c00"/><stop offset="0.6136" stop-color="#ffb200"/><stop offset="0.7363" stop-color="#ffce00"/><stop offset="0.8496" stop-color="#ffe900"/><stop offset="0.944" stop-color="#ffff00"/><stop offset="0.944" stop-color="#ffe2b6"/><stop offset="1" stop-color="#ffe2b6"/></linearGradient>
<linearGradient id="c245" gradientUnits="userSpaceOnUse" x1="135.8" x2="943.2" y1="0" y2="0"><stop offset="0" stop-color="#f30000"/><stop offset="0.2847" stop-color="#ff5700"/><stop offset="0.4745" stop-color="#ff8c00"/><stop offset="0.6168" stop-color="#ffb200"/><stop offset="0.7402" stop-color="#ffce00"/><stop offset="0.8541" stop-color="#ffe900"/><stop offset="0.949" stop-color="#ffff00"/><stop offset="0.949" stop-color="#ffe2b6"/><stop offset="1" stop-color="#ffe2b6"/></linearGradient>
<linearGradient id="c246" gradientUnits="userSpaceOnUse" x1="135.8" x2="943.2" y1="0" y2="0"><stop offset="0" stop-color="#f30000"/><stop offset="0.2825" stop-color="#ff5700"/><stop offset="0.4708" stop-color="#ff8c00"/><stop offset="0.612" stop-color="#ffb200"/><stop offset="0.7344" stop-color="#ffce00"/><stop offset="0.8474" stop-color="#ffe900"/><stop offset="0.9415" stop-color="#ffff00"/><stop offset="0.9415" stop-color="#ffe2b6"/><stop offset="1" stop-color="#ffe2b6"/></linearGradient>
<linearGradient id="c247" gradientUnits="userSpaceOnUse" x1="135.8" x2="943.2" y1="0" y2="0"><stop offset="0" stop-color="#f30000"/><stop offset="0.2795" stop-color="#ff5700"/><stop offset="0.4658" stop-color="#ff8c00"/><stop offset="0.6056" stop-color="#ffb200"/><stop offset="0.7267" stop-color="#ffce00"/><stop offset="0.8385" stop-color="#ffe900"/><stop offset="0.9316" stop-color="#ffff00"/><stop offset="0.9316" stop-color="#ffe2b6"/><stop offset="1" stop-color="#ffe2b6"/></linearGradient>
<linearGradient id="c248" gradientUnits="userSpaceOnUse" x1="135.8" x2="943.2" y1="0" y2="0"><stop offset="0" stop-color="#f30000"/><stop offset="0.275" stop-color="#ff5700"/><stop offset="0.4584" stop-color="#ff8c00"/><stop offset="0.5959" stop-color="#ffb200"/><stop offset="0.7151" stop-color="#ffce00"/><stop offset="0.8251" stop-color="#ffe900"/><stop offset="0.9168" stop-color="#ffff00"/><stop offset="0.9168" stop-color="#ffe2b6"/><stop offset="1" stop-color="#ffe2b6"/></linearGradient>
<linearGradient id="c249" gradientUnits="userSpaceOnUse" x1="135.8" x2="943.2" y1="0" y2="0"><stop offset="0" stop-color="#ff0700"/><stop offset="0.2698" stop-color="#ff6300"/><stop offset="0.4497" stop-color="#ff9500"/><stop offset="0.5846" stop-color="#ffb700"/><stop offset="0.7016" stop-color="#ffd100"/><stop offset="0.8095" stop-color="#ffea00"/><stop offset="0.8994" stop-color="#ffff00"/><stop offset="0.8994" stop-color="#ffe2b6"/><stop offset="1" stop-color="#ffe2b6"/></linearGradient>
<linearGradient id="c250" gradientUnits="userSpaceOnUse" x1="135.8" x2="943.2" y1="0" y2="0"><stop offset="0" stop-color="#ff2300"/><stop offset="0.2646" stop-color="#ff6800"/><stop offset="0.441" stop-color="#ff9600"/><stop offset="0.5734" stop-color="#ffb600"/><stop offset="0.688" stop-color="#ffd100"/><stop offset="0.7939" stop-color="#ffea00"/><stop offset="0.8821" stop-color="#ffff00"/><stop offset="0.8821" stop-color="#ffe2b6"/><stop offset="1" stop-color="#ffe2b6"/></linearGradient>
<linearGradient id="c251" gradientUnits="userSpaceOnUse" x1="135.8" x2="943.2" y1="0" y2="0"><stop offset="0" stop-color="#ff3400"/><stop offset="0.2594" stop-color="#ff6c00"/><stop offset="0.4324" stop-color="#ff9800"/><stop offset="0.5621" stop-color="#ffb700"/><stop offset="0.6745" stop-color="#ffd100"/><stop offset="0.7783" stop-color="#ffea00"/><stop offset="0.8648" stop-color="#ffff00"/><stop offset="0.8648" stop-color="#ffe2b6"/><stop offset="1" stop-color="#ffe2b6"/></linearGradient>
<linearGradient id="c252" gradientUnits="userSpaceOnUse" x1="135.8" x2="943.2" y1="0" y2="0"><stop offset="0" stop-color="#ff3500"/><stop offset="0.2594" stop-color="#ff6c00"/><stop offset="0.4324" stop-color="#ff9800"/><stop offset="0.5621" stop-color="#ffb700"/><stop offset="0.6745" stop-color="#ffd100"/><stop offset="0.7783" stop-color="#ffea00"/><stop offset="0.8648" stop-color="#ffff00"/><stop offset="0.8648" stop-color="#ffe2b6"/><stop offset="1" stop-color="#ffe2b6"/></linearGradient>
<linearGradient id="c253" gradientUnits="userSpaceOnUse" x1="135.8" x2="943.2" y1="0" y2="0"><stop offset="0" stop-color="#ff3e00"/><stop offset="0.2594" stop-color="#ff6f00"/><stop offset="0.4324" stop-color="#ff9900"/><stop offset="0.5621" stop-color="#ffb700"/><stop offset="0.6745" stop-color="#ffd100"/><stop offset="0.7783" stop-color="#ffe900"/><stop offset="0.8648" stop-color="#ffff00"/><stop offset="0.8648" stop-color="#ffe2b6"/><stop offset="1" stop-color="#ffe2b6"/></linearGradient>
<linearGradient id="c254" gradientUnits="userSpaceOnUse" x1="135.8" x2="943.2" y1="0" y2="0"><stop offset="0" stop-color="#ff4700"/><stop offset="0.2594" stop-color="#ff7200"/><stop offset="0.4324" stop-color="#ff9a00"/><stop offset="0.5621" stop-color="#ffb700"/><stop offset="0.6745" stop-color="#ffd100"/><stop offset="0.7783" stop-color="#ffe900"/><stop offset="0.8648" stop-color="#ffff00"/><stop offset="0.8648" stop-color="#ffe2b6"/><stop offset="1" stop-color="#ffe2b6"/></linearGradient>
<linearGradient id="c255" gradientUnits="userSpaceOnUse" x1="135.8" x2="943.2" y1="0" y2="0"><stop offset="0" stop-color="#ff4900"/><stop offset="0.2594" stop-color="#ff7200"/><stop offset="0.4324" stop-color="#ff9a00"/><stop offset="0.5621" stop-color="#ffb700"/><stop offset="0.6745" stop-color="#ffd100"/><stop offset="0.7783" stop-color="#ffe900"/><stop offset="0.8648" stop-color="#ffff00"/><stop offset="0.8648" stop-color="#ffe2b6"/><stop offset="1" stop-color="#ffe2b6"/></linearGradient>
<linearGradient id="c256" gradientUnits="userSpaceOnUse" x1="135.8" x2="943.2" y1="0" y2="0"><stop offset="0" stop-color="#ff3e00"/><stop offset="0.2594" stop-color="#ff6f00"/><stop offset="0.4324" stop-color="#ff9900"/><stop offset="0.5621" stop-color="#ffb700"/><stop offset="0.6745" stop-color="#ffd100"/><stop offset="0.7783" stop-color="#ffe900"/><stop offset="0.8648" stop-color="#ffff00"/><stop offset="0.8648" stop-color="#ffe2b6"/><stop offset="1" stop-color="#ffe2b6"/></linearGradient>
<linearGradient id="c257" gradientUnits="userSpaceOnUse" x1="135.8" x2="943.2" y1="0" y2="0"><stop offset="0" stop-color="#ff3700"/><stop offset="0.2594" stop-color="#ff6d00"/><stop offset="0.4324" stop-color="#ff9800"/><stop offset="0.5621" stop-color="#ffb700"/><stop offset="0.6745" stop-color="#ffd100"/><stop offset="0.7783" stop-color="#ffea00"/><stop offset="0.8648" stop-color="#ffff00"/><stop offset="0.8648" stop-color="#ffe2b6"/><stop offset="1" stop-color="#ffe2b6"/></linearGradient>
<linearGradient id="c258" gradientUnits="userSpaceOnUse" x1="135.8" x2="943.2" y1="0" y2="0"><stop offset="0" stop-color="#ff3a00"/><stop offset="0.2594" stop-color="#ff6e00"/><stop offset="0.4324" stop-color="#ff9800"/><stop offset="0.5621" stop-color="#ffb700"/><stop offset="0.6745" stop-color="#ffd100"/><stop offset="0.7783" stop-color="#ffea00"/><stop offset="0.8648" stop-color="#ffff00"/><stop offset="0.8648" stop-color="#ffe2b6"/><stop offset="1" stop-color="#ffe2b6"/></linearGradient>
</defs>
<g shape-rendering="crispEdges"><rect x="135.8" y="1656.6" width="807.4" height="4.6" fill="url(#c0)"/><rect x="135.8" y="1660.6" width="807.4" height="4.6" fill="url(#c1)"/><rect x="135.8" y="1664.6" width="807.4" height="4.6" fill="url(#c2)"/><rect x="135.8" y="1668.6" width="807.4" height="4.6" fill="url(#c3)"/><rect x="135.8" y="1672.6" width="807.4" height="4.6" fill="url(#c4)"/><rect x="135.8" y="1676.6" width="807.4" height="4.6" fill="url(#c5)"/><rect x="135.8" y="1680.6" width="807.4" height="4.6" fill="url(#c6)"/><rect x="135.8" y="1684.6" width="807.4" height="4.6" fill="url(#c7)"/><rect x="135.8" y="1688.6" width="807.4" height="4.6" fill="url(#c8)"/><rect x="135.8" y="1692.6" width="807.4" height="4.6" fill="url(#c9)"/><rect x="135.8" y="1696.6" width="807.4" height="4.6" fill="url(#c10)"/><rect x="135.8" y="1700.6" width="807.4" height="4.6" fill="url(#c11)"/><rect x="135.8" y="1704.6" width="807.4" height="4.6" fill="url(#c12)"/><rect x="135.8" y="1708.6" width="807.4" height="4.6" fill="url(#c13)"/><rect x="135.8" y="1712.6" width="807.4" height="4.6" fill="url(#c14)"/><rect x="135.8" y="1716.6" width="807.4" height="4.6" fill="url(#c15)"/><rect x="135.8" y="1720.6" width="807.4" height="4.6" fill="url(#c16)"/><rect x="135.8" y="1724.6" width="807.4" height="4.6" fill="url(#c17)"/><rect x="135.8" y="1728.6" width="807.4" height="4.6" fill="url(#c18)"/><rect x="135.8" y="1732.6" width="807.4" height="4.6" fill="url(#c19)"/><rect x="135.8" y="1736.6" width="807.4" height="4.6" fill="url(#c20)"/><rect x="135.8" y="1740.6" width="807.4" height="4.6" fill="url(#c21)"/><rect x="135.8" y="1744.6" width="807.4" height="4.6" fill="url(#c22)"/><rect x="135.8" y="1748.6" width="807.4" height="4.6" fill="url(#c23)"/><rect x="135.8" y="1752.6" width="807.4" height="4.6" fill="url(#c24)"/><rect x="135.8" y="1756.6" width="807.4" height="4.6" fill="url(#c25)"/><rect x="135.8" y="1760.6" width="807.4" height="4.6" fill="url(#c26)"/><rect x="135.8" y="1764.6" width="807.4" height="4.6" fill="url(#c27)"/><rect x="135.8" y="1768.6" width="807.4" height="4.6" fill="url(#c28)"/><rect x="135.8" y="1772.6" width="807.4" height="4.6" fill="url(#c29)"/><rect x="135.8" y="1776.6" width="807.4" height="4.6" fill="url(#c30)"/><rect x="135.8" y="1780.6" width="807.4" height="4.6" fill="url(#c31)"/><rect x="135.8" y="1784.6" width="807.4" height="4.6" fill="url(#c32)"/><rect x="135.8" y="1788.6" width="807.4" height="4.6" fill="url(#c33)"/><rect x="135.8" y="1792.6" width="807.4" height="4.6" fill="url(#c34)"/><rect x="135.8" y="1796.6" width="807.4" height="4.6" fill="url(#c35)"/><rect x="135.8" y="1800.6" width="807.4" height="4.6" fill="url(#c36)"/><rect x="135.8" y="1804.6" width="807.4" height="4.6" fill="url(#c37)"/><rect x="135.8" y="1808.6" width="807.4" height="4.6" fill="url(#c38)"/><rect x="135.8" y="1812.6" width="807.4" height="4.6" fill="url(#c39)"/><rect x="135.8" y="1816.6" width="807.4" height="4.6" fill="url(#c40)"/><rect x="135.8" y="1820.6" width="807.4" height="4.6" fill="url(#c41)"/><rect x="135.8" y="1824.6" width="807.4" height="4.6" fill="url(#c42)"/><rect x="135.8" y="1828.6" width="807.4" height="4.6" fill="url(#c43)"/><rect x="135.8" y="1832.6" width="807.4" height="4.6" fill="url(#c44)"/><rect x="135.8" y="1836.6" width="807.4" height="4.6" fill="url(#c45)"/><rect x="135.8" y="1840.6" width="807.4" height="4.6" fill="url(#c46)"/><rect x="135.8" y="1844.6" width="807.4" height="4.6" fill="url(#c47)"/><rect x="135.8" y="1848.6" width="807.4" height="4.6" fill="url(#c48)"/><rect x="135.8" y="1852.6" width="807.4" height="4.6" fill="url(#c49)"/><rect x="135.8" y="1856.6" width="807.4" height="4.6" fill="url(#c50)"/><rect x="135.8" y="1860.6" width="807.4" height="4.6" fill="url(#c51)"/><rect x="135.8" y="1864.6" width="807.4" height="4.6" fill="url(#c52)"/><rect x="135.8" y="1868.6" width="807.4" height="4.6" fill="url(#c53)"/><rect x="135.8" y="1872.6" width="807.4" height="4.6" fill="url(#c54)"/><rect x="135.8" y="1876.6" width="807.4" height="4.6" fill="url(#c55)"/><rect x="135.8" y="1880.6" width="807.4" height="4.6" fill="url(#c56)"/><rect x="135.8" y="1884.6" width="807.4" height="4.6" fill="url(#c57)"/><rect x="135.8" y="1888.6" width="807.4" height="4.6" fill="url(#c58)"/><rect x="135.8" y="1892.6" width="807.4" height="4.6" fill="url(#c59)"/><rect x="135.8" y="1896.6" width="807.4" height="4.6" fill="url(#c60)"/><rect x="135.8" y="1900.6" width="807.4" height="4.6" fill="url(#c61)"/><rect x="135.8" y="1904.6" width="807.4" height="4.6" fill="url(#c62)"/><rect x="135.8" y="1908.6" width="807.4" height="4.6" fill="url(#c63)"/><rect x="135.8" y="1912.6" width="807.4" height="4.6" fill="url(#c64)"/><rect x="135.8" y="1916.6" width="807.4" height="4.6" fill="url(#c65)"/><rect x="135.8" y="1920.6" width="807.4" height="4.6" fill="url(#c66)"/><rect x="135.8" y="1924.6" width="807.4" height="4.6" fill="url(#c67)"/><rect x="135.8" y="1928.6" width="807.4" height="4.6" fill="url(#c68)"/><rect x="135.8" y="1932.6" width="807.4" height="4.6" fill="url(#c69)"/><rect x="135.8" y="1936.6" width="807.4" height="4.6" fill="url(#c70)"/><rect x="135.8" y="1940.6" width="807.4" height="4.6" fill="url(#c71)"/><rect x="135.8" y="1944.6" width="807.4" height="4.6" fill="url(#c72)"/><rect x="135.8" y="1948.6" width="807.4" height="4.6" fill="url(#c73)"/><rect x="135.8" y="1952.6" width="807.4" height="4.6" fill="url(#c74)"/><rect x="135.8" y="1956.6" width="807.4" height="4.6" fill="url(#c75)"/><rect x="135.8" y="1960.6" width="807.4" height="4.6" fill="url(#c76)"/><rect x="135.8" y="1964.6" width="807.4" height="4.6" fill="url(#c77)"/><rect x="135.8" y="1968.6" width="807.4" height="4.6" fill="url(#c78)"/><rect x="135.8" y="1972.6" width="807.4" height="4.6" fill="url(#c79)"/><rect x="135.8" y="1976.6" width="807.4" height="4.6" fill="url(#c80)"/><rect x="135.8" y="1980.6" width="807.4" height="4.6" fill="url(#c81)"/><rect x="135.8" y="1984.6" width="807.4" height="4.6" fill="url(#c82)"/><rect x="135.8" y="1988.6" width="807.4" height="4.6" fill="url(#c83)"/><rect x="135.8" y="1992.6" width="807.4" height="4.6" fill="url(#c84)"/><rect x="135.8" y="1996.6" width="807.4" height="4.6" fill="url(#c85)"/><rect x="135.8" y="2000.6" width="807.4" height="4.6" fill="url(#c86)"/><rect x="135.8" y="2004.6" width="807.4" height="4.6" fill="url(#c87)"/><rect x="135.8" y="2008.6" width="807.4" height="4.6" fill="url(#c88)"/><rect x="135.8" y="2012.6" width="807.4" height="4.6" fill="url(#c89)"/><rect x="135.8" y="2016.6" width="807.4" height="4.6" fill="url(#c90)"/><rect x="135.8" y="2020.6" width="807.4" height="4.6" fill="url(#c91)"/><rect x="135.8" y="2024.6" width="807.4" height="4.6" fill="url(#c92)"/><rect x="135.8" y="2028.6" width="807.4" height="4.6" fill="url(#c93)"/><rect x="135.8" y="2032.6" width="807.4" height="4.6" fill="url(#c94)"/><rect x="135.8" y="2036.6" width="807.4" height="4.6" fill="url(#c95)"/><rect x="135.8" y="2040.6" width="807.4" height="4.6" fill="url(#c96)"/><rect x="135.8" y="2044.6" width="807.4" height="4.6" fill="url(#c97)"/><rect x="135.8" y="2048.6" width="807.4" height="4.6" fill="url(#c98)"/><rect x="135.8" y="2052.6" width="807.4" height="4.6" fill="url(#c99)"/><rect x="135.8" y="2056.6" width="807.4" height="4.6" fill="url(#c100)"/><rect x="135.8" y="2060.6" width="807.4" height="4.6" fill="url(#c101)"/><rect x="135.8" y="2064.6" width="807.4" height="4.6" fill="url(#c102)"/><rect x="135.8" y="2068.6" width="807.4" height="4.6" fill="url(#c103)"/><rect x="135.8" y="2072.6" width="807.4" height="4.6" fill="url(#c104)"/><rect x="135.8" y="2076.6" width="807.4" height="4.6" fill="url(#c105)"/><rect x="135.8" y="2080.6" width="807.4" height="4.6" fill="url(#c106)"/><rect x="135.8" y="2084.6" width="807.4" height="4.6" fill="url(#c107)"/><rect x="135.8" y="2088.6" width="807.4" height="4.6" fill="url(#c108)"/><rect x="135.8" y="2092.6" width="807.4" height="4.6" fill="url(#c109)"/><rect x="135.8" y="2096.6" width="807.4" height="4.6" fill="url(#c110)"/><rect x="135.8" y="2100.6" width="807.4" height="4.6" fill="url(#c111)"/><rect x="135.8" y="2104.6" width="807.4" height="4.6" fill="url(#c112)"/><rect x="135.8" y="2108.6" width="807.4" height="4.6" fill="url(#c113)"/><rect x="135.8" y="2112.6" width="807.4" height="4.6" fill="url(#c114)"/><rect x="135.8" y="2116.6" width="807.4" height="4.6" fill="url(#c115)"/><rect x="135.8" y="2120.6" width="807.4" height="4.6" fill="url(#c116)"/><rect x="135.8" y="2124.6" width="807.4" height="4.6" fill="url(#c117)"/><rect x="135.8" y="2128.6" width="807.4" height="4.6" fill="url(#c118)"/><rect x="135.8" y="2132.6" width="807.4" height="4.6" fill="url(#c119)"/><rect x="135.8" y="2136.6" width="807.4" height="4.6" fill="url(#c120)"/><rect x="135.8" y="2140.6" width="807.4" height="4.6" fill="url(#c121)"/><rect x="135.8" y="2144.6" width="807.4" height="4.6" fill="url(#c122)"/><rect x="135.8" y="2148.6" width="807.4" height="4.6" fill="url(#c123)"/><rect x="135.8" y="2152.6" width="807.4" height="4.6" fill="url(#c124)"/><rect x="135.8" y="2156.6" width="807.4" height="4.6" fill="url(#c125)"/><rect x="135.8" y="2160.6" width="807.4" height="4.6" fill="url(#c126)"/><rect x="135.8" y="2164.6" width="807.4" height="4.6" fill="url(#c127)"/><rect x="135.8" y="2168.6" width="807.4" height="4.6" fill="url(#c128)"/><rect x="135.8" y="2172.6" width="807.4" height="4.6" fill="url(#c129)"/><rect x="135.8" y="2176.6" width="807.4" height="4.6" fill="url(#c130)"/><rect x="135.8" y="2180.6" width="807.4" height="4.6" fill="url(#c131)"/><rect x="135.8" y="2184.6" width="807.4" height="4.6" fill="url(#c132)"/><rect x="135.8" y="2188.6" width="807.4" height="4.6" fill="url(#c133)"/><rect x="135.8" y="2192.6" width="807.4" height="4.6" fill="url(#c134)"/><rect x="135.8" y="2196.6" width="807.4" height="4.6" fill="url(#c135)"/><rect x="135.8" y="2200.6" width="807.4" height="4.6" fill="url(#c136)"/><rect x="135.8" y="2204.6" width="807.4" height="4.6" fill="url(#c137)"/><rect x="135.8" y="2208.6" width="807.4" height="4.6" fill="url(#c138)"/><rect x="135.8" y="2212.6" width="807.4" height="4.6" fill="url(#c139)"/><rect x="135.8" y="2216.6" width="807.4" height="4.6" fill="url(#c140)"/><rect x="135.8" y="2220.6" width="807.4" height="4.6" fill="url(#c141)"/><rect x="135.8" y="2224.6" width="807.4" height="4.6" fill="url(#c142)"/><rect x="135.8" y="2228.6" width="807.4" height="4.6" fill="url(#c143)"/><rect x="135.8" y="2232.6" width="807.4" height="4.6" fill="url(#c144)"/><rect x="135.8" y="2236.6" width="807.4" height="4.6" fill="url(#c145)"/><rect x="135.8" y="2240.6" width="807.4" height="4.6" fill="url(#c146)"/><rect x="135.8" y="2244.6" width="807.4" height="4.6" fill="url(#c147)"/><rect x="135.8" y="2248.6" width="807.4" height="4.6" fill="url(#c148)"/><rect x="135.8" y="2252.6" width="807.4" height="4.6" fill="url(#c149)"/><rect x="135.8" y="2256.6" width="807.4" height="4.6" fill="url(#c150)"/><rect x="135.8" y="2260.6" width="807.4" height="4.6" fill="url(#c151)"/><rect x="135.8" y="2264.6" width="807.4" height="4.6" fill="url(#c152)"/><rect x="135.8" y="2268.6" width="807.4" height="4.6" fill="url(#c153)"/><rect x="135.8" y="2272.6" width="807.4" height="4.6" fill="url(#c154)"/><rect x="135.8" y="2276.6" width="807.4" height="4.6" fill="url(#c155)"/><rect x="135.8" y="2280.6" width="807.4" height="4.6" fill="url(#c156)"/><rect x="135.8" y="2284.6" width="807.4" height="4.6" fill="url(#c157)"/><rect x="135.8" y="2288.6" width="807.4" height="4.6" fill="url(#c158)"/><rect x="135.8" y="2292.6" width="807.4" height="4.6" fill="url(#c159)"/><rect x="135.8" y="2296.6" width="807.4" height="4.6" fill="url(#c160)"/><rect x="135.8" y="2300.6" width="807.4" height="4.6" fill="url(#c161)"/><rect x="135.8" y="2304.6" width="807.4" height="4.6" fill="url(#c162)"/><rect x="135.8" y="2308.6" width="807.4" height="4.6" fill="url(#c163)"/><rect x="135.8" y="2312.6" width="807.4" height="4.6" fill="url(#c164)"/><rect x="135.8" y="2316.6" width="807.4" height="4.6" fill="url(#c165)"/><rect x="135.8" y="2320.6" width="807.4" height="4.6" fill="url(#c166)"/><rect x="135.8" y="2324.6" width="807.4" height="4.6" fill="url(#c167)"/><rect x="135.8" y="2328.6" width="807.4" height="4.6" fill="url(#c168)"/><rect x="135.8" y="2332.6" width="807.4" height="4.6" fill="url(#c169)"/><rect x="135.8" y="2336.6" width="807.4" height="4.6" fill="url(#c170)"/><rect x="135.8" y="2340.6" width="807.4" height="4.6" fill="url(#c171)"/><rect x="135.8" y="2344.6" width="807.4" height="4.6" fill="url(#c172)"/><rect x="135.8" y="2348.6" width="807.4" height="4.6" fill="url(#c173)"/><rect x="135.8" y="2352.6" width="807.4" height="4.6" fill="url(#c174)"/><rect x="135.8" y="2356.6" width="807.4" height="4.6" fill="url(#c175)"/><rect x="135.8" y="2360.6" width="807.4" height="4.6" fill="url(#c176)"/><rect x="135.8" y="2364.6" width="807.4" height="4.6" fill="url(#c177)"/><rect x="135.8" y="2368.6" width="807.4" height="4.6" fill="url(#c178)"/><rect x="135.8" y="2372.6" width="807.4" height="4.6" fill="url(#c179)"/><rect x="135.8" y="2376.6" width="807.4" height="4.6" fill="url(#c180)"/><rect x="135.8" y="2380.6" width="807.4" height="4.6" fill="url(#c181)"/><rect x="135.8" y="2384.6" width="807.4" height="4.6" fill="url(#c182)"/><rect x="135.8" y="2388.6" width="807.4" height="4.6" fill="url(#c183)"/><rect x="135.8" y="2392.6" width="807.4" height="4.6" fill="url(#c184)"/><rect x="135.8" y="2396.6" width="807.4" height="4.6" fill="url(#c185)"/><rect x="135.8" y="2400.6" width="807.4" height="4.6" fill="url(#c186)"/><rect x="135.8" y="2404.6" width="807.4" height="4.6" fill="url(#c187)"/><rect x="135.8" y="2408.6" width="807.4" height="4.6" fill="url(#c188)"/><rect x="135.8" y="2412.6" width="807.4" height="4.6" fill="url(#c189)"/><rect x="135.8" y="2416.6" width="807.4" height="4.6" fill="url(#c190)"/><rect x="135.8" y="2420.6" width="807.4" height="4.6" fill="url(#c191)"/><rect x="135.8" y="2424.6" width="807.4" height="4.6" fill="url(#c192)"/><rect x="135.8" y="2428.6" width="807.4" height="4.6" fill="url(#c193)"/><rect x="135.8" y="2432.6" width="807.4" height="4.6" fill="url(#c194)"/><rect x="135.8" y="2436.6" width="807.4" height="4.6" fill="url(#c195)"/><rect x="135.8" y="2440.6" width="807.4" height="4.6" fill="url(#c196)"/><rect x="135.8" y="2444.6" width="807.4" height="4.6" fill="url(#c197)"/><rect x="135.8" y="2448.6" width="807.4" height="4.6" fill="url(#c198)"/><rect x="135.8" y="2452.6" width="807.4" height="4.6" fill="url(#c199)"/><rect x="135.8" y="2456.6" width="807.4" height="4.6" fill="url(#c200)"/><rect x="135.8" y="2460.6" width="807.4" height="4.6" fill="url(#c201)"/><rect x="135.8" y="2464.6" width="807.4" height="4.6" fill="url(#c202)"/><rect x="135.8" y="2468.6" width="807.4" height="4.6" fill="url(#c203)"/><rect x="135.8" y="2472.6" width="807.4" height="4.6" fill="url(#c204)"/><rect x="135.8" y="2476.6" width="807.4" height="4.6" fill="url(#c205)"/><rect x="135.8" y="2480.6" width="807.4" height="4.6" fill="url(#c206)"/><rect x="135.8" y="2484.6" width="807.4" height="4.6" fill="url(#c207)"/><rect x="135.8" y="2488.6" width="807.4" height="4.6" fill="url(#c208)"/><rect x="135.8" y="2492.6" width="807.4" height="4.6" fill="url(#c209)"/><rect x="135.8" y="2496.6" width="807.4" height="4.6" fill="url(#c210)"/><rect x="135.8" y="2500.6" width="807.4" height="4.6" fill="url(#c211)"/><rect x="135.8" y="2504.6" width="807.4" height="4.6" fill="url(#c212)"/><rect x="135.8" y="2508.6" width="807.4" height="4.6" fill="url(#c213)"/><rect x="135.8" y="2512.6" width="807.4" height="4.6" fill="url(#c214)"/><rect x="135.8" y="2516.6" width="807.4" height="4.6" fill="url(#c215)"/><rect x="135.8" y="2520.6" width="807.4" height="4.6" fill="url(#c216)"/><rect x="135.8" y="2524.6" width="807.4" height="4.6" fill="url(#c217)"/><rect x="135.8" y="2528.6" width="807.4" height="4.6" fill="url(#c218)"/><rect x="135.8" y="2532.6" width="807.4" height="4.6" fill="url(#c219)"/><rect x="135.8" y="2536.6" width="807.4" height="4.6" fill="url(#c220)"/><rect x="135.8" y="2540.6" width="807.4" height="4.6" fill="url(#c221)"/><rect x="135.8" y="2544.6" width="807.4" height="4.6" fill="url(#c222)"/><rect x="135.8" y="2548.6" width="807.4" height="4.6" fill="url(#c223)"/><rect x="135.8" y="2552.6" width="807.4" height="4.6" fill="url(#c224)"/><rect x="135.8" y="2556.6" width="807.4" height="4.6" fill="url(#c225)"/><rect x="135.8" y="2560.6" width="807.4" height="4.6" fill="url(#c226)"/><rect x="135.8" y="2564.6" width="807.4" height="4.6" fill="url(#c227)"/><rect x="135.8" y="2568.6" width="807.4" height="4.6" fill="url(#c228)"/><rect x="135.8" y="2572.6" width="807.4" height="4.6" fill="url(#c229)"/><rect x="135.8" y="2576.6" width="807.4" height="4.6" fill="url(#c230)"/><rect x="135.8" y="2580.6" width="807.4" height="4.6" fill="url(#c231)"/><rect x="135.8" y="2584.6" width="807.4" height="4.6" fill="url(#c232)"/><rect x="135.8" y="2588.6" width="807.4" height="4.6" fill="url(#c233)"/><rect x="135.8" y="2592.6" width="807.4" height="4.6" fill="url(#c234)"/><rect x="135.8" y="2596.6" width="807.4" height="4.6" fill="url(#c235)"/><rect x="135.8" y="2600.6" width="807.4" height="4.6" fill="url(#c236)"/><rect x="135.8" y="2604.6" width="807.4" height="4.6" fill="url(#c237)"/><rect x="135.8" y="2608.6" width="807.4" height="4.6" fill="url(#c238)"/><rect x="135.8" y="2612.6" width="807.4" height="4.6" fill="url(#c239)"/><rect x="135.8" y="2616.6" width="807.4" height="4.6" fill="url(#c240)"/><rect x="135.8" y="2620.6" width="807.4" height="4.6" fill="url(#c241)"/><rect x="135.8" y="2624.6" width="807.4" height="4.6" fill="url(#c242)"/><rect x="135.8" y="2628.6" width="807.4" height="4.6" fill="url(#c243)"/><rect x="135.8" y="2632.6" width="807.4" height="4.6" fill="url(#c244)"/><rect x="135.8" y="2636.6" width="807.4" height="4.6" fill="url(#c245)"/><rect x="135.8" y="2640.6" width="807.4" height="4.6" fill="url(#c246)"/><rect x="135.8" y="2644.6" width="807.4" height="4.6" fill="url(#c247)"/><rect x="135.8" y="2648.6" width="807.4" height="4.6" fill="url(#c248)"/><rect x="135.8" y="2652.6" width="807.4" height="4.6" fill="url(#c249)"/><rect x="135.8" y="2656.6" width="807.4" height="4.6" fill="url(#c250)"/><rect x="135.8" y="2660.6" width="807.4" height="4.6" fill="url(#c251)"/><rect x="135.8" y="2664.6" width="807.4" height="4.6" fill="url(#c252)"/><rect x="135.8" y="2668.6" width="807.4" height="4.6" fill="url(#c253)"/><rect x="135.8" y="2672.6" width="807.4" height="4.6" fill="url(#c254)"/><rect x="135.8" y="2676.6" width="807.4" height="4.6" fill="url(#c255)"/><rect x="135.8" y="2680.6" width="807.4" height="4.6" fill="url(#c256)"/><rect x="135.8" y="2684.6" width="807.4" height="4.6" fill="url(#c257)"/><rect x="135.8" y="2688.6" width="807.4" height="3.9" fill="url(#c258)"/></g>
<rect x="125" y="1640.8" width="829" height="1069" fill="none" stroke="#222" stroke-width="2.4"/>
<path d="M135.8 1640.8v11M135.8 2709.8v-11M172.5 1640.8v16M172.5 2709.8v-17M209.2 1640.8v11M209.2 2709.8v-11M245.9 1640.8v16M245.9 2709.8v-17M282.6 1640.8v11M282.6 2709.8v-11M319.3 1640.8v16M319.3 2709.8v-17M356 1640.8v11M356 2709.8v-11M392.7 1640.8v16M392.7 2709.8v-17M429.4 1640.8v11M429.4 2709.8v-11M466.1 1640.8v16M466.1 2709.8v-17M502.8 1640.8v11M502.8 2709.8v-11M539.5 1640.8v16M539.5 2709.8v-17M576.2 1640.8v11M576.2 2709.8v-11M612.9 1640.8v16M612.9 2709.8v-17M649.6 1640.8v11M649.6 2709.8v-11M686.3 1640.8v16M686.3 2709.8v-17M723 1640.8v11M723 2709.8v-11M759.7 1640.8v16M759.7 2709.8v-17M796.4 1640.8v11M796.4 2709.8v-11M833.1 1640.8v16M833.1 2709.8v-17M869.8 1640.8v11M869.8 2709.8v-11M906.5 1640.8v16M906.5 2709.8v-17M943.2 1640.8v11M943.2 2709.8v-11M125 1659.6h11M954 1659.6h-11M125 1689.1h8M954 1689.1h-8M125 1718.7h8M954 1718.7h-8M125 1748.2h8M954 1748.2h-8M125 1777.7h8M954 1777.7h-8M125 1807.2h11M954 1807.2h-11M125 1836.8h8M954 1836.8h-8M125 1866.3h8M954 1866.3h-8M125 1895.8h8M954 1895.8h-8M125 1925.4h8M954 1925.4h-8M125 1954.9h11M954 1954.9h-11M125 1984.4h8M954 1984.4h-8M125 2014h8M954 2014h-8M125 2043.5h8M954 2043.5h-8M125 2073h8M954 2073h-8M125 2102.6h11M954 2102.6h-11M125 2132.1h8M954 2132.1h-8M125 2161.6h8M954 2161.6h-8M125 2191.1h8M954 2191.1h-8M125 2220.7h8M954 2220.7h-8M125 2250.2h11M954 2250.2h-11M125 2279.7h8M954 2279.7h-8M125 2309.3h8M954 2309.3h-8M125 2338.8h8M954 2338.8h-8M125 2368.3h8M954 2368.3h-8M125 2397.8h11M954 2397.8h-11M125 2427.4h8M954 2427.4h-8M125 2456.9h8M954 2456.9h-8M125 2486.4h8M954 2486.4h-8M125 2516h8M954 2516h-8M125 2545.5h11M954 2545.5h-11M125 2575h8M954 2575h-8M125 2604.6h8M954 2604.6h-8M125 2634.1h8M954 2634.1h-8M125 2663.6h8M954 2663.6h-8M125 2693.1h11M954 2693.1h-11" stroke="#222" stroke-width="2.2" fill="none"/>
<path d="M154.8 2711.4 L163.5 2699.8 L169.3 2682.5 L177.9 2681.3 L180.8 2689.4 L186.6 2656.5 L192.4 2653.6 L198.2 2660.6 L203.9 2662.3 L209.7 2682.5 L215.5 2685.4 L221.2 2639.2 L224.1 2633.4 L228.2 2670.9 L232.8 2670.9 L237.4 2711.4Z" fill="#000"/>
<path d="M300.9 2711.4 L307.9 2688.3 L314.8 2665.2 L320.6 2643.2 L325.2 2670.9 L330.9 2685.4 L336.7 2688.3 L341.3 2673.8 L345.4 2694 L351.2 2682.5 L356.9 2691.2 L362.7 2668.1 L371.4 2668.1 L377.1 2670.9 L382.9 2650.7 L388.7 2645 L393.3 2659.4 L400.2 2642.1 L411.8 2621.9 L417.6 2620.1 L423.3 2642.1 L430.3 2658.2 L437.8 2636.3 L443.5 2613.2 L446.4 2584.3 L449.3 2559.5 L452.2 2584.3 L455.1 2630.5 L460.9 2647.9 L466.6 2682.5 L472.4 2702.7 L481.1 2704.4 L504.2 2699.8 L521.5 2701 L533 2708.5 L538.8 2711.4Z" fill="#000"/>
<path d="M576.3 2711.4 L585 2694 L590.8 2679.6 L596.5 2672.1 L602.3 2677.9 L608.1 2675.6 L613.9 2679.6 L622.5 2677.9 L628.3 2691.2 L634.1 2694 L639.8 2706.7 L642.7 2711.4Z" fill="#000"/>
<path d="M660 2711.4 L665.8 2702.7 L671.6 2706.7 L677.4 2702.7 L683.1 2708.5 L688.9 2711.4Z" fill="#000"/>
<text x="119" y="1687.2" font-size="41" text-anchor="start" font-weight="normal" fill="#000" textLength="69.5" lengthAdjust="spacingAndGlyphs" transform="rotate(-90 119 1687.2)">1950</text>
<text x="119" y="1841.8" font-size="41" text-anchor="start" font-weight="normal" fill="#000" textLength="69.5" lengthAdjust="spacingAndGlyphs" transform="rotate(-90 119 1841.8)">1960</text>
<text x="119" y="1989.4" font-size="41" text-anchor="start" font-weight="normal" fill="#000" textLength="69.5" lengthAdjust="spacingAndGlyphs" transform="rotate(-90 119 1989.4)">1970</text>
<text x="119" y="2137.1" font-size="41" text-anchor="start" font-weight="normal" fill="#000" textLength="69.5" lengthAdjust="spacingAndGlyphs" transform="rotate(-90 119 2137.1)">1980</text>
<text x="119" y="2284.7" font-size="41" text-anchor="start" font-weight="normal" fill="#000" textLength="69.5" lengthAdjust="spacingAndGlyphs" transform="rotate(-90 119 2284.7)">1990</text>
<text x="119" y="2432.3" font-size="41" text-anchor="start" font-weight="normal" fill="#000" textLength="69.5" lengthAdjust="spacingAndGlyphs" transform="rotate(-90 119 2432.3)">2000</text>
<text x="119" y="2580" font-size="41" text-anchor="start" font-weight="normal" fill="#000" textLength="69.5" lengthAdjust="spacingAndGlyphs" transform="rotate(-90 119 2580)">2010</text>
<text x="119" y="2727.6" font-size="41" text-anchor="start" font-weight="normal" fill="#000" textLength="69.5" lengthAdjust="spacingAndGlyphs" transform="rotate(-90 119 2727.6)">2020</text>
<text x="172.5" y="2753" font-size="25" text-anchor="middle" font-weight="normal" fill="#333" textLength="44" lengthAdjust="spacingAndGlyphs">78'W</text>
<text x="245.9" y="2753" font-size="25" text-anchor="middle" font-weight="normal" fill="#333" textLength="44" lengthAdjust="spacingAndGlyphs">76'W</text>
<text x="319.3" y="2753" font-size="25" text-anchor="middle" font-weight="normal" fill="#333" textLength="44" lengthAdjust="spacingAndGlyphs">74'W</text>
<text x="392.7" y="2753" font-size="25" text-anchor="middle" font-weight="normal" fill="#333" textLength="44" lengthAdjust="spacingAndGlyphs">72'W</text>
<text x="466.1" y="2753" font-size="25" text-anchor="middle" font-weight="normal" fill="#333" textLength="44" lengthAdjust="spacingAndGlyphs">70'W</text>
<text x="539.5" y="2753" font-size="25" text-anchor="middle" font-weight="normal" fill="#333" textLength="44" lengthAdjust="spacingAndGlyphs">68'W</text>
<text x="612.9" y="2753" font-size="25" text-anchor="middle" font-weight="normal" fill="#333" textLength="44" lengthAdjust="spacingAndGlyphs">66'W</text>
<text x="686.3" y="2753" font-size="25" text-anchor="middle" font-weight="normal" fill="#333" textLength="44" lengthAdjust="spacingAndGlyphs">64'W</text>
<text x="759.7" y="2753" font-size="25" text-anchor="middle" font-weight="normal" fill="#333" textLength="44" lengthAdjust="spacingAndGlyphs">62'W</text>
<text x="833.1" y="2753" font-size="25" text-anchor="middle" font-weight="normal" fill="#333" textLength="44" lengthAdjust="spacingAndGlyphs">60'W</text>
<text x="906.5" y="2753" font-size="25" text-anchor="middle" font-weight="normal" fill="#333" textLength="44" lengthAdjust="spacingAndGlyphs">58'W</text>
<defs><linearGradient id="cbc" x1="0" x2="1" y1="0" y2="0"><stop offset="0" stop-color="#00008c"/><stop offset="0.22" stop-color="#000aff"/><stop offset="0.37" stop-color="#0070ff"/><stop offset="0.48" stop-color="#18b0f8"/><stop offset="0.58" stop-color="#40c8f0"/><stop offset="0.65" stop-color="#50d8f0"/><stop offset="0.73" stop-color="#60e8e0"/><stop offset="0.8" stop-color="#70f0d8"/><stop offset="0.88" stop-color="#80f8c0"/><stop offset="1" stop-color="#90fa96"/></linearGradient><linearGradient id="cbw" x1="0" x2="1" y1="0" y2="0"><stop offset="0" stop-color="#ffff00"/><stop offset="0.3" stop-color="#ffa400"/><stop offset="0.53" stop-color="#ff4c00"/><stop offset="0.67" stop-color="#ff0000"/><stop offset="0.81" stop-color="#c80000"/><stop offset="1" stop-color="#800000"/></linearGradient></defs>
<rect x="146" y="2763" width="342.5" height="29.6" fill="url(#cbc)"/>
<rect x="488" y="2763" width="79.6" height="29.6" fill="#ffe2b6"/>
<rect x="567.3" y="2763" width="341.2" height="29.6" fill="url(#cbw)"/>
<path d="M167.2 2763v7M167.2 2792.6v-7M188.4 2763v7M188.4 2792.6v-7M209.6 2763v7M209.6 2792.6v-7M230.8 2763v7M230.8 2792.6v-7M252 2763v7M252 2792.6v-7M273.2 2763v7M273.2 2792.6v-7M294.4 2763v7M294.4 2792.6v-7M315.6 2763v7M315.6 2792.6v-7M336.8 2763v7M336.8 2792.6v-7M358 2763v7M358 2792.6v-7M379.2 2763v7M379.2 2792.6v-7M400.4 2763v7M400.4 2792.6v-7M421.6 2763v7M421.6 2792.6v-7M442.8 2763v7M442.8 2792.6v-7M464 2763v7M464 2792.6v-7M485.2 2763v7M485.2 2792.6v-7M506.4 2763v7M506.4 2792.6v-7M527.6 2763v7M527.6 2792.6v-7M548.8 2763v7M548.8 2792.6v-7M570 2763v7M570 2792.6v-7M591.2 2763v7M591.2 2792.6v-7M612.4 2763v7M612.4 2792.6v-7M633.6 2763v7M633.6 2792.6v-7M654.8 2763v7M654.8 2792.6v-7M676 2763v7M676 2792.6v-7M697.2 2763v7M697.2 2792.6v-7M718.4 2763v7M718.4 2792.6v-7M739.6 2763v7M739.6 2792.6v-7M760.8 2763v7M760.8 2792.6v-7M782 2763v7M782 2792.6v-7M803.2 2763v7M803.2 2792.6v-7M824.4 2763v7M824.4 2792.6v-7M845.6 2763v7M845.6 2792.6v-7M866.8 2763v7M866.8 2792.6v-7M888 2763v7M888 2792.6v-7" stroke="#fff" stroke-opacity="0.5" stroke-width="1.5" fill="none"/>
<text x="219" y="2832" font-size="38.5" text-anchor="middle" font-weight="normal" fill="#000">26</text>
<text x="445.5" y="2832" font-size="38.5" text-anchor="middle" font-weight="normal" fill="#000">27</text>
<text x="651.5" y="2832" font-size="38.5" text-anchor="middle" font-weight="normal" fill="#000">28</text>
<text x="834.6" y="2832" font-size="38.5" text-anchor="start" font-weight="normal" fill="#000" textLength="84.5" lengthAdjust="spacingAndGlyphs">29 C</text>
<text x="989.5" y="1696.5" font-size="45" text-anchor="start" font-weight="bold" fill="#000" textLength="33" lengthAdjust="spacingAndGlyphs" stroke="#000" stroke-width="2.4" stroke-linejoin="round">C</text>
</g>
<g id="panelD">
<rect x="1162" y="1678.8" width="480.4000000000001" height="439.89999999999986" fill="#fff" stroke="#444" stroke-width="2"/>
<g fill="#e8e6da" fill-opacity="0.55" stroke="#0a0aee" stroke-width="2.1"><circle cx="1314.6" cy="1702" r="3.5"/><circle cx="1363.4" cy="1717.2" r="3.5"/><circle cx="1354.8" cy="1766.2" r="3.5"/><circle cx="1364.7" cy="1775.9" r="3.5"/><circle cx="1385.7" cy="1791.6" r="3.5"/><circle cx="1359" cy="1799" r="3.5"/><circle cx="1385.7" cy="1808.7" r="3.5"/><circle cx="1406.6" cy="1815.9" r="3.5"/><circle cx="1328.6" cy="1831.6" r="3.5"/><circle cx="1365.9" cy="1834.3" r="3.5"/><circle cx="1392.6" cy="1832.4" r="3.5"/><circle cx="1433.1" cy="1843.1" r="3.5"/><circle cx="1389.8" cy="1847.3" r="3.5"/><circle cx="1355.4" cy="1855" r="3.5"/><circle cx="1374.7" cy="1856.6" r="3.5"/><circle cx="1391.5" cy="1855.5" r="3.5"/><circle cx="1367.2" cy="1866" r="3.5"/><circle cx="1346.8" cy="1868.5" r="3.5"/><circle cx="1391.2" cy="1869.6" r="3.5"/><circle cx="1405.3" cy="1869.6" r="3.5"/><circle cx="1338.3" cy="1877.9" r="3.5"/><circle cx="1343.5" cy="1881.2" r="3.5"/><circle cx="1363.4" cy="1883.1" r="3.5"/><circle cx="1383.8" cy="1881.2" r="3.5"/><circle cx="1394.5" cy="1884.2" r="3.5"/><circle cx="1417.7" cy="1886.4" r="3.5"/><circle cx="1403.1" cy="1891.4" r="3.5"/><circle cx="1392.6" cy="1892.5" r="3.5"/><circle cx="1449.6" cy="1895.5" r="3.5"/><circle cx="1303.6" cy="1902.1" r="3.5"/><circle cx="1271.3" cy="1916.4" r="3.5"/><circle cx="1309.1" cy="1921.7" r="3.5"/><circle cx="1277.4" cy="2024.4" r="3.5"/><circle cx="1529.5" cy="1969.3" r="3.5"/><circle cx="1515.2" cy="2005.2" r="3.5"/><circle cx="1533.1" cy="2023.3" r="3.5"/><circle cx="1530.4" cy="2039.1" r="3.5"/><circle cx="1548.8" cy="2057" r="3.5"/><circle cx="1572.2" cy="2063" r="3.5"/><circle cx="1587.4" cy="2066.1" r="3.5"/><circle cx="1343.8" cy="2102.4" r="3.5"/><circle cx="1331.1" cy="2077.1" r="3.5"/><circle cx="1343.5" cy="2067.7" r="3.5"/><circle cx="1514.5" cy="2064.6" r="3.5"/><circle cx="1430.4" cy="2072.4" r="3.5"/><circle cx="1420" cy="2018.4" r="3.5"/><circle cx="1455.2" cy="2059.8" r="3.5"/><circle cx="1405.5" cy="2028" r="3.5"/><circle cx="1422.5" cy="2074.2" r="3.5"/><circle cx="1472.6" cy="2072" r="3.5"/><circle cx="1507.3" cy="2029.7" r="3.5"/><circle cx="1472.2" cy="1995.1" r="3.5"/><circle cx="1506.2" cy="2061" r="3.5"/><circle cx="1472.4" cy="2077.6" r="3.5"/><circle cx="1415.6" cy="2079.5" r="3.5"/><circle cx="1434.5" cy="2008.5" r="3.5"/><circle cx="1426.5" cy="2052.8" r="3.5"/><circle cx="1378.2" cy="2072.1" r="3.5"/><circle cx="1495.7" cy="2075.9" r="3.5"/><circle cx="1486.3" cy="1999.6" r="3.5"/><circle cx="1398.3" cy="2071.4" r="3.5"/><circle cx="1467" cy="2031.2" r="3.5"/><circle cx="1470.9" cy="1988.2" r="3.5"/><circle cx="1492.2" cy="2061.9" r="3.5"/><circle cx="1407.3" cy="2067" r="3.5"/><circle cx="1409.4" cy="2050.3" r="3.5"/><circle cx="1439.2" cy="2055" r="3.5"/><circle cx="1420.3" cy="2079.5" r="3.5"/><circle cx="1506.7" cy="2024.9" r="3.5"/><circle cx="1466.7" cy="2045" r="3.5"/><circle cx="1457.5" cy="2046" r="3.5"/><circle cx="1412.7" cy="2061.5" r="3.5"/><circle cx="1363.3" cy="2054.5" r="3.5"/><circle cx="1398.3" cy="2065.3" r="3.5"/><circle cx="1413.9" cy="2080.7" r="3.5"/><circle cx="1420.6" cy="2049.6" r="3.5"/><circle cx="1431.8" cy="2044.8" r="3.5"/><circle cx="1477.7" cy="2029.3" r="3.5"/><circle cx="1389.9" cy="2011.6" r="3.5"/><circle cx="1374.4" cy="2008" r="3.5"/><circle cx="1415.4" cy="2058.3" r="3.5"/><circle cx="1440.6" cy="2060.2" r="3.5"/><circle cx="1357.5" cy="2063.5" r="3.5"/><circle cx="1478" cy="2066.1" r="3.5"/><circle cx="1463.5" cy="2002.6" r="3.5"/><circle cx="1438.5" cy="2074.1" r="3.5"/><circle cx="1449.9" cy="2078" r="3.5"/><circle cx="1424.6" cy="2042.7" r="3.5"/><circle cx="1436.7" cy="2077.9" r="3.5"/><circle cx="1473.8" cy="2036.7" r="3.5"/><circle cx="1401.1" cy="2064.6" r="3.5"/><circle cx="1431.3" cy="2011.2" r="3.5"/><circle cx="1505.9" cy="2083.5" r="3.5"/><circle cx="1378.1" cy="1993.3" r="3.5"/><circle cx="1481.2" cy="2076.8" r="3.5"/><circle cx="1463.4" cy="2070.1" r="3.5"/><circle cx="1452.8" cy="1994.4" r="3.5"/><circle cx="1481" cy="2078.4" r="3.5"/><circle cx="1414.3" cy="2070.7" r="3.5"/><circle cx="1463.3" cy="2075.5" r="3.5"/><circle cx="1456.2" cy="2075.5" r="3.5"/><circle cx="1447.1" cy="2054.4" r="3.5"/><circle cx="1413.3" cy="2053.8" r="3.5"/><circle cx="1445.1" cy="2062.8" r="3.5"/><circle cx="1480.3" cy="2082" r="3.5"/><circle cx="1415.5" cy="2009.6" r="3.5"/><circle cx="1471.1" cy="2077" r="3.5"/><circle cx="1382.6" cy="2067.1" r="3.5"/><circle cx="1503.2" cy="2068.4" r="3.5"/><circle cx="1385.5" cy="2052.8" r="3.5"/><circle cx="1441" cy="2081.1" r="3.5"/><circle cx="1372.4" cy="2082.6" r="3.5"/><circle cx="1372" cy="1999.8" r="3.5"/><circle cx="1426" cy="2063.5" r="3.5"/><circle cx="1505.6" cy="2054.9" r="3.5"/><circle cx="1376.5" cy="2055.8" r="3.5"/><circle cx="1426.6" cy="2074.2" r="3.5"/><circle cx="1385.9" cy="2053.1" r="3.5"/><circle cx="1395.3" cy="2052.5" r="3.5"/><circle cx="1505.3" cy="2071.6" r="3.5"/><circle cx="1442.7" cy="2070.3" r="3.5"/><circle cx="1436.9" cy="2071.8" r="3.5"/><circle cx="1367.9" cy="2063.4" r="3.5"/><circle cx="1413.7" cy="2053.8" r="3.5"/><circle cx="1455.1" cy="2068.1" r="3.5"/><circle cx="1470.7" cy="2067.2" r="3.5"/><circle cx="1428.7" cy="2056.1" r="3.5"/><circle cx="1469.3" cy="2079.3" r="3.5"/><circle cx="1464.4" cy="2076.9" r="3.5"/><circle cx="1485.3" cy="2088.6" r="3.5"/><circle cx="1449.4" cy="2047.2" r="3.5"/><circle cx="1444.7" cy="2078.6" r="3.5"/><circle cx="1434.2" cy="2075.4" r="3.5"/><circle cx="1405.7" cy="2058.7" r="3.5"/><circle cx="1445.4" cy="2058.7" r="3.5"/><circle cx="1508.8" cy="2081.1" r="3.5"/><circle cx="1409.8" cy="1988.4" r="3.5"/><circle cx="1430.8" cy="2047.5" r="3.5"/><circle cx="1505.6" cy="2047.5" r="3.5"/><circle cx="1434.4" cy="2021.1" r="3.5"/><circle cx="1443.8" cy="2046.1" r="3.5"/><circle cx="1490.3" cy="2071.8" r="3.5"/><circle cx="1460.6" cy="2030" r="3.5"/><circle cx="1403.4" cy="2070" r="3.5"/><circle cx="1421.3" cy="2061.4" r="3.5"/><circle cx="1430" cy="2057.8" r="3.5"/><circle cx="1472.8" cy="1972.8" r="3.5"/><circle cx="1444.2" cy="2058.9" r="3.5"/><circle cx="1519.1" cy="2070.8" r="3.5"/><circle cx="1449.2" cy="2064" r="3.5"/><circle cx="1412" cy="2010.8" r="3.5"/><circle cx="1394.4" cy="1980.3" r="3.5"/><circle cx="1402.4" cy="1988.6" r="3.5"/><circle cx="1453.7" cy="2069.9" r="3.5"/><circle cx="1431.7" cy="2077.1" r="3.5"/><circle cx="1465.9" cy="2082.7" r="3.5"/><circle cx="1491" cy="2067.8" r="3.5"/><circle cx="1411" cy="2076.7" r="3.5"/><circle cx="1400.7" cy="2060.1" r="3.5"/><circle cx="1503.7" cy="2024.6" r="3.5"/><circle cx="1364.4" cy="2066.8" r="3.5"/><circle cx="1465.2" cy="2020.2" r="3.5"/><circle cx="1448.7" cy="2077.4" r="3.5"/><circle cx="1473.6" cy="2066.5" r="3.5"/><circle cx="1429.8" cy="2081" r="3.5"/><circle cx="1400.3" cy="2073.7" r="3.5"/><circle cx="1509.7" cy="2072.3" r="3.5"/><circle cx="1435.2" cy="2060.3" r="3.5"/><circle cx="1495.8" cy="2003.3" r="3.5"/><circle cx="1392.6" cy="2073.6" r="3.5"/><circle cx="1467" cy="2058" r="3.5"/><circle cx="1406.1" cy="2070.5" r="3.5"/><circle cx="1452.3" cy="2025.7" r="3.5"/><circle cx="1495.6" cy="2078.8" r="3.5"/><circle cx="1455.3" cy="2085.8" r="3.5"/><circle cx="1499.3" cy="2068" r="3.5"/><circle cx="1384.9" cy="2038" r="3.5"/><circle cx="1381.2" cy="2081.5" r="3.5"/><circle cx="1528.4" cy="2072.1" r="3.5"/><circle cx="1402.2" cy="2055.4" r="3.5"/><circle cx="1428.7" cy="2067.3" r="3.5"/><circle cx="1456.1" cy="2049.8" r="3.5"/><circle cx="1472.3" cy="2043.1" r="3.5"/><circle cx="1493.1" cy="2010.6" r="3.5"/><circle cx="1484.6" cy="2085.9" r="3.5"/><circle cx="1407.3" cy="2069.5" r="3.5"/><circle cx="1385.2" cy="2067.8" r="3.5"/><circle cx="1488" cy="2076.9" r="3.5"/><circle cx="1425.9" cy="2038.9" r="3.5"/><circle cx="1425.1" cy="2057.1" r="3.5"/><circle cx="1467.5" cy="2084.4" r="3.5"/><circle cx="1496.7" cy="2083.5" r="3.5"/><circle cx="1431.2" cy="2026.3" r="3.5"/><circle cx="1489.1" cy="2069.6" r="3.5"/><circle cx="1466.7" cy="2062.6" r="3.5"/><circle cx="1469.2" cy="2088.4" r="3.5"/><circle cx="1444.6" cy="2039.3" r="3.5"/><circle cx="1409" cy="2027.4" r="3.5"/><circle cx="1404.4" cy="2068.1" r="3.5"/><circle cx="1439.8" cy="2036" r="3.5"/><circle cx="1443" cy="2030.1" r="3.5"/><circle cx="1383.1" cy="1903.4" r="3.5"/><circle cx="1396.9" cy="2064.1" r="3.5"/><circle cx="1467.2" cy="2037.7" r="3.5"/><circle cx="1363.7" cy="2076.8" r="3.5"/><circle cx="1401.5" cy="1969.4" r="3.5"/><circle cx="1356.2" cy="2081" r="3.5"/><circle cx="1357.4" cy="2024.3" r="3.5"/><circle cx="1500.9" cy="2074.8" r="3.5"/><circle cx="1366.7" cy="2044.7" r="3.5"/><circle cx="1430.9" cy="2043.8" r="3.5"/><circle cx="1401.3" cy="2037.6" r="3.5"/><circle cx="1441.8" cy="2053.6" r="3.5"/><circle cx="1451.5" cy="1952.6" r="3.5"/><circle cx="1421.8" cy="2067.7" r="3.5"/><circle cx="1457.4" cy="2041.6" r="3.5"/><circle cx="1485" cy="2070.4" r="3.5"/><circle cx="1373.4" cy="2036.2" r="3.5"/><circle cx="1385.4" cy="2061.7" r="3.5"/><circle cx="1407.1" cy="2062.8" r="3.5"/><circle cx="1439.1" cy="2018.5" r="3.5"/><circle cx="1447.1" cy="2071.3" r="3.5"/><circle cx="1414" cy="2047.7" r="3.5"/><circle cx="1509.7" cy="2076.7" r="3.5"/><circle cx="1443.4" cy="2037.8" r="3.5"/><circle cx="1415.1" cy="2088.4" r="3.5"/><circle cx="1435.2" cy="2051.1" r="3.5"/><circle cx="1477" cy="1994.4" r="3.5"/><circle cx="1432.7" cy="1997.6" r="3.5"/><circle cx="1424.3" cy="2003.4" r="3.5"/><circle cx="1491.1" cy="2054.7" r="3.5"/><circle cx="1458.9" cy="2056.1" r="3.5"/><circle cx="1436.3" cy="2037.4" r="3.5"/><circle cx="1428.4" cy="2080.3" r="3.5"/><circle cx="1486.1" cy="2056.1" r="3.5"/><circle cx="1389.9" cy="2059.8" r="3.5"/><circle cx="1358.4" cy="2024.2" r="3.5"/><circle cx="1443.3" cy="2071.3" r="3.5"/><circle cx="1481.4" cy="2056.7" r="3.5"/><circle cx="1454.2" cy="2073.4" r="3.5"/><circle cx="1483" cy="2082.6" r="3.5"/><circle cx="1466.9" cy="2030" r="3.5"/><circle cx="1429.3" cy="2070.8" r="3.5"/><circle cx="1501" cy="2065.4" r="3.5"/><circle cx="1360.1" cy="2037.4" r="3.5"/><circle cx="1431.6" cy="2085.3" r="3.5"/><circle cx="1438.7" cy="2074" r="3.5"/><circle cx="1448" cy="2076.1" r="3.5"/><circle cx="1419.4" cy="2060.8" r="3.5"/><circle cx="1403.7" cy="2087.4" r="3.5"/><circle cx="1482.7" cy="2072" r="3.5"/><circle cx="1523.1" cy="2054.4" r="3.5"/><circle cx="1451.4" cy="2042.9" r="3.5"/><circle cx="1393.3" cy="1940.7" r="3.5"/><circle cx="1457.8" cy="2050.6" r="3.5"/><circle cx="1463.5" cy="2073.4" r="3.5"/><circle cx="1402.5" cy="2059.3" r="3.5"/><circle cx="1496.5" cy="2021.5" r="3.5"/><circle cx="1395.2" cy="2079.5" r="3.5"/><circle cx="1430.8" cy="2069.3" r="3.5"/><circle cx="1531.5" cy="2077.3" r="3.5"/><circle cx="1420.5" cy="2071.6" r="3.5"/><circle cx="1476" cy="2071" r="3.5"/><circle cx="1451.6" cy="2070.1" r="3.5"/><circle cx="1467.3" cy="1993.3" r="3.5"/><circle cx="1485.1" cy="2008.1" r="3.5"/><circle cx="1423.8" cy="2026" r="3.5"/><circle cx="1456.6" cy="2076.2" r="3.5"/><circle cx="1497.4" cy="2037.3" r="3.5"/><circle cx="1430.9" cy="2062.6" r="3.5"/><circle cx="1415.2" cy="2085.1" r="3.5"/><circle cx="1465.9" cy="2011.9" r="3.5"/><circle cx="1524" cy="2063.9" r="3.5"/><circle cx="1444.7" cy="2076.5" r="3.5"/><circle cx="1484.2" cy="1998.3" r="3.5"/><circle cx="1437" cy="1994.1" r="3.5"/><circle cx="1469.3" cy="1996.9" r="3.5"/><circle cx="1446" cy="2086.4" r="3.5"/><circle cx="1423.5" cy="1996.8" r="3.5"/><circle cx="1381.7" cy="2018.1" r="3.5"/><circle cx="1433.5" cy="2069" r="3.5"/><circle cx="1470.8" cy="2042.4" r="3.5"/><circle cx="1470.9" cy="2084.6" r="3.5"/><circle cx="1470.3" cy="2046.6" r="3.5"/><circle cx="1434.8" cy="2039" r="3.5"/><circle cx="1411.4" cy="2063.1" r="3.5"/><circle cx="1470.6" cy="2044.5" r="3.5"/><circle cx="1492.1" cy="1998.9" r="3.5"/><circle cx="1381.2" cy="2064.6" r="3.5"/><circle cx="1408.5" cy="2076.5" r="3.5"/><circle cx="1466.2" cy="2069.8" r="3.5"/><circle cx="1429.4" cy="2064.6" r="3.5"/><circle cx="1504.5" cy="2053.1" r="3.5"/><circle cx="1377.1" cy="2053.8" r="3.5"/><circle cx="1370.4" cy="2083.8" r="3.5"/><circle cx="1405.4" cy="2073.2" r="3.5"/><circle cx="1451" cy="2080" r="3.5"/><circle cx="1480.7" cy="2032.2" r="3.5"/><circle cx="1409.3" cy="2040.2" r="3.5"/><circle cx="1366.7" cy="2061.7" r="3.5"/><circle cx="1415.5" cy="1999.5" r="3.5"/><circle cx="1456.6" cy="2031.4" r="3.5"/><circle cx="1422.1" cy="1996.6" r="3.5"/><circle cx="1488" cy="2018.5" r="3.5"/><circle cx="1456" cy="2007.8" r="3.5"/><circle cx="1468.8" cy="2078" r="3.5"/><circle cx="1451.4" cy="2065.5" r="3.5"/><circle cx="1493.5" cy="2090.5" r="3.5"/><circle cx="1434.3" cy="2063.4" r="3.5"/><circle cx="1451.9" cy="2052.5" r="3.5"/><circle cx="1440.4" cy="2053.9" r="3.5"/><circle cx="1357.1" cy="2061.4" r="3.5"/><circle cx="1424.9" cy="2082" r="3.5"/><circle cx="1465.3" cy="2069.5" r="3.5"/><circle cx="1455.5" cy="2077.5" r="3.5"/><circle cx="1496.9" cy="2060.4" r="3.5"/><circle cx="1387.7" cy="2074" r="3.5"/><circle cx="1418.1" cy="2074.8" r="3.5"/><circle cx="1476.8" cy="2073" r="3.5"/><circle cx="1495.4" cy="2070.7" r="3.5"/><circle cx="1438.7" cy="2075.2" r="3.5"/><circle cx="1489.6" cy="2070.7" r="3.5"/><circle cx="1502.5" cy="2060.1" r="3.5"/><circle cx="1462.5" cy="2067.1" r="3.5"/><circle cx="1488.3" cy="2046.2" r="3.5"/><circle cx="1435" cy="2059.1" r="3.5"/><circle cx="1425.3" cy="1974.8" r="3.5"/><circle cx="1464.8" cy="2013.8" r="3.5"/><circle cx="1373.7" cy="2031.2" r="3.5"/><circle cx="1497.1" cy="2011.4" r="3.5"/><circle cx="1469.5" cy="2032.9" r="3.5"/><circle cx="1489.5" cy="2060" r="3.5"/><circle cx="1407.2" cy="2061.9" r="3.5"/><circle cx="1414.5" cy="2047.4" r="3.5"/><circle cx="1461.5" cy="1947.4" r="3.5"/><circle cx="1409.3" cy="2031" r="3.5"/><circle cx="1379" cy="1991.7" r="3.5"/><circle cx="1360.8" cy="2052" r="3.5"/><circle cx="1341.7" cy="1975.4" r="3.5"/><circle cx="1412.9" cy="1985.2" r="3.5"/><circle cx="1365.3" cy="2018.3" r="3.5"/><circle cx="1405" cy="1983.3" r="3.5"/><circle cx="1315.1" cy="2038.6" r="3.5"/><circle cx="1382.7" cy="2006.4" r="3.5"/><circle cx="1380.4" cy="2006.4" r="3.5"/><circle cx="1416.3" cy="1953.1" r="3.5"/><circle cx="1421.1" cy="2007.9" r="3.5"/><circle cx="1439.5" cy="1965" r="3.5"/><circle cx="1417.2" cy="1917.5" r="3.5"/><circle cx="1429.4" cy="1919.9" r="3.5"/><circle cx="1436.2" cy="1948.9" r="3.5"/><circle cx="1398.4" cy="2051.5" r="3.5"/><circle cx="1481.5" cy="2047.4" r="3.5"/><circle cx="1345.5" cy="1974.7" r="3.5"/><circle cx="1364.5" cy="1971.9" r="3.5"/><circle cx="1336.5" cy="1994.8" r="3.5"/><circle cx="1425.1" cy="1976.6" r="3.5"/><circle cx="1452.9" cy="2051.9" r="3.5"/><circle cx="1393.4" cy="2048.3" r="3.5"/><circle cx="1388" cy="1961.5" r="3.5"/><circle cx="1415.9" cy="1999.8" r="3.5"/><circle cx="1426.1" cy="1930.6" r="3.5"/><circle cx="1403.8" cy="1970.9" r="3.5"/><circle cx="1480.7" cy="2049.8" r="3.5"/><circle cx="1395.8" cy="1975.5" r="3.5"/><circle cx="1419.8" cy="1936.3" r="3.5"/><circle cx="1408.8" cy="1934.8" r="3.5"/><circle cx="1370.9" cy="2032.2" r="3.5"/><circle cx="1458.5" cy="1949.6" r="3.5"/><circle cx="1408.6" cy="2004.9" r="3.5"/><circle cx="1417.4" cy="1969.6" r="3.5"/><circle cx="1361.7" cy="1990.3" r="3.5"/><circle cx="1379" cy="1908.2" r="3.5"/><circle cx="1391.6" cy="2009.8" r="3.5"/><circle cx="1373.7" cy="1939.6" r="3.5"/><circle cx="1399.5" cy="1944.7" r="3.5"/><circle cx="1347.6" cy="2003.2" r="3.5"/><circle cx="1404.7" cy="2029.5" r="3.5"/><circle cx="1359.3" cy="2033.3" r="3.5"/><circle cx="1454.2" cy="2018.4" r="3.5"/><circle cx="1350.3" cy="1948.5" r="3.5"/><circle cx="1398.8" cy="2029.7" r="3.5"/><circle cx="1435.8" cy="1976.3" r="3.5"/><circle cx="1382.9" cy="2022.4" r="3.5"/><circle cx="1363.3" cy="1900.7" r="3.5"/><circle cx="1449.3" cy="2033.3" r="3.5"/><circle cx="1501.8" cy="2010.7" r="3.5"/><circle cx="1497" cy="2032.4" r="3.5"/><circle cx="1332.9" cy="2022.3" r="3.5"/><circle cx="1483.9" cy="1976.4" r="3.5"/><circle cx="1424.4" cy="1985.5" r="3.5"/><circle cx="1388.6" cy="2008.1" r="3.5"/><circle cx="1354.2" cy="2054.1" r="3.5"/><circle cx="1345" cy="1968.5" r="3.5"/><circle cx="1385.2" cy="1953.9" r="3.5"/><circle cx="1365.5" cy="1996.6" r="3.5"/><circle cx="1360.8" cy="2006.5" r="3.5"/><circle cx="1355.7" cy="1989.2" r="3.5"/><circle cx="1376.1" cy="2011.2" r="3.5"/><circle cx="1453.4" cy="2057.1" r="3.5"/><circle cx="1371.6" cy="2038.9" r="3.5"/><circle cx="1389.6" cy="2055" r="3.5"/><circle cx="1412.5" cy="2033.7" r="3.5"/><circle cx="1354.1" cy="2050.5" r="3.5"/><circle cx="1371.4" cy="1927.9" r="3.5"/><circle cx="1437.9" cy="2015.5" r="3.5"/><circle cx="1401.6" cy="2003.3" r="3.5"/><circle cx="1502" cy="2034.1" r="3.5"/><circle cx="1414.3" cy="2030.7" r="3.5"/><circle cx="1425.8" cy="1981.8" r="3.5"/><circle cx="1399.2" cy="2000.6" r="3.5"/><circle cx="1422.5" cy="2016.2" r="3.5"/><circle cx="1384.7" cy="1910.3" r="3.5"/><circle cx="1378.4" cy="1978.4" r="3.5"/><circle cx="1436.9" cy="2016.8" r="3.5"/><circle cx="1413.7" cy="1955.8" r="3.5"/><circle cx="1431" cy="1976.6" r="3.5"/><circle cx="1464" cy="1966.8" r="3.5"/><circle cx="1437.5" cy="2028.5" r="3.5"/><circle cx="1372.8" cy="1935.7" r="3.5"/><circle cx="1350.2" cy="1920.1" r="3.5"/><circle cx="1460.6" cy="1977.5" r="3.5"/><circle cx="1406.9" cy="1938.7" r="3.5"/><circle cx="1493.7" cy="2054.6" r="3.5"/><circle cx="1410.7" cy="1985.6" r="3.5"/><circle cx="1393.9" cy="2050.2" r="3.5"/><circle cx="1379.9" cy="1916.2" r="3.5"/><circle cx="1410.2" cy="1908.5" r="3.5"/><circle cx="1449.1" cy="2050.2" r="3.5"/><circle cx="1360.7" cy="1949.9" r="3.5"/><circle cx="1474.8" cy="1990.8" r="3.5"/><circle cx="1434.9" cy="2008.6" r="3.5"/><circle cx="1399.3" cy="1948.5" r="3.5"/><circle cx="1448" cy="2047.4" r="3.5"/><circle cx="1399.7" cy="1941.5" r="3.5"/><circle cx="1417.2" cy="2042.9" r="3.5"/><circle cx="1429.9" cy="1969.9" r="3.5"/><circle cx="1376.8" cy="1896.7" r="3.5"/><circle cx="1414" cy="2021.5" r="3.5"/><circle cx="1415.9" cy="2058.7" r="3.5"/><circle cx="1345.2" cy="1970.2" r="3.5"/><circle cx="1392.2" cy="1992.2" r="3.5"/><circle cx="1402.2" cy="2058.9" r="3.5"/><circle cx="1487.7" cy="2051.3" r="3.5"/><circle cx="1351.7" cy="2015.9" r="3.5"/><circle cx="1372.6" cy="1937.8" r="3.5"/><circle cx="1310.6" cy="2053.9" r="3.5"/><circle cx="1379.2" cy="1918.9" r="3.5"/><circle cx="1359.9" cy="1899.7" r="3.5"/><circle cx="1308.9" cy="2033.7" r="3.5"/><circle cx="1475.7" cy="2031.3" r="3.5"/><circle cx="1323.2" cy="1921.4" r="3.5"/><circle cx="1375.3" cy="1912.9" r="3.5"/><circle cx="1384.7" cy="1942.4" r="3.5"/><circle cx="1460.3" cy="2046.8" r="3.5"/><circle cx="1339.6" cy="2014.8" r="3.5"/><circle cx="1495.4" cy="2027.9" r="3.5"/><circle cx="1436.8" cy="2009.7" r="3.5"/><circle cx="1486.5" cy="1980.9" r="3.5"/><circle cx="1384.1" cy="2034.2" r="3.5"/><circle cx="1387.3" cy="1986.1" r="3.5"/><circle cx="1414" cy="2023.6" r="3.5"/><circle cx="1440.4" cy="1986.2" r="3.5"/><circle cx="1370.5" cy="1980.8" r="3.5"/><circle cx="1311.1" cy="2048.6" r="3.5"/><circle cx="1361.8" cy="2004.8" r="3.5"/><circle cx="1443.5" cy="2027.1" r="3.5"/><circle cx="1420.9" cy="2055.6" r="3.5"/><circle cx="1375.9" cy="2006" r="3.5"/><circle cx="1380.9" cy="2058.1" r="3.5"/><circle cx="1415.2" cy="1938.8" r="3.5"/><circle cx="1468.8" cy="1967" r="3.5"/><circle cx="1379.6" cy="2048.4" r="3.5"/><circle cx="1425" cy="2012.9" r="3.5"/><circle cx="1453.7" cy="2052.1" r="3.5"/><circle cx="1401.9" cy="2008.1" r="3.5"/><circle cx="1433.4" cy="1942.7" r="3.5"/><circle cx="1345.2" cy="1951.4" r="3.5"/><circle cx="1406.5" cy="1968.1" r="3.5"/><circle cx="1381.1" cy="1932.9" r="3.5"/><circle cx="1362.7" cy="2021" r="3.5"/><circle cx="1459.3" cy="1977.7" r="3.5"/><circle cx="1428.7" cy="1913.2" r="3.5"/><circle cx="1439.1" cy="2006.8" r="3.5"/><circle cx="1373.1" cy="1991.4" r="3.5"/><circle cx="1469.7" cy="2032" r="3.5"/><circle cx="1449.1" cy="2022.2" r="3.5"/><circle cx="1419.5" cy="2023.5" r="3.5"/><circle cx="1424" cy="1954.5" r="3.5"/><circle cx="1369.3" cy="2015.5" r="3.5"/><circle cx="1374.9" cy="2037.6" r="3.5"/><circle cx="1380.2" cy="1937.5" r="3.5"/><circle cx="1398.5" cy="2030.7" r="3.5"/><circle cx="1405.1" cy="1936.9" r="3.5"/><circle cx="1448.3" cy="2000.5" r="3.5"/><circle cx="1413.4" cy="1951.8" r="3.5"/><circle cx="1372.1" cy="2052.6" r="3.5"/><circle cx="1372" cy="1918.2" r="3.5"/><circle cx="1343.9" cy="1910.4" r="3.5"/><circle cx="1396.7" cy="2041.8" r="3.5"/><circle cx="1438.5" cy="1943.6" r="3.5"/><circle cx="1409.1" cy="2013.4" r="3.5"/><circle cx="1465.1" cy="1983.5" r="3.5"/></g>
<path d="M1273.9 1910.3 L1281.9 1917.5 L1290 1924.5 L1298 1931.2 L1306 1937.6 L1314.1 1943.9 L1322.1 1949.9 L1330.2 1955.8 L1338.2 1961.4 L1346.2 1966.8 L1354.3 1972.1 L1362.3 1977.1 L1370.4 1982 L1378.4 1986.8 L1386.5 1991.3 L1394.5 1995.7 L1402.5 2000 L1410.6 2004.1 L1418.6 2008 L1426.7 2011.8 L1434.7 2015.5 L1442.7 2019.1 L1450.8 2022.5 L1458.8 2025.9 L1466.9 2029.1 L1474.9 2032.2 L1483 2035.2 L1491 2038 L1499 2040.8 L1507.1 2043.5 L1515.1 2046.1 L1523.2 2048.6 L1531.2 2051 L1539.3 2053.4 L1547.3 2055.6 L1555.3 2057.8 L1563.4 2059.9 L1571.4 2061.9 L1579.5 2063.9 L1587.5 2065.8" fill="none" stroke="#000" stroke-width="2.4"/>
<text x="1131" y="2130.2" font-size="31" text-anchor="end" font-weight="normal" fill="#000">0</text>
<text x="1131" y="2042.2" font-size="31" text-anchor="end" font-weight="normal" fill="#000">2</text>
<text x="1131" y="1954.2" font-size="31" text-anchor="end" font-weight="normal" fill="#000">4</text>
<text x="1131" y="1866.3" font-size="31" text-anchor="end" font-weight="normal" fill="#000">6</text>
<text x="1131" y="1778.3" font-size="31" text-anchor="end" font-weight="normal" fill="#000">8</text>
<text x="1131" y="1690.3" font-size="31" text-anchor="end" font-weight="normal" fill="#000">10</text>
<text x="1162" y="2179" font-size="31" text-anchor="middle" font-weight="normal" fill="#000">3</text>
<text x="1230.6" y="2179" font-size="31" text-anchor="middle" font-weight="normal" fill="#000">4</text>
<text x="1299.3" y="2179" font-size="31" text-anchor="middle" font-weight="normal" fill="#000">5</text>
<text x="1367.9" y="2179" font-size="31" text-anchor="middle" font-weight="normal" fill="#000">6</text>
<text x="1436.5" y="2179" font-size="31" text-anchor="middle" font-weight="normal" fill="#000">7</text>
<text x="1505.2" y="2179" font-size="31" text-anchor="middle" font-weight="normal" fill="#000">8</text>
<text x="1573.8" y="2179" font-size="31" text-anchor="middle" font-weight="normal" fill="#000">9</text>
<text x="1642.4" y="2179" font-size="31" text-anchor="middle" font-weight="normal" fill="#000">10</text>
<text x="1384" y="1664.5" font-size="31" text-anchor="middle" font-weight="normal" fill="#000" textLength="273" lengthAdjust="spacingAndGlyphs">Caribbean sea-only</text>
<text x="1403.5" y="2218.5" font-size="31" text-anchor="middle" font-weight="normal" fill="#000" textLength="234" lengthAdjust="spacingAndGlyphs">wind speed (m/s)</text>
<text x="1096" y="2024" font-size="31" text-anchor="start" font-weight="normal" fill="#000" textLength="241" lengthAdjust="spacingAndGlyphs" transform="rotate(-90 1096 2024)">rainfall (mm/day)</text>
<text x="1503" y="1734.5" font-size="31">r<tspan dy="-13" font-size="19">2</tspan><tspan dy="13"> = 0.17</tspan></text>
<text x="1668.5" y="2218.5" font-size="44" text-anchor="start" font-weight="bold" fill="#000" textLength="31" lengthAdjust="spacingAndGlyphs" stroke="#000" stroke-width="2.4" stroke-linejoin="round">D</text>
<rect x="1162" y="2281" width="485.70000000000005" height="442.4000000000001" fill="#fff" stroke="#888" stroke-width="2.2"/>
<g fill="#e2e6dc" fill-opacity="0.55" stroke="#1a8c1a" stroke-width="2.1"><circle cx="1344.6" cy="2325.5" r="3.5"/><circle cx="1334.7" cy="2333" r="3.5"/><circle cx="1325.9" cy="2340.4" r="3.5"/><circle cx="1347.1" cy="2344.8" r="3.5"/><circle cx="1376.6" cy="2330.8" r="3.5"/><circle cx="1379.6" cy="2377.1" r="3.5"/><circle cx="1377.1" cy="2382.6" r="3.5"/><circle cx="1349.9" cy="2382.6" r="3.5"/><circle cx="1331.7" cy="2391.4" r="3.5"/><circle cx="1375.2" cy="2395" r="3.5"/><circle cx="1371.6" cy="2399.1" r="3.5"/><circle cx="1351.2" cy="2400.5" r="3.5"/><circle cx="1355.4" cy="2404.1" r="3.5"/><circle cx="1302.2" cy="2408.2" r="3.5"/><circle cx="1370.5" cy="2411.5" r="3.5"/><circle cx="1369.2" cy="2418.4" r="3.5"/><circle cx="1282.9" cy="2420.6" r="3.5"/><circle cx="1293.9" cy="2423.9" r="3.5"/><circle cx="1302.2" cy="2426.7" r="3.5"/><circle cx="1312.1" cy="2423.9" r="3.5"/><circle cx="1340.2" cy="2420.6" r="3.5"/><circle cx="1345.7" cy="2430.8" r="3.5"/><circle cx="1370.5" cy="2432.2" r="3.5"/><circle cx="1343" cy="2440.4" r="3.5"/><circle cx="1349" cy="2447.3" r="3.5"/><circle cx="1356.8" cy="2451.5" r="3.5"/><circle cx="1327" cy="2453.4" r="3.5"/><circle cx="1341.6" cy="2452.3" r="3.5"/><circle cx="1367.8" cy="2458.4" r="3.5"/><circle cx="1374.7" cy="2457.8" r="3.5"/><circle cx="1381" cy="2452.8" r="3.5"/><circle cx="1433.1" cy="2469.4" r="3.5"/><circle cx="1432.5" cy="2490" r="3.5"/><circle cx="1443.8" cy="2508.8" r="3.5"/><circle cx="1453.8" cy="2536.1" r="3.5"/><circle cx="1491.5" cy="2541" r="3.5"/><circle cx="1452.4" cy="2559.5" r="3.5"/><circle cx="1462.3" cy="2570" r="3.5"/><circle cx="1440.8" cy="2571.9" r="3.5"/><circle cx="1263.1" cy="2489.2" r="3.5"/><circle cx="1267.2" cy="2488.1" r="3.5"/><circle cx="1277.1" cy="2548.2" r="3.5"/><circle cx="1291.2" cy="2582.4" r="3.5"/><circle cx="1297.5" cy="2596.1" r="3.5"/><circle cx="1302.2" cy="2606.6" r="3.5"/><circle cx="1292.6" cy="2609.1" r="3.5"/><circle cx="1324.8" cy="2628.7" r="3.5"/><circle cx="1337.5" cy="2611.3" r="3.5"/><circle cx="1502.8" cy="2620.4" r="3.5"/><circle cx="1505.6" cy="2626.4" r="3.5"/><circle cx="1522.6" cy="2651.2" r="3.5"/><circle cx="1568.4" cy="2671.1" r="3.5"/><circle cx="1495.9" cy="2648.5" r="3.5"/><circle cx="1450.7" cy="2706.4" r="3.5"/><circle cx="1410.2" cy="2585.4" r="3.5"/><circle cx="1385.8" cy="2619.8" r="3.5"/><circle cx="1392.8" cy="2660.5" r="3.5"/><circle cx="1366" cy="2639.4" r="3.5"/><circle cx="1368.3" cy="2593.1" r="3.5"/><circle cx="1434.8" cy="2552.7" r="3.5"/><circle cx="1307.9" cy="2535.2" r="3.5"/><circle cx="1344.3" cy="2487.5" r="3.5"/><circle cx="1439.2" cy="2657.1" r="3.5"/><circle cx="1504.3" cy="2681.6" r="3.5"/><circle cx="1428.6" cy="2586" r="3.5"/><circle cx="1406.8" cy="2597" r="3.5"/><circle cx="1397.4" cy="2652.8" r="3.5"/><circle cx="1361.5" cy="2557.9" r="3.5"/><circle cx="1371.1" cy="2545" r="3.5"/><circle cx="1446.4" cy="2651.3" r="3.5"/><circle cx="1446.7" cy="2652.6" r="3.5"/><circle cx="1373.8" cy="2535.1" r="3.5"/><circle cx="1461.1" cy="2650.4" r="3.5"/><circle cx="1361.2" cy="2504.7" r="3.5"/><circle cx="1356.8" cy="2608.2" r="3.5"/><circle cx="1376.1" cy="2537.3" r="3.5"/><circle cx="1372.2" cy="2595" r="3.5"/><circle cx="1387.7" cy="2579.4" r="3.5"/><circle cx="1428.4" cy="2617.8" r="3.5"/><circle cx="1369" cy="2650.8" r="3.5"/><circle cx="1364.7" cy="2592.2" r="3.5"/><circle cx="1375.7" cy="2612.4" r="3.5"/><circle cx="1376.5" cy="2574.7" r="3.5"/><circle cx="1342.9" cy="2575.8" r="3.5"/><circle cx="1427.7" cy="2662.3" r="3.5"/><circle cx="1427" cy="2581" r="3.5"/><circle cx="1375.8" cy="2543.1" r="3.5"/><circle cx="1322.1" cy="2516.3" r="3.5"/><circle cx="1350.8" cy="2541.3" r="3.5"/><circle cx="1382.7" cy="2556.8" r="3.5"/><circle cx="1361.8" cy="2576.1" r="3.5"/><circle cx="1453.6" cy="2552.4" r="3.5"/><circle cx="1420.1" cy="2617.7" r="3.5"/><circle cx="1338.8" cy="2479.2" r="3.5"/><circle cx="1425.1" cy="2513" r="3.5"/><circle cx="1423.5" cy="2502.2" r="3.5"/><circle cx="1326" cy="2550.3" r="3.5"/><circle cx="1388.8" cy="2513.6" r="3.5"/><circle cx="1386.2" cy="2619.7" r="3.5"/><circle cx="1429.5" cy="2598.6" r="3.5"/><circle cx="1312.6" cy="2460.2" r="3.5"/><circle cx="1403" cy="2559.2" r="3.5"/><circle cx="1365.3" cy="2605.6" r="3.5"/><circle cx="1472.9" cy="2665.3" r="3.5"/><circle cx="1498.5" cy="2680.7" r="3.5"/><circle cx="1479.4" cy="2677" r="3.5"/><circle cx="1457.9" cy="2633.3" r="3.5"/><circle cx="1384.2" cy="2573.7" r="3.5"/><circle cx="1375.5" cy="2637" r="3.5"/><circle cx="1411.4" cy="2601.1" r="3.5"/><circle cx="1479.2" cy="2592.9" r="3.5"/><circle cx="1389" cy="2576.7" r="3.5"/><circle cx="1381.1" cy="2586.1" r="3.5"/><circle cx="1405.2" cy="2611" r="3.5"/><circle cx="1368.9" cy="2551.3" r="3.5"/><circle cx="1328.5" cy="2514.7" r="3.5"/><circle cx="1400.6" cy="2660.6" r="3.5"/><circle cx="1410.3" cy="2595.8" r="3.5"/><circle cx="1409.1" cy="2657.3" r="3.5"/><circle cx="1344.5" cy="2525.8" r="3.5"/><circle cx="1307.4" cy="2526.7" r="3.5"/><circle cx="1365.4" cy="2586.8" r="3.5"/><circle cx="1364.7" cy="2600.8" r="3.5"/><circle cx="1402.1" cy="2678.3" r="3.5"/><circle cx="1409.5" cy="2623.7" r="3.5"/><circle cx="1326.8" cy="2483.9" r="3.5"/><circle cx="1333.7" cy="2541" r="3.5"/><circle cx="1388.5" cy="2597.5" r="3.5"/><circle cx="1428.1" cy="2567" r="3.5"/><circle cx="1317.1" cy="2502.5" r="3.5"/><circle cx="1374.9" cy="2518.2" r="3.5"/><circle cx="1464.2" cy="2614.5" r="3.5"/><circle cx="1374.5" cy="2559.5" r="3.5"/><circle cx="1457" cy="2656.6" r="3.5"/><circle cx="1424.2" cy="2596.1" r="3.5"/><circle cx="1338.3" cy="2572.2" r="3.5"/><circle cx="1380.8" cy="2575.2" r="3.5"/><circle cx="1380.4" cy="2518.1" r="3.5"/><circle cx="1308.6" cy="2488.1" r="3.5"/><circle cx="1388.9" cy="2537.9" r="3.5"/><circle cx="1390.3" cy="2499.5" r="3.5"/><circle cx="1373.7" cy="2637" r="3.5"/><circle cx="1371.6" cy="2624.5" r="3.5"/><circle cx="1423.4" cy="2556.4" r="3.5"/><circle cx="1432.1" cy="2604.8" r="3.5"/><circle cx="1426.6" cy="2642.6" r="3.5"/><circle cx="1424.3" cy="2668.3" r="3.5"/><circle cx="1460.2" cy="2610.9" r="3.5"/><circle cx="1318.9" cy="2489.9" r="3.5"/><circle cx="1321" cy="2556.1" r="3.5"/><circle cx="1439.6" cy="2587.6" r="3.5"/><circle cx="1443.4" cy="2627.5" r="3.5"/><circle cx="1308.5" cy="2561.1" r="3.5"/><circle cx="1388.8" cy="2549.2" r="3.5"/><circle cx="1341.2" cy="2514.1" r="3.5"/><circle cx="1338.1" cy="2470.9" r="3.5"/><circle cx="1433.9" cy="2611.4" r="3.5"/><circle cx="1413.7" cy="2672.9" r="3.5"/><circle cx="1421.3" cy="2633.5" r="3.5"/><circle cx="1314.8" cy="2610.8" r="3.5"/><circle cx="1327.9" cy="2554.2" r="3.5"/><circle cx="1429" cy="2605.4" r="3.5"/><circle cx="1425.9" cy="2628.9" r="3.5"/><circle cx="1341.3" cy="2513.2" r="3.5"/><circle cx="1420.6" cy="2597.9" r="3.5"/><circle cx="1346.3" cy="2588.8" r="3.5"/><circle cx="1416.5" cy="2589.9" r="3.5"/><circle cx="1316.2" cy="2489" r="3.5"/><circle cx="1484.2" cy="2607.6" r="3.5"/><circle cx="1338.6" cy="2534.5" r="3.5"/><circle cx="1389.7" cy="2593.7" r="3.5"/><circle cx="1380.4" cy="2634.6" r="3.5"/><circle cx="1480" cy="2577.1" r="3.5"/><circle cx="1446.5" cy="2539.7" r="3.5"/><circle cx="1358.3" cy="2511.9" r="3.5"/><circle cx="1434.8" cy="2683.7" r="3.5"/><circle cx="1422.3" cy="2617.2" r="3.5"/><circle cx="1376.1" cy="2550.3" r="3.5"/><circle cx="1382.2" cy="2597.1" r="3.5"/><circle cx="1366.8" cy="2587" r="3.5"/><circle cx="1309.1" cy="2494.5" r="3.5"/><circle cx="1349.5" cy="2530.5" r="3.5"/><circle cx="1360.2" cy="2634.2" r="3.5"/><circle cx="1322.1" cy="2550.8" r="3.5"/><circle cx="1447.6" cy="2620.5" r="3.5"/><circle cx="1334.3" cy="2601.6" r="3.5"/><circle cx="1391.6" cy="2667.5" r="3.5"/><circle cx="1398.3" cy="2588.1" r="3.5"/><circle cx="1433.8" cy="2658" r="3.5"/><circle cx="1296.4" cy="2555.2" r="3.5"/><circle cx="1400.8" cy="2586.6" r="3.5"/><circle cx="1341" cy="2576.1" r="3.5"/><circle cx="1446.3" cy="2661.5" r="3.5"/><circle cx="1338.4" cy="2561.6" r="3.5"/><circle cx="1362.2" cy="2523.2" r="3.5"/><circle cx="1423.3" cy="2629.4" r="3.5"/><circle cx="1364.6" cy="2500.3" r="3.5"/><circle cx="1313.1" cy="2544.7" r="3.5"/><circle cx="1344.5" cy="2516" r="3.5"/><circle cx="1410.6" cy="2671.8" r="3.5"/><circle cx="1311.6" cy="2499.6" r="3.5"/><circle cx="1351.3" cy="2583.8" r="3.5"/><circle cx="1386.3" cy="2644.5" r="3.5"/><circle cx="1418.7" cy="2596.4" r="3.5"/><circle cx="1357.3" cy="2564.3" r="3.5"/><circle cx="1320.3" cy="2607.5" r="3.5"/><circle cx="1379.6" cy="2531.2" r="3.5"/><circle cx="1369.2" cy="2626.8" r="3.5"/><circle cx="1384.3" cy="2612.7" r="3.5"/><circle cx="1423.6" cy="2590.6" r="3.5"/><circle cx="1466.9" cy="2653.7" r="3.5"/><circle cx="1422.6" cy="2593.5" r="3.5"/><circle cx="1484.6" cy="2644.8" r="3.5"/><circle cx="1323.8" cy="2473.8" r="3.5"/><circle cx="1289" cy="2489.4" r="3.5"/><circle cx="1365.5" cy="2529.4" r="3.5"/><circle cx="1475.5" cy="2667.7" r="3.5"/><circle cx="1458.5" cy="2676.5" r="3.5"/><circle cx="1417.3" cy="2550.7" r="3.5"/><circle cx="1378.1" cy="2604.7" r="3.5"/><circle cx="1401.7" cy="2615.4" r="3.5"/><circle cx="1388.8" cy="2574" r="3.5"/><circle cx="1355.4" cy="2595.2" r="3.5"/><circle cx="1391.4" cy="2643.5" r="3.5"/><circle cx="1291.6" cy="2521.9" r="3.5"/><circle cx="1355.4" cy="2602.6" r="3.5"/><circle cx="1411.9" cy="2592.7" r="3.5"/><circle cx="1406.5" cy="2605.8" r="3.5"/><circle cx="1453.4" cy="2675.2" r="3.5"/><circle cx="1366" cy="2619.3" r="3.5"/><circle cx="1308.5" cy="2470.2" r="3.5"/><circle cx="1457.1" cy="2680.3" r="3.5"/><circle cx="1366.4" cy="2580.5" r="3.5"/><circle cx="1431.6" cy="2595.3" r="3.5"/><circle cx="1351" cy="2538.9" r="3.5"/><circle cx="1291.1" cy="2520.5" r="3.5"/><circle cx="1436.5" cy="2588.5" r="3.5"/><circle cx="1396.1" cy="2666.3" r="3.5"/><circle cx="1459.9" cy="2584.6" r="3.5"/><circle cx="1346.6" cy="2593.2" r="3.5"/><circle cx="1405.2" cy="2483.5" r="3.5"/><circle cx="1407.3" cy="2546.6" r="3.5"/><circle cx="1389.1" cy="2600.2" r="3.5"/><circle cx="1387.7" cy="2632.5" r="3.5"/><circle cx="1361.2" cy="2527.5" r="3.5"/><circle cx="1390.8" cy="2594.3" r="3.5"/><circle cx="1429.3" cy="2606.8" r="3.5"/><circle cx="1416.8" cy="2680.1" r="3.5"/><circle cx="1327.4" cy="2572.3" r="3.5"/><circle cx="1389.7" cy="2597" r="3.5"/><circle cx="1379.3" cy="2593.7" r="3.5"/><circle cx="1410.5" cy="2648.1" r="3.5"/><circle cx="1318.3" cy="2530.2" r="3.5"/><circle cx="1494.2" cy="2581.8" r="3.5"/><circle cx="1362.6" cy="2546.1" r="3.5"/><circle cx="1358.8" cy="2512.8" r="3.5"/><circle cx="1485.7" cy="2575.8" r="3.5"/><circle cx="1327.8" cy="2506.6" r="3.5"/><circle cx="1384.8" cy="2575.3" r="3.5"/><circle cx="1389.7" cy="2620.3" r="3.5"/><circle cx="1311.8" cy="2541.9" r="3.5"/><circle cx="1405.7" cy="2610.5" r="3.5"/><circle cx="1419.6" cy="2573.4" r="3.5"/><circle cx="1427.3" cy="2591.5" r="3.5"/><circle cx="1439.6" cy="2573.5" r="3.5"/><circle cx="1451.4" cy="2616.6" r="3.5"/><circle cx="1358.7" cy="2489.3" r="3.5"/><circle cx="1475.8" cy="2604.1" r="3.5"/><circle cx="1415" cy="2618.7" r="3.5"/><circle cx="1484.8" cy="2679.4" r="3.5"/><circle cx="1396.3" cy="2607.7" r="3.5"/><circle cx="1371.7" cy="2512.3" r="3.5"/><circle cx="1350.3" cy="2519.6" r="3.5"/><circle cx="1390.1" cy="2564.6" r="3.5"/><circle cx="1373.9" cy="2610.1" r="3.5"/><circle cx="1369.9" cy="2633.9" r="3.5"/><circle cx="1405.6" cy="2661.9" r="3.5"/><circle cx="1395.3" cy="2629.2" r="3.5"/><circle cx="1433.3" cy="2560.4" r="3.5"/><circle cx="1482.5" cy="2621.8" r="3.5"/><circle cx="1385.3" cy="2646.7" r="3.5"/><circle cx="1440.1" cy="2572" r="3.5"/><circle cx="1399.4" cy="2597.4" r="3.5"/><circle cx="1322.4" cy="2550.7" r="3.5"/><circle cx="1366.5" cy="2533" r="3.5"/><circle cx="1411.2" cy="2615.5" r="3.5"/><circle cx="1383.6" cy="2603.5" r="3.5"/><circle cx="1437.2" cy="2655.4" r="3.5"/><circle cx="1433.6" cy="2542.7" r="3.5"/><circle cx="1359.8" cy="2515.2" r="3.5"/><circle cx="1375.9" cy="2528.3" r="3.5"/><circle cx="1409.6" cy="2602.5" r="3.5"/><circle cx="1420.6" cy="2613.3" r="3.5"/><circle cx="1401.1" cy="2590" r="3.5"/><circle cx="1418.4" cy="2624.9" r="3.5"/><circle cx="1364.1" cy="2551.8" r="3.5"/><circle cx="1389.9" cy="2646.9" r="3.5"/><circle cx="1408.2" cy="2665.1" r="3.5"/><circle cx="1501.1" cy="2654.2" r="3.5"/><circle cx="1421.4" cy="2558" r="3.5"/><circle cx="1397.2" cy="2588.7" r="3.5"/><circle cx="1330.9" cy="2509.5" r="3.5"/><circle cx="1389.8" cy="2535.5" r="3.5"/><circle cx="1310.8" cy="2487.9" r="3.5"/><circle cx="1431" cy="2647.8" r="3.5"/><circle cx="1414.1" cy="2684.9" r="3.5"/><circle cx="1462.5" cy="2652.8" r="3.5"/><circle cx="1399.2" cy="2593.2" r="3.5"/><circle cx="1407.7" cy="2661.9" r="3.5"/><circle cx="1347.2" cy="2545.9" r="3.5"/><circle cx="1363.4" cy="2567.3" r="3.5"/><circle cx="1419.1" cy="2681.1" r="3.5"/><circle cx="1405" cy="2564.2" r="3.5"/><circle cx="1388.9" cy="2586.9" r="3.5"/><circle cx="1405.8" cy="2659" r="3.5"/><circle cx="1302" cy="2563.7" r="3.5"/><circle cx="1361.6" cy="2613.4" r="3.5"/><circle cx="1401.6" cy="2525.4" r="3.5"/><circle cx="1370.1" cy="2554.2" r="3.5"/><circle cx="1375.9" cy="2682.6" r="3.5"/><circle cx="1355.2" cy="2620.8" r="3.5"/><circle cx="1362.8" cy="2638.2" r="3.5"/><circle cx="1430.9" cy="2635" r="3.5"/><circle cx="1422.6" cy="2653.5" r="3.5"/><circle cx="1428.5" cy="2651.7" r="3.5"/><circle cx="1346.5" cy="2605.5" r="3.5"/><circle cx="1376.8" cy="2597.3" r="3.5"/><circle cx="1496.8" cy="2581.8" r="3.5"/><circle cx="1386.5" cy="2566.7" r="3.5"/><circle cx="1482.9" cy="2666.3" r="3.5"/><circle cx="1427.5" cy="2672" r="3.5"/><circle cx="1330.3" cy="2543.9" r="3.5"/><circle cx="1403.3" cy="2566.6" r="3.5"/><circle cx="1306.1" cy="2462.6" r="3.5"/><circle cx="1499.5" cy="2690.8" r="3.5"/><circle cx="1475.4" cy="2674.8" r="3.5"/><circle cx="1478.7" cy="2649.2" r="3.5"/><circle cx="1478.4" cy="2622.1" r="3.5"/><circle cx="1408.7" cy="2622.1" r="3.5"/><circle cx="1393.7" cy="2565.9" r="3.5"/><circle cx="1407.3" cy="2672.7" r="3.5"/><circle cx="1381.7" cy="2540.4" r="3.5"/><circle cx="1407.5" cy="2616.5" r="3.5"/><circle cx="1358" cy="2542.2" r="3.5"/><circle cx="1388.3" cy="2580.6" r="3.5"/><circle cx="1476.1" cy="2673.5" r="3.5"/><circle cx="1410.6" cy="2680.4" r="3.5"/><circle cx="1352.5" cy="2510.6" r="3.5"/><circle cx="1396.7" cy="2555.8" r="3.5"/><circle cx="1470.1" cy="2617.4" r="3.5"/><circle cx="1420.9" cy="2637.6" r="3.5"/><circle cx="1323.5" cy="2460.5" r="3.5"/><circle cx="1359.5" cy="2513.7" r="3.5"/><circle cx="1332" cy="2543.9" r="3.5"/><circle cx="1366.6" cy="2485.8" r="3.5"/><circle cx="1356.7" cy="2525.5" r="3.5"/><circle cx="1331.6" cy="2539.2" r="3.5"/><circle cx="1418.5" cy="2562.6" r="3.5"/><circle cx="1410.3" cy="2591.9" r="3.5"/><circle cx="1447.8" cy="2638.2" r="3.5"/><circle cx="1337.7" cy="2527" r="3.5"/><circle cx="1426.2" cy="2594.1" r="3.5"/><circle cx="1384.6" cy="2550.7" r="3.5"/><circle cx="1343.8" cy="2540" r="3.5"/><circle cx="1376" cy="2528.7" r="3.5"/><circle cx="1417.2" cy="2617.9" r="3.5"/><circle cx="1336.1" cy="2534.2" r="3.5"/><circle cx="1315.8" cy="2521.2" r="3.5"/><circle cx="1353.7" cy="2598.6" r="3.5"/><circle cx="1447.1" cy="2596.8" r="3.5"/><circle cx="1362.9" cy="2591.4" r="3.5"/><circle cx="1375.8" cy="2485.5" r="3.5"/><circle cx="1435.8" cy="2645.5" r="3.5"/><circle cx="1420.4" cy="2616.8" r="3.5"/><circle cx="1408.8" cy="2652.3" r="3.5"/><circle cx="1407.1" cy="2594.3" r="3.5"/><circle cx="1417" cy="2593.7" r="3.5"/><circle cx="1297.7" cy="2502.1" r="3.5"/><circle cx="1414.3" cy="2605.2" r="3.5"/><circle cx="1385.3" cy="2589.9" r="3.5"/><circle cx="1450.1" cy="2671.5" r="3.5"/><circle cx="1398.4" cy="2651.1" r="3.5"/><circle cx="1454.6" cy="2687.4" r="3.5"/><circle cx="1391.9" cy="2617" r="3.5"/><circle cx="1428.1" cy="2672.9" r="3.5"/><circle cx="1433.8" cy="2662.2" r="3.5"/><circle cx="1389" cy="2590.3" r="3.5"/><circle cx="1438.5" cy="2626.3" r="3.5"/><circle cx="1461.7" cy="2659.7" r="3.5"/><circle cx="1464.2" cy="2673.7" r="3.5"/><circle cx="1415.3" cy="2619.3" r="3.5"/><circle cx="1394.8" cy="2666.6" r="3.5"/><circle cx="1464.7" cy="2687.7" r="3.5"/><circle cx="1501.2" cy="2621.6" r="3.5"/><circle cx="1430.4" cy="2663.9" r="3.5"/><circle cx="1420.5" cy="2691.6" r="3.5"/><circle cx="1361.3" cy="2647.5" r="3.5"/><circle cx="1415.2" cy="2681.9" r="3.5"/><circle cx="1471.5" cy="2583.3" r="3.5"/><circle cx="1448.5" cy="2674.2" r="3.5"/><circle cx="1424.7" cy="2649.1" r="3.5"/><circle cx="1484.5" cy="2667.9" r="3.5"/><circle cx="1400.9" cy="2637.2" r="3.5"/><circle cx="1382.4" cy="2639.3" r="3.5"/><circle cx="1396.1" cy="2669.1" r="3.5"/><circle cx="1415.4" cy="2622.6" r="3.5"/><circle cx="1427" cy="2568.8" r="3.5"/><circle cx="1374.2" cy="2684.2" r="3.5"/><circle cx="1423.9" cy="2660" r="3.5"/><circle cx="1504.9" cy="2684.3" r="3.5"/><circle cx="1436.2" cy="2629.9" r="3.5"/><circle cx="1471.5" cy="2619.5" r="3.5"/><circle cx="1386.6" cy="2572.2" r="3.5"/><circle cx="1368.1" cy="2685" r="3.5"/><circle cx="1438.3" cy="2663.3" r="3.5"/><circle cx="1410.9" cy="2666" r="3.5"/><circle cx="1479.4" cy="2611.3" r="3.5"/><circle cx="1389.3" cy="2672.5" r="3.5"/><circle cx="1379.6" cy="2683.4" r="3.5"/><circle cx="1431.8" cy="2642" r="3.5"/><circle cx="1490.5" cy="2608.3" r="3.5"/><circle cx="1428.9" cy="2677.1" r="3.5"/><circle cx="1425.3" cy="2666" r="3.5"/><circle cx="1393.8" cy="2611.4" r="3.5"/><circle cx="1394.3" cy="2655.5" r="3.5"/><circle cx="1408.1" cy="2676.2" r="3.5"/><circle cx="1418.2" cy="2677.6" r="3.5"/><circle cx="1444.9" cy="2677.4" r="3.5"/><circle cx="1433.1" cy="2682.4" r="3.5"/><circle cx="1367.1" cy="2670.5" r="3.5"/><circle cx="1386.1" cy="2672.6" r="3.5"/><circle cx="1390.5" cy="2674.6" r="3.5"/><circle cx="1407.9" cy="2666.5" r="3.5"/><circle cx="1389.6" cy="2680.8" r="3.5"/><circle cx="1449.8" cy="2644.3" r="3.5"/><circle cx="1414.9" cy="2571.4" r="3.5"/><circle cx="1434.7" cy="2671.6" r="3.5"/><circle cx="1500.4" cy="2685" r="3.5"/><circle cx="1418.7" cy="2687.8" r="3.5"/><circle cx="1414.9" cy="2614.5" r="3.5"/><circle cx="1372.6" cy="2680.9" r="3.5"/><circle cx="1423.1" cy="2639.7" r="3.5"/><circle cx="1495" cy="2672" r="3.5"/><circle cx="1418.1" cy="2675.8" r="3.5"/><circle cx="1465.6" cy="2677.1" r="3.5"/><circle cx="1440.5" cy="2586.3" r="3.5"/><circle cx="1401.8" cy="2694.1" r="3.5"/><circle cx="1400.1" cy="2669.2" r="3.5"/><circle cx="1414" cy="2675.2" r="3.5"/><circle cx="1459.4" cy="2670" r="3.5"/><circle cx="1448.6" cy="2663.1" r="3.5"/><circle cx="1426.3" cy="2681.2" r="3.5"/><circle cx="1444.3" cy="2661.1" r="3.5"/><circle cx="1448.9" cy="2680.3" r="3.5"/><circle cx="1430.4" cy="2561.9" r="3.5"/><circle cx="1463.5" cy="2629.8" r="3.5"/><circle cx="1384.5" cy="2663.7" r="3.5"/><circle cx="1389" cy="2684.3" r="3.5"/><circle cx="1483" cy="2600.1" r="3.5"/><circle cx="1435.8" cy="2644.3" r="3.5"/><circle cx="1453.7" cy="2633.1" r="3.5"/><circle cx="1493" cy="2627" r="3.5"/><circle cx="1372.2" cy="2680.9" r="3.5"/><circle cx="1363.7" cy="2677.1" r="3.5"/><circle cx="1457.1" cy="2628.9" r="3.5"/><circle cx="1366.2" cy="2591.2" r="3.5"/><circle cx="1449" cy="2669.5" r="3.5"/><circle cx="1429.8" cy="2679.1" r="3.5"/><circle cx="1368.4" cy="2651.2" r="3.5"/><circle cx="1460.5" cy="2675.1" r="3.5"/><circle cx="1436.2" cy="2656" r="3.5"/><circle cx="1422.4" cy="2636.7" r="3.5"/><circle cx="1340.4" cy="2686.1" r="3.5"/><circle cx="1358.2" cy="2559.9" r="3.5"/><circle cx="1453" cy="2676.3" r="3.5"/><circle cx="1361.1" cy="2650.7" r="3.5"/><circle cx="1446.6" cy="2642.1" r="3.5"/><circle cx="1449.4" cy="2669.5" r="3.5"/><circle cx="1425.9" cy="2641" r="3.5"/><circle cx="1384.1" cy="2661.2" r="3.5"/><circle cx="1432.2" cy="2688.8" r="3.5"/><circle cx="1405.4" cy="2681.9" r="3.5"/><circle cx="1396.1" cy="2630.1" r="3.5"/><circle cx="1417.7" cy="2660.4" r="3.5"/><circle cx="1443.6" cy="2573.6" r="3.5"/><circle cx="1435.7" cy="2675.5" r="3.5"/><circle cx="1503.5" cy="2665" r="3.5"/><circle cx="1402.1" cy="2670.2" r="3.5"/><circle cx="1391.3" cy="2654.9" r="3.5"/><circle cx="1413.6" cy="2668.2" r="3.5"/><circle cx="1419.4" cy="2617.9" r="3.5"/><circle cx="1381.7" cy="2652.7" r="3.5"/><circle cx="1466.8" cy="2616.7" r="3.5"/><circle cx="1422.7" cy="2607" r="3.5"/><circle cx="1492.7" cy="2652.7" r="3.5"/><circle cx="1477.5" cy="2649" r="3.5"/><circle cx="1386.5" cy="2615.6" r="3.5"/><circle cx="1386.2" cy="2611.6" r="3.5"/><circle cx="1446.2" cy="2644.6" r="3.5"/><circle cx="1451" cy="2676.2" r="3.5"/><circle cx="1452" cy="2614.7" r="3.5"/><circle cx="1422.9" cy="2681.7" r="3.5"/><circle cx="1466.4" cy="2663.3" r="3.5"/><circle cx="1474.7" cy="2614.4" r="3.5"/><circle cx="1384.9" cy="2562.8" r="3.5"/><circle cx="1449.6" cy="2571.2" r="3.5"/><circle cx="1450.3" cy="2573.5" r="3.5"/><circle cx="1368.7" cy="2669.8" r="3.5"/><circle cx="1377.7" cy="2559.8" r="3.5"/><circle cx="1432.9" cy="2661.5" r="3.5"/><circle cx="1381.6" cy="2638.9" r="3.5"/><circle cx="1341.2" cy="2684.3" r="3.5"/><circle cx="1397.1" cy="2643.5" r="3.5"/><circle cx="1350.3" cy="2673.5" r="3.5"/><circle cx="1403.1" cy="2645.5" r="3.5"/><circle cx="1462.2" cy="2631.7" r="3.5"/><circle cx="1433.7" cy="2613.7" r="3.5"/><circle cx="1347.8" cy="2695.9" r="3.5"/><circle cx="1442.5" cy="2672.2" r="3.5"/><circle cx="1413.3" cy="2627.9" r="3.5"/><circle cx="1420.7" cy="2658.6" r="3.5"/><circle cx="1401.6" cy="2654.4" r="3.5"/><circle cx="1381.6" cy="2674.7" r="3.5"/><circle cx="1445.7" cy="2674.1" r="3.5"/><circle cx="1364.8" cy="2669" r="3.5"/><circle cx="1379.1" cy="2598.1" r="3.5"/><circle cx="1344.9" cy="2684.7" r="3.5"/><circle cx="1428.3" cy="2642.6" r="3.5"/><circle cx="1443.5" cy="2658.1" r="3.5"/><circle cx="1397" cy="2614.5" r="3.5"/><circle cx="1349.9" cy="2660.4" r="3.5"/><circle cx="1343" cy="2607.7" r="3.5"/><circle cx="1424" cy="2681.7" r="3.5"/><circle cx="1425.2" cy="2672.3" r="3.5"/></g>
<path d="M1264.5 2460.9 L1272.3 2470.6 L1280 2480.1 L1287.8 2489.2 L1295.6 2498.2 L1303.4 2506.9 L1311.2 2515.3 L1318.9 2523.6 L1326.7 2531.7 L1334.5 2539.5 L1342.3 2547.2 L1350.1 2554.7 L1357.8 2562.1 L1365.6 2569.3 L1373.4 2576.3 L1381.2 2583.2 L1389 2590 L1396.7 2596.6 L1404.5 2603.1 L1412.3 2609.5 L1420.1 2615.7 L1427.9 2621.9 L1435.6 2627.9 L1443.4 2633.8 L1451.2 2639.6 L1459 2645.4 L1466.7 2651 L1474.5 2656.5 L1482.3 2661.9 L1490.1 2667.3 L1497.9 2672.6 L1505.6 2677.8 L1513.4 2682.9 L1521.2 2687.9 L1529 2692.9 L1536.8 2697.7 L1544.5 2702.5 L1552.3 2707.3 L1560.1 2712 L1567.9 2716.6" fill="none" stroke="#000" stroke-width="2.4"/>
<text x="1134" y="2734.9" font-size="31" text-anchor="end" font-weight="normal" fill="#000">0</text>
<text x="1134" y="2646.4" font-size="31" text-anchor="end" font-weight="normal" fill="#000">2</text>
<text x="1134" y="2557.9" font-size="31" text-anchor="end" font-weight="normal" fill="#000">4</text>
<text x="1134" y="2469.5" font-size="31" text-anchor="end" font-weight="normal" fill="#000">6</text>
<text x="1134" y="2381" font-size="31" text-anchor="end" font-weight="normal" fill="#000">8</text>
<text x="1134" y="2292.5" font-size="31" text-anchor="end" font-weight="normal" fill="#000">10</text>
<text x="1162" y="2782" font-size="31" text-anchor="middle" font-weight="normal" fill="#000">1.0</text>
<text x="1243" y="2782" font-size="31" text-anchor="middle" font-weight="normal" fill="#000">1.5</text>
<text x="1323.9" y="2782" font-size="31" text-anchor="middle" font-weight="normal" fill="#000">2.0</text>
<text x="1404.8" y="2782" font-size="31" text-anchor="middle" font-weight="normal" fill="#000">2.5</text>
<text x="1485.8" y="2782" font-size="31" text-anchor="middle" font-weight="normal" fill="#000">3.0</text>
<text x="1566.8" y="2782" font-size="31" text-anchor="middle" font-weight="normal" fill="#000">3.5</text>
<text x="1647.7" y="2782" font-size="31" text-anchor="middle" font-weight="normal" fill="#000">4.0</text>
<text x="1395" y="2264" font-size="31" text-anchor="middle" font-weight="normal" fill="#000" textLength="280" lengthAdjust="spacingAndGlyphs">Caribbean land-only</text>
<text x="1405.5" y="2830" font-size="31" text-anchor="middle" font-weight="normal" fill="#000" textLength="235" lengthAdjust="spacingAndGlyphs">wind speed (m/s)</text>
<text x="1097.5" y="2627" font-size="31" text-anchor="start" font-weight="normal" fill="#000" textLength="241" lengthAdjust="spacingAndGlyphs" transform="rotate(-90 1097.5 2627)">rainfall (mm/day)</text>
<text x="1506" y="2342" font-size="31">r<tspan dy="-13" font-size="19">2</tspan><tspan dy="13"> = 0.32</tspan></text>
</g>
</svg></body></html>
